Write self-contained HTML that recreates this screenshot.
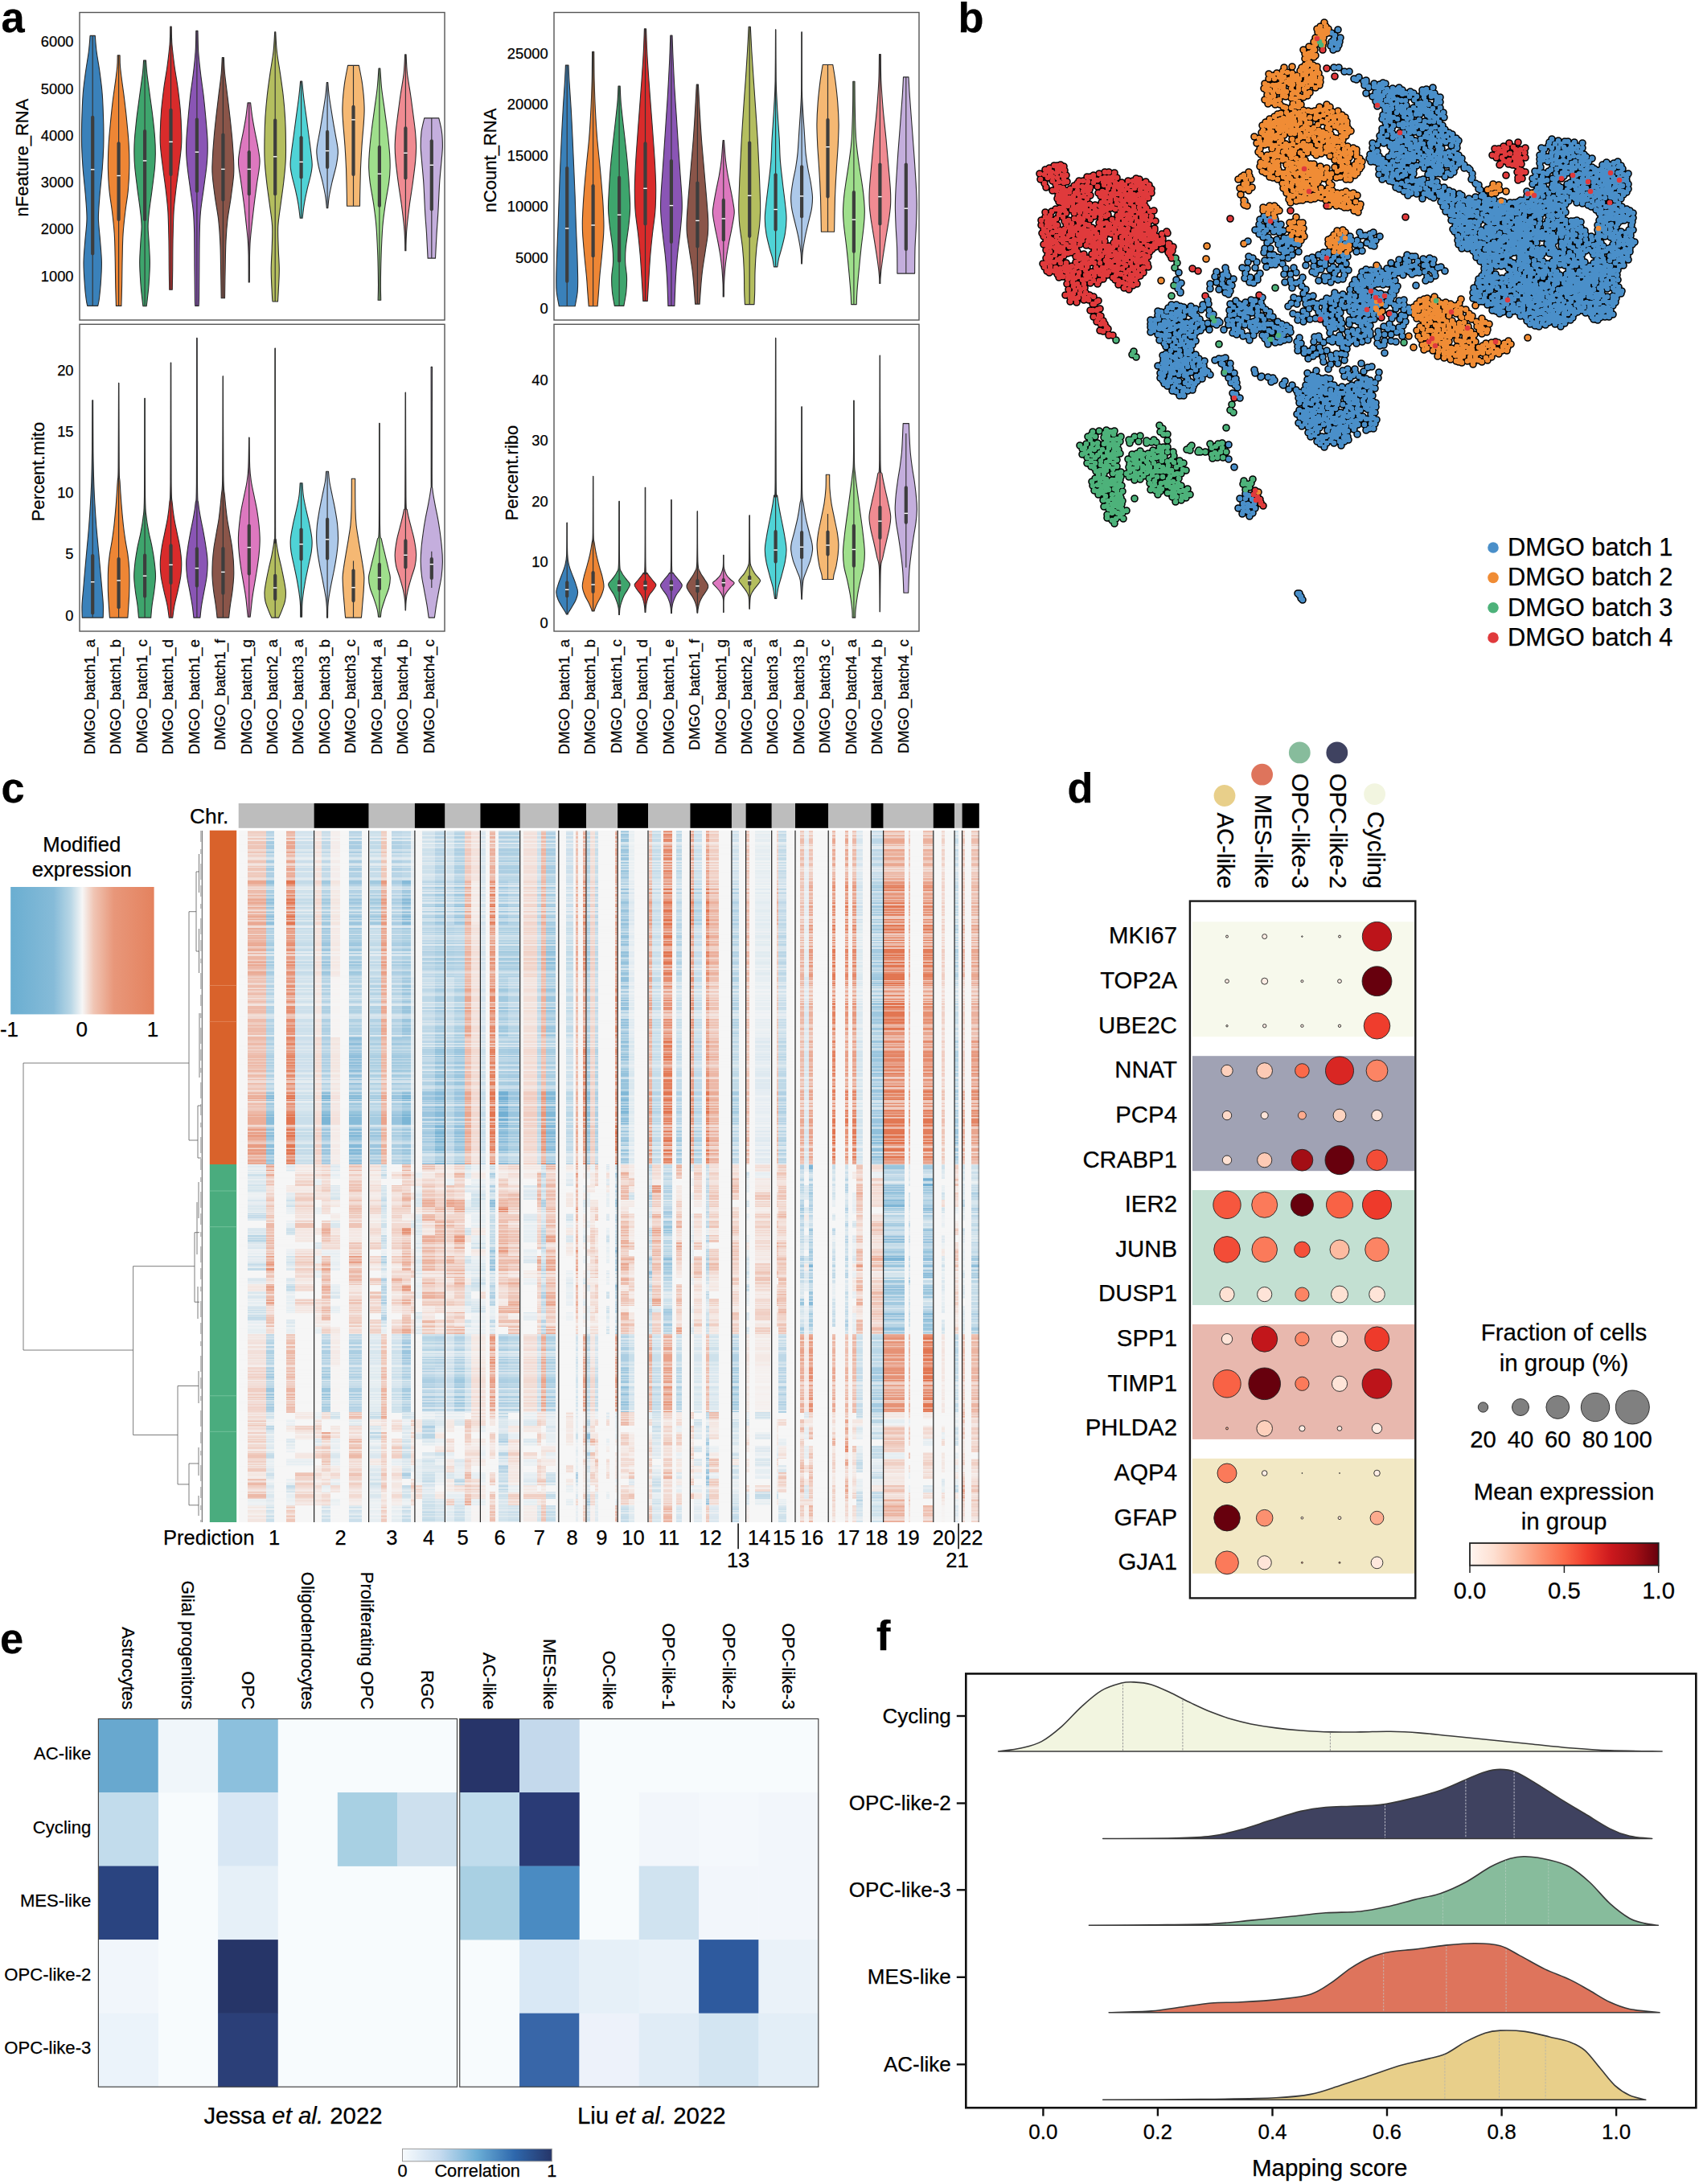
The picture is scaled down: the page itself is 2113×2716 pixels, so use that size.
<!DOCTYPE html>
<html><head><meta charset="utf-8"><title>Figure</title>
<style>
html,body{margin:0;padding:0;background:#fff;}
svg{display:block;font-family:"Liberation Sans",sans-serif;fill:#000;}
text{stroke:#000;stroke-width:.25px;}
</style></head><body>
<svg width="2113" height="2716" viewBox="0 0 2113 2716">
<rect width="2113" height="2716" fill="#fff"/>
<g id="panel_a"><rect x="99.0" y="15.5" width="454.0" height="382.5" fill="#fff" stroke="#555" stroke-width="1.4"/>
<path d="M112.1 44.4C111.8 47.7 111.3 56.4 110.3 64.3C109.3 72.1 107.4 82.3 106.2 91.4C105.0 100.4 103.8 108.0 103.1 118.5C102.3 129.1 101.9 144.1 101.6 154.7C101.4 165.2 101.4 172.8 101.6 181.8C101.9 190.9 102.3 198.4 103.1 209.0C103.9 219.5 105.7 234.6 106.5 245.1C107.3 255.7 108.1 263.2 108.0 272.3C107.9 281.3 106.5 290.3 105.8 299.4C105.1 308.4 104.1 317.5 104.0 326.5C103.9 335.6 104.8 346.1 105.3 353.6C105.8 361.2 106.5 367.3 107.1 371.7C107.6 376.2 108.4 379.0 108.7 380.4L121.7 380.4C122.0 379.0 122.8 376.2 123.4 371.7C123.9 367.3 124.6 361.2 125.2 353.6C125.7 346.1 126.5 335.6 126.4 326.5C126.3 317.5 125.3 308.4 124.6 299.4C124.0 290.3 122.6 281.3 122.4 272.3C122.3 263.2 123.1 255.7 123.9 245.1C124.7 234.6 126.5 219.5 127.3 209.0C128.1 198.4 128.5 190.9 128.8 181.8C129.0 172.8 129.0 165.2 128.8 154.7C128.5 144.1 128.1 129.1 127.3 118.5C126.6 108.0 125.5 100.4 124.3 91.4C123.1 82.3 121.1 72.1 120.1 64.3C119.1 56.4 118.6 47.7 118.3 44.4Z" fill="#3a81ba" stroke="#2a2a2a" stroke-width="1.1" stroke-linejoin="round"/><line x1="115.2" y1="44.4" x2="115.2" y2="380.4" stroke="#333" stroke-width="1.15"/><line x1="115.2" y1="145.8" x2="115.2" y2="315.5" stroke="#3d3d3d" stroke-width="4.2" stroke-linecap="round"/><rect x="112.9" y="210.1" width="4.6" height="1.4" fill="#fff"/>
<path d="M146.2 68.8C146.1 71.0 146.3 77.1 145.8 82.3C145.4 87.6 144.6 92.9 143.7 100.4C142.7 108.0 141.1 118.5 140.0 127.6C139.0 136.6 138.0 145.6 137.2 154.7C136.3 163.7 135.4 172.8 135.0 181.8C134.5 190.9 134.3 199.9 134.4 209.0C134.6 218.0 135.0 227.0 135.9 236.1C136.7 245.1 138.4 254.2 139.5 263.2C140.6 272.3 141.6 281.3 142.2 290.3C142.8 299.4 142.9 306.9 143.1 317.5C143.4 328.0 143.5 343.2 143.7 353.6C143.9 364.1 144.3 375.9 144.4 380.4L150.9 380.4C151.0 375.9 151.4 364.1 151.6 353.6C151.8 343.2 151.9 328.0 152.2 317.5C152.4 306.9 152.5 299.4 153.1 290.3C153.7 281.3 154.7 272.3 155.8 263.2C156.8 254.2 158.6 245.1 159.4 236.1C160.2 227.0 160.7 218.0 160.8 209.0C161.0 199.9 160.8 190.9 160.3 181.8C159.9 172.8 159.0 163.7 158.1 154.7C157.3 145.6 156.3 136.6 155.2 127.6C154.2 118.5 152.6 108.0 151.6 100.4C150.7 92.9 149.9 87.6 149.5 82.3C149.0 77.1 149.2 71.0 149.1 68.8Z" fill="#ee8635" stroke="#2a2a2a" stroke-width="1.1" stroke-linejoin="round"/><line x1="147.6" y1="68.8" x2="147.6" y2="380.4" stroke="#333" stroke-width="1.15"/><line x1="147.6" y1="178.4" x2="147.6" y2="273.0" stroke="#3d3d3d" stroke-width="4.2" stroke-linecap="round"/><rect x="145.3" y="217.8" width="4.6" height="1.4" fill="#fff"/>
<path d="M178.6 75.1C178.4 77.8 178.2 84.2 177.4 91.4C176.5 98.6 174.9 109.5 173.7 118.5C172.5 127.6 171.2 136.6 170.1 145.6C169.1 154.7 168.0 165.2 167.4 172.8C166.9 180.3 166.8 184.8 166.9 190.9C166.9 196.9 167.1 201.4 167.8 209.0C168.5 216.5 169.9 227.0 171.0 236.1C172.2 245.1 173.8 255.7 174.6 263.2C175.5 270.7 176.0 275.3 176.1 281.3C176.2 287.3 175.4 291.8 175.0 299.4C174.6 306.9 173.7 317.5 173.7 326.5C173.7 335.6 174.5 346.1 175.0 353.6C175.5 361.2 176.3 367.2 176.8 371.7C177.3 376.3 177.7 379.3 177.9 380.8L182.2 380.8C182.4 379.3 182.8 376.3 183.3 371.7C183.8 367.2 184.6 361.2 185.1 353.6C185.6 346.1 186.4 335.6 186.4 326.5C186.4 317.5 185.5 306.9 185.1 299.4C184.7 291.8 184.0 287.3 184.1 281.3C184.1 275.3 184.7 270.7 185.5 263.2C186.3 255.7 188.0 245.1 189.1 236.1C190.3 227.0 191.7 216.5 192.4 209.0C193.1 201.4 193.2 196.9 193.3 190.9C193.3 184.8 193.3 180.3 192.7 172.8C192.2 165.2 191.1 154.7 190.0 145.6C189.0 136.6 187.6 127.6 186.4 118.5C185.2 109.5 183.6 98.6 182.8 91.4C182.0 84.2 181.7 77.8 181.5 75.1Z" fill="#3ea56d" stroke="#2a2a2a" stroke-width="1.1" stroke-linejoin="round"/><line x1="180.1" y1="75.1" x2="180.1" y2="380.8" stroke="#333" stroke-width="1.15"/><line x1="180.1" y1="163.0" x2="180.1" y2="273.0" stroke="#3d3d3d" stroke-width="4.2" stroke-linecap="round"/><rect x="177.8" y="199.2" width="4.6" height="1.4" fill="#fff"/>
<path d="M211.8 33.0C211.7 36.7 211.7 47.0 211.1 55.2C210.4 63.4 209.2 73.3 208.0 82.3C206.8 91.4 205.0 100.4 203.8 109.5C202.6 118.5 201.5 127.6 200.7 136.6C200.0 145.6 199.5 156.2 199.3 163.7C199.1 171.3 198.9 174.3 199.5 181.8C200.0 189.4 201.4 199.9 202.6 209.0C203.7 218.0 205.1 227.0 206.2 236.1C207.2 245.1 208.2 252.7 208.9 263.2C209.5 273.8 209.7 287.3 210.0 299.4C210.2 311.4 210.2 325.4 210.3 335.6C210.5 345.7 210.6 356.2 210.7 360.3L214.3 360.3C214.4 356.2 214.5 345.7 214.7 335.6C214.8 325.4 214.8 311.4 215.0 299.4C215.3 287.3 215.5 273.8 216.1 263.2C216.8 252.7 217.8 245.1 218.8 236.1C219.9 227.0 221.3 218.0 222.4 209.0C223.6 199.9 225.0 189.4 225.5 181.8C226.1 174.3 225.9 171.3 225.7 163.7C225.5 156.2 225.0 145.6 224.3 136.6C223.5 127.6 222.4 118.5 221.2 109.5C220.0 100.4 218.2 91.4 217.0 82.3C215.8 73.3 214.6 63.4 213.9 55.2C213.3 47.0 213.3 36.7 213.2 33.0Z" fill="#d92b2b" stroke="#2a2a2a" stroke-width="1.1" stroke-linejoin="round"/><line x1="212.5" y1="33.0" x2="212.5" y2="360.3" stroke="#333" stroke-width="1.15"/><line x1="212.5" y1="136.8" x2="212.5" y2="216.9" stroke="#3d3d3d" stroke-width="4.2" stroke-linecap="round"/><rect x="210.2" y="175.7" width="4.6" height="1.4" fill="#fff"/>
<path d="M243.8 38.4C243.7 42.7 243.7 55.4 243.1 64.3C242.5 73.1 241.5 82.3 240.4 91.4C239.4 100.4 237.8 109.5 236.8 118.5C235.7 127.6 234.9 136.6 234.1 145.6C233.3 154.7 232.3 165.2 231.9 172.8C231.5 180.3 231.5 184.8 231.7 190.9C231.9 196.9 232.3 201.4 233.2 209.0C234.0 216.5 235.6 227.0 236.8 236.1C238.0 245.1 239.6 254.2 240.4 263.2C241.2 272.3 241.4 278.3 241.7 290.3C241.9 302.4 241.9 322.0 242.0 335.6C242.2 349.1 242.3 364.3 242.4 371.7C242.5 379.2 242.7 379.0 242.8 380.4L247.1 380.4C247.2 379.0 247.3 379.2 247.5 371.7C247.6 364.3 247.7 349.1 247.8 335.6C247.9 322.0 247.9 302.4 248.2 290.3C248.5 278.3 248.6 272.3 249.5 263.2C250.3 254.2 251.9 245.1 253.1 236.1C254.3 227.0 255.8 216.5 256.7 209.0C257.5 201.4 257.9 196.9 258.1 190.9C258.3 184.8 258.3 180.3 258.0 172.8C257.6 165.2 256.6 154.7 255.8 145.6C255.0 136.6 254.1 127.6 253.1 118.5C252.0 109.5 250.5 100.4 249.5 91.4C248.4 82.3 247.3 73.1 246.7 64.3C246.2 55.4 246.1 42.7 246.0 38.4Z" fill="#8a55b5" stroke="#2a2a2a" stroke-width="1.1" stroke-linejoin="round"/><line x1="244.9" y1="38.4" x2="244.9" y2="380.4" stroke="#333" stroke-width="1.15"/><line x1="244.9" y1="148.6" x2="244.9" y2="237.7" stroke="#3d3d3d" stroke-width="4.2" stroke-linecap="round"/><rect x="242.6" y="188.4" width="4.6" height="1.4" fill="#fff"/>
<path d="M276.3 71.5C276.1 74.8 275.9 83.6 275.2 91.4C274.5 99.2 273.0 109.5 271.9 118.5C270.8 127.6 269.7 136.6 268.7 145.6C267.7 154.7 266.7 163.7 266.0 172.8C265.2 181.8 264.5 192.4 264.2 199.9C263.9 207.4 263.6 210.5 264.2 218.0C264.7 225.5 266.2 236.1 267.4 245.1C268.6 254.2 270.5 263.2 271.6 272.3C272.6 281.3 273.2 288.8 273.7 299.4C274.3 309.9 274.4 323.6 274.6 335.6C274.9 347.5 275.1 364.9 275.2 370.8L279.5 370.8C279.6 364.9 279.8 347.5 280.1 335.6C280.3 323.6 280.5 309.9 281.0 299.4C281.5 288.8 282.1 281.3 283.1 272.3C284.2 263.2 286.1 254.2 287.3 245.1C288.5 236.1 290.0 225.5 290.6 218.0C291.1 210.5 290.9 207.4 290.6 199.9C290.3 192.4 289.5 181.8 288.8 172.8C288.0 163.7 287.0 154.7 286.0 145.6C285.0 136.6 283.9 127.6 282.8 118.5C281.7 109.5 280.3 99.2 279.5 91.4C278.8 83.6 278.6 74.8 278.4 71.5Z" fill="#8a5549" stroke="#2a2a2a" stroke-width="1.1" stroke-linejoin="round"/><line x1="277.4" y1="71.5" x2="277.4" y2="370.8" stroke="#333" stroke-width="1.15"/><line x1="277.4" y1="167.5" x2="277.4" y2="248.5" stroke="#3d3d3d" stroke-width="4.2" stroke-linecap="round"/><rect x="275.1" y="209.7" width="4.6" height="1.4" fill="#fff"/>
<path d="M308.0 127.9C307.6 130.9 306.7 139.7 305.8 145.6C304.9 151.6 303.7 157.7 302.6 163.7C301.4 169.8 299.9 176.1 298.9 181.8C297.9 187.5 296.9 193.6 296.6 198.1C296.3 202.6 296.6 204.1 297.1 209.0C297.7 213.8 298.8 219.5 299.8 227.0C300.9 234.6 302.3 245.1 303.5 254.2C304.6 263.2 305.7 273.8 306.5 281.3C307.3 288.8 307.9 293.4 308.3 299.4C308.8 305.4 308.9 308.9 309.1 317.5C309.2 326.1 309.2 345.4 309.2 350.9L310.3 350.9C310.4 345.4 310.4 326.1 310.5 317.5C310.7 308.9 310.8 305.4 311.2 299.4C311.7 293.4 312.2 288.8 313.0 281.3C313.9 273.8 315.0 263.2 316.1 254.2C317.2 245.1 318.7 234.6 319.7 227.0C320.8 219.5 321.9 213.8 322.4 209.0C323.0 204.1 323.3 202.6 323.0 198.1C322.7 193.6 321.6 187.5 320.6 181.8C319.6 176.1 318.2 169.8 317.0 163.7C315.9 157.7 314.7 151.6 313.8 145.6C312.9 139.7 312.0 130.9 311.6 127.9Z" fill="#dd78bf" stroke="#2a2a2a" stroke-width="1.1" stroke-linejoin="round"/><line x1="309.8" y1="127.9" x2="309.8" y2="350.9" stroke="#333" stroke-width="1.15"/><line x1="309.8" y1="189.2" x2="309.8" y2="241.3" stroke="#3d3d3d" stroke-width="4.2" stroke-linecap="round"/><rect x="307.5" y="209.7" width="4.6" height="1.4" fill="#fff"/>
<path d="M341.7 39.8C341.4 43.9 341.0 55.7 340.0 64.3C339.1 72.9 337.2 82.3 335.9 91.4C334.6 100.4 333.3 109.5 332.3 118.5C331.3 127.6 330.5 136.6 329.9 145.6C329.4 154.7 329.1 163.7 329.0 172.8C328.9 181.8 328.7 190.9 329.2 199.9C329.6 209.0 330.7 218.0 331.7 227.0C332.7 236.1 334.2 245.1 335.3 254.2C336.5 263.2 338.1 272.3 338.6 281.3C339.1 290.3 338.5 299.4 338.2 308.4C338.0 317.5 337.2 326.5 337.2 335.6C337.2 344.6 337.9 356.1 338.2 362.7C338.5 369.3 338.8 372.9 339.0 375.0L345.5 375.0C345.6 372.9 345.9 369.3 346.2 362.7C346.5 356.1 347.3 344.6 347.3 335.6C347.3 326.5 346.4 317.5 346.2 308.4C346.0 299.4 345.3 290.3 345.8 281.3C346.3 272.3 347.9 263.2 349.1 254.2C350.2 245.1 351.7 236.1 352.7 227.0C353.7 218.0 354.8 209.0 355.2 199.9C355.7 190.9 355.5 181.8 355.4 172.8C355.3 163.7 355.1 154.7 354.5 145.6C354.0 136.6 353.2 127.6 352.2 118.5C351.2 109.5 349.8 100.4 348.5 91.4C347.2 82.3 345.3 72.9 344.4 64.3C343.4 55.7 343.0 43.9 342.8 39.8Z" fill="#b4be5f" stroke="#2a2a2a" stroke-width="1.1" stroke-linejoin="round"/><line x1="342.2" y1="39.8" x2="342.2" y2="375.0" stroke="#333" stroke-width="1.15"/><line x1="342.2" y1="149.5" x2="342.2" y2="241.3" stroke="#3d3d3d" stroke-width="4.2" stroke-linecap="round"/><rect x="339.9" y="194.1" width="4.6" height="1.4" fill="#fff"/>
<path d="M373.6 101.0C373.3 103.9 372.8 111.1 371.9 118.5C371.1 126.0 369.5 136.6 368.3 145.6C367.1 154.7 365.7 165.2 364.7 172.8C363.7 180.3 362.9 185.4 362.3 190.9C361.7 196.3 361.0 200.8 361.1 205.3C361.2 209.9 361.8 212.9 362.9 218.0C363.9 223.1 366.1 230.1 367.4 236.1C368.8 242.1 370.1 248.3 371.0 254.2C372.0 260.0 372.8 268.5 373.2 271.3L376.1 271.3C376.5 268.5 377.3 260.0 378.3 254.2C379.2 248.3 380.5 242.1 381.9 236.1C383.2 230.1 385.3 223.1 386.4 218.0C387.5 212.9 388.1 209.9 388.2 205.3C388.3 200.8 387.5 196.3 386.9 190.9C386.3 185.4 385.6 180.3 384.6 172.8C383.6 165.2 382.2 154.7 381.0 145.6C379.8 136.6 378.2 126.0 377.4 118.5C376.5 111.1 376.0 103.9 375.7 101.0Z" fill="#4fd3d6" stroke="#2a2a2a" stroke-width="1.1" stroke-linejoin="round"/><line x1="374.6" y1="101.0" x2="374.6" y2="271.3" stroke="#333" stroke-width="1.15"/><line x1="374.6" y1="171.2" x2="374.6" y2="220.5" stroke="#3d3d3d" stroke-width="4.2" stroke-linecap="round"/><rect x="372.3" y="200.7" width="4.6" height="1.4" fill="#fff"/>
<path d="M406.3 102.6C406.1 105.3 405.8 111.3 404.9 118.5C404.0 125.7 401.9 138.1 400.7 145.6C399.5 153.2 398.7 157.7 397.7 163.7C396.6 169.8 395.0 177.3 394.4 181.8C393.8 186.3 393.6 186.9 393.9 190.9C394.1 194.8 394.6 199.3 395.9 205.3C397.1 211.4 399.8 220.4 401.3 227.0C402.8 233.7 404.1 239.8 404.9 245.1C405.7 250.4 406.1 256.4 406.3 258.7L407.8 258.7C408.0 256.4 408.4 250.4 409.2 245.1C410.1 239.8 411.4 233.7 412.9 227.0C414.4 220.4 417.0 211.4 418.3 205.3C419.5 199.3 420.0 194.8 420.3 190.9C420.5 186.9 420.4 186.3 419.7 181.8C419.1 177.3 417.5 169.8 416.5 163.7C415.4 157.7 414.6 153.2 413.4 145.6C412.2 138.1 410.2 125.7 409.2 118.5C408.3 111.3 408.0 105.3 407.8 102.6Z" fill="#adc9ea" stroke="#2a2a2a" stroke-width="1.1" stroke-linejoin="round"/><line x1="407.1" y1="102.6" x2="407.1" y2="258.7" stroke="#333" stroke-width="1.15"/><line x1="407.1" y1="163.9" x2="407.1" y2="207.9" stroke="#3d3d3d" stroke-width="4.2" stroke-linecap="round"/><rect x="404.8" y="186.9" width="4.6" height="1.4" fill="#fff"/>
<path d="M432.6 81.4C432.0 84.6 430.0 94.3 429.0 100.4C428.0 106.6 427.4 112.5 426.8 118.5C426.3 124.5 425.9 130.6 425.9 136.6C425.9 142.6 426.3 147.2 426.8 154.7C427.4 162.2 428.4 172.8 429.0 181.8C429.6 190.9 430.1 199.9 430.5 209.0C430.8 218.0 431.0 228.2 431.2 236.1C431.4 244.0 431.5 253.0 431.5 256.3L447.5 256.3C447.5 253.0 447.6 244.0 447.8 236.1C448.0 228.2 448.2 218.0 448.5 209.0C448.9 199.9 449.4 190.9 450.0 181.8C450.6 172.8 451.6 162.2 452.2 154.7C452.7 147.2 453.1 142.6 453.1 136.6C453.1 130.6 452.7 124.5 452.2 118.5C451.6 112.5 451.0 106.6 450.0 100.4C449.0 94.3 447.0 84.6 446.4 81.4Z" fill="#f5b873" stroke="#2a2a2a" stroke-width="1.1" stroke-linejoin="round"/><line x1="439.5" y1="81.4" x2="439.5" y2="256.3" stroke="#333" stroke-width="1.15"/><line x1="439.5" y1="132.8" x2="439.5" y2="216.9" stroke="#3d3d3d" stroke-width="4.2" stroke-linecap="round"/><rect x="437.2" y="148.2" width="4.6" height="1.4" fill="#fff"/>
<path d="M471.0 85.1C470.7 89.1 470.1 100.9 469.2 109.5C468.3 118.1 466.8 127.6 465.6 136.6C464.4 145.6 463.0 154.7 462.0 163.7C460.9 172.8 459.8 183.3 459.3 190.9C458.7 198.4 458.6 202.9 458.7 209.0C458.9 215.0 459.2 219.5 460.2 227.0C461.2 234.6 463.4 245.1 464.7 254.2C466.0 263.2 467.1 270.7 467.9 281.3C468.8 291.8 469.3 305.4 469.8 317.5C470.2 329.5 470.4 344.4 470.5 353.6C470.5 362.9 470.2 369.9 470.1 373.2L473.7 373.2C473.7 369.9 473.3 362.9 473.4 353.6C473.4 344.4 473.7 329.5 474.1 317.5C474.5 305.4 475.1 291.8 475.9 281.3C476.8 270.7 477.9 263.2 479.2 254.2C480.5 245.1 482.7 234.6 483.7 227.0C484.7 219.5 485.0 215.0 485.1 209.0C485.3 202.9 485.1 198.4 484.6 190.9C484.0 183.3 482.9 172.8 481.9 163.7C480.8 154.7 479.5 145.6 478.3 136.6C477.1 127.6 475.5 118.1 474.6 109.5C473.7 100.9 473.1 89.1 472.8 85.1Z" fill="#9fdf8c" stroke="#2a2a2a" stroke-width="1.1" stroke-linejoin="round"/><line x1="471.9" y1="85.1" x2="471.9" y2="373.2" stroke="#333" stroke-width="1.15"/><line x1="471.9" y1="182.9" x2="471.9" y2="255.8" stroke="#3d3d3d" stroke-width="4.2" stroke-linecap="round"/><rect x="469.6" y="215.5" width="4.6" height="1.4" fill="#fff"/>
<path d="M503.6 67.9C503.4 71.8 503.1 82.9 502.2 91.4C501.3 99.8 499.3 109.5 498.0 118.5C496.7 127.6 495.4 138.1 494.4 145.6C493.4 153.2 492.8 157.7 492.2 163.7C491.7 169.8 491.2 175.8 491.2 181.8C491.1 187.9 491.4 192.4 492.1 199.9C492.8 207.4 494.1 218.0 495.3 227.0C496.5 236.1 498.1 245.1 499.3 254.2C500.5 263.2 501.8 273.8 502.5 281.3C503.3 288.8 503.4 294.3 503.6 299.4C503.8 304.4 503.8 309.6 503.8 311.7L504.9 311.7C504.9 309.6 504.9 304.4 505.1 299.4C505.3 294.3 505.4 288.8 506.2 281.3C506.9 273.8 508.2 263.2 509.4 254.2C510.6 245.1 512.2 236.1 513.4 227.0C514.6 218.0 516.0 207.4 516.7 199.9C517.3 192.4 517.6 187.9 517.6 181.8C517.5 175.8 517.0 169.8 516.5 163.7C515.9 157.7 515.3 153.2 514.3 145.6C513.3 138.1 512.0 127.6 510.7 118.5C509.4 109.5 507.5 99.8 506.5 91.4C505.6 82.9 505.3 71.8 505.1 67.9Z" fill="#f08b92" stroke="#2a2a2a" stroke-width="1.1" stroke-linejoin="round"/><line x1="504.4" y1="67.9" x2="504.4" y2="311.7" stroke="#333" stroke-width="1.15"/><line x1="504.4" y1="159.4" x2="504.4" y2="221.4" stroke="#3d3d3d" stroke-width="4.2" stroke-linecap="round"/><rect x="502.1" y="189.6" width="4.6" height="1.4" fill="#fff"/>
<path d="M527.7 146.9C527.1 149.7 524.9 157.9 524.1 163.7C523.4 169.6 523.2 175.8 523.2 181.8C523.3 187.9 523.9 192.4 524.5 199.9C525.1 207.4 526.1 216.5 526.8 227.0C527.5 237.6 528.0 252.7 528.6 263.2C529.2 273.8 529.9 280.7 530.5 290.3C531.0 300.0 531.8 316.0 532.1 321.1L541.5 321.1C541.8 316.0 542.5 300.0 543.1 290.3C543.7 280.7 544.3 273.8 544.9 263.2C545.5 252.7 546.0 237.6 546.7 227.0C547.4 216.5 548.5 207.4 549.1 199.9C549.7 192.4 550.3 187.9 550.4 181.8C550.4 175.8 550.2 169.6 549.4 163.7C548.7 157.9 546.4 149.7 545.8 146.9Z" fill="#c4aedd" stroke="#2a2a2a" stroke-width="1.1" stroke-linejoin="round"/><line x1="536.8" y1="146.9" x2="536.8" y2="321.1" stroke="#333" stroke-width="1.15"/><line x1="536.8" y1="175.3" x2="536.8" y2="260.3" stroke="#3d3d3d" stroke-width="4.2" stroke-linecap="round"/><rect x="534.5" y="204.6" width="4.6" height="1.4" fill="#fff"/>
<rect x="99.0" y="403.3" width="454.0" height="381.7" fill="#fff" stroke="#555" stroke-width="1.4"/>
<path d="M114.9 497.7C114.8 508.5 114.7 545.9 114.5 562.8C114.3 579.7 114.1 588.4 113.8 599.0C113.4 609.5 113.0 617.0 112.5 626.1C112.0 635.1 111.4 644.2 110.7 653.2C110.0 662.3 109.2 671.3 108.3 680.3C107.5 689.4 106.6 698.4 105.8 707.5C105.0 716.5 104.1 727.1 103.5 734.6C102.8 742.1 102.2 747.1 102.0 752.7C101.8 758.3 102.2 765.5 102.2 768.1L128.2 768.1C128.3 765.5 128.6 758.3 128.4 752.7C128.2 747.1 127.6 742.1 127.0 734.6C126.3 727.1 125.4 716.5 124.6 707.5C123.8 698.4 122.9 689.4 122.1 680.3C121.3 671.3 120.4 662.3 119.7 653.2C119.0 644.2 118.4 635.1 117.9 626.1C117.4 617.0 117.0 609.5 116.7 599.0C116.3 588.4 116.1 579.7 115.9 562.8C115.8 545.9 115.6 508.5 115.6 497.7Z" fill="#3a81ba" stroke="#2a2a2a" stroke-width="1.1" stroke-linejoin="round"/><line x1="115.2" y1="497.7" x2="115.2" y2="768.1" stroke="#333" stroke-width="1.15"/><line x1="115.2" y1="691.0" x2="115.2" y2="762.4" stroke="#3d3d3d" stroke-width="4.2" stroke-linecap="round"/><rect x="112.9" y="723.0" width="4.6" height="1.4" fill="#fff"/>
<path d="M147.5 476.3C147.4 493.7 147.3 560.4 147.1 580.9C146.9 601.3 146.6 591.4 146.2 599.0C145.7 606.5 145.1 617.0 144.4 626.1C143.7 635.1 142.7 645.7 141.9 653.2C141.0 660.7 140.4 665.3 139.5 671.3C138.6 677.3 137.2 683.4 136.4 689.4C135.6 695.4 135.0 699.9 134.6 707.5C134.3 715.0 134.3 727.1 134.4 734.6C134.6 742.1 135.0 747.1 135.3 752.7C135.7 758.3 136.2 765.5 136.4 768.1L158.9 768.1C159.0 765.5 159.6 758.3 159.9 752.7C160.3 747.1 160.7 742.1 160.8 734.6C161.0 727.1 161.0 715.0 160.7 707.5C160.3 699.9 159.7 695.4 158.9 689.4C158.0 683.4 156.7 677.3 155.8 671.3C154.9 665.3 154.2 660.7 153.4 653.2C152.6 645.7 151.6 635.1 150.9 626.1C150.2 617.0 149.5 606.5 149.1 599.0C148.6 591.4 148.4 601.3 148.2 580.9C148.0 560.4 147.9 493.7 147.8 476.3Z" fill="#ee8635" stroke="#2a2a2a" stroke-width="1.1" stroke-linejoin="round"/><line x1="147.6" y1="476.3" x2="147.6" y2="768.1" stroke="#333" stroke-width="1.15"/><line x1="147.6" y1="695.0" x2="147.6" y2="755.2" stroke="#3d3d3d" stroke-width="4.2" stroke-linecap="round"/><rect x="145.3" y="721.2" width="4.6" height="1.4" fill="#fff"/>
<path d="M179.9 495.3C179.8 515.6 179.9 592.2 179.5 617.0C179.2 641.8 178.7 636.6 177.9 644.2C177.1 651.7 176.2 656.2 175.0 662.3C173.9 668.3 172.2 674.3 171.0 680.3C169.9 686.4 168.9 692.4 168.1 698.4C167.4 704.5 166.7 710.5 166.7 716.5C166.7 722.5 167.6 728.6 168.3 734.6C169.0 740.6 170.3 747.1 171.0 752.7C171.7 758.3 172.2 765.5 172.5 768.1L187.7 768.1C187.9 765.5 188.4 758.3 189.1 752.7C189.8 747.1 191.1 740.6 191.8 734.6C192.6 728.6 193.4 722.5 193.5 716.5C193.5 710.5 192.7 704.5 192.0 698.4C191.3 692.4 190.3 686.4 189.1 680.3C188.0 674.3 186.3 668.3 185.1 662.3C184.0 656.2 183.0 651.7 182.2 644.2C181.5 636.6 180.9 641.8 180.6 617.0C180.3 592.2 180.3 515.6 180.3 495.3Z" fill="#3ea56d" stroke="#2a2a2a" stroke-width="1.1" stroke-linejoin="round"/><line x1="180.1" y1="495.3" x2="180.1" y2="768.1" stroke="#333" stroke-width="1.15"/><line x1="180.1" y1="690.5" x2="180.1" y2="741.6" stroke="#3d3d3d" stroke-width="4.2" stroke-linecap="round"/><rect x="177.8" y="715.5" width="4.6" height="1.4" fill="#fff"/>
<path d="M212.3 451.0C212.3 475.7 212.2 569.8 212.0 599.0C211.7 628.1 211.3 618.5 210.7 626.1C210.1 633.6 209.5 638.1 208.5 644.2C207.6 650.2 206.1 656.2 204.9 662.3C203.7 668.3 202.2 674.3 201.3 680.3C200.4 686.4 199.5 692.4 199.3 698.4C199.1 704.5 199.4 710.5 200.2 716.5C201.0 722.5 202.5 728.6 203.8 734.6C205.1 740.6 206.9 747.1 208.0 752.7C209.1 758.3 209.9 765.5 210.3 768.1L214.7 768.1C215.1 765.5 215.9 758.3 217.0 752.7C218.1 747.1 219.9 740.6 221.2 734.6C222.5 728.6 224.0 722.5 224.8 716.5C225.6 710.5 225.9 704.5 225.7 698.4C225.5 692.4 224.6 686.4 223.7 680.3C222.8 674.3 221.3 668.3 220.1 662.3C218.9 656.2 217.4 650.2 216.5 644.2C215.5 638.1 214.9 633.6 214.3 626.1C213.7 618.5 213.3 628.1 213.0 599.0C212.8 569.8 212.7 475.7 212.7 451.0Z" fill="#d92b2b" stroke="#2a2a2a" stroke-width="1.1" stroke-linejoin="round"/><line x1="212.5" y1="451.0" x2="212.5" y2="768.1" stroke="#333" stroke-width="1.15"/><line x1="212.5" y1="678.4" x2="212.5" y2="725.0" stroke="#3d3d3d" stroke-width="4.2" stroke-linecap="round"/><rect x="210.2" y="701.7" width="4.6" height="1.4" fill="#fff"/>
<path d="M244.7 420.4C244.7 450.2 244.7 564.7 244.4 599.0C244.1 633.2 243.8 618.5 243.1 626.1C242.5 633.6 241.5 638.1 240.4 644.2C239.4 650.2 237.9 656.2 236.8 662.3C235.7 668.3 234.6 674.3 233.7 680.3C232.9 686.4 231.9 692.4 231.7 698.4C231.5 704.5 231.9 710.5 232.6 716.5C233.3 722.5 234.8 728.6 235.9 734.6C237.0 740.6 238.3 747.1 239.1 752.7C240.0 758.3 240.6 765.5 240.9 768.1L248.9 768.1C249.2 765.5 249.9 758.3 250.7 752.7C251.6 747.1 252.9 740.6 254.0 734.6C255.1 728.6 256.5 722.5 257.2 716.5C257.9 710.5 258.3 704.5 258.1 698.4C258.0 692.4 257.0 686.4 256.1 680.3C255.3 674.3 254.2 668.3 253.1 662.3C252.0 656.2 250.5 650.2 249.5 644.2C248.4 638.1 247.4 633.6 246.7 626.1C246.1 618.5 245.7 633.2 245.5 599.0C245.2 564.7 245.2 450.2 245.1 420.4Z" fill="#8a55b5" stroke="#2a2a2a" stroke-width="1.1" stroke-linejoin="round"/><line x1="244.9" y1="420.4" x2="244.9" y2="768.1" stroke="#333" stroke-width="1.15"/><line x1="244.9" y1="682.3" x2="244.9" y2="728.6" stroke="#3d3d3d" stroke-width="4.2" stroke-linecap="round"/><rect x="242.6" y="705.9" width="4.6" height="1.4" fill="#fff"/>
<path d="M277.2 467.8C277.1 488.2 277.1 565.0 276.8 589.9C276.5 614.8 275.9 608.0 275.2 617.0C274.4 626.1 273.3 636.6 272.3 644.2C271.3 651.7 270.2 656.2 269.2 662.3C268.2 668.3 267.0 674.3 266.1 680.3C265.3 686.4 264.7 692.4 264.3 698.4C264.0 704.5 263.8 710.5 264.0 716.5C264.2 722.5 264.9 728.6 265.6 734.6C266.3 740.6 267.6 747.1 268.3 752.7C269.1 758.3 269.8 765.5 270.1 768.1L284.6 768.1C284.9 765.5 285.6 758.3 286.4 752.7C287.2 747.1 288.4 740.6 289.1 734.6C289.8 728.6 290.5 722.5 290.7 716.5C291.0 710.5 290.7 704.5 290.4 698.4C290.0 692.4 289.4 686.4 288.6 680.3C287.8 674.3 286.5 668.3 285.5 662.3C284.5 656.2 283.4 651.7 282.4 644.2C281.4 636.6 280.3 626.1 279.5 617.0C278.8 608.0 278.2 614.8 277.9 589.9C277.6 565.0 277.6 488.2 277.5 467.8Z" fill="#8a5549" stroke="#2a2a2a" stroke-width="1.1" stroke-linejoin="round"/><line x1="277.4" y1="467.8" x2="277.4" y2="768.1" stroke="#333" stroke-width="1.15"/><line x1="277.4" y1="682.0" x2="277.4" y2="737.7" stroke="#3d3d3d" stroke-width="4.2" stroke-linecap="round"/><rect x="275.1" y="710.7" width="4.6" height="1.4" fill="#fff"/>
<path d="M309.6 544.1C309.5 550.3 309.3 571.7 308.9 580.9C308.5 590.0 308.0 592.9 307.1 599.0C306.2 605.0 304.7 611.0 303.5 617.0C302.2 623.1 300.8 629.1 299.8 635.1C298.8 641.2 298.1 647.2 297.5 653.2C296.9 659.2 296.4 665.3 296.4 671.3C296.4 677.3 296.9 683.4 297.5 689.4C298.1 695.4 298.9 701.4 299.8 707.5C300.7 713.5 301.9 719.5 302.9 725.6C303.9 731.6 304.9 736.7 305.8 743.6C306.7 750.6 307.9 763.2 308.3 767.2L311.2 767.2C311.7 763.2 312.9 750.6 313.8 743.6C314.7 736.7 315.7 731.6 316.7 725.6C317.7 719.5 318.8 713.5 319.7 707.5C320.6 701.4 321.5 695.4 322.1 689.4C322.7 683.4 323.2 677.3 323.2 671.3C323.2 665.3 322.7 659.2 322.1 653.2C321.5 647.2 320.7 641.2 319.7 635.1C318.7 629.1 317.3 623.1 316.1 617.0C314.9 611.0 313.4 605.0 312.5 599.0C311.6 592.9 311.1 590.0 310.7 580.9C310.3 571.7 310.1 550.3 310.0 544.1Z" fill="#dd78bf" stroke="#2a2a2a" stroke-width="1.1" stroke-linejoin="round"/><line x1="309.8" y1="544.1" x2="309.8" y2="767.2" stroke="#333" stroke-width="1.15"/><line x1="309.8" y1="653.8" x2="309.8" y2="713.6" stroke="#3d3d3d" stroke-width="4.2" stroke-linecap="round"/><rect x="307.5" y="680.0" width="4.6" height="1.4" fill="#fff"/>
<path d="M342.0 433.1C342.0 469.8 342.0 613.5 341.9 653.2C341.7 692.9 341.7 665.3 341.1 671.3C340.5 677.3 339.4 683.4 338.2 689.4C337.1 695.4 335.4 701.4 334.1 707.5C332.8 713.5 331.3 720.7 330.5 725.6C329.6 730.4 329.1 732.8 329.0 736.4C328.9 740.0 329.2 743.6 329.9 747.3C330.7 750.9 332.2 754.6 333.5 758.1C334.8 761.6 337.0 766.4 337.7 768.1L346.7 768.1C347.4 766.4 349.6 761.6 350.9 758.1C352.2 754.6 353.8 750.9 354.5 747.3C355.3 743.6 355.5 740.0 355.4 736.4C355.3 732.8 354.8 730.4 354.0 725.6C353.1 720.7 351.6 713.5 350.4 707.5C349.1 701.4 347.4 695.4 346.2 689.4C345.0 683.4 343.9 677.3 343.3 671.3C342.7 665.3 342.7 692.9 342.6 653.2C342.4 613.5 342.4 469.8 342.4 433.1Z" fill="#b4be5f" stroke="#2a2a2a" stroke-width="1.1" stroke-linejoin="round"/><line x1="342.2" y1="433.1" x2="342.2" y2="768.1" stroke="#333" stroke-width="1.15"/><line x1="342.2" y1="715.8" x2="342.2" y2="744.9" stroke="#3d3d3d" stroke-width="4.2" stroke-linecap="round"/><rect x="339.9" y="730.3" width="4.6" height="1.4" fill="#fff"/>
<path d="M373.2 600.8C373.0 603.5 372.7 611.3 371.9 617.0C371.1 622.8 369.6 629.1 368.3 635.1C367.0 641.2 365.3 647.2 364.2 653.2C363.0 659.2 361.6 665.9 361.3 671.3C360.9 676.7 361.1 679.7 362.0 685.8C362.9 691.8 365.1 700.8 366.5 707.5C367.9 714.1 369.1 719.5 370.1 725.6C371.2 731.6 372.3 738.8 372.8 743.6C373.4 748.5 373.4 750.6 373.6 754.5C373.7 758.4 373.7 765.0 373.7 767.2L375.5 767.2C375.6 765.0 375.6 758.4 375.7 754.5C375.9 750.6 375.9 748.5 376.5 743.6C377.0 738.8 378.1 731.6 379.2 725.6C380.2 719.5 381.4 714.1 382.8 707.5C384.1 700.8 386.4 691.8 387.3 685.8C388.2 679.7 388.4 676.7 388.0 671.3C387.7 665.9 386.3 659.2 385.1 653.2C384.0 647.2 382.3 641.2 381.0 635.1C379.7 629.1 378.2 622.8 377.4 617.0C376.5 611.3 376.3 603.5 376.1 600.8Z" fill="#4fd3d6" stroke="#2a2a2a" stroke-width="1.1" stroke-linejoin="round"/><line x1="374.6" y1="600.8" x2="374.6" y2="767.2" stroke="#333" stroke-width="1.15"/><line x1="374.6" y1="658.5" x2="374.6" y2="695.5" stroke="#3d3d3d" stroke-width="4.2" stroke-linecap="round"/><rect x="372.3" y="676.0" width="4.6" height="1.4" fill="#fff"/>
<path d="M405.6 586.3C405.4 588.4 405.2 593.8 404.4 599.0C403.5 604.1 401.9 611.0 400.7 617.0C399.5 623.1 398.2 629.1 397.1 635.1C396.1 641.2 395.0 647.2 394.4 653.2C393.8 659.2 393.5 665.3 393.7 671.3C393.8 677.3 394.5 683.4 395.3 689.4C396.1 695.4 397.3 701.4 398.4 707.5C399.5 713.5 400.9 719.5 402.0 725.6C403.2 731.6 404.5 738.8 405.3 743.6C406.0 748.5 406.1 750.4 406.3 754.5C406.6 758.6 406.5 765.8 406.5 768.1L407.6 768.1C407.6 765.8 407.6 758.6 407.8 754.5C408.0 750.4 408.2 748.5 408.9 743.6C409.6 738.8 411.0 731.6 412.1 725.6C413.3 719.5 414.6 713.5 415.8 707.5C416.9 701.4 418.0 695.4 418.8 689.4C419.6 683.4 420.3 677.3 420.5 671.3C420.6 665.3 420.3 659.2 419.7 653.2C419.2 647.2 418.1 641.2 417.0 635.1C416.0 629.1 414.6 623.1 413.4 617.0C412.2 611.0 410.6 604.1 409.8 599.0C409.0 593.8 408.7 588.4 408.5 586.3Z" fill="#adc9ea" stroke="#2a2a2a" stroke-width="1.1" stroke-linejoin="round"/><line x1="407.1" y1="586.3" x2="407.1" y2="768.1" stroke="#333" stroke-width="1.15"/><line x1="407.1" y1="645.8" x2="407.1" y2="694.6" stroke="#3d3d3d" stroke-width="4.2" stroke-linecap="round"/><rect x="404.8" y="670.1" width="4.6" height="1.4" fill="#fff"/>
<path d="M437.3 595.3C437.3 602.0 437.2 625.5 437.0 635.1C436.7 644.8 436.5 647.2 435.9 653.2C435.2 659.2 434.1 665.3 433.2 671.3C432.2 677.3 431.1 683.4 430.1 689.4C429.1 695.4 427.9 702.6 427.2 707.5C426.5 712.3 426.2 713.8 426.1 718.3C426.1 722.8 426.5 728.9 426.8 734.6C427.2 740.3 427.8 747.1 428.3 752.7C428.7 758.3 429.3 765.5 429.6 768.1L449.4 768.1C449.7 765.5 450.3 758.3 450.7 752.7C451.2 747.1 451.8 740.3 452.2 734.6C452.5 728.9 452.9 722.8 452.9 718.3C452.8 713.8 452.5 712.3 451.8 707.5C451.1 702.6 449.9 695.4 448.9 689.4C447.9 683.4 446.8 677.3 445.8 671.3C444.9 665.3 443.8 659.2 443.1 653.2C442.5 647.2 442.3 644.8 442.0 635.1C441.8 625.5 441.7 602.0 441.7 595.3Z" fill="#f5b873" stroke="#2a2a2a" stroke-width="1.1" stroke-linejoin="round"/><line x1="439.5" y1="697.5" x2="439.5" y2="768.1" stroke="#333" stroke-width="1.15"/><line x1="439.5" y1="709.5" x2="439.5" y2="747.1" stroke="#3d3d3d" stroke-width="4.2" stroke-linecap="round"/><rect x="437.2" y="729.9" width="4.6" height="1.4" fill="#fff"/>
<path d="M471.7 526.2C471.7 547.4 471.8 629.0 471.4 653.2C471.0 677.4 470.3 665.3 469.2 671.3C468.2 677.3 466.5 683.4 465.1 689.4C463.6 695.4 461.8 702.6 460.7 707.5C459.6 712.3 458.6 714.4 458.5 718.3C458.5 722.2 459.1 726.8 460.2 731.0C461.2 735.2 463.2 739.1 464.7 743.6C466.2 748.2 468.3 754.2 469.2 758.1C470.2 762.0 470.3 765.6 470.5 767.2L473.4 767.2C473.6 765.6 473.7 762.0 474.6 758.1C475.6 754.2 477.7 748.2 479.2 743.6C480.7 739.1 482.7 735.2 483.7 731.0C484.7 726.8 485.4 722.2 485.3 718.3C485.2 714.4 484.2 712.3 483.1 707.5C482.1 702.6 480.2 695.4 478.8 689.4C477.4 683.4 475.7 677.3 474.6 671.3C473.6 665.3 472.9 677.4 472.5 653.2C472.0 629.0 472.2 547.4 472.1 526.2Z" fill="#9fdf8c" stroke="#2a2a2a" stroke-width="1.1" stroke-linejoin="round"/><line x1="471.9" y1="526.2" x2="471.9" y2="767.2" stroke="#333" stroke-width="1.15"/><line x1="471.9" y1="701.9" x2="471.9" y2="732.2" stroke="#3d3d3d" stroke-width="4.2" stroke-linecap="round"/><rect x="469.6" y="717.6" width="4.6" height="1.4" fill="#fff"/>
<path d="M504.2 488.1C504.1 509.6 504.1 592.5 503.8 617.0C503.5 641.5 503.2 629.1 502.2 635.1C501.2 641.2 499.5 647.2 498.0 653.2C496.6 659.2 494.7 665.3 493.5 671.3C492.4 677.3 491.3 684.0 491.2 689.4C491.0 694.8 491.6 699.0 492.6 703.9C493.6 708.7 495.6 713.2 497.1 718.3C498.6 723.4 500.6 729.8 501.6 734.6C502.7 739.4 503.2 743.2 503.6 747.3C504.1 751.3 504.1 757.1 504.2 759.0L504.5 759.0C504.6 757.1 504.7 751.3 505.1 747.3C505.5 743.2 506.0 739.4 507.1 734.6C508.2 729.8 510.1 723.4 511.6 718.3C513.1 713.2 515.1 708.7 516.1 703.9C517.1 699.0 517.7 694.8 517.6 689.4C517.4 684.0 516.4 677.3 515.2 671.3C514.1 665.3 512.1 659.2 510.7 653.2C509.2 647.2 507.5 641.2 506.5 635.1C505.6 629.1 505.2 641.5 504.9 617.0C504.6 592.5 504.6 509.6 504.5 488.1Z" fill="#f08b92" stroke="#2a2a2a" stroke-width="1.1" stroke-linejoin="round"/><line x1="504.4" y1="488.1" x2="504.4" y2="759.0" stroke="#333" stroke-width="1.15"/><line x1="504.4" y1="672.4" x2="504.4" y2="705.5" stroke="#3d3d3d" stroke-width="4.2" stroke-linecap="round"/><rect x="502.1" y="689.6" width="4.6" height="1.4" fill="#fff"/>
<path d="M536.1 456.4C536.1 478.7 536.3 564.6 536.2 589.9C536.2 615.2 536.3 602.0 535.7 608.0C535.1 614.0 533.9 620.1 532.8 626.1C531.7 632.1 530.3 638.1 529.2 644.2C528.1 650.2 527.1 656.2 526.3 662.3C525.5 668.3 524.6 674.3 524.1 680.3C523.6 686.4 523.2 692.4 523.2 698.4C523.3 704.5 523.7 710.5 524.5 716.5C525.2 722.5 526.7 728.6 527.7 734.6C528.8 740.6 530.1 747.1 531.0 752.7C531.9 758.3 532.8 765.5 533.2 768.1L540.4 768.1C540.8 765.5 541.7 758.3 542.6 752.7C543.5 747.1 544.7 740.6 545.8 734.6C546.9 728.6 548.3 722.5 549.1 716.5C549.8 710.5 550.3 704.5 550.4 698.4C550.4 692.4 550.0 686.4 549.4 680.3C548.9 674.3 548.1 668.3 547.3 662.3C546.4 656.2 545.5 650.2 544.4 644.2C543.3 638.1 541.8 632.1 540.8 626.1C539.7 620.1 538.4 614.0 537.9 608.0C537.3 602.0 537.4 615.2 537.3 589.9C537.3 564.6 537.5 478.7 537.5 456.4Z" fill="#c4aedd" stroke="#2a2a2a" stroke-width="1.1" stroke-linejoin="round"/><line x1="536.8" y1="685.8" x2="536.8" y2="731.0" stroke="#333" stroke-width="1.15"/><line x1="536.8" y1="695.0" x2="536.8" y2="719.0" stroke="#3d3d3d" stroke-width="4.2" stroke-linecap="round"/><rect x="534.5" y="701.0" width="4.6" height="1.4" fill="#fff"/>
<rect x="689.0" y="15.5" width="454.0" height="382.5" fill="#fff" stroke="#555" stroke-width="1.4"/>
<path d="M703.4 81.1C703.3 84.3 703.0 91.2 702.5 100.4C702.0 109.7 700.8 124.5 700.2 136.6C699.5 148.7 698.9 160.7 698.3 172.8C697.8 184.8 697.2 196.9 696.7 209.0C696.2 221.0 695.7 233.1 695.3 245.1C694.8 257.2 694.5 269.2 694.0 281.3C693.5 293.4 692.9 306.9 692.6 317.5C692.2 328.0 691.9 337.1 691.8 344.6C691.8 352.1 691.6 356.7 692.2 362.7C692.8 368.7 694.8 377.8 695.3 380.8L715.2 380.8C715.7 377.8 717.7 368.7 718.2 362.7C718.8 356.7 718.7 352.1 718.6 344.6C718.5 337.1 718.2 328.0 717.9 317.5C717.5 306.9 716.9 293.4 716.4 281.3C716.0 269.2 715.6 257.2 715.2 245.1C714.7 233.1 714.2 221.0 713.7 209.0C713.2 196.9 712.7 184.8 712.1 172.8C711.5 160.7 711.0 148.7 710.3 136.6C709.6 124.5 708.5 109.7 707.9 100.4C707.4 91.2 707.2 84.3 707.0 81.1Z" fill="#3a81ba" stroke="#2a2a2a" stroke-width="1.1" stroke-linejoin="round"/><line x1="705.2" y1="81.1" x2="705.2" y2="380.8" stroke="#333" stroke-width="1.15"/><line x1="705.2" y1="209.1" x2="705.2" y2="349.8" stroke="#3d3d3d" stroke-width="4.2" stroke-linecap="round"/><rect x="702.9" y="283.3" width="4.6" height="1.4" fill="#fff"/>
<path d="M736.6 64.3C736.5 70.3 736.5 88.4 736.2 100.4C735.9 112.5 735.5 124.5 734.9 136.6C734.3 148.7 733.6 160.7 732.6 172.8C731.6 184.8 730.1 196.9 729.0 209.0C727.8 221.0 726.6 234.6 725.9 245.1C725.1 255.7 724.7 264.7 724.4 272.3C724.2 279.8 724.2 282.8 724.6 290.3C725.0 297.9 726.0 308.4 726.8 317.5C727.6 326.5 728.8 337.1 729.5 344.6C730.2 352.1 730.3 356.7 730.8 362.7C731.2 368.7 732.0 377.8 732.2 380.8L743.1 380.8C743.3 377.8 744.1 368.7 744.5 362.7C745.0 356.7 745.1 352.1 745.8 344.6C746.4 337.1 747.7 326.5 748.5 317.5C749.3 308.4 750.3 297.9 750.7 290.3C751.1 282.8 751.1 279.8 750.8 272.3C750.6 264.7 750.2 255.7 749.4 245.1C748.6 234.6 747.4 221.0 746.3 209.0C745.2 196.9 743.7 184.8 742.7 172.8C741.7 160.7 741.0 148.7 740.4 136.6C739.8 124.5 739.4 112.5 739.1 100.4C738.8 88.4 738.8 70.3 738.7 64.3Z" fill="#ee8635" stroke="#2a2a2a" stroke-width="1.1" stroke-linejoin="round"/><line x1="737.6" y1="64.3" x2="737.6" y2="380.8" stroke="#333" stroke-width="1.15"/><line x1="737.6" y1="231.2" x2="737.6" y2="318.2" stroke="#3d3d3d" stroke-width="4.2" stroke-linecap="round"/><rect x="735.3" y="279.3" width="4.6" height="1.4" fill="#fff"/>
<path d="M769.0 107.1C768.8 110.5 768.6 119.6 767.9 127.6C767.2 135.5 766.0 145.6 765.0 154.7C764.0 163.7 762.9 172.8 761.9 181.8C761.0 190.9 760.0 199.9 759.2 209.0C758.5 218.0 757.9 227.6 757.4 236.1C757.0 244.5 756.4 252.1 756.5 259.6C756.7 267.1 757.4 273.2 758.3 281.3C759.2 289.4 761.2 300.9 761.9 308.4C762.6 316.0 762.7 320.5 762.5 326.5C762.3 332.5 760.8 338.6 760.7 344.6C760.5 350.6 760.8 356.7 761.4 362.7C762.0 368.7 763.8 377.5 764.3 380.4L775.9 380.4C776.3 377.5 778.2 368.7 778.8 362.7C779.4 356.7 779.7 350.6 779.5 344.6C779.3 338.6 777.9 332.5 777.7 326.5C777.5 320.5 777.5 316.0 778.2 308.4C778.9 300.9 780.9 289.4 781.8 281.3C782.7 273.2 783.5 267.1 783.6 259.6C783.8 252.1 783.2 244.5 782.7 236.1C782.3 227.6 781.7 218.0 780.9 209.0C780.2 199.9 779.2 190.9 778.2 181.8C777.2 172.8 776.1 163.7 775.1 154.7C774.1 145.6 772.9 135.5 772.2 127.6C771.6 119.6 771.3 110.5 771.2 107.1Z" fill="#3ea56d" stroke="#2a2a2a" stroke-width="1.1" stroke-linejoin="round"/><line x1="770.1" y1="107.1" x2="770.1" y2="380.4" stroke="#333" stroke-width="1.15"/><line x1="770.1" y1="220.9" x2="770.1" y2="324.5" stroke="#3d3d3d" stroke-width="4.2" stroke-linecap="round"/><rect x="767.8" y="266.5" width="4.6" height="1.4" fill="#fff"/>
<path d="M801.4 35.9C801.2 40.6 800.9 53.5 800.3 64.3C799.8 75.0 798.8 88.4 798.0 100.4C797.1 112.5 796.2 124.5 795.3 136.6C794.4 148.7 793.4 160.7 792.6 172.8C791.7 184.8 790.7 198.4 790.2 209.0C789.7 219.5 789.3 227.0 789.3 236.1C789.3 245.1 789.5 254.2 790.2 263.2C790.9 272.3 792.5 281.3 793.5 290.3C794.5 299.4 795.4 308.4 796.2 317.5C796.9 326.5 797.4 335.1 798.0 344.6C798.6 354.1 799.5 369.5 799.8 374.4L805.2 374.4C805.5 369.5 806.4 354.1 807.0 344.6C807.6 335.1 808.1 326.5 808.8 317.5C809.6 308.4 810.5 299.4 811.5 290.3C812.5 281.3 814.1 272.3 814.8 263.2C815.5 254.2 815.7 245.1 815.7 236.1C815.7 227.0 815.3 219.5 814.8 209.0C814.3 198.4 813.3 184.8 812.4 172.8C811.6 160.7 810.6 148.7 809.7 136.6C808.8 124.5 807.9 112.5 807.0 100.4C806.2 88.4 805.2 75.0 804.7 64.3C804.1 53.5 803.8 40.6 803.6 35.9Z" fill="#d92b2b" stroke="#2a2a2a" stroke-width="1.1" stroke-linejoin="round"/><line x1="802.5" y1="35.9" x2="802.5" y2="374.4" stroke="#333" stroke-width="1.15"/><line x1="802.5" y1="178.4" x2="802.5" y2="278.4" stroke="#3d3d3d" stroke-width="4.2" stroke-linecap="round"/><rect x="800.2" y="233.6" width="4.6" height="1.4" fill="#fff"/>
<path d="M833.8 44.0C833.7 48.9 833.2 62.4 832.8 73.3C832.3 84.2 831.6 97.4 830.9 109.5C830.3 121.5 829.4 133.6 828.6 145.6C827.8 157.7 827.1 169.8 826.2 181.8C825.4 193.9 824.4 207.4 823.7 218.0C823.0 228.5 822.2 237.6 821.9 245.1C821.6 252.7 821.4 255.7 821.7 263.2C822.1 270.7 823.1 281.3 824.1 290.3C825.0 299.4 826.4 308.4 827.3 317.5C828.2 326.5 828.9 334.1 829.5 344.6C830.1 355.1 830.7 374.4 830.9 380.4L838.9 380.4C839.1 374.4 839.8 355.1 840.4 344.6C841.0 334.1 841.6 326.5 842.5 317.5C843.4 308.4 844.8 299.4 845.8 290.3C846.7 281.3 847.8 270.7 848.1 263.2C848.5 255.7 848.3 252.7 848.0 245.1C847.6 237.6 846.9 228.5 846.1 218.0C845.4 207.4 844.4 193.9 843.6 181.8C842.8 169.8 842.0 157.7 841.3 145.6C840.5 133.6 839.6 121.5 838.9 109.5C838.2 97.4 837.6 84.2 837.1 73.3C836.6 62.4 836.2 48.9 836.0 44.0Z" fill="#8a55b5" stroke="#2a2a2a" stroke-width="1.1" stroke-linejoin="round"/><line x1="834.9" y1="44.0" x2="834.9" y2="380.4" stroke="#333" stroke-width="1.15"/><line x1="834.9" y1="200.1" x2="834.9" y2="301.0" stroke="#3d3d3d" stroke-width="4.2" stroke-linecap="round"/><rect x="832.6" y="254.9" width="4.6" height="1.4" fill="#fff"/>
<path d="M866.3 105.0C866.0 110.2 865.3 125.3 864.6 136.6C864.0 147.9 863.2 160.7 862.3 172.8C861.4 184.8 860.2 196.9 859.2 209.0C858.2 221.0 857.0 234.6 856.1 245.1C855.3 255.7 854.5 264.7 854.2 272.3C853.9 279.8 853.9 284.3 854.3 290.3C854.8 296.4 855.8 300.9 856.9 308.4C858.0 316.0 860.0 328.0 861.0 335.6C862.0 343.1 862.2 346.6 862.8 353.6C863.4 360.7 864.3 374.0 864.6 378.1L870.1 378.1C870.4 374.0 871.3 360.7 871.9 353.6C872.5 346.6 872.7 343.1 873.7 335.6C874.7 328.0 876.7 316.0 877.8 308.4C879.0 300.9 879.9 296.4 880.4 290.3C880.8 284.3 880.9 279.8 880.6 272.3C880.3 264.7 879.4 255.7 878.6 245.1C877.7 234.6 876.5 221.0 875.5 209.0C874.5 196.9 873.3 184.8 872.4 172.8C871.5 160.7 870.7 147.9 870.1 136.6C869.4 125.3 868.7 110.2 868.4 105.0Z" fill="#8a5549" stroke="#2a2a2a" stroke-width="1.1" stroke-linejoin="round"/><line x1="867.4" y1="105.0" x2="867.4" y2="378.1" stroke="#333" stroke-width="1.15"/><line x1="867.4" y1="227.6" x2="867.4" y2="306.4" stroke="#3d3d3d" stroke-width="4.2" stroke-linecap="round"/><rect x="865.1" y="273.7" width="4.6" height="1.4" fill="#fff"/>
<path d="M899.1 174.6C898.7 178.8 897.9 192.7 897.1 199.9C896.3 207.1 895.4 212.0 894.4 218.0C893.3 224.0 891.9 230.1 890.7 236.1C889.6 242.1 888.2 249.3 887.5 254.2C886.8 259.0 886.2 260.5 886.4 265.0C886.6 269.5 887.9 275.6 888.9 281.3C890.0 287.0 891.4 293.4 892.6 299.4C893.7 305.4 894.9 311.4 895.8 317.5C896.7 323.5 897.4 329.5 898.0 335.6C898.5 341.6 898.9 348.1 899.1 353.6C899.3 359.2 899.2 366.5 899.2 369.0L900.3 369.0C900.4 366.5 900.3 359.2 900.5 353.6C900.7 348.1 901.1 341.6 901.6 335.6C902.1 329.5 902.9 323.5 903.8 317.5C904.7 311.4 905.9 305.4 907.0 299.4C908.2 293.4 909.6 287.0 910.6 281.3C911.7 275.6 912.9 269.5 913.2 265.0C913.4 260.5 912.8 259.0 912.1 254.2C911.4 249.3 910.0 242.1 908.8 236.1C907.7 230.1 906.3 224.0 905.2 218.0C904.2 212.0 903.3 207.1 902.5 199.9C901.7 192.7 900.8 178.8 900.5 174.6Z" fill="#dd78bf" stroke="#2a2a2a" stroke-width="1.1" stroke-linejoin="round"/><line x1="899.8" y1="174.6" x2="899.8" y2="369.0" stroke="#333" stroke-width="1.15"/><line x1="899.8" y1="248.9" x2="899.8" y2="298.3" stroke="#3d3d3d" stroke-width="4.2" stroke-linecap="round"/><rect x="897.5" y="271.2" width="4.6" height="1.4" fill="#fff"/>
<path d="M931.1 33.2C930.9 38.3 930.2 53.0 929.5 64.3C928.8 75.5 928.0 88.4 927.2 100.4C926.3 112.5 925.4 124.5 924.6 136.6C923.8 148.7 923.0 160.7 922.3 172.8C921.6 184.8 921.0 196.9 920.5 209.0C919.9 221.0 919.3 236.1 919.0 245.1C918.7 254.2 918.7 257.2 918.8 263.2C919.0 269.2 919.1 273.8 919.9 281.3C920.7 288.8 922.6 299.4 923.5 308.4C924.4 317.5 925.0 326.5 925.3 335.6C925.7 344.6 925.5 355.5 925.7 362.7C925.9 369.9 926.3 375.9 926.4 378.6L938.0 378.6C938.1 375.9 938.5 369.9 938.7 362.7C938.9 355.5 938.7 344.6 939.1 335.6C939.4 326.5 940.0 317.5 940.9 308.4C941.8 299.4 943.7 288.8 944.5 281.3C945.3 273.8 945.4 269.2 945.6 263.2C945.7 257.2 945.7 254.2 945.4 245.1C945.1 236.1 944.5 221.0 944.0 209.0C943.4 196.9 942.9 184.8 942.2 172.8C941.5 160.7 940.6 148.7 939.8 136.6C939.0 124.5 938.1 112.5 937.3 100.4C936.5 88.4 935.6 75.5 934.9 64.3C934.3 53.0 933.6 38.3 933.3 33.2Z" fill="#b4be5f" stroke="#2a2a2a" stroke-width="1.1" stroke-linejoin="round"/><line x1="932.2" y1="33.2" x2="932.2" y2="378.6" stroke="#333" stroke-width="1.15"/><line x1="932.2" y1="177.5" x2="932.2" y2="293.8" stroke="#3d3d3d" stroke-width="4.2" stroke-linecap="round"/><rect x="929.9" y="242.6" width="4.6" height="1.4" fill="#fff"/>
<path d="M964.5 36.8C964.4 47.4 964.4 83.8 964.1 100.4C963.8 117.1 963.1 124.5 962.5 136.6C961.8 148.7 960.7 162.2 960.1 172.8C959.5 183.3 959.5 190.9 958.9 199.9C958.2 209.0 957.0 218.0 956.0 227.0C954.9 236.1 953.5 246.6 952.7 254.2C951.9 261.7 951.2 266.2 951.3 272.3C951.3 278.3 951.9 284.3 952.9 290.3C953.9 296.4 955.8 303.3 957.0 308.4C958.3 313.6 959.8 317.2 960.7 321.1C961.6 325.0 962.2 330.1 962.5 331.9L966.8 331.9C967.1 330.1 967.7 325.0 968.6 321.1C969.5 317.2 970.9 313.6 972.2 308.4C973.5 303.3 975.4 296.4 976.4 290.3C977.4 284.3 978.0 278.3 978.0 272.3C978.1 266.2 977.4 261.7 976.6 254.2C975.8 246.6 974.3 236.1 973.3 227.0C972.3 218.0 971.1 209.0 970.4 199.9C969.7 190.9 969.8 183.3 969.2 172.8C968.6 162.2 967.5 148.7 966.8 136.6C966.2 124.5 965.5 117.1 965.2 100.4C964.9 83.8 964.9 47.4 964.8 36.8Z" fill="#4fd3d6" stroke="#2a2a2a" stroke-width="1.1" stroke-linejoin="round"/><line x1="964.6" y1="36.8" x2="964.6" y2="331.9" stroke="#333" stroke-width="1.15"/><line x1="964.6" y1="217.3" x2="964.6" y2="285.6" stroke="#3d3d3d" stroke-width="4.2" stroke-linecap="round"/><rect x="962.3" y="259.8" width="4.6" height="1.4" fill="#fff"/>
<path d="M996.9 39.8C996.9 51.4 996.9 93.3 996.7 109.5C996.5 125.6 996.1 127.6 995.6 136.6C995.1 145.6 994.4 154.7 993.8 163.7C993.2 172.8 992.7 183.3 992.0 190.9C991.3 198.4 990.5 202.9 989.5 209.0C988.5 215.0 986.8 221.0 985.9 227.0C984.9 233.1 983.9 239.7 983.7 245.1C983.5 250.5 983.9 254.2 984.8 259.6C985.6 265.0 987.5 271.7 988.9 277.7C990.3 283.7 991.9 289.7 993.1 295.8C994.3 301.8 995.4 308.5 996.0 313.9C996.6 319.2 996.6 325.6 996.7 328.0L997.4 328.0C997.6 325.6 997.6 319.2 998.2 313.9C998.8 308.5 999.9 301.8 1001.1 295.8C1002.2 289.7 1003.8 283.7 1005.2 277.7C1006.6 271.7 1008.5 265.0 1009.4 259.6C1010.2 254.2 1010.6 250.5 1010.5 245.1C1010.3 239.7 1009.2 233.1 1008.3 227.0C1007.3 221.0 1005.7 215.0 1004.7 209.0C1003.6 202.9 1002.9 198.4 1002.1 190.9C1001.4 183.3 1000.9 172.8 1000.3 163.7C999.7 154.7 999.0 145.6 998.5 136.6C998.0 127.6 997.6 125.6 997.4 109.5C997.2 93.3 997.3 51.4 997.3 39.8Z" fill="#adc9ea" stroke="#2a2a2a" stroke-width="1.1" stroke-linejoin="round"/><line x1="997.1" y1="39.8" x2="997.1" y2="328.0" stroke="#333" stroke-width="1.15"/><line x1="997.1" y1="207.3" x2="997.1" y2="269.3" stroke="#3d3d3d" stroke-width="4.2" stroke-linecap="round"/><rect x="994.8" y="243.2" width="4.6" height="1.4" fill="#fff"/>
<path d="M1023.2 80.5C1022.7 83.9 1021.1 92.6 1020.1 100.4C1019.1 108.3 1017.9 118.5 1017.2 127.6C1016.5 136.6 1016.0 145.6 1015.9 154.7C1015.9 163.7 1016.4 172.8 1016.8 181.8C1017.3 190.9 1018.0 198.4 1018.6 209.0C1019.3 219.5 1020.0 231.9 1020.5 245.1C1020.9 258.3 1021.2 281.0 1021.4 288.2L1037.6 288.2C1037.8 281.0 1038.1 258.3 1038.5 245.1C1039.0 231.9 1039.7 219.5 1040.4 209.0C1041.0 198.4 1041.7 190.9 1042.2 181.8C1042.6 172.8 1043.1 163.7 1043.1 154.7C1043.0 145.6 1042.5 136.6 1041.8 127.6C1041.1 118.5 1039.9 108.3 1038.9 100.4C1037.9 92.6 1036.3 83.9 1035.8 80.5Z" fill="#f5b873" stroke="#2a2a2a" stroke-width="1.1" stroke-linejoin="round"/><line x1="1029.5" y1="80.5" x2="1029.5" y2="288.2" stroke="#333" stroke-width="1.15"/><line x1="1029.5" y1="149.1" x2="1029.5" y2="244.6" stroke="#3d3d3d" stroke-width="4.2" stroke-linecap="round"/><rect x="1027.2" y="182.0" width="4.6" height="1.4" fill="#fff"/>
<path d="M1060.8 101.3C1060.8 107.2 1060.8 124.7 1060.5 136.6C1060.2 148.5 1059.9 162.2 1059.2 172.8C1058.5 183.3 1057.3 190.9 1056.1 199.9C1054.9 209.0 1053.1 219.5 1052.0 227.0C1050.9 234.6 1050.2 239.1 1049.6 245.1C1049.1 251.2 1048.5 257.2 1048.5 263.2C1048.5 269.2 1048.9 273.8 1049.6 281.3C1050.4 288.8 1051.9 299.4 1052.9 308.4C1053.9 317.5 1054.8 326.5 1055.6 335.6C1056.4 344.6 1057.4 355.5 1057.9 362.7C1058.5 369.9 1058.6 375.9 1058.7 378.6L1065.2 378.6C1065.3 375.9 1065.4 369.9 1065.9 362.7C1066.4 355.5 1067.4 344.6 1068.3 335.6C1069.1 326.5 1070.0 317.5 1071.0 308.4C1072.0 299.4 1073.5 288.8 1074.2 281.3C1075.0 273.8 1075.3 269.2 1075.3 263.2C1075.3 257.2 1074.8 251.2 1074.2 245.1C1073.7 239.1 1073.0 234.6 1071.9 227.0C1070.8 219.5 1068.9 209.0 1067.7 199.9C1066.5 190.9 1065.4 183.3 1064.6 172.8C1063.9 162.2 1063.6 148.5 1063.4 136.6C1063.1 124.7 1063.1 107.2 1063.0 101.3Z" fill="#9fdf8c" stroke="#2a2a2a" stroke-width="1.1" stroke-linejoin="round"/><line x1="1061.9" y1="101.3" x2="1061.9" y2="378.6" stroke="#333" stroke-width="1.15"/><line x1="1061.9" y1="239.0" x2="1061.9" y2="312.8" stroke="#3d3d3d" stroke-width="4.2" stroke-linecap="round"/><rect x="1059.6" y="272.5" width="4.6" height="1.4" fill="#fff"/>
<path d="M1093.5 67.5C1093.4 73.0 1093.4 88.9 1092.9 100.4C1092.4 111.9 1091.4 124.5 1090.4 136.6C1089.4 148.7 1087.9 160.7 1086.8 172.8C1085.6 184.8 1084.4 198.4 1083.5 209.0C1082.6 219.5 1081.7 228.5 1081.3 236.1C1080.9 243.6 1080.9 248.1 1081.2 254.2C1081.5 260.2 1082.1 264.7 1083.1 272.3C1084.2 279.8 1086.1 290.3 1087.5 299.4C1088.9 308.4 1090.6 319.0 1091.6 326.5C1092.7 334.0 1093.3 340.3 1093.6 344.6C1094.0 348.9 1093.8 351.1 1093.8 352.4L1094.9 352.4C1094.9 351.1 1094.7 348.9 1095.1 344.6C1095.4 340.3 1096.0 334.0 1097.1 326.5C1098.1 319.0 1099.8 308.4 1101.2 299.4C1102.6 290.3 1104.5 279.8 1105.6 272.3C1106.6 264.7 1107.3 260.2 1107.6 254.2C1107.9 248.1 1107.8 243.6 1107.4 236.1C1107.0 228.5 1106.1 219.5 1105.2 209.0C1104.3 198.4 1103.1 184.8 1102.0 172.8C1100.8 160.7 1099.4 148.7 1098.3 136.6C1097.3 124.5 1096.3 111.9 1095.8 100.4C1095.3 88.9 1095.4 73.0 1095.3 67.5Z" fill="#f08b92" stroke="#2a2a2a" stroke-width="1.1" stroke-linejoin="round"/><line x1="1094.4" y1="67.5" x2="1094.4" y2="352.4" stroke="#333" stroke-width="1.15"/><line x1="1094.4" y1="204.6" x2="1094.4" y2="278.4" stroke="#3d3d3d" stroke-width="4.2" stroke-linecap="round"/><rect x="1092.1" y="243.9" width="4.6" height="1.4" fill="#fff"/>
<path d="M1123.5 95.9C1123.3 99.7 1122.9 108.7 1122.3 118.5C1121.6 128.3 1120.5 142.6 1119.6 154.7C1118.6 166.7 1117.7 178.8 1116.8 190.9C1116.0 202.9 1115.1 216.5 1114.5 227.0C1113.9 237.6 1113.5 245.1 1113.4 254.2C1113.3 263.2 1113.8 272.3 1114.1 281.3C1114.5 290.3 1115.3 298.6 1115.6 308.4C1115.9 318.2 1115.9 334.8 1115.9 340.1L1137.6 340.1C1137.7 334.8 1137.7 318.2 1138.0 308.4C1138.3 298.6 1139.1 290.3 1139.4 281.3C1139.8 272.3 1140.2 263.2 1140.2 254.2C1140.1 245.1 1139.7 237.6 1139.1 227.0C1138.5 216.5 1137.6 202.9 1136.7 190.9C1135.9 178.8 1134.9 166.7 1134.0 154.7C1133.1 142.6 1132.0 128.3 1131.3 118.5C1130.6 108.7 1130.3 99.7 1130.0 95.9Z" fill="#c4aedd" stroke="#2a2a2a" stroke-width="1.1" stroke-linejoin="round"/><line x1="1126.8" y1="95.9" x2="1126.8" y2="340.1" stroke="#333" stroke-width="1.15"/><line x1="1126.8" y1="204.6" x2="1126.8" y2="310.0" stroke="#3d3d3d" stroke-width="4.2" stroke-linecap="round"/><rect x="1124.5" y="258.5" width="4.6" height="1.4" fill="#fff"/>
<rect x="689.0" y="403.3" width="454.0" height="381.7" fill="#fff" stroke="#555" stroke-width="1.4"/>
<path d="M705.0 650.0C705.0 656.5 705.1 680.4 704.7 689.4C704.2 698.4 703.6 699.3 702.5 703.9C701.4 708.4 699.4 712.6 698.0 716.5C696.6 720.4 695.0 724.0 694.0 727.4C693.0 730.7 691.8 733.4 691.8 736.4C691.8 739.4 692.8 742.4 694.0 745.5C695.2 748.5 697.3 751.8 698.9 754.5C700.5 757.2 702.5 760.2 703.4 761.7C704.3 763.3 704.2 763.5 704.3 763.9L706.1 763.9C706.3 763.5 706.1 763.3 707.0 761.7C707.9 760.2 710.0 757.2 711.5 754.5C713.1 751.8 715.3 748.5 716.4 745.5C717.6 742.4 718.6 739.4 718.6 736.4C718.6 733.4 717.5 730.7 716.4 727.4C715.4 724.0 713.9 720.4 712.4 716.5C711.0 712.6 709.0 708.4 707.9 703.9C706.8 699.3 706.2 698.4 705.8 689.4C705.3 680.4 705.5 656.5 705.4 650.0Z" fill="#3a81ba" stroke="#2a2a2a" stroke-width="1.1" stroke-linejoin="round"/><line x1="705.2" y1="650.0" x2="705.2" y2="763.9" stroke="#333" stroke-width="1.15"/><line x1="705.2" y1="724.3" x2="705.2" y2="741.3" stroke="#3d3d3d" stroke-width="4.2" stroke-linecap="round"/><rect x="702.9" y="732.6" width="4.6" height="1.4" fill="#fff"/>
<path d="M737.5 592.3C737.4 603.9 737.5 648.5 737.3 662.3C737.1 676.0 736.8 670.4 736.2 674.9C735.6 679.4 734.7 684.6 733.7 689.4C732.6 694.2 731.3 699.3 730.0 703.9C728.8 708.4 727.4 712.3 726.4 716.5C725.5 720.7 724.1 725.3 724.3 729.2C724.4 733.1 725.9 736.7 727.2 740.0C728.4 743.3 730.5 746.2 731.9 749.1C733.2 751.9 734.7 755.4 735.5 757.2C736.2 759.0 736.1 759.5 736.2 759.9L739.1 759.9C739.2 759.5 739.1 759.0 739.8 757.2C740.5 755.4 742.0 751.9 743.4 749.1C744.8 746.2 746.9 743.3 748.1 740.0C749.4 736.7 750.9 733.1 751.0 729.2C751.1 725.3 749.8 720.7 748.9 716.5C747.9 712.3 746.4 708.4 745.2 703.9C744.0 699.3 742.6 694.2 741.6 689.4C740.6 684.6 739.7 679.4 739.1 674.9C738.5 670.4 738.2 676.0 738.0 662.3C737.8 648.5 737.9 603.9 737.8 592.3Z" fill="#ee8635" stroke="#2a2a2a" stroke-width="1.1" stroke-linejoin="round"/><line x1="737.6" y1="592.3" x2="737.6" y2="759.9" stroke="#333" stroke-width="1.15"/><line x1="737.6" y1="712.2" x2="737.6" y2="735.9" stroke="#3d3d3d" stroke-width="4.2" stroke-linecap="round"/><rect x="735.3" y="726.3" width="4.6" height="1.4" fill="#fff"/>
<path d="M769.9 623.4C769.8 635.9 770.0 683.8 769.5 698.4C769.1 713.0 768.7 707.5 767.4 711.1C766.0 714.7 763.2 717.6 761.4 720.1C759.6 722.7 757.0 724.4 756.7 726.5C756.3 728.6 758.0 730.5 759.2 732.8C760.4 735.1 762.4 737.3 763.7 740.0C765.1 742.7 766.5 746.4 767.4 749.1C768.3 751.8 768.8 753.7 769.2 756.3C769.6 758.9 769.6 763.1 769.7 764.4L770.4 764.4C770.5 763.1 770.6 758.9 771.0 756.3C771.4 753.7 771.9 751.8 772.8 749.1C773.7 746.4 775.0 742.7 776.4 740.0C777.8 737.3 779.7 735.1 780.9 732.8C782.1 730.5 783.8 728.6 783.5 726.5C783.1 724.4 780.5 722.7 778.8 720.1C777.0 717.6 774.1 714.7 772.8 711.1C771.4 707.5 771.0 713.0 770.6 698.4C770.2 683.8 770.3 635.9 770.3 623.4Z" fill="#3ea56d" stroke="#2a2a2a" stroke-width="1.1" stroke-linejoin="round"/><line x1="770.1" y1="623.4" x2="770.1" y2="764.4" stroke="#333" stroke-width="1.15"/><line x1="770.1" y1="723.0" x2="770.1" y2="734.0" stroke="#3d3d3d" stroke-width="4.2" stroke-linecap="round"/><rect x="767.8" y="727.0" width="4.6" height="1.4" fill="#fff"/>
<path d="M802.3 606.2C802.3 622.5 802.4 686.1 802.0 703.9C801.5 721.6 801.1 710.0 799.8 712.9C798.4 715.8 795.6 718.6 793.8 721.0C792.0 723.4 789.3 725.3 789.1 727.4C788.9 729.5 791.2 731.6 792.6 733.7C793.9 735.8 796.1 737.8 797.4 740.0C798.7 742.3 799.6 744.8 800.3 747.3C801.0 749.7 801.3 752.1 801.6 754.5C801.9 756.8 802.0 760.2 802.1 761.4L802.9 761.4C803.0 760.2 803.1 756.8 803.4 754.5C803.7 752.1 804.0 749.7 804.7 747.3C805.4 744.8 806.3 742.3 807.6 740.0C808.9 737.8 811.1 735.8 812.4 733.7C813.8 731.6 816.1 729.5 815.9 727.4C815.7 725.3 813.0 723.4 811.2 721.0C809.4 718.6 806.6 715.8 805.2 712.9C803.9 710.0 803.5 721.6 803.0 703.9C802.6 686.1 802.7 622.5 802.7 606.2Z" fill="#d92b2b" stroke="#2a2a2a" stroke-width="1.1" stroke-linejoin="round"/><line x1="802.5" y1="606.2" x2="802.5" y2="761.4" stroke="#333" stroke-width="1.15"/><line x1="802.5" y1="723.6" x2="802.5" y2="732.2" stroke="#3d3d3d" stroke-width="4.2" stroke-linecap="round"/><rect x="800.2" y="727.6" width="4.6" height="1.4" fill="#fff"/>
<path d="M834.7 621.6C834.7 635.3 834.8 688.6 834.4 703.9C834.0 719.1 833.6 710.0 832.2 712.9C830.8 715.8 827.7 718.6 825.9 721.0C824.1 723.5 821.8 725.6 821.5 727.7C821.3 729.8 823.1 731.5 824.4 733.7C825.8 735.9 828.1 738.4 829.5 740.9C830.9 743.5 832.0 746.5 832.8 749.1C833.5 751.6 833.9 754.0 834.2 756.3C834.5 758.6 834.5 761.6 834.6 762.6L835.3 762.6C835.4 761.6 835.4 758.6 835.7 756.3C836.0 754.0 836.3 751.6 837.1 749.1C837.9 746.5 839.0 743.5 840.4 740.9C841.7 738.4 844.1 735.9 845.4 733.7C846.7 731.5 848.6 729.8 848.3 727.7C848.1 725.6 845.8 723.5 844.0 721.0C842.2 718.6 839.1 715.8 837.6 712.9C836.2 710.0 835.9 719.1 835.5 703.9C835.0 688.6 835.2 635.3 835.1 621.6Z" fill="#8a55b5" stroke="#2a2a2a" stroke-width="1.1" stroke-linejoin="round"/><line x1="834.9" y1="621.6" x2="834.9" y2="762.6" stroke="#333" stroke-width="1.15"/><line x1="834.9" y1="723.0" x2="834.9" y2="733.0" stroke="#3d3d3d" stroke-width="4.2" stroke-linecap="round"/><rect x="832.6" y="727.2" width="4.6" height="1.4" fill="#fff"/>
<path d="M867.2 635.7C867.1 646.1 867.3 685.9 866.8 698.4C866.3 711.0 865.5 707.5 864.1 711.1C862.7 714.7 860.4 717.3 858.7 720.1C857.0 723.0 854.4 725.9 854.0 728.3C853.6 730.7 855.0 732.3 856.1 734.6C857.3 736.9 859.6 739.4 861.0 741.8C862.4 744.2 863.7 746.7 864.6 749.1C865.5 751.5 866.1 754.1 866.5 756.3C866.8 758.5 866.9 761.3 867.0 762.3L867.7 762.3C867.8 761.3 867.9 758.5 868.3 756.3C868.7 754.1 869.2 751.5 870.1 749.1C871.0 746.7 872.3 744.2 873.7 741.8C875.1 739.4 877.4 736.9 878.6 734.6C879.7 732.3 881.2 730.7 880.7 728.3C880.3 725.9 877.7 723.0 876.0 720.1C874.4 717.3 872.0 714.7 870.6 711.1C869.3 707.5 868.4 711.0 867.9 698.4C867.4 685.9 867.6 646.1 867.5 635.7Z" fill="#8a5549" stroke="#2a2a2a" stroke-width="1.1" stroke-linejoin="round"/><line x1="867.4" y1="635.7" x2="867.4" y2="762.3" stroke="#333" stroke-width="1.15"/><line x1="867.4" y1="722.1" x2="867.4" y2="735.3" stroke="#3d3d3d" stroke-width="4.2" stroke-linecap="round"/><rect x="865.1" y="728.1" width="4.6" height="1.4" fill="#fff"/>
<path d="M899.6 690.3C899.5 692.8 899.8 701.6 899.2 705.7C898.7 709.7 897.6 712.1 896.2 714.7C894.8 717.3 892.4 719.3 890.7 721.0C889.1 722.8 886.4 723.5 886.4 725.0C886.4 726.5 889.2 728.2 890.7 730.1C892.3 732.0 894.5 734.4 895.8 736.4C897.1 738.4 898.1 740.0 898.7 741.8C899.3 743.6 899.5 744.0 899.6 747.3C899.8 750.5 899.6 759.0 899.6 761.4L900.0 761.4C900.0 759.0 899.8 750.5 900.0 747.3C900.1 744.0 900.2 743.6 900.9 741.8C901.5 740.0 902.4 738.4 903.8 736.4C905.1 734.4 907.3 732.0 908.8 730.1C910.4 728.2 913.2 726.5 913.2 725.0C913.2 723.5 910.5 722.8 908.8 721.0C907.2 719.3 904.8 717.3 903.4 714.7C902.0 712.1 900.9 709.7 900.3 705.7C899.8 701.6 900.0 692.8 900.0 690.3Z" fill="#dd78bf" stroke="#2a2a2a" stroke-width="1.1" stroke-linejoin="round"/><line x1="899.8" y1="690.3" x2="899.8" y2="761.4" stroke="#333" stroke-width="1.15"/><line x1="899.8" y1="721.2" x2="899.8" y2="728.1" stroke="#3d3d3d" stroke-width="4.2" stroke-linecap="round"/><rect x="897.5" y="724.0" width="4.6" height="1.4" fill="#fff"/>
<path d="M932.0 640.9C932.0 649.6 931.9 682.5 931.7 693.0C931.4 703.5 931.4 700.5 930.4 703.9C929.4 707.2 927.4 710.5 925.9 712.9C924.4 715.3 922.5 716.8 921.4 718.3C920.2 719.9 918.7 720.8 918.8 722.3C919.0 723.8 920.8 725.3 922.3 727.4C923.7 729.4 926.2 732.2 927.7 734.6C929.2 737.0 930.4 738.1 931.1 741.8C931.9 745.6 931.9 754.6 932.0 757.2L932.4 757.2C932.5 754.6 932.6 745.6 933.3 741.8C934.0 738.1 935.3 737.0 936.7 734.6C938.2 732.2 940.7 729.4 942.2 727.4C943.6 725.3 945.4 723.8 945.6 722.3C945.7 720.8 944.2 719.9 943.1 718.3C941.9 716.8 940.1 715.3 938.5 712.9C937.0 710.5 935.0 707.2 934.0 703.9C933.1 700.5 933.0 703.5 932.8 693.0C932.5 682.5 932.5 649.6 932.4 640.9Z" fill="#b4be5f" stroke="#2a2a2a" stroke-width="1.1" stroke-linejoin="round"/><line x1="932.2" y1="640.9" x2="932.2" y2="757.2" stroke="#333" stroke-width="1.15"/><line x1="932.2" y1="717.6" x2="932.2" y2="726.3" stroke="#3d3d3d" stroke-width="4.2" stroke-linecap="round"/><rect x="929.9" y="721.2" width="4.6" height="1.4" fill="#fff"/>
<path d="M964.5 420.4C964.4 450.2 964.4 566.2 964.1 599.0C963.8 631.7 963.2 611.0 962.5 617.0C961.7 623.1 960.7 629.1 959.6 635.1C958.5 641.2 957.1 647.2 956.0 653.2C954.8 659.2 953.5 666.2 952.7 671.3C951.9 676.4 951.2 679.4 951.3 684.0C951.3 688.5 951.9 693.0 952.9 698.4C953.9 703.9 956.0 711.1 957.4 716.5C958.8 721.9 960.4 726.3 961.4 731.0C962.4 735.7 963.2 742.3 963.6 744.5L965.7 744.5C966.1 742.3 966.9 735.7 967.9 731.0C968.9 726.3 970.5 721.9 971.9 716.5C973.3 711.1 975.4 703.9 976.4 698.4C977.4 693.0 978.0 688.5 978.0 684.0C978.1 679.4 977.4 676.4 976.6 671.3C975.8 666.2 974.5 659.2 973.3 653.2C972.2 647.2 970.8 641.2 969.7 635.1C968.6 629.1 967.6 623.1 966.8 617.0C966.1 611.0 965.5 631.7 965.2 599.0C964.9 566.2 964.9 450.2 964.8 420.4Z" fill="#4fd3d6" stroke="#2a2a2a" stroke-width="1.1" stroke-linejoin="round"/><line x1="964.6" y1="420.4" x2="964.6" y2="744.5" stroke="#333" stroke-width="1.15"/><line x1="964.6" y1="661.0" x2="964.6" y2="698.6" stroke="#3d3d3d" stroke-width="4.2" stroke-linecap="round"/><rect x="962.3" y="683.3" width="4.6" height="1.4" fill="#fff"/>
<path d="M996.9 505.8C996.8 522.8 996.9 587.9 996.5 608.0C996.2 628.0 995.7 620.1 994.9 626.1C994.1 632.1 993.2 638.1 992.0 644.2C990.8 650.2 988.9 657.1 987.7 662.3C986.4 667.4 985.1 671.3 984.4 674.9C983.7 678.5 983.4 680.3 983.7 684.0C984.0 687.6 984.9 692.1 986.2 696.6C987.5 701.1 990.1 706.9 991.6 711.1C993.2 715.3 994.4 716.3 995.3 721.9C996.1 727.6 996.6 741.2 996.9 745.1L997.3 745.1C997.5 741.2 998.0 727.6 998.9 721.9C999.8 716.3 1001.0 715.3 1002.5 711.1C1004.0 706.9 1006.6 701.1 1007.9 696.6C1009.2 692.1 1010.2 687.6 1010.5 684.0C1010.8 680.3 1010.4 678.5 1009.7 674.9C1009.1 671.3 1007.7 667.4 1006.5 662.3C1005.2 657.1 1003.3 650.2 1002.1 644.2C1000.9 638.1 1000.0 632.1 999.2 626.1C998.5 620.1 997.9 628.0 997.6 608.0C997.3 587.9 997.3 522.8 997.3 505.8Z" fill="#adc9ea" stroke="#2a2a2a" stroke-width="1.1" stroke-linejoin="round"/><line x1="997.1" y1="505.8" x2="997.1" y2="745.1" stroke="#333" stroke-width="1.15"/><line x1="997.1" y1="662.1" x2="997.1" y2="693.2" stroke="#3d3d3d" stroke-width="4.2" stroke-linecap="round"/><rect x="994.8" y="679.6" width="4.6" height="1.4" fill="#fff"/>
<path d="M1027.3 590.3C1027.3 593.2 1027.4 602.0 1027.0 608.0C1026.6 614.0 1025.9 620.1 1025.0 626.1C1024.0 632.1 1022.6 638.1 1021.4 644.2C1020.2 650.2 1018.6 656.8 1017.7 662.3C1016.9 667.7 1016.3 672.2 1016.1 676.7C1016.0 681.2 1016.4 684.9 1016.8 689.4C1017.3 693.9 1018.2 699.6 1019.0 703.9C1019.9 708.1 1021.3 711.9 1021.9 714.7C1022.5 717.5 1022.5 719.5 1022.6 720.5L1036.4 720.5C1036.5 719.5 1036.5 717.5 1037.1 714.7C1037.7 711.9 1039.1 708.1 1040.0 703.9C1040.8 699.6 1041.7 693.9 1042.2 689.4C1042.6 684.9 1043.0 681.2 1042.9 676.7C1042.7 672.2 1042.1 667.7 1041.3 662.3C1040.4 656.8 1038.8 650.2 1037.6 644.2C1036.4 638.1 1035.0 632.1 1034.0 626.1C1033.1 620.1 1032.4 614.0 1032.0 608.0C1031.6 602.0 1031.7 593.2 1031.7 590.3Z" fill="#f5b873" stroke="#2a2a2a" stroke-width="1.1" stroke-linejoin="round"/><line x1="1029.5" y1="639.1" x2="1029.5" y2="720.5" stroke="#333" stroke-width="1.15"/><line x1="1029.5" y1="661.5" x2="1029.5" y2="689.6" stroke="#3d3d3d" stroke-width="4.2" stroke-linecap="round"/><rect x="1027.2" y="677.3" width="4.6" height="1.4" fill="#fff"/>
<path d="M1061.7 498.0C1061.7 510.3 1061.7 556.5 1061.4 571.8C1061.1 587.1 1060.7 583.9 1060.1 589.9C1059.5 595.9 1058.9 600.5 1057.9 608.0C1057.0 615.5 1055.5 626.1 1054.3 635.1C1053.1 644.2 1051.7 653.8 1050.7 662.3C1049.8 670.7 1048.7 678.8 1048.5 685.8C1048.4 692.7 1048.8 697.8 1049.6 703.9C1050.5 709.9 1052.5 715.9 1053.8 721.9C1055.1 728.0 1056.4 734.0 1057.4 740.0C1058.4 746.1 1059.3 753.4 1059.8 758.1C1060.2 762.8 1060.1 766.4 1060.1 768.1L1063.7 768.1C1063.8 766.4 1063.6 762.8 1064.1 758.1C1064.6 753.4 1065.5 746.1 1066.5 740.0C1067.4 734.0 1068.8 728.0 1070.1 721.9C1071.4 715.9 1073.4 709.9 1074.2 703.9C1075.1 697.8 1075.5 692.7 1075.3 685.8C1075.1 678.8 1074.1 670.7 1073.1 662.3C1072.2 653.8 1070.7 644.2 1069.5 635.1C1068.3 626.1 1066.9 615.5 1065.9 608.0C1064.9 600.5 1064.3 595.9 1063.7 589.9C1063.2 583.9 1062.7 587.1 1062.5 571.8C1062.2 556.5 1062.2 510.3 1062.1 498.0Z" fill="#9fdf8c" stroke="#2a2a2a" stroke-width="1.1" stroke-linejoin="round"/><line x1="1061.9" y1="498.0" x2="1061.9" y2="768.1" stroke="#333" stroke-width="1.15"/><line x1="1061.9" y1="653.8" x2="1061.9" y2="703.7" stroke="#3d3d3d" stroke-width="4.2" stroke-linecap="round"/><rect x="1059.6" y="682.7" width="4.6" height="1.4" fill="#fff"/>
<path d="M1094.2 442.1C1094.1 463.8 1094.2 547.2 1093.8 571.8C1093.4 596.4 1092.6 583.9 1091.6 589.9C1090.7 595.9 1089.3 602.0 1088.0 608.0C1086.7 614.0 1085.0 620.4 1083.9 626.1C1082.7 631.8 1081.2 637.2 1081.0 642.4C1080.8 647.5 1081.6 651.4 1082.6 656.8C1083.6 662.3 1085.4 668.9 1086.8 674.9C1088.1 680.9 1089.6 687.6 1090.7 693.0C1091.9 698.4 1092.9 696.2 1093.5 707.5C1094.0 718.8 1094.1 751.9 1094.2 760.8L1094.5 760.8C1094.7 751.9 1094.7 718.8 1095.3 707.5C1095.8 696.2 1096.9 698.4 1098.0 693.0C1099.1 687.6 1100.6 680.9 1102.0 674.9C1103.3 668.9 1105.1 662.3 1106.1 656.8C1107.1 651.4 1108.0 647.5 1107.7 642.4C1107.5 637.2 1106.0 631.8 1104.8 626.1C1103.7 620.4 1102.0 614.0 1100.7 608.0C1099.4 602.0 1098.0 595.9 1097.1 589.9C1096.1 583.9 1095.3 596.4 1094.9 571.8C1094.5 547.2 1094.6 463.8 1094.5 442.1Z" fill="#f08b92" stroke="#2a2a2a" stroke-width="1.1" stroke-linejoin="round"/><line x1="1094.4" y1="442.1" x2="1094.4" y2="760.8" stroke="#333" stroke-width="1.15"/><line x1="1094.4" y1="630.8" x2="1094.4" y2="668.9" stroke="#3d3d3d" stroke-width="4.2" stroke-linecap="round"/><rect x="1092.1" y="647.4" width="4.6" height="1.4" fill="#fff"/>
<path d="M1123.2 526.6C1123.0 529.6 1122.7 538.7 1122.4 544.7C1122.1 550.7 1121.9 556.7 1121.4 562.8C1120.8 568.8 1120.0 574.8 1119.2 580.9C1118.3 586.9 1117.1 592.9 1116.3 599.0C1115.5 605.0 1114.6 611.3 1114.1 617.0C1113.6 622.8 1113.2 627.9 1113.2 633.3C1113.3 638.7 1113.8 643.9 1114.5 649.6C1115.2 655.3 1116.4 661.0 1117.4 667.7C1118.4 674.3 1119.6 682.1 1120.5 689.4C1121.4 696.6 1122.2 703.1 1122.8 711.1C1123.4 719.1 1123.7 732.9 1123.9 737.3L1129.7 737.3C1129.9 732.9 1130.2 719.1 1130.8 711.1C1131.3 703.1 1132.2 696.6 1133.1 689.4C1134.0 682.1 1135.2 674.3 1136.2 667.7C1137.2 661.0 1138.4 655.3 1139.1 649.6C1139.8 643.9 1140.3 638.7 1140.4 633.3C1140.4 627.9 1140.0 622.8 1139.4 617.0C1138.9 611.3 1138.1 605.0 1137.3 599.0C1136.4 592.9 1135.2 586.9 1134.4 580.9C1133.5 574.8 1132.8 568.8 1132.2 562.8C1131.7 556.7 1131.4 550.7 1131.1 544.7C1130.8 538.7 1130.5 529.6 1130.4 526.6Z" fill="#c4aedd" stroke="#2a2a2a" stroke-width="1.1" stroke-linejoin="round"/><line x1="1126.8" y1="538.9" x2="1126.8" y2="705.7" stroke="#333" stroke-width="1.15"/><line x1="1126.8" y1="606.4" x2="1126.8" y2="649.8" stroke="#3d3d3d" stroke-width="4.2" stroke-linecap="round"/><rect x="1124.5" y="637.7" width="4.6" height="1.4" fill="#fff"/>
<text x="91.5" y="58.4" text-anchor="end" font-size="18.3">6000</text>
<text x="91.5" y="116.6" text-anchor="end" font-size="18.3">5000</text>
<text x="91.5" y="174.9" text-anchor="end" font-size="18.3">4000</text>
<text x="91.5" y="233.2" text-anchor="end" font-size="18.3">3000</text>
<text x="91.5" y="291.4" text-anchor="end" font-size="18.3">2000</text>
<text x="91.5" y="349.7" text-anchor="end" font-size="18.3">1000</text>
<text x="91.5" y="467.4" text-anchor="end" font-size="18.3">20</text>
<text x="91.5" y="543.3" text-anchor="end" font-size="18.3">15</text>
<text x="91.5" y="619.2" text-anchor="end" font-size="18.3">10</text>
<text x="91.5" y="695.4" text-anchor="end" font-size="18.3">5</text>
<text x="91.5" y="771.7" text-anchor="end" font-size="18.3">0</text>
<text x="681.7" y="72.5" text-anchor="end" font-size="18.3">25000</text>
<text x="681.7" y="136.1" text-anchor="end" font-size="18.3">20000</text>
<text x="681.7" y="199.6" text-anchor="end" font-size="18.3">15000</text>
<text x="681.7" y="263.2" text-anchor="end" font-size="18.3">10000</text>
<text x="681.7" y="326.8" text-anchor="end" font-size="18.3">5000</text>
<text x="681.7" y="390.4" text-anchor="end" font-size="18.3">0</text>
<text x="681.7" y="479.0" text-anchor="end" font-size="18.3">40</text>
<text x="681.7" y="554.2" text-anchor="end" font-size="18.3">30</text>
<text x="681.7" y="629.8" text-anchor="end" font-size="18.3">20</text>
<text x="681.7" y="705.4" text-anchor="end" font-size="18.3">10</text>
<text x="681.7" y="780.9" text-anchor="end" font-size="18.3">0</text>
<text transform="translate(34.5 196.0) rotate(-90)" text-anchor="middle" font-size="22">nFeature_RNA</text>
<text transform="translate(55.0 586.6) rotate(-90)" text-anchor="middle" font-size="22">Percent.mito</text>
<text transform="translate(617.0 199.5) rotate(-90)" text-anchor="middle" font-size="22">nCount_RNA</text>
<text transform="translate(643.5 588.0) rotate(-90)" text-anchor="middle" font-size="22">Percent.ribo</text>
<text transform="translate(117.9 795) rotate(-90)" text-anchor="end" font-size="18.4">DMGO_batch1_a</text>
<text transform="translate(150.3 795) rotate(-90)" text-anchor="end" font-size="18.4">DMGO_batch1_b</text>
<text transform="translate(182.8 795) rotate(-90)" text-anchor="end" font-size="18.4">DMGO_batch1_c</text>
<text transform="translate(215.2 795) rotate(-90)" text-anchor="end" font-size="18.4">DMGO_batch1_d</text>
<text transform="translate(247.6 795) rotate(-90)" text-anchor="end" font-size="18.4">DMGO_batch1_e</text>
<text transform="translate(280.1 795) rotate(-90)" text-anchor="end" font-size="18.4">DMGO_batch1_f</text>
<text transform="translate(312.5 795) rotate(-90)" text-anchor="end" font-size="18.4">DMGO_batch1_g</text>
<text transform="translate(344.9 795) rotate(-90)" text-anchor="end" font-size="18.4">DMGO_batch2_a</text>
<text transform="translate(377.3 795) rotate(-90)" text-anchor="end" font-size="18.4">DMGO_batch3_a</text>
<text transform="translate(409.8 795) rotate(-90)" text-anchor="end" font-size="18.4">DMGO_batch3_b</text>
<text transform="translate(442.2 795) rotate(-90)" text-anchor="end" font-size="18.4">DMGO_batch3_c</text>
<text transform="translate(474.6 795) rotate(-90)" text-anchor="end" font-size="18.4">DMGO_batch4_a</text>
<text transform="translate(507.1 795) rotate(-90)" text-anchor="end" font-size="18.4">DMGO_batch4_b</text>
<text transform="translate(539.5 795) rotate(-90)" text-anchor="end" font-size="18.4">DMGO_batch4_c</text>
<text transform="translate(707.9 795) rotate(-90)" text-anchor="end" font-size="18.4">DMGO_batch1_a</text>
<text transform="translate(740.3 795) rotate(-90)" text-anchor="end" font-size="18.4">DMGO_batch1_b</text>
<text transform="translate(772.8 795) rotate(-90)" text-anchor="end" font-size="18.4">DMGO_batch1_c</text>
<text transform="translate(805.2 795) rotate(-90)" text-anchor="end" font-size="18.4">DMGO_batch1_d</text>
<text transform="translate(837.6 795) rotate(-90)" text-anchor="end" font-size="18.4">DMGO_batch1_e</text>
<text transform="translate(870.1 795) rotate(-90)" text-anchor="end" font-size="18.4">DMGO_batch1_f</text>
<text transform="translate(902.5 795) rotate(-90)" text-anchor="end" font-size="18.4">DMGO_batch1_g</text>
<text transform="translate(934.9 795) rotate(-90)" text-anchor="end" font-size="18.4">DMGO_batch2_a</text>
<text transform="translate(967.3 795) rotate(-90)" text-anchor="end" font-size="18.4">DMGO_batch3_a</text>
<text transform="translate(999.8 795) rotate(-90)" text-anchor="end" font-size="18.4">DMGO_batch3_b</text>
<text transform="translate(1032.2 795) rotate(-90)" text-anchor="end" font-size="18.4">DMGO_batch3_c</text>
<text transform="translate(1064.6 795) rotate(-90)" text-anchor="end" font-size="18.4">DMGO_batch4_a</text>
<text transform="translate(1097.1 795) rotate(-90)" text-anchor="end" font-size="18.4">DMGO_batch4_b</text>
<text transform="translate(1129.5 795) rotate(-90)" text-anchor="end" font-size="18.4">DMGO_batch4_c</text></g>
<g id="panel_b"><g fill="none" stroke-linecap="round">
<path stroke="#000" stroke-width="9.6" d="M1912 345h0M1880 311h0M1894 300h0M1952 314h0M1880 346h0M1927 392h0M1948 341h0M1863 370h0M1944 286h0M1912 386h0M1945 310h0M1940 329h0M1927 287h0M1970 351h0M1901 379h0M1984 311h0M1946 330h0M1995 332h0M1958 323h0M1904 241h0M1895 279h0M1947 278h0M1961 274h0M1855 344h0M1900 315h0M1908 329h0M1867 257h0M1929 382h0M1850 375h0M1937 280h0M1931 359h0M1876 288h0M1843 343h0M1906 307h0M1918 330h0M1937 352h0M1875 265h0M1882 327h0M1940 385h0M1966 288h0M1950 283h0M1927 377h0M1926 262h0M1972 333h0M1894 350h0M1902 263h0M1963 305h0M1904 277h0M1846 296h0M1856 356h0M1947 362h0M1963 377h0M1897 290h0M1909 297h0M1878 316h0M1942 372h0M1939 255h0M1926 386h0M1905 283h0M1926 268h0M1936 384h0M1857 317h0M1930 297h0M1872 330h0M1909 313h0M1847 366h0M1919 315h0M1851 362h0M1916 250h0M1918 372h0M1853 295h0M1893 261h0M1906 258h0M1885 349h0M1937 260h0M1832 364h0M1894 381h0M1910 291h0M1833 358h0M1960 300h0M1861 284h0M1884 275h0M1917 266h0M1917 379h0M1869 375h0M1871 277h0M1971 287h0M1962 347h0M1942 273h0M1919 257h0M1858 374h0M1911 260h0M1926 307h0M1890 275h0M1945 352h0M1873 351h0M1877 361h0M1938 374h0M1899 321h0M1929 330h0M1949 369h0M1913 282h0M1859 261h0M1861 352h0M1936 366h0M1985 351h0M1995 342h0M1850 332h0M1951 334h0M1951 325h0M1849 283h0M1952 301h0M1945 260h0M1914 376h0M1938 241h0M1867 312h0M1909 382h0M1928 341h0M1933 354h0M1977 331h0M1889 341h0M1839 313h0M1861 271h0M1891 271h0M1858 301h0M1943 249h0M1942 301h0M1979 294h0M1855 370h0M1939 314h0M1889 265h0M1947 264h0M1954 292h0M1882 387h0M1924 337h0M1917 364h0M1900 357h0M1846 371h0M1966 283h0M1940 368h0M1889 378h0M1903 296h0M1891 287h0M1911 358h0M1987 317h0M1918 288h0M1927 280h0M1904 335h0M1891 335h0M1910 266h0M1885 344h0M1856 386h0M1896 332h0M1890 355h0M1917 353h0M1878 252h0M1903 304h0M1906 355h0M1885 358h0M1900 252h0M1967 343h0M1889 306h0M1870 357h0M1957 341h0M1900 331h0M1893 322h0M1868 283h0M1955 281h0M1957 385h0M1875 275h0M1949 382h0M1901 365h0M1894 357h0M1915 272h0M1896 273h0M1906 316h0M1845 358h0M1992 347h0M1931 261h0M1846 329h0M1893 315h0M1954 275h0M1897 339h0M1913 329h0M1932 245h0M1860 378h0M1932 391h0M1934 321h0M1956 359h0M1865 290h0M1942 294h0M1847 317h0M1919 244h0M1890 347h0M1862 277h0M1889 296h0M1848 352h0M1904 254h0M1889 302h0M1908 269h0M1899 371h0M1880 265h0M1873 366h0M1976 310h0M1971 326h0M1932 336h0M1873 346h0M1953 382h0M1924 292h0M1942 281h0M1942 347h0M1844 375h0M1862 345h0M1892 363h0M1966 327h0M1969 308h0M1880 297h0M1922 279h0M1855 290h0M1873 298h0M1903 344h0M1895 249h0M1880 270h0M1876 334h0M1980 350h0M1957 346h0M1868 327h0M1972 298h0M1864 282h0M1863 293h0M1885 366h0M1877 302h0M1878 325h0M1880 261h0M1986 329h0M1869 388h0M1939 395h0M1915 341h0M1842 321h0M1852 338h0M1912 309h0M1847 288h0M1946 304h0M1946 385h0M1906 291h0M1897 394h0M1859 322h0M1908 324h0M1951 348h0M1852 349h0M1959 292h0M1962 361h0M1866 362h0M1876 384h0M1922 358h0M1879 278h0M1958 370h0M1968 316h0M1896 311h0M1841 362h0M1918 296h0M1985 333h0M1853 280h0M1882 379h0M1960 330h0M1841 302h0M1911 302h0M1895 305h0M1965 300h0M1852 325h0M1974 341h0M1922 332h0M1938 360h0M1970 337h0M1926 246h0M1928 301h0M1915 322h0M1945 375h0M1850 290h0M1897 295h0M1865 272h0M1928 347h0M1912 244h0M1876 294h0M1987 342h0M1888 388h0M1956 287h0M1934 300h0M1868 346h0M1933 257h0M1953 364h0M1921 263h0M1927 258h0M1862 303h0M1939 247h0M1975 354h0M1843 350h0M1919 345h0M1980 298h0M1937 268h0M1956 308h0M1927 315h0M1903 371h0M1908 393h0M1855 330h0M1873 315h0M1934 253h0M1853 304h0M1873 325h0M1966 276h0M1886 255h0M1875 310h0M1861 331h0M1903 348h0M1854 361h0M1878 355h0M1945 390h0M1972 360h0M1900 285h0M1906 389h0M1964 356h0M1901 389h0M1990 332h0M1953 355h0M1931 267h0M1896 268h0M1872 371h0M1909 374h0M1945 325h0M1913 337h0M1943 269h0M1925 369h0M1929 363h0M1935 326h0M1931 387h0M1864 381h0M1847 310h0M1892 281h0M1932 348h0M1922 384h0M1930 312h0M1869 381h0M1899 244h0M1976 303h0M1884 334h0M1931 272h0M1904 272h0M1889 360h0M1980 341h0M1982 305h0M1860 266h0M1918 238h0M1966 372h0M1919 337h0M1838 352h0M1886 288h0M1858 294h0M1952 306h0M1858 310h0M1869 265h0M1932 283h0M1931 316h0M1894 385h0M1907 340h0M1950 390h0M1963 319h0M1901 291h0M1966 294h0M1897 263h0M1933 331h0M1881 291h0M1860 341h0M1879 341h0M1944 320h0M1891 249h0M1922 354h0M1867 331h0M1950 353h0M1972 292h0M1858 288h0M1950 319h0M1879 374h0M1842 286h0M1992 337h0M1858 305h0M1998 337h0M1982 327h0M1883 314h0M1846 334h0M1899 300h0M1990 325h0M1841 325h0M1959 281h0M1889 325h0M1967 322h0M1848 347h0M1858 367h0M1850 298h0M1943 380h0M1986 304h0M1879 369h0M1926 240h0M1915 262h0M1904 396h0M1863 324h0M1918 368h0M1934 342h0M1882 361h0M1951 337h0M1937 347h0M1932 373h0M1932 237h0M1967 361h0M1886 260h0M1917 358h0M1856 351h0M1895 376h0M1935 295h0M1972 347h0M1865 300h0M1870 257h0M1902 385h0M1890 385h0M1956 318h0M1924 297h0M1882 353h0M1936 392h0M1972 312h0M1895 344h0M1849 306h0M1960 367h0M1882 301h0M1913 367h0M1960 379h0M1870 272h0M1865 390h0M1855 378h0M1847 325h0M1988 312h0M1842 316h0M1869 365h0M1909 349h0M1891 393h0M1911 250h0M1986 337h0M1969 368h0M1907 364h0M1915 256h0M1867 352h0M1913 268h0M1914 292h0M1893 372h0M1891 310h0M1840 368h0M1852 314h0M1905 377h0M1901 275h0M1949 289h0M1841 290h0M1875 255h0M1895 390h0M1937 275h0M1861 316h0M1873 282h0M1922 375h0M1964 337h0M1870 251h0M1910 238h0M1874 378h0M1986 323h0M1887 279h0M1918 386h0M1938 379h0M1943 245h0M1908 277h0M1897 258h0M1922 251h0M1901 325h0M1922 311h0M1897 367h0M1925 328h0M1859 326h0M1940 285h0M1940 264h0M1931 368h0M1884 297h0M1954 375h0M1845 303h0M1909 369h0M1850 357h0M1955 338h0M1889 315h0M1850 319h0M1885 310h0M1942 364h0M1871 294h0M1911 318h0M1926 356h0M1846 339h0M1863 308h0M1923 284h0M1854 335h0M1836 363h0M1876 306h0M1925 274h0M1883 372h0M1889 291h0M1980 335h0M1912 390h0M1931 325h0M1928 250h0M1891 257h0M1905 249h0M1973 304h0M1960 312h0M1884 330h0M1934 380h0M1908 287h0M1947 254h0M1940 322h0M1856 284h0M1949 295h0M1944 315h0M1899 349h0M1887 272h0M1915 278h0M1953 343h0M1850 379h0M1861 387h0M1988 298h0M1951 378h0M1912 287h0M1888 251h0M1953 387h0M1962 285h0M1858 277h0M1965 352h0M1836 372h0M1962 327h0M1921 341h0M1962 278h0M1985 346h0M1931 304h0M1901 257h0M1864 261h0M1899 306h0M1879 349h0M1913 363h0M1865 267h0M1875 270h0M1918 309h0M1877 391h0M1943 359h0M1893 292h0M1914 371h0M1946 346h0M1939 290h0M1902 360h0M1948 299h0M1840 307h0M1888 284h0M1874 320h0M1948 365h0M1875 259h0M1906 262h0M1858 346h0M1925 351h0M1940 342h0M1885 339h0M1991 342h0M1888 368h0M1956 297h0M1931 291h0M1913 296h0M1968 331h0M1963 315h0M1932 309h0M1840 375h0M1922 379h0M1953 371h0M1914 314h0M1919 325h0M1969 364h0M1965 367h0M1947 322h0M1943 256h0M1896 326h0M1932 278h0M1936 338h0M1885 265h0M1980 313h0M1907 360h0M1917 318h0M1905 311h0M1840 356h0M1988 308h0M1892 329h0M1907 245h0M1927 294h0M1923 364h0M1982 317h0M1930 254h0M1863 375h0M1947 357h0M1897 361h0M1947 274h0M1880 382h0M1896 284h0M1832 371h0M1956 327h0M1938 388h0M1900 279h0M1862 358h0M1945 394h0M1976 346h0M1920 292h0M1965 311h0M1870 261h0M1976 359h0M1909 255h0M1835 366h0M1951 359h0M1968 355h0M1910 332h0M1841 295h0M1963 340h0M1942 306h0M1869 300h0M1992 318h0M1975 335h0M1863 312h0M1885 383h0M1955 331h0M1863 254h0M1936 317h0M1867 296h0M1888 329h0M1899 334h0M1934 312h0M1944 290h0M1883 252h0M1865 385h0M1850 343h0M1986 295h0M1975 350h0M1935 248h0M1894 255h0M1910 354h0M1890 320h0M1853 309h0M1860 384h0M1902 339h0M1879 336h0M1882 306h0M1877 282h0M1899 238h0M1915 240h0M1896 318h0M1924 303h0M1852 285h0M1956 350h0M1902 353h0M1913 380h0M1839 347h0M1957 275h0M1845 291h0M1897 353h0M1924 255h0M1875 343h0M1872 361h0M1923 236h0M1937 236h0M1863 366h0M1842 259h0M1819 262h0M1852 248h0M1835 295h0M1844 266h0M1827 285h0M1836 284h0M1813 293h0M1848 274h0M1826 254h0M1808 268h0M1821 306h0M1823 270h0M1832 312h0M1818 269h0M1828 263h0M1853 262h0M1818 287h0M1872 287h0M1813 256h0M1837 264h0M1819 302h0M1831 268h0M1836 320h0M1835 299h0M1865 251h0M1826 281h0M1827 305h0M1825 276h0M1834 257h0M1853 272h0M1814 278h0M1835 245h0M1824 296h0M1820 292h0M1839 251h0M1821 277h0M1846 256h0M1807 285h0M1834 289h0M1822 260h0M1820 249h0M1830 295h0M1829 276h0M1814 247h0M1834 252h0M1809 288h0M1824 301h0M1830 308h0M1829 300h0M1822 285h0M1883 284h0M1813 299h0M1864 319h0M1809 275h0M1871 307h0M1831 282h0M1827 258h0M1834 276h0M1812 261h0M1813 269h0M1836 307h0M1847 262h0M1819 256h0M1850 252h0M1827 247h0M1842 272h0M1837 269h0M1825 289h0M1815 266h0M1825 309h0M1810 281h0M1835 315h0M1830 249h0M1832 262h0M1858 248h0M1838 280h0M1817 296h0M1855 267h0M1849 269h0M1814 304h0M1838 256h0M1868 318h0M1814 285h0M1817 282h0M1815 253h0M1823 264h0M1851 276h0M1830 289h0M1817 275h0M1885 302h0M1830 255h0M1846 321h0M1866 305h0M1846 251h0M1836 303h0M1857 272h0M1818 243h0M1885 293h0M1840 275h0M1855 320h0M1827 268h0M1858 253h0M1822 274h0M1860 257h0M1804 267h0M1818 309h0M1813 274h0M1832 305h0M1807 239h0M1800 242h0M1797 253h0M1807 243h0M1798 263h0M1805 274h0M1806 254h0M1806 259h0M1795 257h0M1799 257h0M1794 247h0M1809 249h0M1801 250h0M1802 237h0M1807 263h0M1804 247h0M1802 263h0M1798 246h0M1792 251h0M1824 250h0M1815 241h0M1794 242h0M1816 259h0M1924 195h0M1952 232h0M1936 203h0M1951 250h0M1962 182h0M1962 206h0M1945 219h0M1952 196h0M1924 224h0M1980 208h0M1930 184h0M1968 222h0M1959 209h0M1934 226h0M1944 193h0M1955 189h0M1929 211h0M1956 218h0M1935 216h0M1921 185h0M1957 194h0M1958 177h0M1949 186h0M1919 199h0M1951 208h0M1948 201h0M1930 173h0M1964 216h0M1966 209h0M1940 220h0M1974 210h0M1973 195h0M1946 211h0M1916 229h0M1941 179h0M1954 180h0M1909 226h0M1936 189h0M1976 201h0M1953 227h0M1959 201h0M1919 215h0M1966 201h0M1966 226h0M1938 175h0M1958 231h0M1966 189h0M1930 199h0M1919 195h0M1963 195h0M1916 208h0M1941 190h0M1949 236h0M1961 225h0M1917 184h0M1966 234h0M1978 216h0M1925 201h0M1943 215h0M1981 222h0M1968 178h0M1955 245h0M1936 194h0M1941 233h0M1948 245h0M1936 210h0M1910 219h0M1918 220h0M1952 239h0M1944 199h0M1934 179h0M1949 215h0M1975 227h0M1980 197h0M1941 207h0M1930 190h0M1985 225h0M1974 205h0M1982 232h0M1946 176h0M1973 234h0M1955 203h0M1974 216h0M1955 213h0M1915 198h0M1962 239h0M1935 198h0M1924 216h0M1936 222h0M1968 184h0M1945 183h0M1934 232h0M1983 210h0M1919 190h0M1986 216h0M1926 181h0M1967 196h0M1971 199h0M1938 184h0M1959 247h0M1949 229h0M1920 232h0M1931 205h0M1931 229h0M1957 242h0M1950 191h0M1906 229h0M1970 228h0M1960 235h0M1916 234h0M1970 212h0M1962 229h0M1915 203h0M1982 227h0M1968 238h0M1950 176h0M1960 218h0M1920 225h0M1975 221h0M1962 188h0M1946 239h0M1938 231h0M1929 194h0M1953 184h0M1955 207h0M1914 213h0M1940 201h0M1930 233h0M1915 224h0M1906 222h0M1912 234h0M1947 207h0M1957 222h0M1969 205h0M1915 193h0M1957 185h0M1970 192h0M1979 237h0M1927 177h0M1941 238h0M1931 222h0M1945 189h0M1926 213h0M1985 221h0M1909 213h0M1972 224h0M2001 205h0M1983 255h0M1980 250h0M1996 227h0M1987 251h0M1974 248h0M1996 213h0M1983 245h0M1990 246h0M2006 220h0M1983 239h0M2014 237h0M2007 209h0M2001 231h0M2006 260h0M1990 218h0M2009 228h0M2009 241h0M1997 257h0M2004 236h0M1992 210h0M1985 261h0M1974 241h0M1978 243h0M2003 245h0M1991 260h0M1968 253h0M2009 249h0M2000 240h0M1996 240h0M1990 240h0M2005 214h0M2019 242h0M2012 215h0M2014 226h0M2016 247h0M1993 252h0M1968 243h0M1989 227h0M1975 255h0M2008 256h0M1993 205h0M2012 244h0M1999 222h0M2004 226h0M1965 248h0M2018 238h0M2018 231h0M2001 218h0M1993 236h0M1997 264h0M2014 221h0M2002 257h0M2005 266h0M1993 223h0M2014 232h0M1989 265h0M1996 246h0M1998 207h0M1962 244h0M1992 231h0M1995 218h0M1987 243h0M2008 233h0M2013 253h0M1988 237h0M1989 255h0M1986 233h0M1987 212h0M1961 252h0M1998 235h0M2002 210h0M2007 246h0M1970 249h0M2004 241h0M1969 217h0M2000 227h0M1979 257h0M1971 245h0M2009 223h0M2023 239h0M1992 264h0M1993 215h0M1983 214h0M1969 232h0M2000 214h0M2018 224h0M1997 230h0M1998 202h0M2023 225h0M2016 206h0M2025 235h0M2019 217h0M2013 207h0M2018 210h0M2025 216h0M2012 201h0M2007 203h0M2025 229h0M2016 214h0M2023 220h0M2021 310h0M2027 262h0M2002 324h0M2005 312h0M2029 280h0M2006 304h0M2010 282h0M2026 286h0M2012 336h0M1987 280h0M2003 331h0M2024 318h0M2009 288h0M2025 303h0M1992 285h0M1996 294h0M2002 318h0M2000 280h0M2022 314h0M2000 309h0M2013 305h0M2022 295h0M2015 270h0M2020 274h0M2009 327h0M2011 317h0M2017 320h0M2029 299h0M1997 270h0M2008 336h0M2003 295h0M1994 306h0M2001 272h0M2031 286h0M2019 330h0M2033 301h0M2026 273h0M2018 325h0M2006 272h0M2028 293h0M2003 285h0M1993 275h0M2011 342h0M2012 312h0M2019 299h0M2018 268h0M2014 296h0M1991 293h0M2023 270h0M2007 298h0M2011 273h0M2006 340h0M2030 276h0M2007 320h0M2014 331h0M2018 313h0M2002 263h0M2027 309h0M1996 288h0M2010 267h0M1997 276h0M1997 312h0M1987 286h0M2017 257h0M2001 290h0M1988 290h0M2003 308h0M2007 315h0M2004 279h0M2006 291h0M2016 288h0M2020 262h0M2019 304h0M2028 289h0M2031 265h0M1991 270h0M1989 274h0M1993 313h0M2015 263h0M2013 301h0M2009 308h0M2021 321h0M2022 290h0M2013 323h0M2013 291h0M1996 284h0M2031 271h0M2027 313h0M2012 278h0M2025 266h0M2001 268h0M1994 322h0M2023 260h0M2025 323h0M2015 275h0M2016 316h0M2009 295h0M1993 281h0M1991 302h0M2011 261h0M2030 304h0M2024 299h0M2001 394h0M1973 376h0M2009 354h0M1987 398h0M1992 353h0M1976 386h0M1993 367h0M2006 372h0M1983 376h0M1992 362h0M2013 362h0M2010 371h0M2006 347h0M2001 353h0M1990 384h0M1992 392h0M2003 386h0M1977 381h0M1970 382h0M1964 382h0M1994 374h0M1962 372h0M1999 369h0M1980 394h0M1981 385h0M1995 326h0M2012 348h0M1998 386h0M2006 380h0M1999 376h0M1976 369h0M2006 368h0M1983 354h0M1994 356h0M1982 360h0M2008 361h0M2001 344h0M1985 366h0M1987 394h0M1999 359h0M1996 394h0M1985 386h0M1994 382h0M2016 365h0M1984 369h0M1959 357h0M1989 377h0M1985 380h0M1998 349h0M1978 390h0M1981 345h0M1988 370h0M1969 377h0M1979 364h0M2006 358h0M2000 382h0M2013 357h0M1960 352h0M1978 377h0M1989 358h0M1980 370h0M1983 340h0M1971 340h0M2002 339h0M1994 387h0M2009 376h0M2006 351h0M1972 389h0M2012 366h0M1986 374h0M1998 330h0M2001 390h0M1982 389h0M1990 395h0M1989 366h0M1997 353h0M2003 376h0M2002 335h0M1996 371h0M1974 364h0M1972 355h0M2017 362h0M1967 386h0M1990 388h0M1982 397h0M1957 363h0M2006 391h0M1934 403h0M1918 402h0M1922 404h0M1930 395h0M1909 405h0M1946 402h0M1912 397h0M1921 391h0M1956 395h0M1920 397h0M1906 401h0M1930 399h0M1958 390h0M1925 396h0M1953 398h0M1962 388h0M1900 375h0M1916 389h0M1926 401h0M1939 400h0M1914 406h0M1916 396h0M1911 401h0M1941 406h0M1903 403h0M1904 381h0M1899 399h0M1928 373h0M1934 397h0M1948 398h0M1942 399h0M1766 133h0M1775 143h0M1753 120h0M1746 165h0M1729 151h0M1737 129h0M1778 151h0M1717 124h0M1736 169h0M1762 120h0M1750 154h0M1786 120h0M1745 153h0M1765 149h0M1733 156h0M1789 169h0M1751 160h0M1780 160h0M1758 190h0M1766 190h0M1794 156h0M1720 143h0M1733 122h0M1742 176h0M1793 166h0M1732 166h0M1779 182h0M1791 121h0M1728 140h0M1765 166h0M1744 117h0M1770 179h0M1768 198h0M1756 161h0M1750 148h0M1776 137h0M1787 147h0M1769 116h0M1744 183h0M1779 115h0M1796 146h0M1756 152h0M1755 146h0M1772 151h0M1753 137h0M1781 169h0M1791 127h0M1748 125h0M1758 116h0M1795 140h0M1729 145h0M1791 143h0M1746 136h0M1750 180h0M1731 135h0M1755 172h0M1729 126h0M1740 155h0M1783 145h0M1725 168h0M1780 120h0M1750 191h0M1767 128h0M1773 126h0M1791 134h0M1774 158h0M1766 156h0M1747 175h0M1738 134h0M1782 135h0M1723 137h0M1732 171h0M1790 152h0M1772 139h0M1775 188h0M1766 179h0M1724 157h0M1785 165h0M1772 185h0M1761 142h0M1797 161h0M1754 185h0M1749 140h0M1723 152h0M1773 116h0M1737 140h0M1735 178h0M1719 148h0M1774 111h0M1782 109h0M1728 162h0M1719 164h0M1767 173h0M1747 187h0M1780 141h0M1766 142h0M1733 146h0M1756 156h0M1719 160h0M1759 164h0M1740 115h0M1731 130h0M1785 158h0M1771 121h0M1743 132h0M1750 169h0M1760 175h0M1750 196h0M1738 148h0M1759 124h0M1769 160h0M1772 170h0M1735 115h0M1746 145h0M1744 140h0M1763 187h0M1754 142h0M1745 158h0M1738 124h0M1778 178h0M1771 131h0M1768 137h0M1731 160h0M1758 134h0M1738 181h0M1740 167h0M1753 165h0M1788 139h0M1774 166h0M1754 192h0M1786 129h0M1787 125h0M1754 114h0M1719 130h0M1744 112h0M1764 195h0M1783 151h0M1778 145h0M1740 185h0M1741 137h0M1772 135h0M1763 129h0M1743 125h0M1762 137h0M1769 112h0M1749 131h0M1784 116h0M1791 161h0M1784 174h0M1776 171h0M1724 144h0M1725 132h0M1742 171h0M1726 148h0M1727 136h0M1724 125h0M1771 155h0M1771 194h0M1761 152h0M1778 164h0M1748 116h0M1761 158h0M1738 111h0M1777 130h0M1735 206h0M1761 180h0M1738 199h0M1723 202h0M1721 178h0M1747 214h0M1739 221h0M1732 201h0M1756 207h0M1731 220h0M1713 188h0M1714 203h0M1725 216h0M1704 192h0M1728 225h0M1731 191h0M1708 196h0M1715 194h0M1745 206h0M1719 207h0M1720 172h0M1758 199h0M1728 205h0M1719 223h0M1740 195h0M1742 211h0M1711 195h0M1707 178h0M1738 213h0M1713 180h0M1705 201h0M1707 184h0M1731 210h0M1727 195h0M1716 169h0M1744 219h0M1729 178h0M1719 198h0M1744 201h0M1732 226h0M1754 213h0M1740 206h0M1715 210h0M1751 175h0M1750 210h0M1762 206h0M1758 211h0M1725 176h0M1732 186h0M1736 185h0M1752 201h0M1738 175h0M1724 221h0M1715 217h0M1737 192h0M1729 182h0M1758 183h0M1710 201h0M1758 216h0M1737 218h0M1703 197h0M1721 213h0M1716 175h0M1742 189h0M1748 201h0M1733 194h0M1760 195h0M1726 210h0M1754 179h0M1745 195h0M1719 202h0M1722 209h0M1709 190h0M1754 196h0M1764 183h0M1748 217h0M1732 216h0M1714 198h0M1732 182h0M1792 206h0M1808 188h0M1780 196h0M1798 177h0M1802 189h0M1799 205h0M1812 179h0M1798 196h0M1804 217h0M1783 206h0M1787 197h0M1788 182h0M1791 216h0M1768 204h0M1805 181h0M1807 176h0M1775 204h0M1789 203h0M1797 191h0M1809 197h0M1807 172h0M1790 175h0M1799 169h0M1788 190h0M1780 188h0M1793 212h0M1776 217h0M1810 208h0M1778 212h0M1771 209h0M1814 204h0M1814 175h0M1787 208h0M1806 203h0M1784 193h0M1806 167h0M1791 179h0M1814 193h0M1806 210h0M1784 212h0M1786 216h0M1791 194h0M1802 165h0M1776 198h0M1783 178h0M1793 185h0M1781 221h0M1795 170h0M1783 200h0M1804 194h0M1792 199h0M1796 201h0M1800 215h0M1803 174h0M1813 198h0M1808 214h0M1795 175h0M1779 203h0M1797 220h0M1781 216h0M1800 201h0M1789 187h0M1789 212h0M1792 190h0M1771 201h0M1811 172h0M1803 205h0M1780 175h0M1777 192h0M1812 184h0M1719 109h0M1707 120h0M1711 115h0M1730 114h0M1732 110h0M1725 111h0M1711 126h0M1712 121h0M1722 115h0M1713 132h0M1727 120h0M1715 113h0M1715 118h0M1711 108h0M1721 104h0M1716 128h0M1722 133h0M1732 118h0M1720 119h0M1716 105h0M1776 242h0M1752 232h0M1757 234h0M1776 228h0M1771 241h0M1756 225h0M1762 241h0M1783 246h0M1784 232h0M1750 225h0M1766 224h0M1784 236h0M1796 233h0M1755 240h0M1773 234h0M1766 235h0M1762 231h0M1780 241h0M1737 229h0M1743 228h0M1746 238h0M1765 228h0M1776 237h0M1740 235h0M1793 238h0M1780 230h0M1751 238h0M1790 243h0M1769 229h0M1761 225h0M1789 232h0M1787 226h0M1751 243h0M1769 247h0M1736 233h0M1748 231h0M1770 223h0M1789 239h0M1761 236h0M1756 221h0M1781 226h0M1779 244h0M1812 192h0M1818 197h0M1815 202h0M1818 202h0M1821 205h0M1821 208h0M1821 209h0M1828 211h0M1826 209h0M1831 216h0M1830 223h0M1831 221h0M1836 229h0M1835 228h0M1839 230h0M1841 236h0M1839 235h0M1842 244h0M1844 242h0M1846 244h0M1845 245h0M1847 250h0M1848 248h0M1854 254h0M1849 257h0M1855 263h0M1659 84h0M1665 84h0M1672 89h0M1678 89h0M1684 98h0M1690 96h0M1687 99h0M1697 106h0M1696 101h0M1709 104h0M1709 108h0M1716 109h0M1720 103h0M1723 104h0M1728 114h0M1740 109h0M1699 100h0M1699 102h0M1702 108h0M1702 109h0M1699 116h0M1659 49h0M1655 57h0M1667 47h0M1658 62h0M1665 56h0M1656 41h0M1661 54h0M1666 52h0M1660 44h0M1664 37h0M1656 52h0M1663 60h0M1541 404h0M1544 399h0M1564 382h0M1548 389h0M1557 389h0M1533 414h0M1556 373h0M1563 398h0M1568 376h0M1558 379h0M1559 417h0M1544 413h0M1552 418h0M1542 390h0M1566 404h0M1529 386h0M1574 385h0M1537 374h0M1533 404h0M1561 374h0M1564 387h0M1534 382h0M1562 411h0M1530 392h0M1528 404h0M1570 381h0M1562 403h0M1543 383h0M1538 416h0M1548 404h0M1547 394h0M1549 376h0M1541 378h0M1547 379h0M1533 399h0M1578 393h0M1555 384h0M1535 409h0M1540 409h0M1530 378h0M1559 400h0M1554 423h0M1539 397h0M1546 418h0M1572 408h0M1551 395h0M1560 407h0M1539 386h0M1555 406h0M1564 392h0M1535 391h0M1572 397h0M1577 403h0M1540 413h0M1549 383h0M1570 370h0M1554 401h0M1553 388h0M1527 398h0M1579 388h0M1558 411h0M1569 393h0M1583 394h0M1567 408h0M1593 419h0M1577 428h0M1603 422h0M1585 407h0M1589 400h0M1578 411h0M1591 413h0M1605 413h0M1575 417h0M1600 405h0M1589 419h0M1595 409h0M1581 403h0M1592 425h0M1586 426h0M1582 413h0M1594 403h0M1573 421h0M1597 423h0M1570 417h0M1599 412h0M1582 422h0M1589 408h0M1576 424h0M1572 403h0M1604 408h0M1596 416h0M1513 351h0M1524 364h0M1511 344h0M1524 333h0M1520 347h0M1520 353h0M1527 343h0M1523 357h0M1516 360h0M1530 362h0M1528 366h0M1505 353h0M1525 338h0M1529 351h0M1532 355h0M1505 359h0M1534 347h0M1513 338h0M1521 342h0M1528 358h0M1561 333h0M1564 344h0M1555 345h0M1552 326h0M1554 351h0M1551 334h0M1545 333h0M1567 340h0M1559 352h0M1549 340h0M1564 348h0M1563 326h0M1558 321h0M1553 319h0M1548 346h0M1590 304h0M1576 302h0M1594 301h0M1580 309h0M1597 314h0M1589 325h0M1588 298h0M1579 317h0M1579 324h0M1573 309h0M1600 300h0M1577 295h0M1584 288h0M1584 317h0M1586 329h0M1589 320h0M1598 309h0M1593 310h0M1581 329h0M1595 320h0M1573 324h0M1585 324h0M1575 332h0M1572 314h0M1580 299h0M1595 328h0M1602 321h0M1575 286h0M1570 282h0M1591 289h0M1596 287h0M1561 286h0M1591 284h0M1580 272h0M1581 283h0M1566 291h0M1587 279h0M1575 274h0M1567 273h0M1566 279h0M1586 273h0M1578 280h0M1593 279h0M1572 289h0M1566 285h0M1571 295h0M1572 269h0M1587 286h0M1597 296h0M1605 301h0M1606 310h0M1601 313h0M1610 303h0M1606 298h0M1601 305h0M1615 304h0M1615 313h0M1602 296h0M1607 317h0M1658 332h0M1663 315h0M1640 317h0M1655 351h0M1660 340h0M1664 348h0M1672 342h0M1626 322h0M1671 336h0M1634 331h0M1654 335h0M1632 320h0M1646 314h0M1670 317h0M1652 313h0M1636 340h0M1670 347h0M1665 324h0M1640 349h0M1648 330h0M1638 336h0M1674 328h0M1647 344h0M1668 332h0M1632 338h0M1645 320h0M1676 319h0M1643 335h0M1659 346h0M1642 327h0M1652 344h0M1624 330h0M1677 336h0M1671 323h0M1663 336h0M1648 349h0M1634 324h0M1648 326h0M1659 320h0M1652 317h0M1656 324h0M1677 427h0M1669 374h0M1670 432h0M1643 391h0M1669 409h0M1696 378h0M1669 402h0M1647 386h0M1687 375h0M1697 383h0M1692 373h0M1665 385h0M1692 419h0M1709 397h0M1666 417h0M1707 383h0M1696 410h0M1701 423h0M1661 402h0M1672 382h0M1676 413h0M1662 373h0M1674 370h0M1684 384h0M1700 403h0M1660 379h0M1693 368h0M1701 391h0M1642 395h0M1660 364h0M1692 386h0M1684 422h0M1678 398h0M1655 400h0M1683 391h0M1697 417h0M1704 405h0M1650 371h0M1682 411h0M1659 387h0M1658 420h0M1653 407h0M1677 419h0M1662 421h0M1689 400h0M1666 405h0M1656 392h0M1678 375h0M1704 417h0M1684 415h0M1684 398h0M1655 372h0M1708 391h0M1659 369h0M1670 366h0M1701 373h0M1694 425h0M1685 368h0M1668 421h0M1692 391h0M1654 414h0M1687 427h0M1673 425h0M1655 376h0M1664 392h0M1660 408h0M1648 381h0M1693 405h0M1667 397h0M1679 366h0M1699 413h0M1709 369h0M1679 387h0M1707 374h0M1680 424h0M1649 397h0M1714 380h0M1693 382h0M1683 380h0M1688 381h0M1689 411h0M1668 379h0M1644 376h0M1678 403h0M1640 388h0M1669 427h0M1697 389h0M1657 405h0M1656 384h0M1678 371h0M1657 425h0M1715 392h0M1658 398h0M1646 394h0M1695 400h0M1650 391h0M1667 389h0M1679 360h0M1675 434h0M1704 413h0M1705 386h0M1677 381h0M1648 375h0M1704 378h0M1684 373h0M1702 369h0M1698 397h0M1690 396h0M1665 426h0M1688 389h0M1704 398h0M1702 409h0M1709 379h0M1688 417h0M1713 371h0M1713 387h0M1649 402h0M1664 368h0M1653 423h0M1655 410h0M1718 375h0M1718 344h0M1706 346h0M1709 354h0M1719 369h0M1710 336h0M1716 349h0M1729 350h0M1723 380h0M1696 355h0M1722 341h0M1698 362h0M1723 367h0M1709 363h0M1705 357h0M1718 338h0M1730 371h0M1688 356h0M1712 341h0M1692 344h0M1685 348h0M1730 363h0M1720 354h0M1699 343h0M1694 348h0M1734 342h0M1723 349h0M1712 365h0M1697 367h0M1705 336h0M1687 351h0M1735 349h0M1690 362h0M1725 375h0M1732 355h0M1728 344h0M1700 380h0M1699 335h0M1704 363h0M1702 353h0M1682 354h0M1729 376h0M1714 353h0M1687 359h0M1717 365h0M1712 349h0M1693 359h0M1738 356h0M1732 359h0M1707 342h0M1701 347h0M1726 353h0M1693 353h0M1705 350h0M1694 338h0M1698 350h0M1727 369h0M1714 333h0M1736 361h0M1696 372h0M1733 367h0M1724 345h0M1703 343h0M1727 339h0M1694 363h0M1714 345h0M1745 342h0M1763 325h0M1782 328h0M1771 330h0M1770 322h0M1748 328h0M1738 329h0M1730 327h0M1760 319h0M1772 338h0M1739 339h0M1731 335h0M1781 336h0M1725 334h0M1753 338h0M1752 325h0M1756 319h0M1748 322h0M1778 321h0M1774 324h0M1765 339h0M1760 330h0M1735 336h0M1763 334h0M1756 341h0M1745 333h0M1776 334h0M1760 339h0M1755 331h0M1740 323h0M1743 338h0M1775 330h0M1750 317h0M1783 323h0M1788 333h0M1740 334h0M1750 332h0M1749 336h0M1677 299h0M1700 302h0M1688 299h0M1686 304h0M1705 296h0M1694 312h0M1692 305h0M1669 297h0M1698 293h0M1673 303h0M1711 299h0M1691 289h0M1704 291h0M1666 301h0M1681 299h0M1705 305h0M1671 293h0M1707 301h0M1687 313h0M1708 289h0M1693 293h0M1709 306h0M1716 294h0M1679 294h0M1609 370h0M1636 396h0M1629 377h0M1608 390h0M1624 360h0M1633 368h0M1623 372h0M1621 365h0M1629 397h0M1628 384h0M1624 378h0M1615 372h0M1613 378h0M1625 391h0M1627 369h0M1606 377h0M1621 400h0M1614 392h0M1633 376h0M1614 398h0M1637 383h0M1620 394h0M1621 387h0M1602 381h0M1638 378h0M1622 439h0M1634 425h0M1633 433h0M1614 431h0M1643 437h0M1628 437h0M1641 422h0M1633 443h0M1616 420h0M1641 432h0M1637 440h0M1614 436h0M1618 427h0M1627 446h0M1646 426h0M1613 425h0M1635 419h0M1622 434h0M1640 418h0M1662 440h0M1656 446h0M1646 450h0M1668 440h0M1655 442h0M1645 444h0M1650 436h0M1652 459h0M1655 453h0M1672 448h0M1664 452h0M1662 446h0M1673 441h0M1513 404h0M1486 397h0M1495 402h0M1494 385h0M1489 403h0M1509 402h0M1509 391h0M1492 397h0M1493 411h0M1504 386h0M1496 379h0M1496 407h0M1504 410h0M1502 402h0M1502 373h0M1605 341h0M1597 341h0M1612 339h0M1599 334h0M1617 350h0M1619 356h0M1609 333h0M1598 351h0M1605 348h0M1607 358h0M1612 352h0M1606 352h0M1620 345h0M1730 416h0M1726 409h0M1722 424h0M1721 429h0M1730 424h0M1732 408h0M1722 416h0M1736 425h0M1713 427h0M1716 430h0M1721 406h0M1737 413h0M1714 412h0M1722 439h0M1713 420h0M1715 416h0M1728 403h0M1521 446h0M1516 446h0M1524 445h0M1511 448h0M1519 452h0M1521 453h0M1530 452h0M1524 458h0M1523 464h0M1530 458h0M1529 461h0M1535 464h0M1537 471h0M1535 472h0M1528 470h0M1531 476h0M1536 479h0M1538 476h0M1539 482h0M1533 489h0M1537 490h0M1535 493h0M1537 492h0M1542 495h0M1560 460h0M1561 464h0M1568 469h0M1569 468h0M1577 469h0M1581 475h0M1583 470h0M1585 473h0M1598 474h0M1596 479h0M1595 478h0M1603 484h0M1607 479h0M1614 489h0M1612 485h0M1626 464h0M1637 461h0M1632 467h0M1637 470h0M1638 475h0M1638 480h0M1646 475h0M1654 490h0M1648 484h0M1696 462h0M1701 457h0M1670 461h0M1694 471h0M1686 464h0M1683 467h0M1715 463h0M1706 456h0M1677 465h0M1685 459h0M1693 452h0M1690 468h0M1672 468h0M1679 470h0M1714 470h0M1676 459h0M1746 373h0M1752 383h0M1734 392h0M1753 388h0M1744 418h0M1743 392h0M1740 374h0M1748 400h0M1741 397h0M1729 390h0M1746 385h0M1743 412h0M1731 396h0M1745 405h0M1746 379h0M1747 393h0M1740 380h0M1740 407h0M1736 384h0M1734 379h0M1466 339h0M1463 348h0M1469 352h0M1466 355h0M1466 354h0M1465 359h0M1468 363h0M1468 364h0M1503 378h0M1497 382h0M1504 392h0M1511 399h0M1515 399h0M1517 401h0M1522 410h0M1761 355h0M1773 349h0M1775 344h0M1779 347h0M1785 343h0M1784 339h0M1797 337h0M1792 332h0M1436 403h0M1473 419h0M1478 415h0M1450 412h0M1452 394h0M1458 383h0M1442 409h0M1449 405h0M1462 398h0M1476 401h0M1468 413h0M1471 401h0M1455 410h0M1467 386h0M1468 397h0M1466 418h0M1481 411h0M1476 408h0M1474 387h0M1453 400h0M1459 402h0M1450 431h0M1481 405h0M1485 388h0M1462 425h0M1457 390h0M1463 406h0M1435 411h0M1485 418h0M1447 393h0M1473 405h0M1443 404h0M1482 400h0M1444 417h0M1462 415h0M1471 428h0M1478 430h0M1467 436h0M1487 384h0M1431 407h0M1451 387h0M1481 426h0M1454 417h0M1462 433h0M1442 423h0M1448 427h0M1467 429h0M1476 424h0M1458 395h0M1457 379h0M1440 392h0M1460 421h0M1463 379h0M1472 382h0M1467 405h0M1460 409h0M1481 390h0M1448 400h0M1487 424h0M1458 430h0M1488 413h0M1481 381h0M1437 398h0M1463 388h0M1467 391h0M1454 424h0M1444 388h0M1482 386h0M1486 407h0M1483 429h0M1431 403h0M1473 412h0M1441 397h0M1478 386h0M1437 407h0M1470 409h0M1449 421h0M1472 393h0M1481 418h0M1488 393h0M1431 413h0M1440 387h0M1463 392h0M1440 416h0M1469 423h0M1449 417h0M1474 432h0M1481 435h0M1453 383h0M1431 398h0M1468 381h0M1447 409h0M1455 405h0M1484 392h0M1447 467h0M1474 476h0M1491 455h0M1474 446h0M1472 461h0M1455 468h0M1463 487h0M1481 475h0M1495 471h0M1449 456h0M1487 460h0M1449 462h0M1456 475h0M1472 483h0M1446 442h0M1450 440h0M1459 459h0M1478 479h0M1467 492h0M1467 481h0M1455 450h0M1464 457h0M1459 482h0M1466 474h0M1484 456h0M1458 454h0M1472 492h0M1466 466h0M1492 451h0M1498 465h0M1463 441h0M1467 454h0M1486 448h0M1477 456h0M1479 447h0M1475 440h0M1472 452h0M1481 463h0M1497 455h0M1448 477h0M1468 462h0M1447 447h0M1484 481h0M1477 486h0M1491 446h0M1465 449h0M1446 473h0M1468 442h0M1483 443h0M1495 461h0M1461 472h0M1453 458h0M1483 485h0M1446 452h0M1475 436h0M1460 464h0M1499 460h0M1489 474h0M1452 480h0M1452 475h0M1505 466h0M1470 457h0M1488 468h0M1454 472h0M1458 444h0M1456 463h0M1502 462h0M1440 455h0M1458 486h0M1498 449h0M1456 436h0M1445 458h0M1493 466h0M1473 467h0M1476 465h0M1476 452h0M1462 446h0M1483 452h0M1471 487h0M1455 442h0M1487 441h0M1477 471h0M1479 440h0M1443 464h0M1462 452h0M1462 478h0M1443 470h0M1486 477h0M1451 446h0M1451 452h0M1470 448h0M1699 535h0M1663 503h0M1655 548h0M1695 498h0M1656 509h0M1701 509h0M1690 485h0M1685 493h0M1681 508h0M1644 543h0M1676 506h0M1667 535h0M1621 516h0M1631 510h0M1685 480h0M1651 514h0M1655 485h0M1624 499h0M1664 515h0M1641 532h0M1671 544h0M1676 543h0M1684 501h0M1662 487h0M1684 534h0M1676 518h0M1637 481h0M1625 513h0M1677 486h0M1650 522h0M1645 511h0M1615 526h0M1646 528h0M1626 518h0M1672 549h0M1644 474h0M1613 515h0M1638 498h0M1623 527h0M1630 529h0M1617 519h0M1671 524h0M1701 491h0M1640 524h0M1681 523h0M1688 513h0M1705 527h0M1701 504h0M1666 522h0M1661 508h0M1642 491h0M1669 481h0M1703 499h0M1711 506h0M1650 497h0M1697 528h0M1622 485h0M1638 537h0M1636 507h0M1654 541h0M1631 536h0M1627 531h0M1631 487h0M1674 530h0M1637 494h0M1647 517h0M1639 474h0M1662 544h0M1650 551h0M1635 513h0M1674 496h0M1653 531h0M1710 527h0M1699 521h0M1620 493h0M1669 531h0M1692 510h0M1674 511h0M1681 530h0M1665 494h0M1656 490h0M1677 499h0M1689 528h0M1697 494h0M1616 510h0M1692 491h0M1670 503h0M1665 540h0M1645 548h0M1667 513h0M1623 504h0M1663 536h0M1657 520h0M1705 515h0M1689 503h0M1631 502h0M1626 495h0M1679 494h0M1690 517h0M1670 519h0M1634 475h0M1644 506h0M1649 489h0M1661 526h0M1696 487h0M1707 508h0M1652 527h0M1650 479h0M1658 501h0M1682 517h0M1655 478h0M1640 545h0M1640 518h0M1644 482h0M1633 498h0M1619 497h0M1695 518h0M1666 549h0M1659 533h0M1633 519h0M1626 509h0M1621 512h0M1658 537h0M1625 488h0M1615 495h0M1639 504h0M1654 517h0M1676 536h0M1630 543h0M1665 532h0M1644 496h0M1711 501h0M1656 513h0M1621 521h0M1659 551h0M1688 498h0M1687 523h0M1707 492h0M1692 521h0M1640 487h0M1707 499h0M1685 485h0M1668 554h0M1647 501h0M1629 492h0M1710 513h0M1660 497h0M1677 481h0M1659 479h0M1666 489h0M1670 489h0M1638 549h0M1649 543h0M1652 503h0M1708 520h0M1616 501h0M1629 524h0M1627 538h0M1677 525h0M1680 489h0M1647 556h0M1636 528h0M1630 516h0M1676 491h0M1683 496h0M1641 511h0M1663 483h0M1679 502h0M1664 499h0M1671 514h0M1628 484h0M1656 524h0M1619 530h0M1616 488h0M1641 479h0M1704 521h0M1644 522h0M1688 508h0M1636 533h0M1696 502h0M1648 483h0M1651 535h0M1635 541h0M1688 540h0M1681 479h0M1707 504h0M1685 526h0M1634 490h0M1655 495h0M1666 526h0M1672 538h0M1683 513h0M1637 520h0M1627 501h0M1657 544h0M1645 487h0M1642 552h0M1677 547h0M1674 484h0M1673 534h0M1679 515h0M1698 507h0M1633 483h0M1685 530h0M1651 507h0M1660 541h0M1704 495h0M1706 512h0M1703 533h0M1661 520h0M1660 492h0M1688 489h0M1708 533h0M1712 522h0M1704 487h0M1625 523h0M1634 524h0M1630 470h0M1624 479h0M1649 470h0M1634 467h0M1648 475h0M1629 474h0M1639 469h0M1629 478h0M1637 487h0M1654 471h0M1644 471h0M1626 472h0M1636 472h0M1634 479h0M1710 476h0M1700 481h0M1700 476h0M1699 471h0M1704 473h0M1706 482h0M1693 476h0M1691 480h0M1704 477h0M1688 477h0M1710 483h0M1697 479h0M1560 626h0M1546 631h0M1542 620h0M1551 631h0M1557 621h0M1558 638h0M1554 642h0M1552 627h0M1549 620h0M1553 616h0M1545 639h0M1556 629h0M1561 632h0M1552 636h0M1546 636h0M1546 626h0M1549 614h0M1540 632h0M1614 738h0M1616 738h0M1616 740h0M1618 742h0M1618 744h0M1620 746h0M1528 553h0M1528 571h0M1535 581h0M1548 250h0M1552 300h0M1649 40h0M1648 39h0M1651 41h0M1646 41h0M1647 39h0M1642 39h0M1649 42h0M1638 48h0M1643 46h0M1646 47h0M1642 49h0M1645 44h0M1639 47h0M1642 44h0M1643 55h0M1639 48h0M1646 53h0M1645 57h0M1640 51h0M1628 58h0M1634 52h0M1636 55h0M1634 58h0M1633 63h0M1636 47h0M1632 64h0M1635 62h0M1627 68h0M1628 66h0M1633 59h0M1623 67h0M1621 62h0M1632 70h0M1627 72h0M1636 69h0M1626 67h0M1628 71h0M1629 78h0M1634 71h0M1633 84h0M1627 70h0M1626 79h0M1623 81h0M1623 73h0M1628 78h0M1649 33h0M1643 43h0M1644 38h0M1642 33h0M1648 42h0M1639 40h0M1652 36h0M1645 48h0M1647 28h0M1638 36h0M1583 106h0M1616 120h0M1607 91h0M1576 118h0M1611 99h0M1577 106h0M1595 119h0M1606 122h0M1606 110h0M1624 116h0M1615 127h0M1611 123h0M1615 108h0M1608 105h0M1600 102h0M1591 96h0M1595 89h0M1587 106h0M1585 98h0M1579 112h0M1582 127h0M1591 105h0M1626 108h0M1584 119h0M1608 129h0M1613 116h0M1586 125h0M1615 133h0M1586 111h0M1597 96h0M1594 100h0M1607 117h0M1613 94h0M1592 108h0M1592 130h0M1603 99h0M1590 114h0M1622 111h0M1578 92h0M1596 111h0M1620 105h0M1572 110h0M1607 83h0M1620 93h0M1583 94h0M1599 134h0M1573 124h0M1621 121h0M1580 121h0M1629 115h0M1573 104h0M1591 124h0M1601 90h0M1616 98h0M1597 84h0M1596 133h0M1611 132h0M1577 129h0M1600 114h0M1588 91h0M1575 112h0M1578 98h0M1586 130h0M1624 102h0M1583 115h0M1593 93h0M1607 95h0M1596 107h0M1609 114h0M1599 120h0M1604 104h0M1578 124h0M1615 103h0M1607 100h0M1618 130h0M1626 119h0M1606 134h0M1615 112h0M1595 115h0M1626 89h0M1619 84h0M1636 109h0M1642 97h0M1632 101h0M1636 91h0M1637 101h0M1628 101h0M1633 81h0M1623 87h0M1640 91h0M1630 88h0M1631 105h0M1638 83h0M1630 97h0M1632 92h0M1635 96h0M1617 88h0M1641 106h0M1628 80h0M1642 102h0M1638 87h0M1625 98h0M1624 93h0M1625 83h0M1589 201h0M1584 157h0M1612 197h0M1580 174h0M1576 198h0M1586 181h0M1616 208h0M1601 163h0M1599 179h0M1591 164h0M1582 164h0M1575 172h0M1606 186h0M1590 194h0M1574 152h0M1622 170h0M1583 221h0M1617 190h0M1600 205h0M1608 179h0M1597 168h0M1613 183h0M1619 204h0M1566 172h0M1582 185h0M1606 196h0M1572 196h0M1585 209h0M1599 198h0M1577 179h0M1596 189h0M1589 216h0M1620 193h0M1585 145h0M1609 191h0M1579 216h0M1577 165h0M1589 206h0M1594 215h0M1611 162h0M1588 150h0M1563 178h0M1581 192h0M1586 172h0M1573 206h0M1626 190h0M1613 203h0M1621 178h0M1569 165h0M1630 181h0M1627 174h0M1613 156h0M1578 205h0M1588 168h0M1570 156h0M1623 186h0M1567 185h0M1586 191h0M1606 158h0M1605 166h0M1570 213h0M1610 209h0M1581 180h0M1595 153h0M1579 159h0M1571 162h0M1576 193h0M1595 182h0M1589 160h0M1614 175h0M1602 189h0M1574 176h0M1603 181h0M1569 180h0M1593 141h0M1602 211h0M1589 223h0M1620 160h0M1599 185h0M1617 171h0M1596 220h0M1604 152h0M1618 199h0M1591 177h0M1595 162h0M1568 202h0M1594 174h0M1590 154h0M1595 195h0M1568 192h0M1598 215h0M1617 181h0M1584 169h0M1567 176h0M1574 215h0M1607 173h0M1585 152h0M1598 158h0M1579 148h0M1625 181h0M1595 199h0M1579 210h0M1583 200h0M1601 148h0M1580 153h0M1572 168h0M1589 188h0M1596 147h0M1617 167h0M1599 151h0M1582 207h0M1582 213h0M1607 203h0M1615 162h0M1590 184h0M1603 202h0M1624 165h0M1578 169h0M1594 158h0M1592 171h0M1627 186h0M1579 220h0M1565 189h0M1609 215h0M1574 202h0M1590 211h0M1560 170h0M1589 142h0M1585 204h0M1592 149h0M1604 192h0M1585 195h0M1621 182h0M1606 162h0M1601 157h0M1573 180h0M1610 187h0M1575 156h0M1606 207h0M1567 207h0M1660 145h0M1649 183h0M1675 151h0M1652 155h0M1629 146h0M1665 176h0M1669 157h0M1663 153h0M1645 137h0M1629 161h0M1641 172h0M1641 133h0M1658 181h0M1638 188h0M1649 166h0M1651 140h0M1649 152h0M1634 171h0M1632 165h0M1649 135h0M1637 143h0M1657 139h0M1642 181h0M1671 166h0M1626 159h0M1667 148h0M1658 171h0M1677 160h0M1625 153h0M1670 174h0M1651 175h0M1635 138h0M1631 139h0M1644 151h0M1651 148h0M1646 143h0M1660 157h0M1651 159h0M1634 159h0M1653 187h0M1637 165h0M1676 165h0M1656 153h0M1670 180h0M1643 191h0M1649 189h0M1645 176h0M1633 186h0M1639 155h0M1629 153h0M1659 187h0M1664 138h0M1636 147h0M1654 161h0M1638 180h0M1655 167h0M1654 183h0M1640 162h0M1636 175h0M1661 176h0M1641 166h0M1664 183h0M1668 170h0M1668 163h0M1645 170h0M1669 143h0M1664 144h0M1655 145h0M1674 169h0M1652 179h0M1669 151h0M1654 133h0M1639 137h0M1650 130h0M1675 155h0M1642 186h0M1628 168h0M1680 163h0M1627 138h0M1641 145h0M1645 164h0M1654 194h0M1651 170h0M1673 159h0M1637 193h0M1656 175h0M1659 150h0M1665 159h0M1662 172h0M1673 146h0M1634 190h0M1601 231h0M1635 215h0M1619 228h0M1650 215h0M1638 228h0M1631 209h0M1636 210h0M1631 235h0M1625 227h0M1625 247h0M1605 222h0M1603 248h0M1600 222h0M1644 211h0M1623 199h0M1634 243h0M1642 207h0M1607 228h0M1607 211h0M1625 236h0M1643 234h0M1618 212h0M1630 204h0M1612 218h0M1636 236h0M1639 240h0M1620 223h0M1619 233h0M1647 222h0M1614 224h0M1634 220h0M1626 214h0M1616 245h0M1647 241h0M1614 229h0M1609 225h0M1634 204h0M1654 221h0M1608 244h0M1595 228h0M1618 238h0M1633 228h0M1612 250h0M1639 219h0M1621 207h0M1625 220h0M1627 240h0M1616 249h0M1608 237h0M1652 234h0M1600 227h0M1620 217h0M1656 216h0M1643 216h0M1625 203h0M1620 249h0M1653 227h0M1644 238h0M1643 221h0M1600 240h0M1622 213h0M1615 215h0M1639 245h0M1604 243h0M1622 244h0M1629 217h0M1627 232h0M1635 232h0M1630 224h0M1630 244h0M1596 234h0M1612 241h0M1614 235h0M1635 224h0M1603 217h0M1605 252h0M1643 246h0M1625 208h0M1631 213h0M1650 219h0M1599 236h0M1630 248h0M1656 230h0M1653 241h0M1635 247h0M1650 209h0M1623 231h0M1640 225h0M1639 213h0M1606 232h0M1623 239h0M1674 223h0M1678 208h0M1672 186h0M1682 215h0M1671 200h0M1667 220h0M1680 191h0M1669 206h0M1679 212h0M1687 194h0M1660 199h0M1665 189h0M1662 221h0M1660 208h0M1676 182h0M1694 201h0M1663 213h0M1687 190h0M1688 206h0M1673 218h0M1678 196h0M1679 223h0M1688 215h0M1673 193h0M1683 184h0M1666 196h0M1676 202h0M1679 186h0M1675 197h0M1685 205h0M1668 211h0M1661 193h0M1666 201h0M1691 197h0M1669 191h0M1673 208h0M1675 190h0M1674 213h0M1679 218h0M1691 210h0M1688 201h0M1693 207h0M1684 210h0M1685 218h0M1687 186h0M1692 254h0M1688 243h0M1678 252h0M1676 249h0M1681 245h0M1687 258h0M1674 245h0M1686 251h0M1681 257h0M1683 240h0M1674 238h0M1691 258h0M1684 262h0M1689 264h0M1678 241h0M1623 148h0M1614 143h0M1607 142h0M1621 137h0M1610 151h0M1617 148h0M1600 140h0M1617 153h0M1610 166h0M1616 140h0M1622 143h0M1605 147h0M1610 139h0M1602 143h0M1623 157h0M1618 144h0M1609 154h0M1609 147h0M1540 223h0M1551 233h0M1547 218h0M1551 228h0M1544 220h0M1554 219h0M1547 235h0M1549 223h0M1557 233h0M1553 237h0M1542 234h0M1547 229h0M1556 223h0M1553 214h0M1543 242h0M1547 249h0M1548 255h0M1547 254h0M1551 256h0M1620 290h0M1609 276h0M1613 298h0M1603 285h0M1614 291h0M1620 277h0M1617 281h0M1621 284h0M1604 277h0M1608 289h0M1611 283h0M1606 282h0M1606 293h0M1618 299h0M1612 270h0M1615 286h0M1622 294h0M1616 277h0M1666 313h0M1656 296h0M1675 314h0M1665 308h0M1666 291h0M1656 301h0M1670 286h0M1661 303h0M1663 297h0M1659 313h0M1669 309h0M1659 292h0M1663 287h0M1673 307h0M1660 308h0M1654 306h0M1673 289h0M1678 305h0M1652 303h0M1668 305h0M1678 310h0M1660 300h0M1652 298h0M1673 296h0M1666 245h0M1664 253h0M1661 248h0M1658 243h0M1649 249h0M1671 253h0M1676 258h0M1668 256h0M1658 253h0M1655 248h0M1662 256h0M1657 237h0M1666 249h0M1653 256h0M1671 247h0M1663 240h0M1662 244h0M1652 245h0M1669 240h0M1672 258h0M1649 238h0M1577 266h0M1579 256h0M1571 262h0M1587 263h0M1575 259h0M1581 260h0M1585 256h0M1588 259h0M1584 266h0M1571 258h0M1591 262h0M1578 261h0M1719 387h0M1718 378h0M1712 375h0M1711 383h0M1501 306h0M1500 322h0M1444 349h0M1547 303h0M1585 270h0M1712 330h0M1818 395h0M1988 284h0M1905 240h0M1818 439h0M1790 404h0M1782 436h0M1800 382h0M1775 433h0M1802 408h0M1798 418h0M1810 408h0M1796 410h0M1774 397h0M1785 404h0M1802 393h0M1779 401h0M1806 439h0M1775 418h0M1784 386h0M1789 438h0M1792 427h0M1830 397h0M1779 426h0M1826 406h0M1796 445h0M1788 418h0M1819 407h0M1771 401h0M1788 382h0M1829 412h0M1807 416h0M1807 380h0M1823 385h0M1824 410h0M1776 411h0M1789 410h0M1769 409h0M1781 429h0M1801 438h0M1811 386h0M1812 423h0M1827 390h0M1821 424h0M1809 434h0M1771 415h0M1789 433h0M1817 394h0M1812 431h0M1825 395h0M1785 427h0M1795 397h0M1825 416h0M1824 438h0M1781 391h0M1785 396h0M1823 431h0M1816 389h0M1802 425h0M1769 429h0M1779 395h0M1792 377h0M1802 443h0M1821 401h0M1806 399h0M1830 416h0M1815 377h0M1817 412h0M1795 436h0M1786 412h0M1764 418h0M1806 388h0M1788 443h0M1796 430h0M1787 407h0M1805 433h0M1767 422h0M1796 381h0M1780 411h0M1832 421h0M1831 430h0M1816 424h0M1819 434h0M1808 403h0M1795 405h0M1790 387h0M1784 431h0M1798 376h0M1820 443h0M1813 412h0M1801 414h0M1775 405h0M1772 420h0M1829 439h0M1804 384h0M1779 421h0M1762 411h0M1783 417h0M1792 420h0M1786 390h0M1803 419h0M1794 392h0M1797 424h0M1815 402h0M1773 428h0M1810 442h0M1802 388h0M1827 425h0M1831 393h0M1785 423h0M1811 390h0M1834 416h0M1800 432h0M1812 380h0M1797 387h0M1804 378h0M1796 440h0M1815 434h0M1799 400h0M1793 415h0M1815 443h0M1835 425h0M1822 419h0M1817 384h0M1812 417h0M1789 393h0M1771 435h0M1790 398h0M1827 433h0M1766 406h0M1821 414h0M1806 412h0M1814 407h0M1788 423h0M1818 428h0M1802 404h0M1799 428h0M1769 392h0M1771 372h0M1776 377h0M1788 374h0M1764 386h0M1771 388h0M1778 385h0M1776 389h0M1781 379h0M1762 378h0M1759 391h0M1772 377h0M1762 396h0M1764 393h0M1766 374h0M1769 382h0M1782 373h0M1758 382h0M1775 371h0M1768 397h0M1784 369h0M1784 377h0M1774 382h0M1784 381h0M1763 382h0M1774 392h0M1759 387h0M1811 449h0M1828 444h0M1858 439h0M1834 448h0M1838 439h0M1848 445h0M1848 427h0M1839 432h0M1864 440h0M1862 435h0M1835 443h0M1825 449h0M1857 431h0M1846 434h0M1842 435h0M1818 451h0M1855 426h0M1843 450h0M1851 438h0M1851 430h0M1863 426h0M1855 444h0M1831 435h0M1844 430h0M1816 447h0M1868 436h0M1814 450h0M1844 439h0M1833 439h0M1839 448h0M1832 453h0M1804 447h0M1829 448h0M1814 439h0M1850 448h0M1854 436h0M1875 432h0M1869 431h0M1871 427h0M1876 424h0M1874 436h0M1879 428h0M1843 415h0M1852 403h0M1836 400h0M1844 409h0M1850 410h0M1837 406h0M1843 396h0M1847 401h0M1840 411h0M1842 401h0M1849 413h0M1842 405h0M1752 418h0M1758 432h0M1900 420h0M1817 372h0M1835 380h0M1850 236h0M1855 234h0M1865 236h0M1860 233h0M1860 240h0M1855 241h0M1857 229h0M1864 230h0M1873 238h0M1867 250h0M1712 385h0M1716 390h0M1565 612h0M1568 626h0M1386 552h0M1379 546h0M1359 552h0M1346 565h0M1365 556h0M1385 562h0M1358 566h0M1379 580h0M1389 565h0M1350 563h0M1380 573h0M1379 557h0M1389 572h0M1356 547h0M1373 552h0M1385 540h0M1378 552h0M1357 573h0M1371 559h0M1378 541h0M1343 554h0M1391 559h0M1377 566h0M1352 569h0M1362 569h0M1385 569h0M1389 546h0M1373 544h0M1377 562h0M1362 576h0M1369 578h0M1393 549h0M1390 553h0M1376 585h0M1368 563h0M1353 543h0M1349 557h0M1376 535h0M1365 551h0M1369 573h0M1381 537h0M1367 536h0M1361 582h0M1368 585h0M1362 543h0M1374 539h0M1357 541h0M1351 552h0M1393 564h0M1394 543h0M1383 565h0M1384 547h0M1365 566h0M1373 580h0M1373 589h0M1357 580h0M1380 568h0M1361 559h0M1386 557h0M1355 561h0M1346 558h0M1385 576h0M1352 576h0M1376 575h0M1386 536h0M1372 568h0M1366 590h0M1384 583h0M1376 549h0M1372 585h0M1357 557h0M1359 537h0M1382 553h0M1365 611h0M1390 588h0M1383 615h0M1386 602h0M1375 610h0M1389 610h0M1382 602h0M1393 615h0M1374 600h0M1387 597h0M1389 580h0M1393 597h0M1365 603h0M1370 605h0M1386 608h0M1383 620h0M1375 617h0M1371 613h0M1358 599h0M1362 595h0M1372 594h0M1390 593h0M1390 606h0M1363 586h0M1383 597h0M1384 589h0M1368 599h0M1394 587h0M1378 623h0M1359 604h0M1379 609h0M1383 627h0M1395 604h0M1379 599h0M1389 619h0M1369 609h0M1378 603h0M1396 611h0M1366 615h0M1375 606h0M1367 595h0M1376 596h0M1361 610h0M1392 602h0M1372 622h0M1389 614h0M1394 593h0M1391 631h0M1395 627h0M1388 645h0M1393 642h0M1383 632h0M1377 640h0M1390 638h0M1383 647h0M1389 626h0M1379 633h0M1395 633h0M1387 629h0M1373 630h0M1383 638h0M1377 644h0M1396 638h0M1396 623h0M1386 651h0M1386 636h0M1397 645h0M1394 619h0M1386 622h0M1377 629h0M1391 622h0M1401 635h0M1452 583h0M1445 608h0M1446 593h0M1438 581h0M1469 589h0M1452 574h0M1454 600h0M1439 593h0M1457 585h0M1436 586h0M1447 556h0M1441 579h0M1472 576h0M1431 586h0M1453 579h0M1460 575h0M1444 586h0M1445 573h0M1436 598h0M1467 573h0M1429 595h0M1433 571h0M1444 601h0M1430 601h0M1460 567h0M1466 595h0M1471 584h0M1451 604h0M1437 610h0M1459 599h0M1468 578h0M1460 590h0M1428 564h0M1448 568h0M1455 593h0M1452 613h0M1431 609h0M1457 572h0M1440 561h0M1435 566h0M1460 605h0M1436 603h0M1463 581h0M1449 600h0M1428 577h0M1433 591h0M1445 561h0M1430 581h0M1459 562h0M1446 581h0M1443 611h0M1438 569h0M1454 587h0M1452 556h0M1465 601h0M1442 556h0M1464 589h0M1428 569h0M1442 568h0M1440 586h0M1452 562h0M1445 565h0M1453 596h0M1433 605h0M1449 586h0M1435 576h0M1434 560h0M1456 606h0M1459 609h0M1442 606h0M1432 564h0M1475 585h0M1463 618h0M1475 619h0M1467 611h0M1470 617h0M1457 613h0M1475 614h0M1469 604h0M1469 622h0M1458 618h0M1462 624h0M1477 608h0M1472 610h0M1464 607h0M1461 613h0M1480 615h0M1414 581h0M1414 593h0M1422 592h0M1409 592h0M1417 576h0M1426 574h0M1405 577h0M1404 593h0M1409 583h0M1403 571h0M1421 584h0M1408 565h0M1417 567h0M1426 588h0M1418 588h0M1409 571h0M1426 582h0M1411 597h0M1405 586h0M1411 576h0M1421 571h0M1412 588h0M1422 565h0M1404 581h0M1414 564h0M1421 580h0M1418 596h0M1418 561h0M1413 572h0M1401 589h0M1412 568h0M1404 547h0M1405 551h0M1407 547h0M1411 543h0M1416 549h0M1418 542h0M1426 551h0M1426 548h0M1427 549h0M1432 550h0M1438 550h0M1435 547h0M1446 533h0M1442 529h0M1443 537h0M1452 540h0M1447 540h0M1452 548h0M1476 559h0M1480 560h0M1482 554h0M1480 556h0M1490 562h0M1491 560h0M1499 562h0M1493 562h0M1515 552h0M1507 565h0M1518 562h0M1520 557h0M1512 555h0M1507 557h0M1514 569h0M1525 562h0M1514 565h0M1511 563h0M1508 570h0M1505 552h0M1520 551h0M1521 569h0M1551 602h0M1547 598h0M1546 602h0M1556 601h0M1549 609h0M1554 606h0M1558 596h0M1525 532h0M1530 510h0M1534 513h0M1532 503h0M1462 321h0M1464 327h0M1461 333h0M1388 423h0M1408 441h0M1413 444h0M1410 437h0M1508 395h0M1510 399h0M1586 358h0M1590 417h0M1580 422h0M1516 428h0M1523 463h0M1460 355h0M1457 368h0M1746 426h0M1786 374h0M1641 52h0M1643 56h0M1440 615h0M1411 620h0M1334 351h0M1387 295h0M1318 313h0M1350 279h0M1380 325h0M1400 330h0M1396 351h0M1361 269h0M1346 348h0M1353 226h0M1376 239h0M1339 282h0M1386 215h0M1400 293h0M1421 316h0M1326 279h0M1313 333h0M1429 285h0M1411 262h0M1371 238h0M1380 230h0M1367 336h0M1407 273h0M1407 300h0M1417 258h0M1341 292h0M1333 278h0M1422 333h0M1351 305h0M1393 310h0M1394 270h0M1361 308h0M1330 239h0M1341 344h0M1420 291h0M1367 321h0M1393 264h0M1354 262h0M1430 295h0M1341 256h0M1382 284h0M1337 287h0M1326 304h0M1336 298h0M1395 254h0M1430 313h0M1395 305h0M1335 312h0M1318 307h0M1305 296h0M1412 270h0M1383 273h0M1379 221h0M1331 235h0M1422 262h0M1419 275h0M1300 270h0M1348 294h0M1379 315h0M1319 291h0M1410 287h0M1377 342h0M1342 278h0M1325 242h0M1371 306h0M1388 248h0M1369 272h0M1325 337h0M1361 327h0M1374 300h0M1322 270h0M1409 249h0M1421 323h0M1397 321h0M1341 274h0M1362 261h0M1309 274h0M1306 268h0M1322 295h0M1401 323h0M1324 285h0M1362 255h0M1404 312h0M1413 325h0M1370 252h0M1432 306h0M1420 270h0M1309 302h0M1398 274h0M1403 284h0M1360 349h0M1342 322h0M1402 317h0M1298 294h0M1342 330h0M1386 287h0M1345 255h0M1336 337h0M1301 327h0M1405 296h0M1347 272h0M1315 280h0M1415 344h0M1406 327h0M1337 240h0M1376 310h0M1391 354h0M1441 302h0M1302 288h0M1364 291h0M1414 275h0M1340 232h0M1401 247h0M1309 289h0M1367 216h0M1330 283h0M1400 339h0M1358 338h0M1391 349h0M1305 339h0M1406 253h0M1348 353h0M1342 339h0M1432 269h0M1321 247h0M1339 332h0M1306 313h0M1427 305h0M1361 302h0M1352 321h0M1314 294h0M1342 270h0M1343 304h0M1349 288h0M1423 296h0M1323 257h0M1436 303h0M1427 328h0M1334 341h0M1367 295h0M1367 349h0M1385 237h0M1432 288h0M1365 306h0M1352 247h0M1335 356h0M1328 256h0M1358 283h0M1352 231h0M1302 276h0M1323 318h0M1400 309h0M1376 277h0M1373 230h0M1387 260h0M1401 278h0M1328 347h0M1361 343h0M1368 262h0M1387 227h0M1332 300h0M1330 307h0M1348 316h0M1379 214h0M1372 343h0M1363 316h0M1382 241h0M1407 292h0M1343 245h0M1356 273h0M1295 280h0M1400 242h0M1358 316h0M1418 305h0M1335 257h0M1382 291h0M1307 320h0M1410 335h0M1381 259h0M1409 310h0M1374 294h0M1410 280h0M1328 342h0M1318 263h0M1306 307h0M1391 324h0M1412 297h0M1308 263h0M1329 274h0M1419 286h0M1352 332h0M1358 289h0M1374 221h0M1323 313h0M1347 225h0M1385 336h0M1433 297h0M1328 315h0M1378 267h0M1336 265h0M1379 338h0M1421 309h0M1425 268h0M1368 311h0M1302 305h0M1330 246h0M1387 314h0M1353 269h0M1396 334h0M1412 316h0M1428 279h0M1315 341h0M1384 308h0M1391 278h0M1369 244h0M1378 234h0M1375 324h0M1349 252h0M1395 295h0M1360 227h0M1345 293h0M1402 267h0M1389 253h0M1397 285h0M1407 245h0M1336 231h0M1343 264h0M1384 345h0M1340 237h0M1406 262h0M1375 306h0M1350 336h0M1391 233h0M1418 326h0M1342 284h0M1368 327h0M1302 337h0M1336 272h0M1406 351h0M1319 334h0M1375 286h0M1417 335h0M1428 298h0M1311 326h0M1332 345h0M1318 286h0M1353 240h0M1319 327h0M1355 345h0M1372 258h0M1354 340h0M1369 267h0M1382 332h0M1416 265h0M1295 274h0M1415 252h0M1406 342h0M1366 283h0M1355 254h0M1371 290h0M1396 315h0M1335 244h0M1425 323h0M1385 302h0M1410 257h0M1306 335h0M1406 278h0M1374 314h0M1430 263h0M1417 280h0M1376 252h0M1334 253h0M1334 306h0M1340 249h0M1354 295h0M1361 223h0M1394 248h0M1384 220h0M1395 243h0M1416 311h0M1374 214h0M1350 327h0M1350 342h0M1404 336h0M1414 339h0M1379 306h0M1361 320h0M1353 287h0M1376 332h0M1346 232h0M1413 307h0M1306 283h0M1397 261h0M1415 290h0M1373 249h0M1370 222h0M1300 264h0M1314 272h0M1301 321h0M1422 280h0M1326 327h0M1312 317h0M1381 250h0M1405 354h0M1415 321h0M1409 322h0M1319 298h0M1353 300h0M1369 281h0M1399 302h0M1348 284h0M1358 265h0M1386 324h0M1329 293h0M1333 331h0M1383 256h0M1327 297h0M1327 353h0M1389 221h0M1331 288h0M1356 233h0M1326 237h0M1389 290h0M1391 328h0M1408 346h0M1431 274h0M1313 300h0M1362 296h0M1406 319h0M1387 282h0M1399 345h0M1388 342h0M1376 245h0M1341 298h0M1338 326h0M1348 244h0M1372 347h0M1338 319h0M1385 243h0M1377 320h0M1298 304h0M1347 238h0M1405 270h0M1398 358h0M1306 331h0M1391 301h0M1322 301h0M1349 268h0M1419 297h0M1313 260h0M1372 278h0M1356 243h0M1302 281h0M1428 290h0M1301 311h0M1311 337h0M1378 282h0M1365 232h0M1380 279h0M1382 329h0M1400 256h0M1343 317h0M1347 322h0M1352 220h0M1418 343h0M1375 269h0M1340 353h0M1390 273h0M1393 288h0M1368 341h0M1426 259h0M1322 344h0M1391 334h0M1365 224h0M1390 241h0M1388 319h0M1298 285h0M1305 272h0M1322 308h0M1435 262h0M1363 333h0M1329 251h0M1433 310h0M1397 289h0M1383 224h0M1361 312h0M1338 308h0M1317 251h0M1312 308h0M1354 280h0M1425 273h0M1356 220h0M1337 346h0M1351 347h0M1386 232h0M1414 353h0M1314 287h0M1393 284h0M1352 291h0M1425 311h0M1358 323h0M1357 300h0M1388 305h0M1428 319h0M1373 337h0M1338 261h0M1393 258h0M1367 301h0M1408 332h0M1330 336h0M1407 306h0M1363 265h0M1356 352h0M1348 260h0M1340 313h0M1402 289h0M1318 259h0M1438 297h0M1402 304h0M1397 327h0M1299 332h0M1395 227h0M1372 226h0M1311 277h0M1346 299h0M1370 318h0M1424 285h0M1382 318h0M1301 299h0M1376 261h0M1319 339h0M1409 355h0M1319 321h0M1296 290h0M1312 282h0M1394 341h0M1428 332h0M1400 353h0M1378 226h0M1379 285h0M1334 292h0M1414 331h0M1378 257h0M1382 311h0M1387 348h0M1335 284h0M1316 336h0M1422 339h0M1403 347h0M1404 360h0M1367 314h0M1424 292h0M1392 320h0M1423 301h0M1305 301h0M1373 243h0M1340 228h0M1324 332h0M1398 250h0M1343 260h0M1407 266h0M1326 248h0M1306 278h0M1321 252h0M1336 303h0M1357 306h0M1411 341h0M1306 325h0M1323 289h0M1346 276h0M1414 302h0M1315 323h0M1415 294h0M1393 237h0M1420 266h0M1350 257h0M1314 312h0M1360 218h0M1418 262h0M1345 333h0M1437 307h0M1386 277h0M1355 327h0M1315 304h0M1389 338h0M1414 284h0M1423 326h0M1366 240h0M1402 298h0M1358 257h0M1371 333h0M1402 272h0M1395 279h0M1297 328h0M1324 275h0M1395 300h0M1332 314h0M1372 263h0M1350 264h0M1362 286h0M1363 338h0M1371 296h0M1344 251h0M1368 256h0M1377 290h0M1365 353h0M1435 291h0M1387 332h0M1341 241h0M1342 225h0M1355 236h0M1397 267h0M1304 292h0M1335 249h0M1377 328h0M1333 261h0M1387 299h0M1412 348h0M1308 298h0M1329 332h0M1417 317h0M1419 254h0M1317 345h0M1412 292h0M1392 316h0M1367 277h0M1326 252h0M1351 236h0M1303 317h0M1357 294h0M1404 249h0M1381 246h0M1317 267h0M1371 286h0M1424 318h0M1345 288h0M1424 256h0M1408 314h0M1390 268h0M1403 260h0M1346 328h0M1321 218h0M1314 215h0M1299 228h0M1309 225h0M1303 221h0M1314 237h0M1301 233h0M1322 234h0M1320 210h0M1309 237h0M1317 226h0M1320 239h0M1323 227h0M1308 214h0M1326 218h0M1323 207h0M1327 226h0M1306 218h0M1315 221h0M1319 205h0M1316 243h0M1318 233h0M1324 212h0M1299 217h0M1313 229h0M1311 206h0M1309 220h0M1305 209h0M1294 223h0M1315 210h0M1300 211h0M1323 222h0M1293 216h0M1317 213h0M1314 233h0M1315 206h0M1304 213h0M1326 265h0M1324 262h0M1315 247h0M1321 243h0M1423 233h0M1413 231h0M1406 238h0M1416 242h0M1422 245h0M1417 227h0M1403 225h0M1429 230h0M1402 234h0M1421 240h0M1423 250h0M1407 231h0M1409 225h0M1399 230h0M1427 242h0M1428 235h0M1432 240h0M1425 239h0M1428 246h0M1418 248h0M1418 231h0M1421 228h0M1398 237h0M1412 247h0M1425 226h0M1418 236h0M1413 222h0M1432 235h0M1410 242h0M1417 223h0M1395 232h0M1413 227h0M1390 229h0M1404 242h0M1411 234h0M1422 284h0M1425 284h0M1429 288h0M1426 279h0M1431 288h0M1436 284h0M1433 288h0M1434 293h0M1431 291h0M1438 294h0M1436 296h0M1436 286h0M1436 295h0M1445 291h0M1438 296h0M1451 288h0M1438 297h0M1452 290h0M1442 303h0M1433 296h0M1442 299h0M1443 300h0M1444 300h0M1446 297h0M1454 303h0M1444 300h0M1446 302h0M1454 304h0M1453 306h0M1453 303h0M1458 312h0M1454 304h0M1445 310h0M1454 312h0M1457 313h0M1459 307h0M1453 314h0M1458 309h0M1455 317h0M1457 321h0M1360 369h0M1355 367h0M1366 374h0M1359 378h0M1364 375h0M1354 373h0M1361 378h0M1364 386h0M1356 386h0M1365 385h0M1359 386h0M1368 384h0M1369 393h0M1366 396h0M1367 392h0M1360 394h0M1364 400h0M1372 399h0M1369 403h0M1374 403h0M1371 401h0M1373 402h0M1376 407h0M1368 411h0M1378 409h0M1376 408h0M1372 412h0M1379 416h0M1379 417h0M1384 417h0M1331 370h0M1350 364h0M1341 370h0M1348 368h0M1344 360h0M1335 365h0M1339 376h0M1337 361h0M1331 375h0M1349 358h0M1342 357h0M1325 367h0M1329 360h0M1330 365h0M1352 371h0M1348 373h0M1336 371h0M1343 365h0M1872 192h0M1896 190h0M1862 191h0M1859 185h0M1883 196h0M1892 204h0M1877 178h0M1874 184h0M1889 191h0M1870 200h0M1878 191h0M1885 186h0M1871 187h0M1877 199h0M1881 205h0M1891 197h0M1888 177h0M1876 204h0M1867 188h0M1856 193h0M1861 196h0M1891 186h0M1870 182h0M1897 196h0M1885 200h0M1882 183h0M1866 204h0M1885 191h0M1868 196h0M1897 184h0M1874 201h0M1887 196h0M1886 204h0M1864 185h0M1888 199h0M1889 203h0M1885 199h0M1891 202h0M1887 201h0M1886 206h0M1892 212h0M1889 211h0M1893 214h0M1887 214h0M1893 222h0M1891 216h0M1892 213h0M1888 221h0M1889 221h0M1888 224h0M1865 205h0M1873 218h0M1897 214h0M1483 334h0M1490 337h0M1499 368h0M1437 275h0M1900 241h0M1908 243h0M1564 618h0M1568 625h0M1561 610h0M1559 615h0M1571 629h0M1562 622h0M1567 621h0M1741 165h0M1713 131h0M1942 222h0M1956 218h0M1975 226h0M1978 238h0M2003 215h0M2014 224h0M2002 252h0M1875 373h0M1748 270h0M1711 370h0M1716 374h0M1705 362h0M1722 368h0M1700 385h0M1728 390h0M1718 395h0M1650 321h0M1566 367h0M1642 397h0M1530 272h0M1535 495h0M1628 238h0M1622 210h0M1650 256h0M1638 48h0M1645 62h0M1650 85h0M1660 95h0M1777 425h0M1785 430h0M1781 421h0M1825 408h0M1860 425h0M1805 388h0M1580 275h0M1605 262h0"/>
<path stroke="#4a8fc9" stroke-width="6.5" d="M1912 345h0M1880 311h0M1894 300h0M1952 314h0M1880 346h0M1927 392h0M1948 341h0M1863 370h0M1944 286h0M1912 386h0M1945 310h0M1940 329h0M1927 287h0M1970 351h0M1901 379h0M1984 311h0M1946 330h0M1995 332h0M1958 323h0M1904 241h0M1895 279h0M1947 278h0M1961 274h0M1855 344h0M1900 315h0M1908 329h0M1867 257h0M1929 382h0M1850 375h0M1937 280h0M1931 359h0M1876 288h0M1843 343h0M1906 307h0M1918 330h0M1937 352h0M1875 265h0M1882 327h0M1940 385h0M1966 288h0M1950 283h0M1927 377h0M1926 262h0M1972 333h0M1894 350h0M1902 263h0M1963 305h0M1904 277h0M1846 296h0M1856 356h0M1947 362h0M1963 377h0M1897 290h0M1909 297h0M1878 316h0M1942 372h0M1939 255h0M1926 386h0M1905 283h0M1926 268h0M1936 384h0M1857 317h0M1930 297h0M1872 330h0M1909 313h0M1847 366h0M1919 315h0M1851 362h0M1916 250h0M1918 372h0M1853 295h0M1893 261h0M1906 258h0M1885 349h0M1937 260h0M1832 364h0M1894 381h0M1910 291h0M1833 358h0M1960 300h0M1861 284h0M1884 275h0M1917 266h0M1917 379h0M1869 375h0M1871 277h0M1971 287h0M1962 347h0M1942 273h0M1919 257h0M1858 374h0M1911 260h0M1926 307h0M1890 275h0M1945 352h0M1873 351h0M1877 361h0M1938 374h0M1899 321h0M1929 330h0M1949 369h0M1913 282h0M1859 261h0M1861 352h0M1936 366h0M1985 351h0M1995 342h0M1850 332h0M1951 334h0M1951 325h0M1849 283h0M1952 301h0M1945 260h0M1914 376h0M1938 241h0M1867 312h0M1909 382h0M1928 341h0M1933 354h0M1977 331h0M1889 341h0M1839 313h0M1861 271h0M1891 271h0M1858 301h0M1943 249h0M1942 301h0M1979 294h0M1855 370h0M1939 314h0M1889 265h0M1947 264h0M1954 292h0M1882 387h0M1924 337h0M1917 364h0M1900 357h0M1846 371h0M1966 283h0M1940 368h0M1889 378h0M1903 296h0M1891 287h0M1911 358h0M1987 317h0M1918 288h0M1927 280h0M1904 335h0M1891 335h0M1910 266h0M1885 344h0M1856 386h0M1896 332h0M1890 355h0M1917 353h0M1878 252h0M1903 304h0M1906 355h0M1885 358h0M1900 252h0M1967 343h0M1889 306h0M1870 357h0M1957 341h0M1900 331h0M1893 322h0M1868 283h0M1955 281h0M1957 385h0M1875 275h0M1949 382h0M1901 365h0M1894 357h0M1915 272h0M1896 273h0M1906 316h0M1845 358h0M1992 347h0M1931 261h0M1846 329h0M1893 315h0M1954 275h0M1897 339h0M1913 329h0M1932 245h0M1860 378h0M1932 391h0M1934 321h0M1956 359h0M1865 290h0M1942 294h0M1847 317h0M1919 244h0M1890 347h0M1862 277h0M1889 296h0M1848 352h0M1904 254h0M1889 302h0M1908 269h0M1899 371h0M1880 265h0M1873 366h0M1976 310h0M1971 326h0M1932 336h0M1873 346h0M1953 382h0M1924 292h0M1942 281h0M1942 347h0M1844 375h0M1862 345h0M1892 363h0M1966 327h0M1969 308h0M1880 297h0M1922 279h0M1855 290h0M1873 298h0M1903 344h0M1895 249h0M1880 270h0M1876 334h0M1980 350h0M1957 346h0M1868 327h0M1972 298h0M1864 282h0M1863 293h0M1885 366h0M1877 302h0M1878 325h0M1880 261h0M1986 329h0M1869 388h0M1939 395h0M1915 341h0M1842 321h0M1852 338h0M1912 309h0M1847 288h0M1946 304h0M1946 385h0M1906 291h0M1897 394h0M1859 322h0M1908 324h0M1951 348h0M1852 349h0M1959 292h0M1962 361h0M1866 362h0M1876 384h0M1922 358h0M1879 278h0M1958 370h0M1968 316h0M1896 311h0M1841 362h0M1918 296h0M1985 333h0M1853 280h0M1882 379h0M1960 330h0M1841 302h0M1911 302h0M1895 305h0M1965 300h0M1852 325h0M1974 341h0M1922 332h0M1938 360h0M1970 337h0M1926 246h0M1928 301h0M1915 322h0M1945 375h0M1850 290h0M1897 295h0M1865 272h0M1928 347h0M1912 244h0M1876 294h0M1987 342h0M1888 388h0M1956 287h0M1934 300h0M1868 346h0M1933 257h0M1953 364h0M1921 263h0M1927 258h0M1862 303h0M1939 247h0M1975 354h0M1843 350h0M1919 345h0M1980 298h0M1937 268h0M1956 308h0M1927 315h0M1903 371h0M1908 393h0M1855 330h0M1873 315h0M1934 253h0M1853 304h0M1873 325h0M1966 276h0M1886 255h0M1875 310h0M1861 331h0M1903 348h0M1854 361h0M1878 355h0M1945 390h0M1972 360h0M1900 285h0M1906 389h0M1964 356h0M1901 389h0M1990 332h0M1953 355h0M1931 267h0M1896 268h0M1872 371h0M1909 374h0M1945 325h0M1913 337h0M1943 269h0M1925 369h0M1929 363h0M1935 326h0M1931 387h0M1864 381h0M1847 310h0M1892 281h0M1932 348h0M1922 384h0M1930 312h0M1869 381h0M1899 244h0M1976 303h0M1884 334h0M1931 272h0M1904 272h0M1889 360h0M1980 341h0M1982 305h0M1860 266h0M1918 238h0M1966 372h0M1919 337h0M1838 352h0M1886 288h0M1858 294h0M1952 306h0M1858 310h0M1869 265h0M1932 283h0M1931 316h0M1894 385h0M1907 340h0M1950 390h0M1963 319h0M1901 291h0M1966 294h0M1897 263h0M1933 331h0M1881 291h0M1860 341h0M1879 341h0M1944 320h0M1891 249h0M1922 354h0M1867 331h0M1950 353h0M1972 292h0M1858 288h0M1950 319h0M1879 374h0M1842 286h0M1992 337h0M1858 305h0M1998 337h0M1982 327h0M1883 314h0M1846 334h0M1899 300h0M1990 325h0M1841 325h0M1959 281h0M1889 325h0M1967 322h0M1848 347h0M1858 367h0M1850 298h0M1943 380h0M1986 304h0M1879 369h0M1926 240h0M1915 262h0M1904 396h0M1863 324h0M1918 368h0M1934 342h0M1882 361h0M1951 337h0M1937 347h0M1932 373h0M1932 237h0M1967 361h0M1886 260h0M1917 358h0M1856 351h0M1895 376h0M1935 295h0M1972 347h0M1865 300h0M1870 257h0M1902 385h0M1890 385h0M1956 318h0M1924 297h0M1882 353h0M1936 392h0M1972 312h0M1895 344h0M1849 306h0M1960 367h0M1882 301h0M1913 367h0M1960 379h0M1870 272h0M1865 390h0M1855 378h0M1847 325h0M1988 312h0M1842 316h0M1869 365h0M1909 349h0M1891 393h0M1911 250h0M1986 337h0M1969 368h0M1907 364h0M1915 256h0M1867 352h0M1913 268h0M1914 292h0M1893 372h0M1891 310h0M1840 368h0M1852 314h0M1905 377h0M1901 275h0M1949 289h0M1841 290h0M1875 255h0M1895 390h0M1937 275h0M1861 316h0M1873 282h0M1922 375h0M1964 337h0M1870 251h0M1910 238h0M1874 378h0M1986 323h0M1887 279h0M1918 386h0M1938 379h0M1943 245h0M1908 277h0M1897 258h0M1922 251h0M1901 325h0M1922 311h0M1897 367h0M1925 328h0M1859 326h0M1940 285h0M1940 264h0M1931 368h0M1884 297h0M1954 375h0M1845 303h0M1909 369h0M1850 357h0M1955 338h0M1889 315h0M1850 319h0M1885 310h0M1942 364h0M1871 294h0M1911 318h0M1926 356h0M1846 339h0M1863 308h0M1923 284h0M1854 335h0M1836 363h0M1876 306h0M1925 274h0M1883 372h0M1889 291h0M1980 335h0M1912 390h0M1931 325h0M1928 250h0M1891 257h0M1905 249h0M1973 304h0M1960 312h0M1884 330h0M1934 380h0M1908 287h0M1947 254h0M1940 322h0M1856 284h0M1949 295h0M1944 315h0M1899 349h0M1887 272h0M1915 278h0M1953 343h0M1850 379h0M1861 387h0M1988 298h0M1951 378h0M1912 287h0M1888 251h0M1953 387h0M1962 285h0M1858 277h0M1965 352h0M1836 372h0M1962 327h0M1921 341h0M1962 278h0M1985 346h0M1931 304h0M1901 257h0M1864 261h0M1899 306h0M1879 349h0M1913 363h0M1865 267h0M1875 270h0M1918 309h0M1877 391h0M1943 359h0M1893 292h0M1914 371h0M1946 346h0M1939 290h0M1902 360h0M1948 299h0M1840 307h0M1888 284h0M1874 320h0M1948 365h0M1875 259h0M1906 262h0M1858 346h0M1925 351h0M1940 342h0M1885 339h0M1991 342h0M1888 368h0M1956 297h0M1931 291h0M1913 296h0M1968 331h0M1963 315h0M1932 309h0M1840 375h0M1922 379h0M1953 371h0M1914 314h0M1919 325h0M1969 364h0M1965 367h0M1947 322h0M1943 256h0M1896 326h0M1932 278h0M1936 338h0M1885 265h0M1980 313h0M1907 360h0M1917 318h0M1905 311h0M1840 356h0M1988 308h0M1892 329h0M1907 245h0M1927 294h0M1923 364h0M1982 317h0M1930 254h0M1863 375h0M1947 357h0M1897 361h0M1947 274h0M1880 382h0M1896 284h0M1832 371h0M1956 327h0M1938 388h0M1900 279h0M1862 358h0M1945 394h0M1976 346h0M1920 292h0M1965 311h0M1870 261h0M1976 359h0M1909 255h0M1835 366h0M1951 359h0M1968 355h0M1910 332h0M1841 295h0M1963 340h0M1942 306h0M1869 300h0M1992 318h0M1975 335h0M1863 312h0M1885 383h0M1955 331h0M1863 254h0M1936 317h0M1867 296h0M1888 329h0M1899 334h0M1934 312h0M1944 290h0M1883 252h0M1865 385h0M1850 343h0M1986 295h0M1975 350h0M1935 248h0M1894 255h0M1910 354h0M1890 320h0M1853 309h0M1860 384h0M1902 339h0M1879 336h0M1882 306h0M1877 282h0M1899 238h0M1915 240h0M1896 318h0M1924 303h0M1852 285h0M1956 350h0M1902 353h0M1913 380h0M1839 347h0M1957 275h0M1845 291h0M1897 353h0M1924 255h0M1875 343h0M1872 361h0M1923 236h0M1937 236h0M1863 366h0M1842 259h0M1819 262h0M1852 248h0M1835 295h0M1844 266h0M1827 285h0M1836 284h0M1813 293h0M1848 274h0M1826 254h0M1808 268h0M1821 306h0M1823 270h0M1832 312h0M1818 269h0M1828 263h0M1853 262h0M1818 287h0M1872 287h0M1813 256h0M1837 264h0M1819 302h0M1831 268h0M1836 320h0M1835 299h0M1865 251h0M1826 281h0M1827 305h0M1825 276h0M1834 257h0M1853 272h0M1814 278h0M1835 245h0M1824 296h0M1820 292h0M1839 251h0M1821 277h0M1846 256h0M1807 285h0M1834 289h0M1822 260h0M1820 249h0M1830 295h0M1829 276h0M1814 247h0M1834 252h0M1809 288h0M1824 301h0M1830 308h0M1829 300h0M1822 285h0M1883 284h0M1813 299h0M1864 319h0M1809 275h0M1871 307h0M1831 282h0M1827 258h0M1834 276h0M1812 261h0M1813 269h0M1836 307h0M1847 262h0M1819 256h0M1850 252h0M1827 247h0M1842 272h0M1837 269h0M1825 289h0M1815 266h0M1825 309h0M1810 281h0M1835 315h0M1830 249h0M1832 262h0M1858 248h0M1838 280h0M1817 296h0M1855 267h0M1849 269h0M1814 304h0M1838 256h0M1868 318h0M1814 285h0M1817 282h0M1815 253h0M1823 264h0M1851 276h0M1830 289h0M1817 275h0M1885 302h0M1830 255h0M1846 321h0M1866 305h0M1846 251h0M1836 303h0M1857 272h0M1818 243h0M1885 293h0M1840 275h0M1855 320h0M1827 268h0M1858 253h0M1822 274h0M1860 257h0M1804 267h0M1818 309h0M1813 274h0M1832 305h0M1807 239h0M1800 242h0M1797 253h0M1807 243h0M1798 263h0M1805 274h0M1806 254h0M1806 259h0M1795 257h0M1799 257h0M1794 247h0M1809 249h0M1801 250h0M1802 237h0M1807 263h0M1804 247h0M1802 263h0M1798 246h0M1792 251h0M1824 250h0M1815 241h0M1794 242h0M1816 259h0M1924 195h0M1952 232h0M1936 203h0M1951 250h0M1962 182h0M1962 206h0M1945 219h0M1952 196h0M1924 224h0M1980 208h0M1930 184h0M1968 222h0M1959 209h0M1934 226h0M1944 193h0M1955 189h0M1929 211h0M1956 218h0M1935 216h0M1921 185h0M1957 194h0M1958 177h0M1949 186h0M1919 199h0M1951 208h0M1948 201h0M1930 173h0M1964 216h0M1966 209h0M1940 220h0M1974 210h0M1973 195h0M1946 211h0M1916 229h0M1941 179h0M1954 180h0M1909 226h0M1936 189h0M1976 201h0M1953 227h0M1959 201h0M1919 215h0M1966 201h0M1966 226h0M1938 175h0M1958 231h0M1966 189h0M1930 199h0M1919 195h0M1963 195h0M1916 208h0M1941 190h0M1949 236h0M1961 225h0M1917 184h0M1966 234h0M1978 216h0M1925 201h0M1943 215h0M1981 222h0M1968 178h0M1955 245h0M1936 194h0M1941 233h0M1948 245h0M1936 210h0M1910 219h0M1918 220h0M1952 239h0M1944 199h0M1934 179h0M1949 215h0M1975 227h0M1980 197h0M1941 207h0M1930 190h0M1985 225h0M1974 205h0M1982 232h0M1946 176h0M1973 234h0M1955 203h0M1974 216h0M1955 213h0M1915 198h0M1962 239h0M1935 198h0M1924 216h0M1936 222h0M1968 184h0M1945 183h0M1934 232h0M1983 210h0M1919 190h0M1986 216h0M1926 181h0M1967 196h0M1971 199h0M1938 184h0M1959 247h0M1949 229h0M1920 232h0M1931 205h0M1931 229h0M1957 242h0M1950 191h0M1906 229h0M1970 228h0M1960 235h0M1916 234h0M1970 212h0M1962 229h0M1915 203h0M1982 227h0M1968 238h0M1950 176h0M1960 218h0M1920 225h0M1975 221h0M1962 188h0M1946 239h0M1938 231h0M1929 194h0M1953 184h0M1955 207h0M1914 213h0M1940 201h0M1930 233h0M1915 224h0M1906 222h0M1912 234h0M1947 207h0M1957 222h0M1969 205h0M1915 193h0M1957 185h0M1970 192h0M1979 237h0M1927 177h0M1941 238h0M1931 222h0M1945 189h0M1926 213h0M1985 221h0M1909 213h0M1972 224h0M2001 205h0M1983 255h0M1980 250h0M1996 227h0M1987 251h0M1974 248h0M1996 213h0M1983 245h0M1990 246h0M2006 220h0M1983 239h0M2014 237h0M2007 209h0M2001 231h0M2006 260h0M1990 218h0M2009 228h0M2009 241h0M1997 257h0M2004 236h0M1992 210h0M1985 261h0M1974 241h0M1978 243h0M2003 245h0M1991 260h0M1968 253h0M2009 249h0M2000 240h0M1996 240h0M1990 240h0M2005 214h0M2019 242h0M2012 215h0M2014 226h0M2016 247h0M1993 252h0M1968 243h0M1989 227h0M1975 255h0M2008 256h0M1993 205h0M2012 244h0M1999 222h0M2004 226h0M1965 248h0M2018 238h0M2018 231h0M2001 218h0M1993 236h0M1997 264h0M2014 221h0M2002 257h0M2005 266h0M1993 223h0M2014 232h0M1989 265h0M1996 246h0M1998 207h0M1962 244h0M1992 231h0M1995 218h0M1987 243h0M2008 233h0M2013 253h0M1988 237h0M1989 255h0M1986 233h0M1987 212h0M1961 252h0M1998 235h0M2002 210h0M2007 246h0M1970 249h0M2004 241h0M1969 217h0M2000 227h0M1979 257h0M1971 245h0M2009 223h0M2023 239h0M1992 264h0M1993 215h0M1983 214h0M1969 232h0M2000 214h0M2018 224h0M1997 230h0M1998 202h0M2023 225h0M2016 206h0M2025 235h0M2019 217h0M2013 207h0M2018 210h0M2025 216h0M2012 201h0M2007 203h0M2025 229h0M2016 214h0M2023 220h0M2021 310h0M2027 262h0M2002 324h0M2005 312h0M2029 280h0M2006 304h0M2010 282h0M2026 286h0M2012 336h0M1987 280h0M2003 331h0M2024 318h0M2009 288h0M2025 303h0M1992 285h0M1996 294h0M2002 318h0M2000 280h0M2022 314h0M2000 309h0M2013 305h0M2022 295h0M2015 270h0M2020 274h0M2009 327h0M2011 317h0M2017 320h0M2029 299h0M1997 270h0M2008 336h0M2003 295h0M1994 306h0M2001 272h0M2031 286h0M2019 330h0M2033 301h0M2026 273h0M2018 325h0M2006 272h0M2028 293h0M2003 285h0M1993 275h0M2011 342h0M2012 312h0M2019 299h0M2018 268h0M2014 296h0M1991 293h0M2023 270h0M2007 298h0M2011 273h0M2006 340h0M2030 276h0M2007 320h0M2014 331h0M2018 313h0M2002 263h0M2027 309h0M1996 288h0M2010 267h0M1997 276h0M1997 312h0M1987 286h0M2017 257h0M2001 290h0M1988 290h0M2003 308h0M2007 315h0M2004 279h0M2006 291h0M2016 288h0M2020 262h0M2019 304h0M2028 289h0M2031 265h0M1991 270h0M1989 274h0M1993 313h0M2015 263h0M2013 301h0M2009 308h0M2021 321h0M2022 290h0M2013 323h0M2013 291h0M1996 284h0M2031 271h0M2027 313h0M2012 278h0M2025 266h0M2001 268h0M1994 322h0M2023 260h0M2025 323h0M2015 275h0M2016 316h0M2009 295h0M1993 281h0M1991 302h0M2011 261h0M2030 304h0M2024 299h0M2001 394h0M1973 376h0M2009 354h0M1987 398h0M1992 353h0M1976 386h0M1993 367h0M2006 372h0M1983 376h0M1992 362h0M2013 362h0M2010 371h0M2006 347h0M2001 353h0M1990 384h0M1992 392h0M2003 386h0M1977 381h0M1970 382h0M1964 382h0M1994 374h0M1962 372h0M1999 369h0M1980 394h0M1981 385h0M1995 326h0M2012 348h0M1998 386h0M2006 380h0M1999 376h0M1976 369h0M2006 368h0M1983 354h0M1994 356h0M1982 360h0M2008 361h0M2001 344h0M1985 366h0M1987 394h0M1999 359h0M1996 394h0M1985 386h0M1994 382h0M2016 365h0M1984 369h0M1959 357h0M1989 377h0M1985 380h0M1998 349h0M1978 390h0M1981 345h0M1988 370h0M1969 377h0M1979 364h0M2006 358h0M2000 382h0M2013 357h0M1960 352h0M1978 377h0M1989 358h0M1980 370h0M1983 340h0M1971 340h0M2002 339h0M1994 387h0M2009 376h0M2006 351h0M1972 389h0M2012 366h0M1986 374h0M1998 330h0M2001 390h0M1982 389h0M1990 395h0M1989 366h0M1997 353h0M2003 376h0M2002 335h0M1996 371h0M1974 364h0M1972 355h0M2017 362h0M1967 386h0M1990 388h0M1982 397h0M1957 363h0M2006 391h0M1934 403h0M1918 402h0M1922 404h0M1930 395h0M1909 405h0M1946 402h0M1912 397h0M1921 391h0M1956 395h0M1920 397h0M1906 401h0M1930 399h0M1958 390h0M1925 396h0M1953 398h0M1962 388h0M1900 375h0M1916 389h0M1926 401h0M1939 400h0M1914 406h0M1916 396h0M1911 401h0M1941 406h0M1903 403h0M1904 381h0M1899 399h0M1928 373h0M1934 397h0M1948 398h0M1942 399h0M1766 133h0M1775 143h0M1753 120h0M1746 165h0M1729 151h0M1737 129h0M1778 151h0M1717 124h0M1736 169h0M1762 120h0M1750 154h0M1786 120h0M1745 153h0M1765 149h0M1733 156h0M1789 169h0M1751 160h0M1780 160h0M1758 190h0M1766 190h0M1794 156h0M1720 143h0M1733 122h0M1742 176h0M1793 166h0M1732 166h0M1779 182h0M1791 121h0M1728 140h0M1765 166h0M1744 117h0M1770 179h0M1768 198h0M1756 161h0M1750 148h0M1776 137h0M1787 147h0M1769 116h0M1744 183h0M1779 115h0M1796 146h0M1756 152h0M1755 146h0M1772 151h0M1753 137h0M1781 169h0M1791 127h0M1748 125h0M1758 116h0M1795 140h0M1729 145h0M1791 143h0M1746 136h0M1750 180h0M1731 135h0M1755 172h0M1729 126h0M1740 155h0M1783 145h0M1725 168h0M1780 120h0M1750 191h0M1767 128h0M1773 126h0M1791 134h0M1774 158h0M1766 156h0M1747 175h0M1738 134h0M1782 135h0M1723 137h0M1732 171h0M1790 152h0M1772 139h0M1775 188h0M1766 179h0M1724 157h0M1785 165h0M1772 185h0M1761 142h0M1797 161h0M1754 185h0M1749 140h0M1723 152h0M1773 116h0M1737 140h0M1735 178h0M1719 148h0M1774 111h0M1782 109h0M1728 162h0M1719 164h0M1767 173h0M1747 187h0M1780 141h0M1766 142h0M1733 146h0M1756 156h0M1719 160h0M1759 164h0M1740 115h0M1731 130h0M1785 158h0M1771 121h0M1743 132h0M1750 169h0M1760 175h0M1750 196h0M1738 148h0M1759 124h0M1769 160h0M1772 170h0M1735 115h0M1746 145h0M1744 140h0M1763 187h0M1754 142h0M1745 158h0M1738 124h0M1778 178h0M1771 131h0M1768 137h0M1731 160h0M1758 134h0M1738 181h0M1740 167h0M1753 165h0M1788 139h0M1774 166h0M1754 192h0M1786 129h0M1787 125h0M1754 114h0M1719 130h0M1744 112h0M1764 195h0M1783 151h0M1778 145h0M1740 185h0M1741 137h0M1772 135h0M1763 129h0M1743 125h0M1762 137h0M1769 112h0M1749 131h0M1784 116h0M1791 161h0M1784 174h0M1776 171h0M1724 144h0M1725 132h0M1742 171h0M1726 148h0M1727 136h0M1724 125h0M1771 155h0M1771 194h0M1761 152h0M1778 164h0M1748 116h0M1761 158h0M1738 111h0M1777 130h0M1735 206h0M1761 180h0M1738 199h0M1723 202h0M1721 178h0M1747 214h0M1739 221h0M1732 201h0M1756 207h0M1731 220h0M1713 188h0M1714 203h0M1725 216h0M1704 192h0M1728 225h0M1731 191h0M1708 196h0M1715 194h0M1745 206h0M1719 207h0M1720 172h0M1758 199h0M1728 205h0M1719 223h0M1740 195h0M1742 211h0M1711 195h0M1707 178h0M1738 213h0M1713 180h0M1705 201h0M1707 184h0M1731 210h0M1727 195h0M1716 169h0M1744 219h0M1729 178h0M1719 198h0M1744 201h0M1732 226h0M1754 213h0M1740 206h0M1715 210h0M1751 175h0M1750 210h0M1762 206h0M1758 211h0M1725 176h0M1732 186h0M1736 185h0M1752 201h0M1738 175h0M1724 221h0M1715 217h0M1737 192h0M1729 182h0M1758 183h0M1710 201h0M1758 216h0M1737 218h0M1703 197h0M1721 213h0M1716 175h0M1742 189h0M1748 201h0M1733 194h0M1760 195h0M1726 210h0M1754 179h0M1745 195h0M1719 202h0M1722 209h0M1709 190h0M1754 196h0M1764 183h0M1748 217h0M1732 216h0M1714 198h0M1732 182h0M1792 206h0M1808 188h0M1780 196h0M1798 177h0M1802 189h0M1799 205h0M1812 179h0M1798 196h0M1804 217h0M1783 206h0M1787 197h0M1788 182h0M1791 216h0M1768 204h0M1805 181h0M1807 176h0M1775 204h0M1789 203h0M1797 191h0M1809 197h0M1807 172h0M1790 175h0M1799 169h0M1788 190h0M1780 188h0M1793 212h0M1776 217h0M1810 208h0M1778 212h0M1771 209h0M1814 204h0M1814 175h0M1787 208h0M1806 203h0M1784 193h0M1806 167h0M1791 179h0M1814 193h0M1806 210h0M1784 212h0M1786 216h0M1791 194h0M1802 165h0M1776 198h0M1783 178h0M1793 185h0M1781 221h0M1795 170h0M1783 200h0M1804 194h0M1792 199h0M1796 201h0M1800 215h0M1803 174h0M1813 198h0M1808 214h0M1795 175h0M1779 203h0M1797 220h0M1781 216h0M1800 201h0M1789 187h0M1789 212h0M1792 190h0M1771 201h0M1811 172h0M1803 205h0M1780 175h0M1777 192h0M1812 184h0M1719 109h0M1707 120h0M1711 115h0M1730 114h0M1732 110h0M1725 111h0M1711 126h0M1712 121h0M1722 115h0M1713 132h0M1727 120h0M1715 113h0M1715 118h0M1711 108h0M1721 104h0M1716 128h0M1722 133h0M1732 118h0M1720 119h0M1716 105h0M1776 242h0M1752 232h0M1757 234h0M1776 228h0M1771 241h0M1756 225h0M1762 241h0M1783 246h0M1784 232h0M1750 225h0M1766 224h0M1784 236h0M1796 233h0M1755 240h0M1773 234h0M1766 235h0M1762 231h0M1780 241h0M1737 229h0M1743 228h0M1746 238h0M1765 228h0M1776 237h0M1740 235h0M1793 238h0M1780 230h0M1751 238h0M1790 243h0M1769 229h0M1761 225h0M1789 232h0M1787 226h0M1751 243h0M1769 247h0M1736 233h0M1748 231h0M1770 223h0M1789 239h0M1761 236h0M1756 221h0M1781 226h0M1779 244h0M1812 192h0M1818 197h0M1815 202h0M1818 202h0M1821 205h0M1821 208h0M1821 209h0M1828 211h0M1826 209h0M1831 216h0M1830 223h0M1831 221h0M1836 229h0M1835 228h0M1839 230h0M1841 236h0M1839 235h0M1842 244h0M1844 242h0M1846 244h0M1845 245h0M1847 250h0M1848 248h0M1854 254h0M1849 257h0M1855 263h0M1659 84h0M1665 84h0M1672 89h0M1678 89h0M1684 98h0M1690 96h0M1687 99h0M1697 106h0M1696 101h0M1709 104h0M1709 108h0M1716 109h0M1720 103h0M1723 104h0M1728 114h0M1740 109h0M1699 100h0M1699 102h0M1702 108h0M1702 109h0M1699 116h0M1659 49h0M1655 57h0M1667 47h0M1658 62h0M1665 56h0M1656 41h0M1661 54h0M1666 52h0M1660 44h0M1664 37h0M1656 52h0M1663 60h0M1541 404h0M1544 399h0M1564 382h0M1548 389h0M1557 389h0M1533 414h0M1556 373h0M1563 398h0M1568 376h0M1558 379h0M1559 417h0M1544 413h0M1552 418h0M1542 390h0M1566 404h0M1529 386h0M1574 385h0M1537 374h0M1533 404h0M1561 374h0M1564 387h0M1534 382h0M1562 411h0M1530 392h0M1528 404h0M1570 381h0M1562 403h0M1543 383h0M1538 416h0M1548 404h0M1547 394h0M1549 376h0M1541 378h0M1547 379h0M1533 399h0M1578 393h0M1555 384h0M1535 409h0M1540 409h0M1530 378h0M1559 400h0M1554 423h0M1539 397h0M1546 418h0M1572 408h0M1551 395h0M1560 407h0M1539 386h0M1555 406h0M1564 392h0M1535 391h0M1572 397h0M1577 403h0M1540 413h0M1549 383h0M1570 370h0M1554 401h0M1553 388h0M1527 398h0M1579 388h0M1558 411h0M1569 393h0M1583 394h0M1567 408h0M1593 419h0M1577 428h0M1603 422h0M1585 407h0M1589 400h0M1578 411h0M1591 413h0M1605 413h0M1575 417h0M1600 405h0M1589 419h0M1595 409h0M1581 403h0M1592 425h0M1586 426h0M1582 413h0M1594 403h0M1573 421h0M1597 423h0M1570 417h0M1599 412h0M1582 422h0M1589 408h0M1576 424h0M1572 403h0M1604 408h0M1596 416h0M1513 351h0M1524 364h0M1511 344h0M1524 333h0M1520 347h0M1520 353h0M1527 343h0M1523 357h0M1516 360h0M1530 362h0M1528 366h0M1505 353h0M1525 338h0M1529 351h0M1532 355h0M1505 359h0M1534 347h0M1513 338h0M1521 342h0M1528 358h0M1561 333h0M1564 344h0M1555 345h0M1552 326h0M1554 351h0M1551 334h0M1545 333h0M1567 340h0M1559 352h0M1549 340h0M1564 348h0M1563 326h0M1558 321h0M1553 319h0M1548 346h0M1590 304h0M1576 302h0M1594 301h0M1580 309h0M1597 314h0M1589 325h0M1588 298h0M1579 317h0M1579 324h0M1573 309h0M1600 300h0M1577 295h0M1584 288h0M1584 317h0M1586 329h0M1589 320h0M1598 309h0M1593 310h0M1581 329h0M1595 320h0M1573 324h0M1585 324h0M1575 332h0M1572 314h0M1580 299h0M1595 328h0M1602 321h0M1575 286h0M1570 282h0M1591 289h0M1596 287h0M1561 286h0M1591 284h0M1580 272h0M1581 283h0M1566 291h0M1587 279h0M1575 274h0M1567 273h0M1566 279h0M1586 273h0M1578 280h0M1593 279h0M1572 289h0M1566 285h0M1571 295h0M1572 269h0M1587 286h0M1597 296h0M1605 301h0M1606 310h0M1601 313h0M1610 303h0M1606 298h0M1601 305h0M1615 304h0M1615 313h0M1602 296h0M1607 317h0M1658 332h0M1663 315h0M1640 317h0M1655 351h0M1660 340h0M1664 348h0M1672 342h0M1626 322h0M1671 336h0M1634 331h0M1654 335h0M1632 320h0M1646 314h0M1670 317h0M1652 313h0M1636 340h0M1670 347h0M1665 324h0M1640 349h0M1648 330h0M1638 336h0M1674 328h0M1647 344h0M1668 332h0M1632 338h0M1645 320h0M1676 319h0M1643 335h0M1659 346h0M1642 327h0M1652 344h0M1624 330h0M1677 336h0M1671 323h0M1663 336h0M1648 349h0M1634 324h0M1648 326h0M1659 320h0M1652 317h0M1656 324h0M1677 427h0M1669 374h0M1670 432h0M1643 391h0M1669 409h0M1696 378h0M1669 402h0M1647 386h0M1687 375h0M1697 383h0M1692 373h0M1665 385h0M1692 419h0M1709 397h0M1666 417h0M1707 383h0M1696 410h0M1701 423h0M1661 402h0M1672 382h0M1676 413h0M1662 373h0M1674 370h0M1684 384h0M1700 403h0M1660 379h0M1693 368h0M1701 391h0M1642 395h0M1660 364h0M1692 386h0M1684 422h0M1678 398h0M1655 400h0M1683 391h0M1697 417h0M1704 405h0M1650 371h0M1682 411h0M1659 387h0M1658 420h0M1653 407h0M1677 419h0M1662 421h0M1689 400h0M1666 405h0M1656 392h0M1678 375h0M1704 417h0M1684 415h0M1684 398h0M1655 372h0M1708 391h0M1659 369h0M1670 366h0M1701 373h0M1694 425h0M1685 368h0M1668 421h0M1692 391h0M1654 414h0M1687 427h0M1673 425h0M1655 376h0M1664 392h0M1660 408h0M1648 381h0M1693 405h0M1667 397h0M1679 366h0M1699 413h0M1709 369h0M1679 387h0M1707 374h0M1680 424h0M1649 397h0M1714 380h0M1693 382h0M1683 380h0M1688 381h0M1689 411h0M1668 379h0M1644 376h0M1678 403h0M1640 388h0M1669 427h0M1697 389h0M1657 405h0M1656 384h0M1678 371h0M1657 425h0M1715 392h0M1658 398h0M1646 394h0M1695 400h0M1650 391h0M1667 389h0M1679 360h0M1675 434h0M1704 413h0M1705 386h0M1677 381h0M1648 375h0M1704 378h0M1684 373h0M1702 369h0M1698 397h0M1690 396h0M1665 426h0M1688 389h0M1704 398h0M1702 409h0M1709 379h0M1688 417h0M1713 371h0M1713 387h0M1649 402h0M1664 368h0M1653 423h0M1655 410h0M1718 375h0M1718 344h0M1706 346h0M1709 354h0M1719 369h0M1710 336h0M1716 349h0M1729 350h0M1723 380h0M1696 355h0M1722 341h0M1698 362h0M1723 367h0M1709 363h0M1705 357h0M1718 338h0M1730 371h0M1688 356h0M1712 341h0M1692 344h0M1685 348h0M1730 363h0M1720 354h0M1699 343h0M1694 348h0M1734 342h0M1723 349h0M1712 365h0M1697 367h0M1705 336h0M1687 351h0M1735 349h0M1690 362h0M1725 375h0M1732 355h0M1728 344h0M1700 380h0M1699 335h0M1704 363h0M1702 353h0M1682 354h0M1729 376h0M1714 353h0M1687 359h0M1717 365h0M1712 349h0M1693 359h0M1738 356h0M1732 359h0M1707 342h0M1701 347h0M1726 353h0M1693 353h0M1705 350h0M1694 338h0M1698 350h0M1727 369h0M1714 333h0M1736 361h0M1696 372h0M1733 367h0M1724 345h0M1703 343h0M1727 339h0M1694 363h0M1714 345h0M1745 342h0M1763 325h0M1782 328h0M1771 330h0M1770 322h0M1748 328h0M1738 329h0M1730 327h0M1760 319h0M1772 338h0M1739 339h0M1731 335h0M1781 336h0M1725 334h0M1753 338h0M1752 325h0M1756 319h0M1748 322h0M1778 321h0M1774 324h0M1765 339h0M1760 330h0M1735 336h0M1763 334h0M1756 341h0M1745 333h0M1776 334h0M1760 339h0M1755 331h0M1740 323h0M1743 338h0M1775 330h0M1750 317h0M1783 323h0M1788 333h0M1740 334h0M1750 332h0M1749 336h0M1677 299h0M1700 302h0M1688 299h0M1686 304h0M1705 296h0M1694 312h0M1692 305h0M1669 297h0M1698 293h0M1673 303h0M1711 299h0M1691 289h0M1704 291h0M1666 301h0M1681 299h0M1705 305h0M1671 293h0M1707 301h0M1687 313h0M1708 289h0M1693 293h0M1709 306h0M1716 294h0M1679 294h0M1609 370h0M1636 396h0M1629 377h0M1608 390h0M1624 360h0M1633 368h0M1623 372h0M1621 365h0M1629 397h0M1628 384h0M1624 378h0M1615 372h0M1613 378h0M1625 391h0M1627 369h0M1606 377h0M1621 400h0M1614 392h0M1633 376h0M1614 398h0M1637 383h0M1620 394h0M1621 387h0M1602 381h0M1638 378h0M1622 439h0M1634 425h0M1633 433h0M1614 431h0M1643 437h0M1628 437h0M1641 422h0M1633 443h0M1616 420h0M1641 432h0M1637 440h0M1614 436h0M1618 427h0M1627 446h0M1646 426h0M1613 425h0M1635 419h0M1622 434h0M1640 418h0M1662 440h0M1656 446h0M1646 450h0M1668 440h0M1655 442h0M1645 444h0M1650 436h0M1652 459h0M1655 453h0M1672 448h0M1664 452h0M1662 446h0M1673 441h0M1513 404h0M1486 397h0M1495 402h0M1494 385h0M1489 403h0M1509 402h0M1509 391h0M1492 397h0M1493 411h0M1504 386h0M1496 379h0M1496 407h0M1504 410h0M1502 402h0M1502 373h0M1605 341h0M1597 341h0M1612 339h0M1599 334h0M1617 350h0M1619 356h0M1609 333h0M1598 351h0M1605 348h0M1607 358h0M1612 352h0M1606 352h0M1620 345h0M1730 416h0M1726 409h0M1722 424h0M1721 429h0M1730 424h0M1732 408h0M1722 416h0M1736 425h0M1713 427h0M1716 430h0M1721 406h0M1737 413h0M1714 412h0M1722 439h0M1713 420h0M1715 416h0M1728 403h0M1521 446h0M1516 446h0M1524 445h0M1511 448h0M1519 452h0M1521 453h0M1530 452h0M1524 458h0M1523 464h0M1530 458h0M1529 461h0M1535 464h0M1537 471h0M1535 472h0M1528 470h0M1531 476h0M1536 479h0M1538 476h0M1539 482h0M1533 489h0M1537 490h0M1535 493h0M1537 492h0M1542 495h0M1560 460h0M1561 464h0M1568 469h0M1569 468h0M1577 469h0M1581 475h0M1583 470h0M1585 473h0M1598 474h0M1596 479h0M1595 478h0M1603 484h0M1607 479h0M1614 489h0M1612 485h0M1626 464h0M1637 461h0M1632 467h0M1637 470h0M1638 475h0M1638 480h0M1646 475h0M1654 490h0M1648 484h0M1696 462h0M1701 457h0M1670 461h0M1694 471h0M1686 464h0M1683 467h0M1715 463h0M1706 456h0M1677 465h0M1685 459h0M1693 452h0M1690 468h0M1672 468h0M1679 470h0M1714 470h0M1676 459h0M1746 373h0M1752 383h0M1734 392h0M1753 388h0M1744 418h0M1743 392h0M1740 374h0M1748 400h0M1741 397h0M1729 390h0M1746 385h0M1743 412h0M1731 396h0M1745 405h0M1746 379h0M1747 393h0M1740 380h0M1740 407h0M1736 384h0M1734 379h0M1466 339h0M1463 348h0M1469 352h0M1466 355h0M1466 354h0M1465 359h0M1468 363h0M1468 364h0M1503 378h0M1497 382h0M1504 392h0M1511 399h0M1515 399h0M1517 401h0M1522 410h0M1761 355h0M1773 349h0M1775 344h0M1779 347h0M1785 343h0M1784 339h0M1797 337h0M1792 332h0M1436 403h0M1473 419h0M1478 415h0M1450 412h0M1452 394h0M1458 383h0M1442 409h0M1449 405h0M1462 398h0M1476 401h0M1468 413h0M1471 401h0M1455 410h0M1467 386h0M1468 397h0M1466 418h0M1481 411h0M1476 408h0M1474 387h0M1453 400h0M1459 402h0M1450 431h0M1481 405h0M1485 388h0M1462 425h0M1457 390h0M1463 406h0M1435 411h0M1485 418h0M1447 393h0M1473 405h0M1443 404h0M1482 400h0M1444 417h0M1462 415h0M1471 428h0M1478 430h0M1467 436h0M1487 384h0M1431 407h0M1451 387h0M1481 426h0M1454 417h0M1462 433h0M1442 423h0M1448 427h0M1467 429h0M1476 424h0M1458 395h0M1457 379h0M1440 392h0M1460 421h0M1463 379h0M1472 382h0M1467 405h0M1460 409h0M1481 390h0M1448 400h0M1487 424h0M1458 430h0M1488 413h0M1481 381h0M1437 398h0M1463 388h0M1467 391h0M1454 424h0M1444 388h0M1482 386h0M1486 407h0M1483 429h0M1431 403h0M1473 412h0M1441 397h0M1478 386h0M1437 407h0M1470 409h0M1449 421h0M1472 393h0M1481 418h0M1488 393h0M1431 413h0M1440 387h0M1463 392h0M1440 416h0M1469 423h0M1449 417h0M1474 432h0M1481 435h0M1453 383h0M1431 398h0M1468 381h0M1447 409h0M1455 405h0M1484 392h0M1447 467h0M1474 476h0M1491 455h0M1474 446h0M1472 461h0M1455 468h0M1463 487h0M1481 475h0M1495 471h0M1449 456h0M1487 460h0M1449 462h0M1456 475h0M1472 483h0M1446 442h0M1450 440h0M1459 459h0M1478 479h0M1467 492h0M1467 481h0M1455 450h0M1464 457h0M1459 482h0M1466 474h0M1484 456h0M1458 454h0M1472 492h0M1466 466h0M1492 451h0M1498 465h0M1463 441h0M1467 454h0M1486 448h0M1477 456h0M1479 447h0M1475 440h0M1472 452h0M1481 463h0M1497 455h0M1448 477h0M1468 462h0M1447 447h0M1484 481h0M1477 486h0M1491 446h0M1465 449h0M1446 473h0M1468 442h0M1483 443h0M1495 461h0M1461 472h0M1453 458h0M1483 485h0M1446 452h0M1475 436h0M1460 464h0M1499 460h0M1489 474h0M1452 480h0M1452 475h0M1505 466h0M1470 457h0M1488 468h0M1454 472h0M1458 444h0M1456 463h0M1502 462h0M1440 455h0M1458 486h0M1498 449h0M1456 436h0M1445 458h0M1493 466h0M1473 467h0M1476 465h0M1476 452h0M1462 446h0M1483 452h0M1471 487h0M1455 442h0M1487 441h0M1477 471h0M1479 440h0M1443 464h0M1462 452h0M1462 478h0M1443 470h0M1486 477h0M1451 446h0M1451 452h0M1470 448h0M1699 535h0M1663 503h0M1655 548h0M1695 498h0M1656 509h0M1701 509h0M1690 485h0M1685 493h0M1681 508h0M1644 543h0M1676 506h0M1667 535h0M1621 516h0M1631 510h0M1685 480h0M1651 514h0M1655 485h0M1624 499h0M1664 515h0M1641 532h0M1671 544h0M1676 543h0M1684 501h0M1662 487h0M1684 534h0M1676 518h0M1637 481h0M1625 513h0M1677 486h0M1650 522h0M1645 511h0M1615 526h0M1646 528h0M1626 518h0M1672 549h0M1644 474h0M1613 515h0M1638 498h0M1623 527h0M1630 529h0M1617 519h0M1671 524h0M1701 491h0M1640 524h0M1681 523h0M1688 513h0M1705 527h0M1701 504h0M1666 522h0M1661 508h0M1642 491h0M1669 481h0M1703 499h0M1711 506h0M1650 497h0M1697 528h0M1622 485h0M1638 537h0M1636 507h0M1654 541h0M1631 536h0M1627 531h0M1631 487h0M1674 530h0M1637 494h0M1647 517h0M1639 474h0M1662 544h0M1650 551h0M1635 513h0M1674 496h0M1653 531h0M1710 527h0M1699 521h0M1620 493h0M1669 531h0M1692 510h0M1674 511h0M1681 530h0M1665 494h0M1656 490h0M1677 499h0M1689 528h0M1697 494h0M1616 510h0M1692 491h0M1670 503h0M1665 540h0M1645 548h0M1667 513h0M1623 504h0M1663 536h0M1657 520h0M1705 515h0M1689 503h0M1631 502h0M1626 495h0M1679 494h0M1690 517h0M1670 519h0M1634 475h0M1644 506h0M1649 489h0M1661 526h0M1696 487h0M1707 508h0M1652 527h0M1650 479h0M1658 501h0M1682 517h0M1655 478h0M1640 545h0M1640 518h0M1644 482h0M1633 498h0M1619 497h0M1695 518h0M1666 549h0M1659 533h0M1633 519h0M1626 509h0M1621 512h0M1658 537h0M1625 488h0M1615 495h0M1639 504h0M1654 517h0M1676 536h0M1630 543h0M1665 532h0M1644 496h0M1711 501h0M1656 513h0M1621 521h0M1659 551h0M1688 498h0M1687 523h0M1707 492h0M1692 521h0M1640 487h0M1707 499h0M1685 485h0M1668 554h0M1647 501h0M1629 492h0M1710 513h0M1660 497h0M1677 481h0M1659 479h0M1666 489h0M1670 489h0M1638 549h0M1649 543h0M1652 503h0M1708 520h0M1616 501h0M1629 524h0M1627 538h0M1677 525h0M1680 489h0M1647 556h0M1636 528h0M1630 516h0M1676 491h0M1683 496h0M1641 511h0M1663 483h0M1679 502h0M1664 499h0M1671 514h0M1628 484h0M1656 524h0M1619 530h0M1616 488h0M1641 479h0M1704 521h0M1644 522h0M1688 508h0M1636 533h0M1696 502h0M1648 483h0M1651 535h0M1635 541h0M1688 540h0M1681 479h0M1707 504h0M1685 526h0M1634 490h0M1655 495h0M1666 526h0M1672 538h0M1683 513h0M1637 520h0M1627 501h0M1657 544h0M1645 487h0M1642 552h0M1677 547h0M1674 484h0M1673 534h0M1679 515h0M1698 507h0M1633 483h0M1685 530h0M1651 507h0M1660 541h0M1704 495h0M1706 512h0M1703 533h0M1661 520h0M1660 492h0M1688 489h0M1708 533h0M1712 522h0M1704 487h0M1625 523h0M1634 524h0M1630 470h0M1624 479h0M1649 470h0M1634 467h0M1648 475h0M1629 474h0M1639 469h0M1629 478h0M1637 487h0M1654 471h0M1644 471h0M1626 472h0M1636 472h0M1634 479h0M1710 476h0M1700 481h0M1700 476h0M1699 471h0M1704 473h0M1706 482h0M1693 476h0M1691 480h0M1704 477h0M1688 477h0M1710 483h0M1697 479h0M1560 626h0M1546 631h0M1542 620h0M1551 631h0M1557 621h0M1558 638h0M1554 642h0M1552 627h0M1549 620h0M1553 616h0M1545 639h0M1556 629h0M1561 632h0M1552 636h0M1546 636h0M1546 626h0M1549 614h0M1540 632h0M1614 738h0M1616 738h0M1616 740h0M1618 742h0M1618 744h0M1620 746h0M1528 553h0M1528 571h0M1535 581h0M1548 250h0M1552 300h0"/>
<path stroke="#f08c35" stroke-width="6.5" d="M1649 40h0M1648 39h0M1651 41h0M1646 41h0M1647 39h0M1642 39h0M1649 42h0M1638 48h0M1643 46h0M1646 47h0M1642 49h0M1645 44h0M1639 47h0M1642 44h0M1643 55h0M1639 48h0M1646 53h0M1645 57h0M1640 51h0M1628 58h0M1634 52h0M1636 55h0M1634 58h0M1633 63h0M1636 47h0M1632 64h0M1635 62h0M1627 68h0M1628 66h0M1633 59h0M1623 67h0M1621 62h0M1632 70h0M1627 72h0M1636 69h0M1626 67h0M1628 71h0M1629 78h0M1634 71h0M1633 84h0M1627 70h0M1626 79h0M1623 81h0M1623 73h0M1628 78h0M1649 33h0M1643 43h0M1644 38h0M1642 33h0M1648 42h0M1639 40h0M1652 36h0M1645 48h0M1647 28h0M1638 36h0M1583 106h0M1616 120h0M1607 91h0M1576 118h0M1611 99h0M1577 106h0M1595 119h0M1606 122h0M1606 110h0M1624 116h0M1615 127h0M1611 123h0M1615 108h0M1608 105h0M1600 102h0M1591 96h0M1595 89h0M1587 106h0M1585 98h0M1579 112h0M1582 127h0M1591 105h0M1626 108h0M1584 119h0M1608 129h0M1613 116h0M1586 125h0M1615 133h0M1586 111h0M1597 96h0M1594 100h0M1607 117h0M1613 94h0M1592 108h0M1592 130h0M1603 99h0M1590 114h0M1622 111h0M1578 92h0M1596 111h0M1620 105h0M1572 110h0M1607 83h0M1620 93h0M1583 94h0M1599 134h0M1573 124h0M1621 121h0M1580 121h0M1629 115h0M1573 104h0M1591 124h0M1601 90h0M1616 98h0M1597 84h0M1596 133h0M1611 132h0M1577 129h0M1600 114h0M1588 91h0M1575 112h0M1578 98h0M1586 130h0M1624 102h0M1583 115h0M1593 93h0M1607 95h0M1596 107h0M1609 114h0M1599 120h0M1604 104h0M1578 124h0M1615 103h0M1607 100h0M1618 130h0M1626 119h0M1606 134h0M1615 112h0M1595 115h0M1626 89h0M1619 84h0M1636 109h0M1642 97h0M1632 101h0M1636 91h0M1637 101h0M1628 101h0M1633 81h0M1623 87h0M1640 91h0M1630 88h0M1631 105h0M1638 83h0M1630 97h0M1632 92h0M1635 96h0M1617 88h0M1641 106h0M1628 80h0M1642 102h0M1638 87h0M1625 98h0M1624 93h0M1625 83h0M1589 201h0M1584 157h0M1612 197h0M1580 174h0M1576 198h0M1586 181h0M1616 208h0M1601 163h0M1599 179h0M1591 164h0M1582 164h0M1575 172h0M1606 186h0M1590 194h0M1574 152h0M1622 170h0M1583 221h0M1617 190h0M1600 205h0M1608 179h0M1597 168h0M1613 183h0M1619 204h0M1566 172h0M1582 185h0M1606 196h0M1572 196h0M1585 209h0M1599 198h0M1577 179h0M1596 189h0M1589 216h0M1620 193h0M1585 145h0M1609 191h0M1579 216h0M1577 165h0M1589 206h0M1594 215h0M1611 162h0M1588 150h0M1563 178h0M1581 192h0M1586 172h0M1573 206h0M1626 190h0M1613 203h0M1621 178h0M1569 165h0M1630 181h0M1627 174h0M1613 156h0M1578 205h0M1588 168h0M1570 156h0M1623 186h0M1567 185h0M1586 191h0M1606 158h0M1605 166h0M1570 213h0M1610 209h0M1581 180h0M1595 153h0M1579 159h0M1571 162h0M1576 193h0M1595 182h0M1589 160h0M1614 175h0M1602 189h0M1574 176h0M1603 181h0M1569 180h0M1593 141h0M1602 211h0M1589 223h0M1620 160h0M1599 185h0M1617 171h0M1596 220h0M1604 152h0M1618 199h0M1591 177h0M1595 162h0M1568 202h0M1594 174h0M1590 154h0M1595 195h0M1568 192h0M1598 215h0M1617 181h0M1584 169h0M1567 176h0M1574 215h0M1607 173h0M1585 152h0M1598 158h0M1579 148h0M1625 181h0M1595 199h0M1579 210h0M1583 200h0M1601 148h0M1580 153h0M1572 168h0M1589 188h0M1596 147h0M1617 167h0M1599 151h0M1582 207h0M1582 213h0M1607 203h0M1615 162h0M1590 184h0M1603 202h0M1624 165h0M1578 169h0M1594 158h0M1592 171h0M1627 186h0M1579 220h0M1565 189h0M1609 215h0M1574 202h0M1590 211h0M1560 170h0M1589 142h0M1585 204h0M1592 149h0M1604 192h0M1585 195h0M1621 182h0M1606 162h0M1601 157h0M1573 180h0M1610 187h0M1575 156h0M1606 207h0M1567 207h0M1660 145h0M1649 183h0M1675 151h0M1652 155h0M1629 146h0M1665 176h0M1669 157h0M1663 153h0M1645 137h0M1629 161h0M1641 172h0M1641 133h0M1658 181h0M1638 188h0M1649 166h0M1651 140h0M1649 152h0M1634 171h0M1632 165h0M1649 135h0M1637 143h0M1657 139h0M1642 181h0M1671 166h0M1626 159h0M1667 148h0M1658 171h0M1677 160h0M1625 153h0M1670 174h0M1651 175h0M1635 138h0M1631 139h0M1644 151h0M1651 148h0M1646 143h0M1660 157h0M1651 159h0M1634 159h0M1653 187h0M1637 165h0M1676 165h0M1656 153h0M1670 180h0M1643 191h0M1649 189h0M1645 176h0M1633 186h0M1639 155h0M1629 153h0M1659 187h0M1664 138h0M1636 147h0M1654 161h0M1638 180h0M1655 167h0M1654 183h0M1640 162h0M1636 175h0M1661 176h0M1641 166h0M1664 183h0M1668 170h0M1668 163h0M1645 170h0M1669 143h0M1664 144h0M1655 145h0M1674 169h0M1652 179h0M1669 151h0M1654 133h0M1639 137h0M1650 130h0M1675 155h0M1642 186h0M1628 168h0M1680 163h0M1627 138h0M1641 145h0M1645 164h0M1654 194h0M1651 170h0M1673 159h0M1637 193h0M1656 175h0M1659 150h0M1665 159h0M1662 172h0M1673 146h0M1634 190h0M1601 231h0M1635 215h0M1619 228h0M1650 215h0M1638 228h0M1631 209h0M1636 210h0M1631 235h0M1625 227h0M1625 247h0M1605 222h0M1603 248h0M1600 222h0M1644 211h0M1623 199h0M1634 243h0M1642 207h0M1607 228h0M1607 211h0M1625 236h0M1643 234h0M1618 212h0M1630 204h0M1612 218h0M1636 236h0M1639 240h0M1620 223h0M1619 233h0M1647 222h0M1614 224h0M1634 220h0M1626 214h0M1616 245h0M1647 241h0M1614 229h0M1609 225h0M1634 204h0M1654 221h0M1608 244h0M1595 228h0M1618 238h0M1633 228h0M1612 250h0M1639 219h0M1621 207h0M1625 220h0M1627 240h0M1616 249h0M1608 237h0M1652 234h0M1600 227h0M1620 217h0M1656 216h0M1643 216h0M1625 203h0M1620 249h0M1653 227h0M1644 238h0M1643 221h0M1600 240h0M1622 213h0M1615 215h0M1639 245h0M1604 243h0M1622 244h0M1629 217h0M1627 232h0M1635 232h0M1630 224h0M1630 244h0M1596 234h0M1612 241h0M1614 235h0M1635 224h0M1603 217h0M1605 252h0M1643 246h0M1625 208h0M1631 213h0M1650 219h0M1599 236h0M1630 248h0M1656 230h0M1653 241h0M1635 247h0M1650 209h0M1623 231h0M1640 225h0M1639 213h0M1606 232h0M1623 239h0M1674 223h0M1678 208h0M1672 186h0M1682 215h0M1671 200h0M1667 220h0M1680 191h0M1669 206h0M1679 212h0M1687 194h0M1660 199h0M1665 189h0M1662 221h0M1660 208h0M1676 182h0M1694 201h0M1663 213h0M1687 190h0M1688 206h0M1673 218h0M1678 196h0M1679 223h0M1688 215h0M1673 193h0M1683 184h0M1666 196h0M1676 202h0M1679 186h0M1675 197h0M1685 205h0M1668 211h0M1661 193h0M1666 201h0M1691 197h0M1669 191h0M1673 208h0M1675 190h0M1674 213h0M1679 218h0M1691 210h0M1688 201h0M1693 207h0M1684 210h0M1685 218h0M1687 186h0M1692 254h0M1688 243h0M1678 252h0M1676 249h0M1681 245h0M1687 258h0M1674 245h0M1686 251h0M1681 257h0M1683 240h0M1674 238h0M1691 258h0M1684 262h0M1689 264h0M1678 241h0M1623 148h0M1614 143h0M1607 142h0M1621 137h0M1610 151h0M1617 148h0M1600 140h0M1617 153h0M1610 166h0M1616 140h0M1622 143h0M1605 147h0M1610 139h0M1602 143h0M1623 157h0M1618 144h0M1609 154h0M1609 147h0M1540 223h0M1551 233h0M1547 218h0M1551 228h0M1544 220h0M1554 219h0M1547 235h0M1549 223h0M1557 233h0M1553 237h0M1542 234h0M1547 229h0M1556 223h0M1553 214h0M1543 242h0M1547 249h0M1548 255h0M1547 254h0M1551 256h0M1620 290h0M1609 276h0M1613 298h0M1603 285h0M1614 291h0M1620 277h0M1617 281h0M1621 284h0M1604 277h0M1608 289h0M1611 283h0M1606 282h0M1606 293h0M1618 299h0M1612 270h0M1615 286h0M1622 294h0M1616 277h0M1666 313h0M1656 296h0M1675 314h0M1665 308h0M1666 291h0M1656 301h0M1670 286h0M1661 303h0M1663 297h0M1659 313h0M1669 309h0M1659 292h0M1663 287h0M1673 307h0M1660 308h0M1654 306h0M1673 289h0M1678 305h0M1652 303h0M1668 305h0M1678 310h0M1660 300h0M1652 298h0M1673 296h0M1666 245h0M1664 253h0M1661 248h0M1658 243h0M1649 249h0M1671 253h0M1676 258h0M1668 256h0M1658 253h0M1655 248h0M1662 256h0M1657 237h0M1666 249h0M1653 256h0M1671 247h0M1663 240h0M1662 244h0M1652 245h0M1669 240h0M1672 258h0M1649 238h0M1577 266h0M1579 256h0M1571 262h0M1587 263h0M1575 259h0M1581 260h0M1585 256h0M1588 259h0M1584 266h0M1571 258h0M1591 262h0M1578 261h0M1719 387h0M1718 378h0M1712 375h0M1711 383h0M1501 306h0M1500 322h0M1444 349h0M1547 303h0M1585 270h0M1712 330h0M1818 395h0M1988 284h0M1905 240h0M1818 439h0M1790 404h0M1782 436h0M1800 382h0M1775 433h0M1802 408h0M1798 418h0M1810 408h0M1796 410h0M1774 397h0M1785 404h0M1802 393h0M1779 401h0M1806 439h0M1775 418h0M1784 386h0M1789 438h0M1792 427h0M1830 397h0M1779 426h0M1826 406h0M1796 445h0M1788 418h0M1819 407h0M1771 401h0M1788 382h0M1829 412h0M1807 416h0M1807 380h0M1823 385h0M1824 410h0M1776 411h0M1789 410h0M1769 409h0M1781 429h0M1801 438h0M1811 386h0M1812 423h0M1827 390h0M1821 424h0M1809 434h0M1771 415h0M1789 433h0M1817 394h0M1812 431h0M1825 395h0M1785 427h0M1795 397h0M1825 416h0M1824 438h0M1781 391h0M1785 396h0M1823 431h0M1816 389h0M1802 425h0M1769 429h0M1779 395h0M1792 377h0M1802 443h0M1821 401h0M1806 399h0M1830 416h0M1815 377h0M1817 412h0M1795 436h0M1786 412h0M1764 418h0M1806 388h0M1788 443h0M1796 430h0M1787 407h0M1805 433h0M1767 422h0M1796 381h0M1780 411h0M1832 421h0M1831 430h0M1816 424h0M1819 434h0M1808 403h0M1795 405h0M1790 387h0M1784 431h0M1798 376h0M1820 443h0M1813 412h0M1801 414h0M1775 405h0M1772 420h0M1829 439h0M1804 384h0M1779 421h0M1762 411h0M1783 417h0M1792 420h0M1786 390h0M1803 419h0M1794 392h0M1797 424h0M1815 402h0M1773 428h0M1810 442h0M1802 388h0M1827 425h0M1831 393h0M1785 423h0M1811 390h0M1834 416h0M1800 432h0M1812 380h0M1797 387h0M1804 378h0M1796 440h0M1815 434h0M1799 400h0M1793 415h0M1815 443h0M1835 425h0M1822 419h0M1817 384h0M1812 417h0M1789 393h0M1771 435h0M1790 398h0M1827 433h0M1766 406h0M1821 414h0M1806 412h0M1814 407h0M1788 423h0M1818 428h0M1802 404h0M1799 428h0M1769 392h0M1771 372h0M1776 377h0M1788 374h0M1764 386h0M1771 388h0M1778 385h0M1776 389h0M1781 379h0M1762 378h0M1759 391h0M1772 377h0M1762 396h0M1764 393h0M1766 374h0M1769 382h0M1782 373h0M1758 382h0M1775 371h0M1768 397h0M1784 369h0M1784 377h0M1774 382h0M1784 381h0M1763 382h0M1774 392h0M1759 387h0M1811 449h0M1828 444h0M1858 439h0M1834 448h0M1838 439h0M1848 445h0M1848 427h0M1839 432h0M1864 440h0M1862 435h0M1835 443h0M1825 449h0M1857 431h0M1846 434h0M1842 435h0M1818 451h0M1855 426h0M1843 450h0M1851 438h0M1851 430h0M1863 426h0M1855 444h0M1831 435h0M1844 430h0M1816 447h0M1868 436h0M1814 450h0M1844 439h0M1833 439h0M1839 448h0M1832 453h0M1804 447h0M1829 448h0M1814 439h0M1850 448h0M1854 436h0M1875 432h0M1869 431h0M1871 427h0M1876 424h0M1874 436h0M1879 428h0M1843 415h0M1852 403h0M1836 400h0M1844 409h0M1850 410h0M1837 406h0M1843 396h0M1847 401h0M1840 411h0M1842 401h0M1849 413h0M1842 405h0M1752 418h0M1758 432h0M1900 420h0M1817 372h0M1835 380h0M1850 236h0M1855 234h0M1865 236h0M1860 233h0M1860 240h0M1855 241h0M1857 229h0M1864 230h0M1873 238h0M1867 250h0M1712 385h0M1716 390h0M1565 612h0M1568 626h0"/>
<path stroke="#4db27a" stroke-width="6.5" d="M1386 552h0M1379 546h0M1359 552h0M1346 565h0M1365 556h0M1385 562h0M1358 566h0M1379 580h0M1389 565h0M1350 563h0M1380 573h0M1379 557h0M1389 572h0M1356 547h0M1373 552h0M1385 540h0M1378 552h0M1357 573h0M1371 559h0M1378 541h0M1343 554h0M1391 559h0M1377 566h0M1352 569h0M1362 569h0M1385 569h0M1389 546h0M1373 544h0M1377 562h0M1362 576h0M1369 578h0M1393 549h0M1390 553h0M1376 585h0M1368 563h0M1353 543h0M1349 557h0M1376 535h0M1365 551h0M1369 573h0M1381 537h0M1367 536h0M1361 582h0M1368 585h0M1362 543h0M1374 539h0M1357 541h0M1351 552h0M1393 564h0M1394 543h0M1383 565h0M1384 547h0M1365 566h0M1373 580h0M1373 589h0M1357 580h0M1380 568h0M1361 559h0M1386 557h0M1355 561h0M1346 558h0M1385 576h0M1352 576h0M1376 575h0M1386 536h0M1372 568h0M1366 590h0M1384 583h0M1376 549h0M1372 585h0M1357 557h0M1359 537h0M1382 553h0M1365 611h0M1390 588h0M1383 615h0M1386 602h0M1375 610h0M1389 610h0M1382 602h0M1393 615h0M1374 600h0M1387 597h0M1389 580h0M1393 597h0M1365 603h0M1370 605h0M1386 608h0M1383 620h0M1375 617h0M1371 613h0M1358 599h0M1362 595h0M1372 594h0M1390 593h0M1390 606h0M1363 586h0M1383 597h0M1384 589h0M1368 599h0M1394 587h0M1378 623h0M1359 604h0M1379 609h0M1383 627h0M1395 604h0M1379 599h0M1389 619h0M1369 609h0M1378 603h0M1396 611h0M1366 615h0M1375 606h0M1367 595h0M1376 596h0M1361 610h0M1392 602h0M1372 622h0M1389 614h0M1394 593h0M1391 631h0M1395 627h0M1388 645h0M1393 642h0M1383 632h0M1377 640h0M1390 638h0M1383 647h0M1389 626h0M1379 633h0M1395 633h0M1387 629h0M1373 630h0M1383 638h0M1377 644h0M1396 638h0M1396 623h0M1386 651h0M1386 636h0M1397 645h0M1394 619h0M1386 622h0M1377 629h0M1391 622h0M1401 635h0M1452 583h0M1445 608h0M1446 593h0M1438 581h0M1469 589h0M1452 574h0M1454 600h0M1439 593h0M1457 585h0M1436 586h0M1447 556h0M1441 579h0M1472 576h0M1431 586h0M1453 579h0M1460 575h0M1444 586h0M1445 573h0M1436 598h0M1467 573h0M1429 595h0M1433 571h0M1444 601h0M1430 601h0M1460 567h0M1466 595h0M1471 584h0M1451 604h0M1437 610h0M1459 599h0M1468 578h0M1460 590h0M1428 564h0M1448 568h0M1455 593h0M1452 613h0M1431 609h0M1457 572h0M1440 561h0M1435 566h0M1460 605h0M1436 603h0M1463 581h0M1449 600h0M1428 577h0M1433 591h0M1445 561h0M1430 581h0M1459 562h0M1446 581h0M1443 611h0M1438 569h0M1454 587h0M1452 556h0M1465 601h0M1442 556h0M1464 589h0M1428 569h0M1442 568h0M1440 586h0M1452 562h0M1445 565h0M1453 596h0M1433 605h0M1449 586h0M1435 576h0M1434 560h0M1456 606h0M1459 609h0M1442 606h0M1432 564h0M1475 585h0M1463 618h0M1475 619h0M1467 611h0M1470 617h0M1457 613h0M1475 614h0M1469 604h0M1469 622h0M1458 618h0M1462 624h0M1477 608h0M1472 610h0M1464 607h0M1461 613h0M1480 615h0M1414 581h0M1414 593h0M1422 592h0M1409 592h0M1417 576h0M1426 574h0M1405 577h0M1404 593h0M1409 583h0M1403 571h0M1421 584h0M1408 565h0M1417 567h0M1426 588h0M1418 588h0M1409 571h0M1426 582h0M1411 597h0M1405 586h0M1411 576h0M1421 571h0M1412 588h0M1422 565h0M1404 581h0M1414 564h0M1421 580h0M1418 596h0M1418 561h0M1413 572h0M1401 589h0M1412 568h0M1404 547h0M1405 551h0M1407 547h0M1411 543h0M1416 549h0M1418 542h0M1426 551h0M1426 548h0M1427 549h0M1432 550h0M1438 550h0M1435 547h0M1446 533h0M1442 529h0M1443 537h0M1452 540h0M1447 540h0M1452 548h0M1476 559h0M1480 560h0M1482 554h0M1480 556h0M1490 562h0M1491 560h0M1499 562h0M1493 562h0M1515 552h0M1507 565h0M1518 562h0M1520 557h0M1512 555h0M1507 557h0M1514 569h0M1525 562h0M1514 565h0M1511 563h0M1508 570h0M1505 552h0M1520 551h0M1521 569h0M1551 602h0M1547 598h0M1546 602h0M1556 601h0M1549 609h0M1554 606h0M1558 596h0M1525 532h0M1530 510h0M1534 513h0M1532 503h0M1462 321h0M1464 327h0M1461 333h0M1388 423h0M1408 441h0M1413 444h0M1410 437h0M1508 395h0M1510 399h0M1586 358h0M1590 417h0M1580 422h0M1516 428h0M1523 463h0M1460 355h0M1457 368h0M1746 426h0M1786 374h0M1641 52h0M1643 56h0M1440 615h0M1411 620h0"/>
<path stroke="#e03a3c" stroke-width="6.5" d="M1334 351h0M1387 295h0M1318 313h0M1350 279h0M1380 325h0M1400 330h0M1396 351h0M1361 269h0M1346 348h0M1353 226h0M1376 239h0M1339 282h0M1386 215h0M1400 293h0M1421 316h0M1326 279h0M1313 333h0M1429 285h0M1411 262h0M1371 238h0M1380 230h0M1367 336h0M1407 273h0M1407 300h0M1417 258h0M1341 292h0M1333 278h0M1422 333h0M1351 305h0M1393 310h0M1394 270h0M1361 308h0M1330 239h0M1341 344h0M1420 291h0M1367 321h0M1393 264h0M1354 262h0M1430 295h0M1341 256h0M1382 284h0M1337 287h0M1326 304h0M1336 298h0M1395 254h0M1430 313h0M1395 305h0M1335 312h0M1318 307h0M1305 296h0M1412 270h0M1383 273h0M1379 221h0M1331 235h0M1422 262h0M1419 275h0M1300 270h0M1348 294h0M1379 315h0M1319 291h0M1410 287h0M1377 342h0M1342 278h0M1325 242h0M1371 306h0M1388 248h0M1369 272h0M1325 337h0M1361 327h0M1374 300h0M1322 270h0M1409 249h0M1421 323h0M1397 321h0M1341 274h0M1362 261h0M1309 274h0M1306 268h0M1322 295h0M1401 323h0M1324 285h0M1362 255h0M1404 312h0M1413 325h0M1370 252h0M1432 306h0M1420 270h0M1309 302h0M1398 274h0M1403 284h0M1360 349h0M1342 322h0M1402 317h0M1298 294h0M1342 330h0M1386 287h0M1345 255h0M1336 337h0M1301 327h0M1405 296h0M1347 272h0M1315 280h0M1415 344h0M1406 327h0M1337 240h0M1376 310h0M1391 354h0M1441 302h0M1302 288h0M1364 291h0M1414 275h0M1340 232h0M1401 247h0M1309 289h0M1367 216h0M1330 283h0M1400 339h0M1358 338h0M1391 349h0M1305 339h0M1406 253h0M1348 353h0M1342 339h0M1432 269h0M1321 247h0M1339 332h0M1306 313h0M1427 305h0M1361 302h0M1352 321h0M1314 294h0M1342 270h0M1343 304h0M1349 288h0M1423 296h0M1323 257h0M1436 303h0M1427 328h0M1334 341h0M1367 295h0M1367 349h0M1385 237h0M1432 288h0M1365 306h0M1352 247h0M1335 356h0M1328 256h0M1358 283h0M1352 231h0M1302 276h0M1323 318h0M1400 309h0M1376 277h0M1373 230h0M1387 260h0M1401 278h0M1328 347h0M1361 343h0M1368 262h0M1387 227h0M1332 300h0M1330 307h0M1348 316h0M1379 214h0M1372 343h0M1363 316h0M1382 241h0M1407 292h0M1343 245h0M1356 273h0M1295 280h0M1400 242h0M1358 316h0M1418 305h0M1335 257h0M1382 291h0M1307 320h0M1410 335h0M1381 259h0M1409 310h0M1374 294h0M1410 280h0M1328 342h0M1318 263h0M1306 307h0M1391 324h0M1412 297h0M1308 263h0M1329 274h0M1419 286h0M1352 332h0M1358 289h0M1374 221h0M1323 313h0M1347 225h0M1385 336h0M1433 297h0M1328 315h0M1378 267h0M1336 265h0M1379 338h0M1421 309h0M1425 268h0M1368 311h0M1302 305h0M1330 246h0M1387 314h0M1353 269h0M1396 334h0M1412 316h0M1428 279h0M1315 341h0M1384 308h0M1391 278h0M1369 244h0M1378 234h0M1375 324h0M1349 252h0M1395 295h0M1360 227h0M1345 293h0M1402 267h0M1389 253h0M1397 285h0M1407 245h0M1336 231h0M1343 264h0M1384 345h0M1340 237h0M1406 262h0M1375 306h0M1350 336h0M1391 233h0M1418 326h0M1342 284h0M1368 327h0M1302 337h0M1336 272h0M1406 351h0M1319 334h0M1375 286h0M1417 335h0M1428 298h0M1311 326h0M1332 345h0M1318 286h0M1353 240h0M1319 327h0M1355 345h0M1372 258h0M1354 340h0M1369 267h0M1382 332h0M1416 265h0M1295 274h0M1415 252h0M1406 342h0M1366 283h0M1355 254h0M1371 290h0M1396 315h0M1335 244h0M1425 323h0M1385 302h0M1410 257h0M1306 335h0M1406 278h0M1374 314h0M1430 263h0M1417 280h0M1376 252h0M1334 253h0M1334 306h0M1340 249h0M1354 295h0M1361 223h0M1394 248h0M1384 220h0M1395 243h0M1416 311h0M1374 214h0M1350 327h0M1350 342h0M1404 336h0M1414 339h0M1379 306h0M1361 320h0M1353 287h0M1376 332h0M1346 232h0M1413 307h0M1306 283h0M1397 261h0M1415 290h0M1373 249h0M1370 222h0M1300 264h0M1314 272h0M1301 321h0M1422 280h0M1326 327h0M1312 317h0M1381 250h0M1405 354h0M1415 321h0M1409 322h0M1319 298h0M1353 300h0M1369 281h0M1399 302h0M1348 284h0M1358 265h0M1386 324h0M1329 293h0M1333 331h0M1383 256h0M1327 297h0M1327 353h0M1389 221h0M1331 288h0M1356 233h0M1326 237h0M1389 290h0M1391 328h0M1408 346h0M1431 274h0M1313 300h0M1362 296h0M1406 319h0M1387 282h0M1399 345h0M1388 342h0M1376 245h0M1341 298h0M1338 326h0M1348 244h0M1372 347h0M1338 319h0M1385 243h0M1377 320h0M1298 304h0M1347 238h0M1405 270h0M1398 358h0M1306 331h0M1391 301h0M1322 301h0M1349 268h0M1419 297h0M1313 260h0M1372 278h0M1356 243h0M1302 281h0M1428 290h0M1301 311h0M1311 337h0M1378 282h0M1365 232h0M1380 279h0M1382 329h0M1400 256h0M1343 317h0M1347 322h0M1352 220h0M1418 343h0M1375 269h0M1340 353h0M1390 273h0M1393 288h0M1368 341h0M1426 259h0M1322 344h0M1391 334h0M1365 224h0M1390 241h0M1388 319h0M1298 285h0M1305 272h0M1322 308h0M1435 262h0M1363 333h0M1329 251h0M1433 310h0M1397 289h0M1383 224h0M1361 312h0M1338 308h0M1317 251h0M1312 308h0M1354 280h0M1425 273h0M1356 220h0M1337 346h0M1351 347h0M1386 232h0M1414 353h0M1314 287h0M1393 284h0M1352 291h0M1425 311h0M1358 323h0M1357 300h0M1388 305h0M1428 319h0M1373 337h0M1338 261h0M1393 258h0M1367 301h0M1408 332h0M1330 336h0M1407 306h0M1363 265h0M1356 352h0M1348 260h0M1340 313h0M1402 289h0M1318 259h0M1438 297h0M1402 304h0M1397 327h0M1299 332h0M1395 227h0M1372 226h0M1311 277h0M1346 299h0M1370 318h0M1424 285h0M1382 318h0M1301 299h0M1376 261h0M1319 339h0M1409 355h0M1319 321h0M1296 290h0M1312 282h0M1394 341h0M1428 332h0M1400 353h0M1378 226h0M1379 285h0M1334 292h0M1414 331h0M1378 257h0M1382 311h0M1387 348h0M1335 284h0M1316 336h0M1422 339h0M1403 347h0M1404 360h0M1367 314h0M1424 292h0M1392 320h0M1423 301h0M1305 301h0M1373 243h0M1340 228h0M1324 332h0M1398 250h0M1343 260h0M1407 266h0M1326 248h0M1306 278h0M1321 252h0M1336 303h0M1357 306h0M1411 341h0M1306 325h0M1323 289h0M1346 276h0M1414 302h0M1315 323h0M1415 294h0M1393 237h0M1420 266h0M1350 257h0M1314 312h0M1360 218h0M1418 262h0M1345 333h0M1437 307h0M1386 277h0M1355 327h0M1315 304h0M1389 338h0M1414 284h0M1423 326h0M1366 240h0M1402 298h0M1358 257h0M1371 333h0M1402 272h0M1395 279h0M1297 328h0M1324 275h0M1395 300h0M1332 314h0M1372 263h0M1350 264h0M1362 286h0M1363 338h0M1371 296h0M1344 251h0M1368 256h0M1377 290h0M1365 353h0M1435 291h0M1387 332h0M1341 241h0M1342 225h0M1355 236h0M1397 267h0M1304 292h0M1335 249h0M1377 328h0M1333 261h0M1387 299h0M1412 348h0M1308 298h0M1329 332h0M1417 317h0M1419 254h0M1317 345h0M1412 292h0M1392 316h0M1367 277h0M1326 252h0M1351 236h0M1303 317h0M1357 294h0M1404 249h0M1381 246h0M1317 267h0M1371 286h0M1424 318h0M1345 288h0M1424 256h0M1408 314h0M1390 268h0M1403 260h0M1346 328h0M1321 218h0M1314 215h0M1299 228h0M1309 225h0M1303 221h0M1314 237h0M1301 233h0M1322 234h0M1320 210h0M1309 237h0M1317 226h0M1320 239h0M1323 227h0M1308 214h0M1326 218h0M1323 207h0M1327 226h0M1306 218h0M1315 221h0M1319 205h0M1316 243h0M1318 233h0M1324 212h0M1299 217h0M1313 229h0M1311 206h0M1309 220h0M1305 209h0M1294 223h0M1315 210h0M1300 211h0M1323 222h0M1293 216h0M1317 213h0M1314 233h0M1315 206h0M1304 213h0M1326 265h0M1324 262h0M1315 247h0M1321 243h0M1423 233h0M1413 231h0M1406 238h0M1416 242h0M1422 245h0M1417 227h0M1403 225h0M1429 230h0M1402 234h0M1421 240h0M1423 250h0M1407 231h0M1409 225h0M1399 230h0M1427 242h0M1428 235h0M1432 240h0M1425 239h0M1428 246h0M1418 248h0M1418 231h0M1421 228h0M1398 237h0M1412 247h0M1425 226h0M1418 236h0M1413 222h0M1432 235h0M1410 242h0M1417 223h0M1395 232h0M1413 227h0M1390 229h0M1404 242h0M1411 234h0M1422 284h0M1425 284h0M1429 288h0M1426 279h0M1431 288h0M1436 284h0M1433 288h0M1434 293h0M1431 291h0M1438 294h0M1436 296h0M1436 286h0M1436 295h0M1445 291h0M1438 296h0M1451 288h0M1438 297h0M1452 290h0M1442 303h0M1433 296h0M1442 299h0M1443 300h0M1444 300h0M1446 297h0M1454 303h0M1444 300h0M1446 302h0M1454 304h0M1453 306h0M1453 303h0M1458 312h0M1454 304h0M1445 310h0M1454 312h0M1457 313h0M1459 307h0M1453 314h0M1458 309h0M1455 317h0M1457 321h0M1360 369h0M1355 367h0M1366 374h0M1359 378h0M1364 375h0M1354 373h0M1361 378h0M1364 386h0M1356 386h0M1365 385h0M1359 386h0M1368 384h0M1369 393h0M1366 396h0M1367 392h0M1360 394h0M1364 400h0M1372 399h0M1369 403h0M1374 403h0M1371 401h0M1373 402h0M1376 407h0M1368 411h0M1378 409h0M1376 408h0M1372 412h0M1379 416h0M1379 417h0M1384 417h0M1331 370h0M1350 364h0M1341 370h0M1348 368h0M1344 360h0M1335 365h0M1339 376h0M1337 361h0M1331 375h0M1349 358h0M1342 357h0M1325 367h0M1329 360h0M1330 365h0M1352 371h0M1348 373h0M1336 371h0M1343 365h0M1872 192h0M1896 190h0M1862 191h0M1859 185h0M1883 196h0M1892 204h0M1877 178h0M1874 184h0M1889 191h0M1870 200h0M1878 191h0M1885 186h0M1871 187h0M1877 199h0M1881 205h0M1891 197h0M1888 177h0M1876 204h0M1867 188h0M1856 193h0M1861 196h0M1891 186h0M1870 182h0M1897 196h0M1885 200h0M1882 183h0M1866 204h0M1885 191h0M1868 196h0M1897 184h0M1874 201h0M1887 196h0M1886 204h0M1864 185h0M1888 199h0M1889 203h0M1885 199h0M1891 202h0M1887 201h0M1886 206h0M1892 212h0M1889 211h0M1893 214h0M1887 214h0M1893 222h0M1891 216h0M1892 213h0M1888 221h0M1889 221h0M1888 224h0M1865 205h0M1873 218h0M1897 214h0M1483 334h0M1490 337h0M1499 368h0M1437 275h0M1900 241h0M1908 243h0M1564 618h0M1568 625h0M1561 610h0M1559 615h0M1571 629h0M1562 622h0M1567 621h0M1741 165h0M1713 131h0M1942 222h0M1956 218h0M1975 226h0M1978 238h0M2003 215h0M2014 224h0M2002 252h0M1875 373h0M1748 270h0M1711 370h0M1716 374h0M1705 362h0M1722 368h0M1700 385h0M1728 390h0M1718 395h0M1650 321h0M1566 367h0M1642 397h0M1530 272h0M1535 495h0M1628 238h0M1622 210h0M1650 256h0M1638 48h0M1645 62h0M1650 85h0M1660 95h0M1777 425h0M1785 430h0M1781 421h0M1825 408h0M1860 425h0M1805 388h0M1580 275h0M1605 262h0"/>
</g>
<circle cx="1857" cy="681.0" r="6.8" fill="#4a8fc9"/>
<text x="1875" y="690.8" font-size="30.8" fill="#000">DMGO batch 1</text>
<circle cx="1857" cy="718.4" r="6.8" fill="#f08c35"/>
<text x="1875" y="728.1" font-size="30.8" fill="#000">DMGO batch 2</text>
<circle cx="1857" cy="755.7" r="6.8" fill="#4db27a"/>
<text x="1875" y="765.5" font-size="30.8" fill="#000">DMGO batch 3</text>
<circle cx="1857" cy="793.0" r="6.8" fill="#e03a3c"/>
<text x="1875" y="802.8" font-size="30.8" fill="#000">DMGO batch 4</text></g>
<g id="panel_c"><text x="284.3" y="1023.6" text-anchor="end" font-size="26.3">Chr.</text>
<rect x="296.7" y="999" width="94.1" height="30.8" fill="#bdbdbd"/>
<rect x="390.6" y="999" width="68.2" height="30.8" fill="#000"/>
<rect x="458.6" y="999" width="57.5" height="30.8" fill="#bdbdbd"/>
<rect x="515.9" y="999" width="37.7" height="30.8" fill="#000"/>
<rect x="553.4" y="999" width="44.2" height="30.8" fill="#bdbdbd"/>
<rect x="597.4" y="999" width="49.5" height="30.8" fill="#000"/>
<rect x="646.7" y="999" width="48.3" height="30.8" fill="#bdbdbd"/>
<rect x="694.8" y="999" width="34.4" height="30.8" fill="#000"/>
<rect x="729.0" y="999" width="39.3" height="30.8" fill="#bdbdbd"/>
<rect x="768.1" y="999" width="38.1" height="30.8" fill="#000"/>
<rect x="806.0" y="999" width="52.6" height="30.8" fill="#bdbdbd"/>
<rect x="858.4" y="999" width="51.7" height="30.8" fill="#000"/>
<rect x="909.9" y="999" width="17.9" height="30.8" fill="#bdbdbd"/>
<rect x="927.6" y="999" width="32.3" height="30.8" fill="#000"/>
<rect x="959.7" y="999" width="29.5" height="30.8" fill="#bdbdbd"/>
<rect x="989.0" y="999" width="41.4" height="30.8" fill="#000"/>
<rect x="1030.2" y="999" width="53.3" height="30.8" fill="#bdbdbd"/>
<rect x="1083.3" y="999" width="15.5" height="30.8" fill="#000"/>
<rect x="1098.6" y="999" width="62.4" height="30.8" fill="#bdbdbd"/>
<rect x="1160.8" y="999" width="26.5" height="30.8" fill="#000"/>
<rect x="1187.1" y="999" width="9.7" height="30.8" fill="#bdbdbd"/>
<rect x="1196.6" y="999" width="21.2" height="30.8" fill="#000"/>
<rect x="296.7" y="1032.7" width="920.9" height="860.3" fill="#f6f6f6"/>
<g shape-rendering="crispEdges">
<rect x="307.9" y="1032.7" width="22.6" height="62.6" fill="#eec5b7"/>
<rect x="307.9" y="1095.0" width="22.6" height="55.3" fill="#eaa892"/>
<rect x="307.9" y="1150.0" width="22.6" height="65.3" fill="#eaab96"/>
<rect x="307.9" y="1215.0" width="22.6" height="75.3" fill="#edbcac"/>
<rect x="307.9" y="1290.0" width="22.6" height="67.3" fill="#edbaa9"/>
<rect x="307.9" y="1357.0" width="22.6" height="43.3" fill="#ebad98"/>
<rect x="307.9" y="1400.0" width="22.6" height="48.3" fill="#e89c83"/>
<rect x="307.9" y="1659.0" width="22.6" height="41.3" fill="#f2dfd9"/>
<rect x="307.9" y="1700.0" width="22.6" height="56.8" fill="#f0cec3"/>
<rect x="307.9" y="1872.0" width="22.6" height="21.3" fill="#f3e5e0"/>
<rect x="330.5" y="1032.7" width="10.4" height="62.6" fill="#a6cbe1"/>
<rect x="330.5" y="1095.0" width="10.4" height="55.3" fill="#91c0db"/>
<rect x="330.5" y="1150.0" width="10.4" height="65.3" fill="#a7cce1"/>
<rect x="330.5" y="1215.0" width="10.4" height="75.3" fill="#b3d2e4"/>
<rect x="330.5" y="1290.0" width="10.4" height="67.3" fill="#afd0e3"/>
<rect x="330.5" y="1357.0" width="10.4" height="43.3" fill="#89bcd9"/>
<rect x="330.5" y="1400.0" width="10.4" height="48.3" fill="#8dbeda"/>
<rect x="330.5" y="1659.0" width="10.4" height="41.3" fill="#aed0e3"/>
<rect x="330.5" y="1700.0" width="10.4" height="56.8" fill="#9dc6de"/>
<rect x="330.5" y="1872.0" width="10.4" height="21.3" fill="#cadfea"/>
<rect x="355.9" y="1032.7" width="11.3" height="62.6" fill="#eaa690"/>
<rect x="355.9" y="1095.0" width="11.3" height="55.3" fill="#e27652"/>
<rect x="355.9" y="1150.0" width="11.3" height="65.3" fill="#e69074"/>
<rect x="355.9" y="1215.0" width="11.3" height="75.3" fill="#e68e71"/>
<rect x="355.9" y="1290.0" width="11.3" height="67.3" fill="#e58767"/>
<rect x="355.9" y="1357.0" width="11.3" height="43.3" fill="#e27652"/>
<rect x="355.9" y="1400.0" width="11.3" height="48.3" fill="#e27652"/>
<rect x="355.9" y="1659.0" width="11.3" height="41.3" fill="#ecb8a6"/>
<rect x="355.9" y="1700.0" width="11.3" height="56.8" fill="#ecb6a4"/>
<rect x="355.9" y="1872.0" width="11.3" height="21.3" fill="#efc7b9"/>
<rect x="367.2" y="1032.7" width="23.4" height="62.6" fill="#cbdfeb"/>
<rect x="367.2" y="1095.0" width="23.4" height="55.3" fill="#c3dbe8"/>
<rect x="367.2" y="1150.0" width="23.4" height="65.3" fill="#c5dce9"/>
<rect x="367.2" y="1215.0" width="23.4" height="75.3" fill="#cde0eb"/>
<rect x="367.2" y="1290.0" width="23.4" height="67.3" fill="#ccdfeb"/>
<rect x="367.2" y="1357.0" width="23.4" height="43.3" fill="#c9deea"/>
<rect x="367.2" y="1400.0" width="23.4" height="48.3" fill="#c3dbe8"/>
<rect x="391.7" y="1032.7" width="8.5" height="62.6" fill="#f3e0da"/>
<rect x="391.7" y="1095.0" width="8.5" height="55.3" fill="#f1d6cd"/>
<rect x="391.7" y="1150.0" width="8.5" height="65.3" fill="#f2ded7"/>
<rect x="391.7" y="1215.0" width="8.5" height="75.3" fill="#f3e4df"/>
<rect x="391.7" y="1290.0" width="8.5" height="67.3" fill="#f2dad2"/>
<rect x="391.7" y="1357.0" width="8.5" height="43.3" fill="#f2dad2"/>
<rect x="391.7" y="1400.0" width="8.5" height="48.3" fill="#f0cfc5"/>
<rect x="400.2" y="1032.7" width="10.4" height="62.6" fill="#bfd8e7"/>
<rect x="400.2" y="1095.0" width="10.4" height="55.3" fill="#a1c9df"/>
<rect x="400.2" y="1150.0" width="10.4" height="65.3" fill="#9dc6de"/>
<rect x="400.2" y="1215.0" width="10.4" height="75.3" fill="#afd0e3"/>
<rect x="400.2" y="1290.0" width="10.4" height="67.3" fill="#aecfe3"/>
<rect x="400.2" y="1357.0" width="10.4" height="43.3" fill="#7cb5d5"/>
<rect x="400.2" y="1400.0" width="10.4" height="48.3" fill="#9bc5de"/>
<rect x="400.2" y="1659.0" width="10.4" height="41.3" fill="#adcfe3"/>
<rect x="400.2" y="1700.0" width="10.4" height="56.8" fill="#9dc7de"/>
<rect x="400.2" y="1872.0" width="10.4" height="21.3" fill="#cde0eb"/>
<rect x="410.6" y="1032.7" width="12.2" height="62.6" fill="#f4ecea"/>
<rect x="410.6" y="1095.0" width="12.2" height="55.3" fill="#f3e5e0"/>
<rect x="410.6" y="1150.0" width="12.2" height="65.3" fill="#f4e8e4"/>
<rect x="410.6" y="1215.0" width="12.2" height="75.3" fill="#f6f3f2"/>
<rect x="410.6" y="1290.0" width="12.2" height="67.3" fill="#f3e5e0"/>
<rect x="410.6" y="1357.0" width="12.2" height="43.3" fill="#f3e1dc"/>
<rect x="410.6" y="1400.0" width="12.2" height="48.3" fill="#f4eae7"/>
<rect x="410.6" y="1659.0" width="12.2" height="41.3" fill="#f4e9e6"/>
<rect x="410.6" y="1700.0" width="12.2" height="56.8" fill="#f6f3f2"/>
<rect x="410.6" y="1872.0" width="12.2" height="21.3" fill="#f5f5f6"/>
<rect x="434.1" y="1032.7" width="16.0" height="62.6" fill="#aacde2"/>
<rect x="434.1" y="1095.0" width="16.0" height="55.3" fill="#9dc6de"/>
<rect x="434.1" y="1150.0" width="16.0" height="65.3" fill="#9fc8df"/>
<rect x="434.1" y="1215.0" width="16.0" height="75.3" fill="#b0d1e3"/>
<rect x="434.1" y="1290.0" width="16.0" height="67.3" fill="#90bfdb"/>
<rect x="434.1" y="1357.0" width="16.0" height="43.3" fill="#87bbd8"/>
<rect x="434.1" y="1400.0" width="16.0" height="48.3" fill="#84b9d8"/>
<rect x="434.1" y="1659.0" width="16.0" height="41.3" fill="#abcee2"/>
<rect x="434.1" y="1700.0" width="16.0" height="56.8" fill="#abcee2"/>
<rect x="434.1" y="1872.0" width="16.0" height="21.3" fill="#cbdfeb"/>
<rect x="459.5" y="1032.7" width="14.1" height="62.6" fill="#c1dae8"/>
<rect x="459.5" y="1095.0" width="14.1" height="55.3" fill="#a1c9df"/>
<rect x="459.5" y="1150.0" width="14.1" height="65.3" fill="#c1dae8"/>
<rect x="459.5" y="1215.0" width="14.1" height="75.3" fill="#b2d2e4"/>
<rect x="459.5" y="1290.0" width="14.1" height="67.3" fill="#accfe2"/>
<rect x="459.5" y="1357.0" width="14.1" height="43.3" fill="#a6cce1"/>
<rect x="459.5" y="1400.0" width="14.1" height="48.3" fill="#9dc6de"/>
<rect x="459.5" y="1659.0" width="14.1" height="41.3" fill="#d7e6ee"/>
<rect x="459.5" y="1700.0" width="14.1" height="56.8" fill="#dde9ef"/>
<rect x="459.5" y="1872.0" width="14.1" height="21.3" fill="#e7eef2"/>
<rect x="473.7" y="1032.7" width="7.5" height="62.6" fill="#eec4b5"/>
<rect x="473.7" y="1095.0" width="7.5" height="55.3" fill="#e7997f"/>
<rect x="473.7" y="1150.0" width="7.5" height="65.3" fill="#e89e85"/>
<rect x="473.7" y="1215.0" width="7.5" height="75.3" fill="#eaa892"/>
<rect x="473.7" y="1290.0" width="7.5" height="67.3" fill="#ecb4a1"/>
<rect x="473.7" y="1357.0" width="7.5" height="43.3" fill="#e9a48d"/>
<rect x="473.7" y="1400.0" width="7.5" height="48.3" fill="#ebaf9a"/>
<rect x="473.7" y="1659.0" width="7.5" height="41.3" fill="#eec1b1"/>
<rect x="473.7" y="1700.0" width="7.5" height="56.8" fill="#ecb4a1"/>
<rect x="473.7" y="1872.0" width="7.5" height="21.3" fill="#efc9bd"/>
<rect x="486.8" y="1032.7" width="13.2" height="62.6" fill="#b1d1e4"/>
<rect x="486.8" y="1095.0" width="13.2" height="55.3" fill="#aacde2"/>
<rect x="486.8" y="1150.0" width="13.2" height="65.3" fill="#adcfe3"/>
<rect x="486.8" y="1215.0" width="13.2" height="75.3" fill="#b3d2e4"/>
<rect x="486.8" y="1290.0" width="13.2" height="67.3" fill="#a3cae0"/>
<rect x="486.8" y="1357.0" width="13.2" height="43.3" fill="#97c3dd"/>
<rect x="486.8" y="1400.0" width="13.2" height="48.3" fill="#abcee2"/>
<rect x="486.8" y="1659.0" width="13.2" height="41.3" fill="#cce0eb"/>
<rect x="486.8" y="1700.0" width="13.2" height="56.8" fill="#c8deea"/>
<rect x="486.8" y="1872.0" width="13.2" height="21.3" fill="#e5edf1"/>
<rect x="500.0" y="1032.7" width="11.3" height="62.6" fill="#b8d5e6"/>
<rect x="500.0" y="1095.0" width="11.3" height="55.3" fill="#86bad8"/>
<rect x="500.0" y="1150.0" width="11.3" height="65.3" fill="#a3cae0"/>
<rect x="500.0" y="1215.0" width="11.3" height="75.3" fill="#9ac5dd"/>
<rect x="500.0" y="1290.0" width="11.3" height="67.3" fill="#a5cbe0"/>
<rect x="500.0" y="1357.0" width="11.3" height="43.3" fill="#7bb5d5"/>
<rect x="500.0" y="1400.0" width="11.3" height="48.3" fill="#9cc6de"/>
<rect x="500.0" y="1659.0" width="11.3" height="41.3" fill="#9bc5de"/>
<rect x="500.0" y="1700.0" width="11.3" height="56.8" fill="#a7cce1"/>
<rect x="500.0" y="1872.0" width="11.3" height="21.3" fill="#c5dce9"/>
<rect x="511.3" y="1032.7" width="4.7" height="62.6" fill="#e5edf2"/>
<rect x="511.3" y="1095.0" width="4.7" height="55.3" fill="#e6eef2"/>
<rect x="511.3" y="1150.0" width="4.7" height="65.3" fill="#e7eef2"/>
<rect x="511.3" y="1215.0" width="4.7" height="75.3" fill="#dce8ef"/>
<rect x="511.3" y="1290.0" width="4.7" height="67.3" fill="#e0eaf0"/>
<rect x="511.3" y="1357.0" width="4.7" height="43.3" fill="#e0eaf0"/>
<rect x="511.3" y="1400.0" width="4.7" height="48.3" fill="#dee9f0"/>
<rect x="524.5" y="1032.7" width="16.0" height="62.6" fill="#cde0eb"/>
<rect x="524.5" y="1095.0" width="16.0" height="55.3" fill="#b0d1e3"/>
<rect x="524.5" y="1150.0" width="16.0" height="65.3" fill="#b3d2e4"/>
<rect x="524.5" y="1215.0" width="16.0" height="75.3" fill="#bed8e7"/>
<rect x="524.5" y="1290.0" width="16.0" height="67.3" fill="#b3d2e4"/>
<rect x="524.5" y="1357.0" width="16.0" height="43.3" fill="#9bc5de"/>
<rect x="524.5" y="1400.0" width="16.0" height="48.3" fill="#a2c9e0"/>
<rect x="524.5" y="1659.0" width="16.0" height="41.3" fill="#b7d5e5"/>
<rect x="524.5" y="1700.0" width="16.0" height="56.8" fill="#accee2"/>
<rect x="524.5" y="1872.0" width="16.0" height="21.3" fill="#c3dbe8"/>
<rect x="540.5" y="1032.7" width="13.2" height="62.6" fill="#b5d3e5"/>
<rect x="540.5" y="1095.0" width="13.2" height="55.3" fill="#98c4dd"/>
<rect x="540.5" y="1150.0" width="13.2" height="65.3" fill="#a7cce1"/>
<rect x="540.5" y="1215.0" width="13.2" height="75.3" fill="#a8cce1"/>
<rect x="540.5" y="1290.0" width="13.2" height="67.3" fill="#96c3dc"/>
<rect x="540.5" y="1357.0" width="13.2" height="43.3" fill="#88bbd9"/>
<rect x="540.5" y="1400.0" width="13.2" height="48.3" fill="#7bb5d5"/>
<rect x="540.5" y="1659.0" width="13.2" height="41.3" fill="#b3d2e4"/>
<rect x="540.5" y="1700.0" width="13.2" height="56.8" fill="#b5d3e5"/>
<rect x="540.5" y="1872.0" width="13.2" height="21.3" fill="#d0e2ec"/>
<rect x="554.6" y="1032.7" width="10.4" height="62.6" fill="#cde0eb"/>
<rect x="554.6" y="1095.0" width="10.4" height="55.3" fill="#b5d3e5"/>
<rect x="554.6" y="1150.0" width="10.4" height="65.3" fill="#abcee2"/>
<rect x="554.6" y="1215.0" width="10.4" height="75.3" fill="#c3dbe8"/>
<rect x="554.6" y="1290.0" width="10.4" height="67.3" fill="#afd0e3"/>
<rect x="554.6" y="1357.0" width="10.4" height="43.3" fill="#b4d3e4"/>
<rect x="554.6" y="1400.0" width="10.4" height="48.3" fill="#b5d3e5"/>
<rect x="554.6" y="1659.0" width="10.4" height="41.3" fill="#cfe1ec"/>
<rect x="554.6" y="1700.0" width="10.4" height="56.8" fill="#c4dbe9"/>
<rect x="554.6" y="1872.0" width="10.4" height="21.3" fill="#dfeaf0"/>
<rect x="565.0" y="1032.7" width="13.2" height="62.6" fill="#aed0e3"/>
<rect x="565.0" y="1095.0" width="13.2" height="55.3" fill="#98c4dd"/>
<rect x="565.0" y="1150.0" width="13.2" height="65.3" fill="#afd0e3"/>
<rect x="565.0" y="1215.0" width="13.2" height="75.3" fill="#adcfe2"/>
<rect x="565.0" y="1290.0" width="13.2" height="67.3" fill="#9cc6de"/>
<rect x="565.0" y="1357.0" width="13.2" height="43.3" fill="#9bc5de"/>
<rect x="565.0" y="1400.0" width="13.2" height="48.3" fill="#91c0db"/>
<rect x="565.0" y="1659.0" width="13.2" height="41.3" fill="#b3d2e4"/>
<rect x="565.0" y="1700.0" width="13.2" height="56.8" fill="#9fc8df"/>
<rect x="565.0" y="1872.0" width="13.2" height="21.3" fill="#c9deea"/>
<rect x="578.2" y="1032.7" width="7.5" height="62.6" fill="#efc8bc"/>
<rect x="578.2" y="1095.0" width="7.5" height="55.3" fill="#e9a48c"/>
<rect x="578.2" y="1150.0" width="7.5" height="65.3" fill="#ebb09c"/>
<rect x="578.2" y="1215.0" width="7.5" height="75.3" fill="#e9a68f"/>
<rect x="578.2" y="1290.0" width="7.5" height="67.3" fill="#edbaa9"/>
<rect x="578.2" y="1357.0" width="7.5" height="43.3" fill="#e9a68f"/>
<rect x="578.2" y="1400.0" width="7.5" height="48.3" fill="#eaa993"/>
<rect x="578.2" y="1659.0" width="7.5" height="41.3" fill="#d5e4ed"/>
<rect x="578.2" y="1700.0" width="7.5" height="56.8" fill="#c4dce9"/>
<rect x="578.2" y="1872.0" width="7.5" height="21.3" fill="#e7eef2"/>
<rect x="585.7" y="1032.7" width="18.3" height="62.6" fill="#f3e0da"/>
<rect x="585.7" y="1095.0" width="18.3" height="55.3" fill="#f4e7e2"/>
<rect x="585.7" y="1150.0" width="18.3" height="65.3" fill="#f2ddd6"/>
<rect x="585.7" y="1215.0" width="18.3" height="75.3" fill="#f2ddd6"/>
<rect x="585.7" y="1290.0" width="18.3" height="67.3" fill="#f1d9d1"/>
<rect x="585.7" y="1357.0" width="18.3" height="43.3" fill="#f1d7cf"/>
<rect x="585.7" y="1400.0" width="18.3" height="48.3" fill="#f1d8d0"/>
<rect x="585.7" y="1659.0" width="18.3" height="41.3" fill="#f4e7e2"/>
<rect x="585.7" y="1700.0" width="18.3" height="56.8" fill="#f2dcd5"/>
<rect x="585.7" y="1872.0" width="18.3" height="21.3" fill="#f6f3f2"/>
<rect x="597.9" y="1032.7" width="6.2" height="62.6" fill="#d5e4ed"/>
<rect x="597.9" y="1095.0" width="6.2" height="55.3" fill="#cee1eb"/>
<rect x="597.9" y="1150.0" width="6.2" height="65.3" fill="#d1e2ec"/>
<rect x="597.9" y="1215.0" width="6.2" height="75.3" fill="#d3e3ed"/>
<rect x="597.9" y="1290.0" width="6.2" height="67.3" fill="#cbdfea"/>
<rect x="597.9" y="1357.0" width="6.2" height="43.3" fill="#c3dbe8"/>
<rect x="597.9" y="1400.0" width="6.2" height="48.3" fill="#c5dce9"/>
<rect x="608.5" y="1032.7" width="7.5" height="62.6" fill="#ebaf9c"/>
<rect x="608.5" y="1095.0" width="7.5" height="55.3" fill="#e37956"/>
<rect x="608.5" y="1150.0" width="7.5" height="65.3" fill="#e79478"/>
<rect x="608.5" y="1215.0" width="7.5" height="75.3" fill="#e5896a"/>
<rect x="608.5" y="1290.0" width="7.5" height="67.3" fill="#e48261"/>
<rect x="608.5" y="1357.0" width="7.5" height="43.3" fill="#e27652"/>
<rect x="608.5" y="1400.0" width="7.5" height="48.3" fill="#e37a57"/>
<rect x="608.5" y="1659.0" width="7.5" height="41.3" fill="#e7957a"/>
<rect x="608.5" y="1700.0" width="7.5" height="56.8" fill="#e89d85"/>
<rect x="608.5" y="1872.0" width="7.5" height="21.3" fill="#edbdad"/>
<rect x="620.1" y="1032.7" width="11.7" height="62.6" fill="#accee2"/>
<rect x="620.1" y="1095.0" width="11.7" height="55.3" fill="#9ac5de"/>
<rect x="620.1" y="1150.0" width="11.7" height="65.3" fill="#a5cbe0"/>
<rect x="620.1" y="1215.0" width="11.7" height="75.3" fill="#a1c9df"/>
<rect x="620.1" y="1290.0" width="11.7" height="67.3" fill="#a9cde1"/>
<rect x="620.1" y="1357.0" width="11.7" height="43.3" fill="#72afd3"/>
<rect x="620.1" y="1400.0" width="11.7" height="48.3" fill="#88bbd9"/>
<rect x="620.1" y="1659.0" width="11.7" height="41.3" fill="#abcee2"/>
<rect x="620.1" y="1700.0" width="11.7" height="56.8" fill="#accee2"/>
<rect x="620.1" y="1872.0" width="11.7" height="21.3" fill="#d0e2ec"/>
<rect x="631.8" y="1032.7" width="14.3" height="62.6" fill="#accfe2"/>
<rect x="631.8" y="1095.0" width="14.3" height="55.3" fill="#abcee2"/>
<rect x="631.8" y="1150.0" width="14.3" height="65.3" fill="#a5cbe0"/>
<rect x="631.8" y="1215.0" width="14.3" height="75.3" fill="#b6d4e5"/>
<rect x="631.8" y="1290.0" width="14.3" height="67.3" fill="#a6cbe1"/>
<rect x="631.8" y="1357.0" width="14.3" height="43.3" fill="#9ac5de"/>
<rect x="631.8" y="1400.0" width="14.3" height="48.3" fill="#a1c9df"/>
<rect x="631.8" y="1659.0" width="14.3" height="41.3" fill="#b6d4e5"/>
<rect x="631.8" y="1700.0" width="14.3" height="56.8" fill="#b0d1e3"/>
<rect x="631.8" y="1872.0" width="14.3" height="21.3" fill="#cadeea"/>
<rect x="651.2" y="1032.7" width="17.0" height="62.6" fill="#f2ded8"/>
<rect x="651.2" y="1095.0" width="17.0" height="55.3" fill="#f0d2c8"/>
<rect x="651.2" y="1150.0" width="17.0" height="65.3" fill="#f0d1c6"/>
<rect x="651.2" y="1215.0" width="17.0" height="75.3" fill="#f2dfd8"/>
<rect x="651.2" y="1290.0" width="17.0" height="67.3" fill="#f2dad2"/>
<rect x="651.2" y="1357.0" width="17.0" height="43.3" fill="#f0cdc2"/>
<rect x="651.2" y="1400.0" width="17.0" height="48.3" fill="#f1d4ca"/>
<rect x="651.2" y="1659.0" width="17.0" height="41.3" fill="#f2dbd4"/>
<rect x="651.2" y="1700.0" width="17.0" height="56.8" fill="#f1d9d1"/>
<rect x="651.2" y="1872.0" width="17.0" height="21.3" fill="#f4eae7"/>
<rect x="668.2" y="1032.7" width="4.7" height="62.6" fill="#cbdfeb"/>
<rect x="668.2" y="1095.0" width="4.7" height="55.3" fill="#b2d2e4"/>
<rect x="668.2" y="1150.0" width="4.7" height="65.3" fill="#bbd6e6"/>
<rect x="668.2" y="1215.0" width="4.7" height="75.3" fill="#bdd8e7"/>
<rect x="668.2" y="1290.0" width="4.7" height="67.3" fill="#bad6e6"/>
<rect x="668.2" y="1357.0" width="4.7" height="43.3" fill="#b2d2e4"/>
<rect x="668.2" y="1400.0" width="4.7" height="48.3" fill="#bbd7e6"/>
<rect x="668.2" y="1659.0" width="4.7" height="41.3" fill="#c6dce9"/>
<rect x="668.2" y="1700.0" width="4.7" height="56.8" fill="#c4dbe9"/>
<rect x="668.2" y="1872.0" width="4.7" height="21.3" fill="#d2e3ec"/>
<rect x="672.9" y="1032.7" width="6.0" height="62.6" fill="#ecb4a1"/>
<rect x="672.9" y="1095.0" width="6.0" height="55.3" fill="#eaa690"/>
<rect x="672.9" y="1150.0" width="6.0" height="65.3" fill="#eaab96"/>
<rect x="672.9" y="1215.0" width="6.0" height="75.3" fill="#ebb09c"/>
<rect x="672.9" y="1290.0" width="6.0" height="67.3" fill="#edbbaa"/>
<rect x="672.9" y="1357.0" width="6.0" height="43.3" fill="#e7977c"/>
<rect x="672.9" y="1400.0" width="6.0" height="48.3" fill="#e69174"/>
<rect x="672.9" y="1659.0" width="6.0" height="41.3" fill="#eaa993"/>
<rect x="672.9" y="1700.0" width="6.0" height="56.8" fill="#e9a38b"/>
<rect x="672.9" y="1872.0" width="6.0" height="21.3" fill="#eec1b2"/>
<rect x="678.9" y="1032.7" width="11.9" height="62.6" fill="#a8cce1"/>
<rect x="678.9" y="1095.0" width="11.9" height="55.3" fill="#9fc8df"/>
<rect x="678.9" y="1150.0" width="11.9" height="65.3" fill="#90c0db"/>
<rect x="678.9" y="1215.0" width="11.9" height="75.3" fill="#9cc6de"/>
<rect x="678.9" y="1290.0" width="11.9" height="67.3" fill="#a9cde1"/>
<rect x="678.9" y="1357.0" width="11.9" height="43.3" fill="#83b9d7"/>
<rect x="678.9" y="1400.0" width="11.9" height="48.3" fill="#82b8d7"/>
<rect x="678.9" y="1659.0" width="11.9" height="41.3" fill="#adcfe2"/>
<rect x="678.9" y="1700.0" width="11.9" height="56.8" fill="#a7cce1"/>
<rect x="678.9" y="1872.0" width="11.9" height="21.3" fill="#c1dae8"/>
<rect x="704.0" y="1032.7" width="9.4" height="62.6" fill="#ccdfeb"/>
<rect x="704.0" y="1095.0" width="9.4" height="55.3" fill="#c6dce9"/>
<rect x="704.0" y="1150.0" width="9.4" height="65.3" fill="#bfd9e7"/>
<rect x="704.0" y="1215.0" width="9.4" height="75.3" fill="#c3dbe8"/>
<rect x="704.0" y="1290.0" width="9.4" height="67.3" fill="#cde0eb"/>
<rect x="704.0" y="1357.0" width="9.4" height="43.3" fill="#bbd7e6"/>
<rect x="704.0" y="1400.0" width="9.4" height="48.3" fill="#bed8e7"/>
<rect x="715.8" y="1032.7" width="3.2" height="62.6" fill="#edbfaf"/>
<rect x="715.8" y="1095.0" width="3.2" height="55.3" fill="#eaa790"/>
<rect x="715.8" y="1150.0" width="3.2" height="65.3" fill="#eaa690"/>
<rect x="715.8" y="1215.0" width="3.2" height="75.3" fill="#ecb9a8"/>
<rect x="715.8" y="1290.0" width="3.2" height="67.3" fill="#edbbaa"/>
<rect x="715.8" y="1357.0" width="3.2" height="43.3" fill="#ebb19e"/>
<rect x="715.8" y="1400.0" width="3.2" height="48.3" fill="#eaaa94"/>
<rect x="715.8" y="1659.0" width="3.2" height="41.3" fill="#d1e2ec"/>
<rect x="715.8" y="1700.0" width="3.2" height="56.8" fill="#d3e4ed"/>
<rect x="715.8" y="1872.0" width="3.2" height="21.3" fill="#e6edf2"/>
<rect x="724.7" y="1032.7" width="3.8" height="62.6" fill="#eaa993"/>
<rect x="724.7" y="1095.0" width="3.8" height="55.3" fill="#e4805f"/>
<rect x="724.7" y="1150.0" width="3.8" height="65.3" fill="#e58a6c"/>
<rect x="724.7" y="1215.0" width="3.8" height="75.3" fill="#e9a48d"/>
<rect x="724.7" y="1290.0" width="3.8" height="67.3" fill="#e5896a"/>
<rect x="724.7" y="1357.0" width="3.8" height="43.3" fill="#e58768"/>
<rect x="724.7" y="1400.0" width="3.8" height="48.3" fill="#e69377"/>
<rect x="724.7" y="1659.0" width="3.8" height="41.3" fill="#eaa892"/>
<rect x="724.7" y="1700.0" width="3.8" height="56.8" fill="#e89e85"/>
<rect x="724.7" y="1872.0" width="3.8" height="21.3" fill="#efcabd"/>
<rect x="729.8" y="1032.7" width="4.3" height="62.6" fill="#b7d5e5"/>
<rect x="729.8" y="1095.0" width="4.3" height="55.3" fill="#aed0e3"/>
<rect x="729.8" y="1150.0" width="4.3" height="65.3" fill="#a2c9e0"/>
<rect x="729.8" y="1215.0" width="4.3" height="75.3" fill="#b3d2e4"/>
<rect x="729.8" y="1290.0" width="4.3" height="67.3" fill="#a2c9df"/>
<rect x="729.8" y="1357.0" width="4.3" height="43.3" fill="#8cbeda"/>
<rect x="729.8" y="1400.0" width="4.3" height="48.3" fill="#94c2dc"/>
<rect x="729.8" y="1659.0" width="4.3" height="41.3" fill="#bad6e6"/>
<rect x="729.8" y="1700.0" width="4.3" height="56.8" fill="#b9d6e6"/>
<rect x="729.8" y="1872.0" width="4.3" height="21.3" fill="#cadeea"/>
<rect x="734.1" y="1032.7" width="5.7" height="62.6" fill="#f2dcd4"/>
<rect x="734.1" y="1095.0" width="5.7" height="55.3" fill="#f0cec3"/>
<rect x="734.1" y="1150.0" width="5.7" height="65.3" fill="#f0cdc2"/>
<rect x="734.1" y="1215.0" width="5.7" height="75.3" fill="#f1d5cb"/>
<rect x="734.1" y="1290.0" width="5.7" height="67.3" fill="#f0d2c8"/>
<rect x="734.1" y="1357.0" width="5.7" height="43.3" fill="#f0d2c8"/>
<rect x="734.1" y="1400.0" width="5.7" height="48.3" fill="#efc9bc"/>
<rect x="734.1" y="1659.0" width="5.7" height="41.3" fill="#f3e4df"/>
<rect x="734.1" y="1700.0" width="5.7" height="56.8" fill="#f1d5cc"/>
<rect x="734.1" y="1872.0" width="5.7" height="21.3" fill="#f5efed"/>
<rect x="739.7" y="1032.7" width="3.8" height="62.6" fill="#c6dde9"/>
<rect x="739.7" y="1095.0" width="3.8" height="55.3" fill="#b3d2e4"/>
<rect x="739.7" y="1150.0" width="3.8" height="65.3" fill="#bad6e6"/>
<rect x="739.7" y="1215.0" width="3.8" height="75.3" fill="#c2dae8"/>
<rect x="739.7" y="1290.0" width="3.8" height="67.3" fill="#b4d3e4"/>
<rect x="739.7" y="1357.0" width="3.8" height="43.3" fill="#adcfe3"/>
<rect x="739.7" y="1400.0" width="3.8" height="48.3" fill="#aed0e3"/>
<rect x="739.7" y="1659.0" width="3.8" height="41.3" fill="#d1e2ec"/>
<rect x="739.7" y="1700.0" width="3.8" height="56.8" fill="#c1dae8"/>
<rect x="739.7" y="1872.0" width="3.8" height="21.3" fill="#e0eaf0"/>
<rect x="765.2" y="1032.7" width="2.3" height="62.6" fill="#eaa791"/>
<rect x="765.2" y="1095.0" width="2.3" height="55.3" fill="#e89c83"/>
<rect x="765.2" y="1150.0" width="2.3" height="65.3" fill="#e7997f"/>
<rect x="765.2" y="1215.0" width="2.3" height="75.3" fill="#e68e71"/>
<rect x="765.2" y="1290.0" width="2.3" height="67.3" fill="#e79377"/>
<rect x="765.2" y="1357.0" width="2.3" height="43.3" fill="#e69175"/>
<rect x="765.2" y="1400.0" width="2.3" height="48.3" fill="#e27652"/>
<rect x="765.2" y="1659.0" width="2.3" height="41.3" fill="#e9a38c"/>
<rect x="765.2" y="1700.0" width="2.3" height="56.8" fill="#e89b81"/>
<rect x="765.2" y="1872.0" width="2.3" height="21.3" fill="#ecb8a7"/>
<rect x="771.8" y="1032.7" width="10.4" height="62.6" fill="#9cc6de"/>
<rect x="771.8" y="1095.0" width="10.4" height="55.3" fill="#99c4dd"/>
<rect x="771.8" y="1150.0" width="10.4" height="65.3" fill="#95c2dc"/>
<rect x="771.8" y="1215.0" width="10.4" height="75.3" fill="#93c1dc"/>
<rect x="771.8" y="1290.0" width="10.4" height="67.3" fill="#96c3dc"/>
<rect x="771.8" y="1357.0" width="10.4" height="43.3" fill="#81b8d7"/>
<rect x="771.8" y="1400.0" width="10.4" height="48.3" fill="#98c4dd"/>
<rect x="771.8" y="1659.0" width="10.4" height="41.3" fill="#accee2"/>
<rect x="771.8" y="1700.0" width="10.4" height="56.8" fill="#94c2dc"/>
<rect x="771.8" y="1872.0" width="10.4" height="21.3" fill="#c5dce9"/>
<rect x="782.1" y="1032.7" width="6.6" height="62.6" fill="#e8eff2"/>
<rect x="782.1" y="1095.0" width="6.6" height="55.3" fill="#dce8ef"/>
<rect x="782.1" y="1150.0" width="6.6" height="65.3" fill="#e2ebf1"/>
<rect x="782.1" y="1215.0" width="6.6" height="75.3" fill="#dfeaf0"/>
<rect x="782.1" y="1290.0" width="6.6" height="67.3" fill="#d9e7ee"/>
<rect x="782.1" y="1357.0" width="6.6" height="43.3" fill="#dde9ef"/>
<rect x="782.1" y="1400.0" width="6.6" height="48.3" fill="#dbe8ef"/>
<rect x="782.1" y="1659.0" width="6.6" height="41.3" fill="#c8deea"/>
<rect x="782.1" y="1700.0" width="6.6" height="56.8" fill="#cce0eb"/>
<rect x="782.1" y="1872.0" width="6.6" height="21.3" fill="#dde9ef"/>
<rect x="806.6" y="1032.7" width="4.7" height="62.6" fill="#eec1b3"/>
<rect x="806.6" y="1095.0" width="4.7" height="55.3" fill="#e89e85"/>
<rect x="806.6" y="1150.0" width="4.7" height="65.3" fill="#eaa892"/>
<rect x="806.6" y="1215.0" width="4.7" height="75.3" fill="#e9a28b"/>
<rect x="806.6" y="1290.0" width="4.7" height="67.3" fill="#ecb4a1"/>
<rect x="806.6" y="1357.0" width="4.7" height="43.3" fill="#e7987e"/>
<rect x="806.6" y="1400.0" width="4.7" height="48.3" fill="#e69377"/>
<rect x="806.6" y="1659.0" width="4.7" height="41.3" fill="#e9a58e"/>
<rect x="806.6" y="1700.0" width="4.7" height="56.8" fill="#ebaf9c"/>
<rect x="806.6" y="1872.0" width="4.7" height="21.3" fill="#efc7ba"/>
<rect x="811.3" y="1032.7" width="10.4" height="62.6" fill="#c4dce9"/>
<rect x="811.3" y="1095.0" width="10.4" height="55.3" fill="#c6dce9"/>
<rect x="811.3" y="1150.0" width="10.4" height="65.3" fill="#c9deea"/>
<rect x="811.3" y="1215.0" width="10.4" height="75.3" fill="#c1dae8"/>
<rect x="811.3" y="1290.0" width="10.4" height="67.3" fill="#c5dce9"/>
<rect x="811.3" y="1357.0" width="10.4" height="43.3" fill="#b6d4e5"/>
<rect x="811.3" y="1400.0" width="10.4" height="48.3" fill="#bcd7e7"/>
<rect x="811.3" y="1659.0" width="10.4" height="41.3" fill="#c9deea"/>
<rect x="811.3" y="1700.0" width="10.4" height="56.8" fill="#bcd7e7"/>
<rect x="811.3" y="1872.0" width="10.4" height="21.3" fill="#d7e6ee"/>
<rect x="824.9" y="1032.7" width="10.9" height="62.6" fill="#e58869"/>
<rect x="824.9" y="1095.0" width="10.9" height="55.3" fill="#e27652"/>
<rect x="824.9" y="1150.0" width="10.9" height="65.3" fill="#e27652"/>
<rect x="824.9" y="1215.0" width="10.9" height="75.3" fill="#e68e71"/>
<rect x="824.9" y="1290.0" width="10.9" height="67.3" fill="#e37b58"/>
<rect x="824.9" y="1357.0" width="10.9" height="43.3" fill="#e27652"/>
<rect x="824.9" y="1400.0" width="10.9" height="48.3" fill="#e27652"/>
<rect x="824.9" y="1659.0" width="10.9" height="41.3" fill="#e9a38c"/>
<rect x="824.9" y="1700.0" width="10.9" height="56.8" fill="#e7977c"/>
<rect x="824.9" y="1872.0" width="10.9" height="21.3" fill="#ecb5a3"/>
<rect x="840.5" y="1032.7" width="7.9" height="62.6" fill="#bcd7e6"/>
<rect x="840.5" y="1095.0" width="7.9" height="55.3" fill="#bcd7e7"/>
<rect x="840.5" y="1150.0" width="7.9" height="65.3" fill="#b0d1e3"/>
<rect x="840.5" y="1215.0" width="7.9" height="75.3" fill="#c6dde9"/>
<rect x="840.5" y="1290.0" width="7.9" height="67.3" fill="#c2dae8"/>
<rect x="840.5" y="1357.0" width="7.9" height="43.3" fill="#b1d1e4"/>
<rect x="840.5" y="1400.0" width="7.9" height="48.3" fill="#9ec7de"/>
<rect x="840.5" y="1659.0" width="7.9" height="41.3" fill="#c3dbe8"/>
<rect x="840.5" y="1700.0" width="7.9" height="56.8" fill="#b0d1e3"/>
<rect x="840.5" y="1872.0" width="7.9" height="21.3" fill="#d3e3ed"/>
<rect x="859.0" y="1032.7" width="4.1" height="62.6" fill="#e9a58f"/>
<rect x="859.0" y="1095.0" width="4.1" height="55.3" fill="#e48464"/>
<rect x="859.0" y="1150.0" width="4.1" height="65.3" fill="#e89d84"/>
<rect x="859.0" y="1215.0" width="4.1" height="75.3" fill="#e69074"/>
<rect x="859.0" y="1290.0" width="4.1" height="67.3" fill="#e89e86"/>
<rect x="859.0" y="1357.0" width="4.1" height="43.3" fill="#e58b6d"/>
<rect x="859.0" y="1400.0" width="4.1" height="48.3" fill="#e7957a"/>
<rect x="863.1" y="1032.7" width="9.4" height="62.6" fill="#c9deea"/>
<rect x="863.1" y="1095.0" width="9.4" height="55.3" fill="#aed0e3"/>
<rect x="863.1" y="1150.0" width="9.4" height="65.3" fill="#c4dbe9"/>
<rect x="863.1" y="1215.0" width="9.4" height="75.3" fill="#c3dbe8"/>
<rect x="863.1" y="1290.0" width="9.4" height="67.3" fill="#c0d9e8"/>
<rect x="863.1" y="1357.0" width="9.4" height="43.3" fill="#b5d3e5"/>
<rect x="863.1" y="1400.0" width="9.4" height="48.3" fill="#a9cde1"/>
<rect x="863.1" y="1659.0" width="9.4" height="41.3" fill="#d7e5ee"/>
<rect x="863.1" y="1700.0" width="9.4" height="56.8" fill="#d5e5ed"/>
<rect x="863.1" y="1872.0" width="9.4" height="21.3" fill="#e0eaf0"/>
<rect x="878.2" y="1032.7" width="3.8" height="62.6" fill="#e9a088"/>
<rect x="878.2" y="1095.0" width="3.8" height="55.3" fill="#e27652"/>
<rect x="878.2" y="1150.0" width="3.8" height="65.3" fill="#e48464"/>
<rect x="878.2" y="1215.0" width="3.8" height="75.3" fill="#e7967b"/>
<rect x="878.2" y="1290.0" width="3.8" height="67.3" fill="#e69276"/>
<rect x="878.2" y="1357.0" width="3.8" height="43.3" fill="#e27652"/>
<rect x="878.2" y="1400.0" width="3.8" height="48.3" fill="#e27652"/>
<rect x="878.2" y="1659.0" width="3.8" height="41.3" fill="#edbaa9"/>
<rect x="878.2" y="1700.0" width="3.8" height="56.8" fill="#ecb6a4"/>
<rect x="878.2" y="1872.0" width="3.8" height="21.3" fill="#efc9bc"/>
<rect x="882.0" y="1032.7" width="12.2" height="62.6" fill="#f0cdc1"/>
<rect x="882.0" y="1095.0" width="12.2" height="55.3" fill="#ebb19e"/>
<rect x="882.0" y="1150.0" width="12.2" height="65.3" fill="#ebaf9c"/>
<rect x="882.0" y="1215.0" width="12.2" height="75.3" fill="#eec1b2"/>
<rect x="882.0" y="1290.0" width="12.2" height="67.3" fill="#ecb7a6"/>
<rect x="882.0" y="1357.0" width="12.2" height="43.3" fill="#eaac97"/>
<rect x="882.0" y="1400.0" width="12.2" height="48.3" fill="#eaac98"/>
<rect x="882.0" y="1659.0" width="12.2" height="41.3" fill="#cee1eb"/>
<rect x="882.0" y="1700.0" width="12.2" height="56.8" fill="#d6e5ee"/>
<rect x="882.0" y="1872.0" width="12.2" height="21.3" fill="#dbe7ef"/>
<rect x="910.4" y="1032.7" width="8.5" height="62.6" fill="#cfe1ec"/>
<rect x="910.4" y="1095.0" width="8.5" height="55.3" fill="#b1d1e4"/>
<rect x="910.4" y="1150.0" width="8.5" height="65.3" fill="#b3d2e4"/>
<rect x="910.4" y="1215.0" width="8.5" height="75.3" fill="#b0d1e3"/>
<rect x="910.4" y="1290.0" width="8.5" height="67.3" fill="#bfd9e7"/>
<rect x="910.4" y="1357.0" width="8.5" height="43.3" fill="#a7cce1"/>
<rect x="910.4" y="1400.0" width="8.5" height="48.3" fill="#b6d4e5"/>
<rect x="910.4" y="1659.0" width="8.5" height="41.3" fill="#b3d2e4"/>
<rect x="910.4" y="1700.0" width="8.5" height="56.8" fill="#9fc8df"/>
<rect x="910.4" y="1872.0" width="8.5" height="21.3" fill="#c2dae8"/>
<rect x="928.3" y="1032.7" width="3.8" height="62.6" fill="#eec3b4"/>
<rect x="928.3" y="1095.0" width="3.8" height="55.3" fill="#ecb8a7"/>
<rect x="928.3" y="1150.0" width="3.8" height="65.3" fill="#ecb4a2"/>
<rect x="928.3" y="1215.0" width="3.8" height="75.3" fill="#edbcab"/>
<rect x="928.3" y="1290.0" width="3.8" height="67.3" fill="#eec3b4"/>
<rect x="928.3" y="1357.0" width="3.8" height="43.3" fill="#ecb9a8"/>
<rect x="928.3" y="1400.0" width="3.8" height="48.3" fill="#ecb3a1"/>
<rect x="928.3" y="1659.0" width="3.8" height="41.3" fill="#f3e3de"/>
<rect x="928.3" y="1700.0" width="3.8" height="56.8" fill="#f3e6e1"/>
<rect x="928.3" y="1872.0" width="3.8" height="21.3" fill="#f5edeb"/>
<rect x="938.6" y="1032.7" width="19.8" height="62.6" fill="#e5edf1"/>
<rect x="938.6" y="1095.0" width="19.8" height="55.3" fill="#e2ecf1"/>
<rect x="938.6" y="1150.0" width="19.8" height="65.3" fill="#e1ebf0"/>
<rect x="938.6" y="1215.0" width="19.8" height="75.3" fill="#e7eef2"/>
<rect x="938.6" y="1290.0" width="19.8" height="67.3" fill="#dee9f0"/>
<rect x="938.6" y="1357.0" width="19.8" height="43.3" fill="#e6edf2"/>
<rect x="938.6" y="1400.0" width="19.8" height="48.3" fill="#dfe9f0"/>
<rect x="938.6" y="1659.0" width="19.8" height="41.3" fill="#f4e9e5"/>
<rect x="938.6" y="1700.0" width="19.8" height="56.8" fill="#f5efed"/>
<rect x="965.9" y="1032.7" width="2.3" height="62.6" fill="#f0d0c6"/>
<rect x="965.9" y="1095.0" width="2.3" height="55.3" fill="#ebb19e"/>
<rect x="965.9" y="1150.0" width="2.3" height="65.3" fill="#efc7b9"/>
<rect x="965.9" y="1215.0" width="2.3" height="75.3" fill="#eec6b8"/>
<rect x="965.9" y="1290.0" width="2.3" height="67.3" fill="#efc6b9"/>
<rect x="965.9" y="1357.0" width="2.3" height="43.3" fill="#ecb3a0"/>
<rect x="965.9" y="1400.0" width="2.3" height="48.3" fill="#ecb5a2"/>
<rect x="968.2" y="1032.7" width="10.0" height="62.6" fill="#c3dbe8"/>
<rect x="968.2" y="1095.0" width="10.0" height="55.3" fill="#c0d9e8"/>
<rect x="968.2" y="1150.0" width="10.0" height="65.3" fill="#bad6e6"/>
<rect x="968.2" y="1215.0" width="10.0" height="75.3" fill="#c7ddea"/>
<rect x="968.2" y="1290.0" width="10.0" height="67.3" fill="#bdd8e7"/>
<rect x="968.2" y="1357.0" width="10.0" height="43.3" fill="#b1d1e4"/>
<rect x="968.2" y="1400.0" width="10.0" height="48.3" fill="#b2d2e4"/>
<rect x="968.2" y="1659.0" width="10.0" height="41.3" fill="#bed8e7"/>
<rect x="968.2" y="1700.0" width="10.0" height="56.8" fill="#b1d1e4"/>
<rect x="968.2" y="1872.0" width="10.0" height="21.3" fill="#cee1eb"/>
<rect x="995.1" y="1032.7" width="4.7" height="62.6" fill="#edbbaa"/>
<rect x="995.1" y="1095.0" width="4.7" height="55.3" fill="#edbcac"/>
<rect x="995.1" y="1150.0" width="4.7" height="65.3" fill="#ebb19e"/>
<rect x="995.1" y="1215.0" width="4.7" height="75.3" fill="#ecb6a4"/>
<rect x="995.1" y="1290.0" width="4.7" height="67.3" fill="#ecb9a8"/>
<rect x="995.1" y="1357.0" width="4.7" height="43.3" fill="#eaa892"/>
<rect x="995.1" y="1400.0" width="4.7" height="48.3" fill="#ebad98"/>
<rect x="995.1" y="1659.0" width="4.7" height="41.3" fill="#e9a38b"/>
<rect x="995.1" y="1700.0" width="4.7" height="56.8" fill="#ebad99"/>
<rect x="995.1" y="1872.0" width="4.7" height="21.3" fill="#efc8bb"/>
<rect x="999.8" y="1032.7" width="5.7" height="62.6" fill="#e4ecf1"/>
<rect x="999.8" y="1095.0" width="5.7" height="55.3" fill="#e4ecf1"/>
<rect x="999.8" y="1150.0" width="5.7" height="65.3" fill="#e5edf1"/>
<rect x="999.8" y="1215.0" width="5.7" height="75.3" fill="#dae7ef"/>
<rect x="999.8" y="1290.0" width="5.7" height="67.3" fill="#d9e7ee"/>
<rect x="999.8" y="1357.0" width="5.7" height="43.3" fill="#dce8ef"/>
<rect x="999.8" y="1400.0" width="5.7" height="48.3" fill="#d9e6ee"/>
<rect x="999.8" y="1659.0" width="5.7" height="41.3" fill="#f4e9e5"/>
<rect x="999.8" y="1700.0" width="5.7" height="56.8" fill="#f4e7e3"/>
<rect x="999.8" y="1872.0" width="5.7" height="21.3" fill="#f5f0ee"/>
<rect x="1005.5" y="1032.7" width="5.3" height="62.6" fill="#eec0b1"/>
<rect x="1005.5" y="1095.0" width="5.3" height="55.3" fill="#e9a38c"/>
<rect x="1005.5" y="1150.0" width="5.3" height="65.3" fill="#e7987e"/>
<rect x="1005.5" y="1215.0" width="5.3" height="75.3" fill="#ebb19d"/>
<rect x="1005.5" y="1290.0" width="5.3" height="67.3" fill="#eaac97"/>
<rect x="1005.5" y="1357.0" width="5.3" height="43.3" fill="#e89f87"/>
<rect x="1005.5" y="1400.0" width="5.3" height="48.3" fill="#e9a38c"/>
<rect x="1005.5" y="1659.0" width="5.3" height="41.3" fill="#e7977c"/>
<rect x="1005.5" y="1700.0" width="5.3" height="56.8" fill="#e68d70"/>
<rect x="1005.5" y="1872.0" width="5.3" height="21.3" fill="#ebb29e"/>
<rect x="1034.7" y="1032.7" width="4.3" height="62.6" fill="#eaa791"/>
<rect x="1034.7" y="1095.0" width="4.3" height="55.3" fill="#e48464"/>
<rect x="1034.7" y="1150.0" width="4.3" height="65.3" fill="#e37b58"/>
<rect x="1034.7" y="1215.0" width="4.3" height="75.3" fill="#e48261"/>
<rect x="1034.7" y="1290.0" width="4.3" height="67.3" fill="#e48160"/>
<rect x="1034.7" y="1357.0" width="4.3" height="43.3" fill="#e37956"/>
<rect x="1034.7" y="1400.0" width="4.3" height="48.3" fill="#e27652"/>
<rect x="1034.7" y="1659.0" width="4.3" height="41.3" fill="#ebb29f"/>
<rect x="1034.7" y="1700.0" width="4.3" height="56.8" fill="#eaa893"/>
<rect x="1034.7" y="1872.0" width="4.3" height="21.3" fill="#f1d8cf"/>
<rect x="1050.7" y="1032.7" width="4.7" height="62.6" fill="#e9a58e"/>
<rect x="1050.7" y="1095.0" width="4.7" height="55.3" fill="#e37e5c"/>
<rect x="1050.7" y="1150.0" width="4.7" height="65.3" fill="#e58768"/>
<rect x="1050.7" y="1215.0" width="4.7" height="75.3" fill="#e79479"/>
<rect x="1050.7" y="1290.0" width="4.7" height="67.3" fill="#e89f87"/>
<rect x="1050.7" y="1357.0" width="4.7" height="43.3" fill="#e37a58"/>
<rect x="1050.7" y="1400.0" width="4.7" height="48.3" fill="#e79478"/>
<rect x="1050.7" y="1659.0" width="4.7" height="41.3" fill="#edbfb0"/>
<rect x="1050.7" y="1700.0" width="4.7" height="56.8" fill="#ecb4a1"/>
<rect x="1050.7" y="1872.0" width="4.7" height="21.3" fill="#f1d4cb"/>
<rect x="1060.1" y="1032.7" width="4.7" height="62.6" fill="#ecb6a4"/>
<rect x="1060.1" y="1095.0" width="4.7" height="55.3" fill="#e68e71"/>
<rect x="1060.1" y="1150.0" width="4.7" height="65.3" fill="#e5886a"/>
<rect x="1060.1" y="1215.0" width="4.7" height="75.3" fill="#e7987e"/>
<rect x="1060.1" y="1290.0" width="4.7" height="67.3" fill="#e9a088"/>
<rect x="1060.1" y="1357.0" width="4.7" height="43.3" fill="#e37d5b"/>
<rect x="1060.1" y="1400.0" width="4.7" height="48.3" fill="#e37c5a"/>
<rect x="1060.1" y="1659.0" width="4.7" height="41.3" fill="#ecb4a2"/>
<rect x="1060.1" y="1700.0" width="4.7" height="56.8" fill="#edbbab"/>
<rect x="1060.1" y="1872.0" width="4.7" height="21.3" fill="#f2dad2"/>
<rect x="1064.8" y="1032.7" width="8.5" height="62.6" fill="#d7e5ee"/>
<rect x="1064.8" y="1095.0" width="8.5" height="55.3" fill="#cfe1ec"/>
<rect x="1064.8" y="1150.0" width="8.5" height="65.3" fill="#dde9ef"/>
<rect x="1064.8" y="1215.0" width="8.5" height="75.3" fill="#dce8ef"/>
<rect x="1064.8" y="1290.0" width="8.5" height="67.3" fill="#d4e4ed"/>
<rect x="1064.8" y="1357.0" width="8.5" height="43.3" fill="#d2e3ec"/>
<rect x="1064.8" y="1400.0" width="8.5" height="48.3" fill="#d0e2ec"/>
<rect x="1064.8" y="1659.0" width="8.5" height="41.3" fill="#cadfea"/>
<rect x="1064.8" y="1700.0" width="8.5" height="56.8" fill="#c6dce9"/>
<rect x="1064.8" y="1872.0" width="8.5" height="21.3" fill="#d1e2ec"/>
<rect x="1083.7" y="1032.7" width="14.1" height="62.6" fill="#bbd6e6"/>
<rect x="1083.7" y="1095.0" width="14.1" height="55.3" fill="#a2c9df"/>
<rect x="1083.7" y="1150.0" width="14.1" height="65.3" fill="#a4cae0"/>
<rect x="1083.7" y="1215.0" width="14.1" height="75.3" fill="#9ec7de"/>
<rect x="1083.7" y="1290.0" width="14.1" height="67.3" fill="#9ac5de"/>
<rect x="1083.7" y="1357.0" width="14.1" height="43.3" fill="#9ac5de"/>
<rect x="1083.7" y="1400.0" width="14.1" height="48.3" fill="#90c0db"/>
<rect x="1083.7" y="1659.0" width="14.1" height="41.3" fill="#b9d6e6"/>
<rect x="1083.7" y="1700.0" width="14.1" height="56.8" fill="#a4cae0"/>
<rect x="1083.7" y="1872.0" width="14.1" height="21.3" fill="#c9deea"/>
<rect x="1099.3" y="1032.7" width="25.8" height="62.6" fill="#eaa790"/>
<rect x="1099.3" y="1095.0" width="25.8" height="55.3" fill="#e27652"/>
<rect x="1099.3" y="1150.0" width="25.8" height="65.3" fill="#e27652"/>
<rect x="1099.3" y="1215.0" width="25.8" height="75.3" fill="#e27652"/>
<rect x="1099.3" y="1290.0" width="25.8" height="67.3" fill="#e48566"/>
<rect x="1099.3" y="1357.0" width="25.8" height="43.3" fill="#e27854"/>
<rect x="1099.3" y="1400.0" width="25.8" height="48.3" fill="#e27652"/>
<rect x="1099.3" y="1659.0" width="25.8" height="41.3" fill="#e69276"/>
<rect x="1099.3" y="1700.0" width="25.8" height="56.8" fill="#e69276"/>
<rect x="1099.3" y="1872.0" width="25.8" height="21.3" fill="#eaab96"/>
<rect x="1129.8" y="1032.7" width="2.3" height="62.6" fill="#efc6b9"/>
<rect x="1129.8" y="1095.0" width="2.3" height="55.3" fill="#ebad98"/>
<rect x="1129.8" y="1150.0" width="2.3" height="65.3" fill="#ebae9a"/>
<rect x="1129.8" y="1215.0" width="2.3" height="75.3" fill="#edbfb0"/>
<rect x="1129.8" y="1290.0" width="2.3" height="67.3" fill="#edbaa9"/>
<rect x="1129.8" y="1357.0" width="2.3" height="43.3" fill="#e7997e"/>
<rect x="1129.8" y="1400.0" width="2.3" height="48.3" fill="#ebaf9c"/>
<rect x="1129.8" y="1659.0" width="2.3" height="41.3" fill="#edbaa9"/>
<rect x="1129.8" y="1700.0" width="2.3" height="56.8" fill="#ecb8a6"/>
<rect x="1129.8" y="1872.0" width="2.3" height="21.3" fill="#f2ddd6"/>
<rect x="1147.7" y="1032.7" width="12.2" height="62.6" fill="#ebb09c"/>
<rect x="1147.7" y="1095.0" width="12.2" height="55.3" fill="#e58767"/>
<rect x="1147.7" y="1150.0" width="12.2" height="65.3" fill="#e37d5a"/>
<rect x="1147.7" y="1215.0" width="12.2" height="75.3" fill="#e68f71"/>
<rect x="1147.7" y="1290.0" width="12.2" height="67.3" fill="#e58b6d"/>
<rect x="1147.7" y="1357.0" width="12.2" height="43.3" fill="#e27652"/>
<rect x="1147.7" y="1400.0" width="12.2" height="48.3" fill="#e37e5c"/>
<rect x="1147.7" y="1659.0" width="12.2" height="41.3" fill="#e27652"/>
<rect x="1147.7" y="1700.0" width="12.2" height="56.8" fill="#e27652"/>
<rect x="1147.7" y="1872.0" width="12.2" height="21.3" fill="#edbaa9"/>
<rect x="1171.2" y="1032.7" width="3.8" height="62.6" fill="#f0d1c6"/>
<rect x="1171.2" y="1095.0" width="3.8" height="55.3" fill="#f0cdc2"/>
<rect x="1171.2" y="1150.0" width="3.8" height="65.3" fill="#f0cdc2"/>
<rect x="1171.2" y="1215.0" width="3.8" height="75.3" fill="#f0d1c7"/>
<rect x="1171.2" y="1290.0" width="3.8" height="67.3" fill="#f0cdc2"/>
<rect x="1171.2" y="1357.0" width="3.8" height="43.3" fill="#edbfb0"/>
<rect x="1171.2" y="1400.0" width="3.8" height="48.3" fill="#eec6b8"/>
<rect x="1171.2" y="1659.0" width="3.8" height="41.3" fill="#f3e3de"/>
<rect x="1171.2" y="1700.0" width="3.8" height="56.8" fill="#f4e6e2"/>
<rect x="1171.2" y="1872.0" width="3.8" height="21.3" fill="#f5f2f1"/>
<rect x="1187.4" y="1032.7" width="4.5" height="62.6" fill="#c8ddea"/>
<rect x="1187.4" y="1095.0" width="4.5" height="55.3" fill="#bdd8e7"/>
<rect x="1187.4" y="1150.0" width="4.5" height="65.3" fill="#b3d2e4"/>
<rect x="1187.4" y="1215.0" width="4.5" height="75.3" fill="#c5dce9"/>
<rect x="1187.4" y="1290.0" width="4.5" height="67.3" fill="#b2d2e4"/>
<rect x="1187.4" y="1357.0" width="4.5" height="43.3" fill="#aacde2"/>
<rect x="1187.4" y="1400.0" width="4.5" height="48.3" fill="#a1c8df"/>
<rect x="1187.4" y="1659.0" width="4.5" height="41.3" fill="#bcd7e7"/>
<rect x="1187.4" y="1700.0" width="4.5" height="56.8" fill="#c5dce9"/>
<rect x="1187.4" y="1872.0" width="4.5" height="21.3" fill="#dae7ef"/>
<rect x="1197.2" y="1032.7" width="2.3" height="62.6" fill="#eec4b6"/>
<rect x="1197.2" y="1095.0" width="2.3" height="55.3" fill="#eec2b3"/>
<rect x="1197.2" y="1150.0" width="2.3" height="65.3" fill="#ecb3a1"/>
<rect x="1197.2" y="1215.0" width="2.3" height="75.3" fill="#f0d0c6"/>
<rect x="1197.2" y="1290.0" width="2.3" height="67.3" fill="#f0d0c5"/>
<rect x="1197.2" y="1357.0" width="2.3" height="43.3" fill="#eaaa94"/>
<rect x="1197.2" y="1400.0" width="2.3" height="48.3" fill="#ebb09d"/>
<rect x="1197.2" y="1659.0" width="2.3" height="41.3" fill="#edbfaf"/>
<rect x="1197.2" y="1700.0" width="2.3" height="56.8" fill="#efc9bd"/>
<rect x="1197.2" y="1872.0" width="2.3" height="21.3" fill="#f1d6cd"/>
<rect x="1208.0" y="1032.7" width="9.6" height="62.6" fill="#edbcac"/>
<rect x="1208.0" y="1095.0" width="9.6" height="55.3" fill="#ebb19d"/>
<rect x="1208.0" y="1150.0" width="9.6" height="65.3" fill="#eaa790"/>
<rect x="1208.0" y="1215.0" width="9.6" height="75.3" fill="#ebb19e"/>
<rect x="1208.0" y="1290.0" width="9.6" height="67.3" fill="#e89a80"/>
<rect x="1208.0" y="1357.0" width="9.6" height="43.3" fill="#e48565"/>
<rect x="1208.0" y="1400.0" width="9.6" height="48.3" fill="#e9a68f"/>
<rect x="1208.0" y="1659.0" width="9.6" height="41.3" fill="#ecb5a2"/>
<rect x="1208.0" y="1700.0" width="9.6" height="56.8" fill="#ecb5a3"/>
<rect x="1208.0" y="1872.0" width="9.6" height="21.3" fill="#f1d3c9"/>
<path d="M307.9 1452.4h22.6M307.9 1470.0h22.6M307.9 1496.4h22.6M307.9 1505.1h22.6M307.9 1531.5h22.6M307.9 1549.1h22.6M307.9 1566.7h22.6M307.9 1593.1h22.6M307.9 1610.6h22.6M355.9 1452.4h11.3M355.9 1487.6h11.3M355.9 1575.5h11.3M355.9 1593.1h11.3M355.9 1645.8h11.3M391.7 1549.1h8.5M410.6 1452.4h12.2M410.6 1478.8h12.2M410.6 1522.7h12.2M410.6 1610.6h12.2M511.3 1522.7h4.7M517.0 1487.6h7.5M517.0 1496.4h7.5M517.0 1513.9h7.5M517.0 1522.7h7.5M517.0 1531.5h7.5M517.0 1549.1h7.5M517.0 1566.7h7.5M517.0 1575.5h7.5M517.0 1584.3h7.5M517.0 1654.6h7.5M578.2 1461.2h7.5M578.2 1478.8h7.5M578.2 1505.1h7.5M578.2 1575.5h7.5M578.2 1601.9h7.5M578.2 1610.6h7.5M585.7 1478.8h18.3M585.7 1505.1h18.3M585.7 1575.5h18.3M585.7 1584.3h18.3M585.7 1619.4h18.3M597.9 1470.0h6.2M597.9 1584.3h6.2M597.9 1593.1h6.2M597.9 1637.0h6.2M597.9 1645.8h6.2M597.9 1654.6h6.2M608.5 1470.0h7.5M608.5 1637.0h7.5M608.5 1654.6h7.5M651.2 1478.8h17.0M651.2 1487.6h17.0M651.2 1513.9h17.0M651.2 1566.7h17.0M651.2 1637.0h17.0M672.9 1513.9h6.0M704.0 1470.0h9.4M704.0 1540.3h9.4M704.0 1593.1h9.4M724.7 1496.4h3.8M724.7 1540.3h3.8M724.7 1619.4h3.8M724.7 1637.0h3.8M729.8 1601.9h4.3M753.9 1452.4h4.1M753.9 1470.0h4.1M753.9 1513.9h4.1M753.9 1584.3h4.1M806.6 1557.9h4.7M811.3 1628.2h10.4M824.9 1610.6h10.9M859.0 1540.3h4.1M859.0 1654.6h4.1M878.2 1549.1h3.8M878.2 1619.4h3.8M878.2 1628.2h3.8M928.3 1575.5h3.8M928.3 1637.0h3.8M928.3 1654.6h3.8M995.1 1557.9h4.7M995.1 1601.9h4.7M995.1 1610.6h4.7M995.1 1637.0h4.7M999.8 1478.8h5.7M999.8 1487.6h5.7M999.8 1505.1h5.7M999.8 1540.3h5.7M999.8 1584.3h5.7M999.8 1593.1h5.7M1034.7 1478.8h4.3M1050.7 1487.6h4.7M1050.7 1593.1h4.7M1050.7 1601.9h4.7M1060.1 1540.3h4.7M1060.1 1566.7h4.7M1129.8 1452.4h2.3M1129.8 1461.2h2.3M1129.8 1470.0h2.3M1129.8 1505.1h2.3M1129.8 1513.9h2.3M1129.8 1531.5h2.3M1129.8 1549.1h2.3M1129.8 1584.3h2.3M1129.8 1601.9h2.3M1129.8 1610.6h2.3M1171.2 1461.2h3.8M1171.2 1540.3h3.8M1171.2 1566.7h3.8M1171.2 1593.1h3.8M1171.2 1601.9h3.8M1171.2 1628.2h3.8M1171.2 1645.8h3.8M1197.2 1470.0h2.3M1197.2 1478.8h2.3M1197.2 1487.6h2.3M1197.2 1505.1h2.3M1197.2 1513.9h2.3M1197.2 1540.3h2.3M1197.2 1601.9h2.3M1197.2 1610.6h2.3M1197.2 1628.2h2.3M1197.2 1637.0h2.3M1197.2 1645.8h2.3M1197.2 1654.6h2.3M1208.0 1470.0h9.6" stroke="#dae7ee" stroke-width="9.09" fill="none"/>
<path d="M307.9 1461.2h22.6M307.9 1478.8h22.6M307.9 1628.2h22.6M355.9 1496.4h11.3M355.9 1531.5h11.3M355.9 1566.7h11.3M410.6 1487.6h12.2M473.7 1478.8h7.5M473.7 1505.1h7.5M473.7 1513.9h7.5M473.7 1522.7h7.5M473.7 1549.1h7.5M473.7 1575.5h7.5M473.7 1628.2h7.5M473.7 1645.8h7.5M517.0 1637.0h7.5M578.2 1452.4h7.5M578.2 1531.5h7.5M578.2 1566.7h7.5M578.2 1619.4h7.5M578.2 1645.8h7.5M585.7 1487.6h18.3M585.7 1496.4h18.3M585.7 1549.1h18.3M585.7 1601.9h18.3M585.7 1628.2h18.3M597.9 1487.6h6.2M597.9 1566.7h6.2M597.9 1575.5h6.2M608.5 1487.6h7.5M672.9 1487.6h6.0M672.9 1505.1h6.0M672.9 1522.7h6.0M672.9 1557.9h6.0M672.9 1566.7h6.0M672.9 1593.1h6.0M672.9 1637.0h6.0M704.0 1513.9h9.4M724.7 1593.1h3.8M753.9 1540.3h4.1M753.9 1610.6h4.1M753.9 1628.2h4.1M753.9 1637.0h4.1M753.9 1654.6h4.1M765.2 1505.1h2.3M765.2 1593.1h2.3M782.1 1487.6h6.6M806.6 1461.2h4.7M806.6 1470.0h4.7M806.6 1505.1h4.7M806.6 1513.9h4.7M806.6 1593.1h4.7M806.6 1610.6h4.7M806.6 1619.4h4.7M806.6 1654.6h4.7M824.9 1619.4h10.9M859.0 1452.4h4.1M878.2 1461.2h3.8M878.2 1593.1h3.8M878.2 1637.0h3.8M878.2 1654.6h3.8M928.3 1461.2h3.8M928.3 1496.4h3.8M928.3 1566.7h3.8M928.3 1584.3h3.8M995.1 1487.6h4.7M995.1 1628.2h4.7M995.1 1645.8h4.7M999.8 1566.7h5.7M1034.7 1461.2h4.3M1034.7 1470.0h4.3M1034.7 1487.6h4.3M1034.7 1513.9h4.3M1034.7 1549.1h4.3M1034.7 1557.9h4.3M1034.7 1593.1h4.3M1034.7 1619.4h4.3M1050.7 1452.4h4.7M1050.7 1496.4h4.7M1050.7 1513.9h4.7M1050.7 1531.5h4.7M1050.7 1557.9h4.7M1050.7 1619.4h4.7M1060.1 1522.7h4.7M1099.3 1584.3h25.8M1129.8 1487.6h2.3M1129.8 1496.4h2.3M1129.8 1619.4h2.3M1129.8 1628.2h2.3M1129.8 1645.8h2.3M1147.7 1619.4h12.2M1171.2 1452.4h3.8M1171.2 1487.6h3.8M1171.2 1505.1h3.8M1171.2 1575.5h3.8M1171.2 1654.6h3.8M1197.2 1452.4h2.3M1197.2 1461.2h2.3M1197.2 1584.3h2.3M1208.0 1452.4h9.6M1208.0 1496.4h9.6M1208.0 1540.3h9.6" stroke="#cee1eb" stroke-width="9.09" fill="none"/>
<path d="M307.9 1487.6h22.6M307.9 1557.9h22.6M307.9 1619.4h22.6M307.9 1645.8h22.6M307.9 1654.6h22.6M355.9 1505.1h11.3M355.9 1522.7h11.3M355.9 1557.9h11.3M355.9 1610.6h11.3M355.9 1619.4h11.3M355.9 1628.2h11.3M355.9 1654.6h11.3M391.7 1470.0h8.5M391.7 1505.1h8.5M391.7 1566.7h8.5M391.7 1584.3h8.5M391.7 1654.6h8.5M400.2 1557.9h10.4M410.6 1461.2h12.2M410.6 1557.9h12.2M410.6 1566.7h12.2M410.6 1575.5h12.2M410.6 1601.9h12.2M410.6 1628.2h12.2M473.7 1531.5h7.5M473.7 1557.9h7.5M473.7 1584.3h7.5M473.7 1654.6h7.5M517.0 1461.2h7.5M517.0 1478.8h7.5M517.0 1540.3h7.5M517.0 1557.9h7.5M517.0 1593.1h7.5M517.0 1601.9h7.5M517.0 1610.6h7.5M517.0 1645.8h7.5M554.6 1470.0h10.4M578.2 1496.4h7.5M578.2 1584.3h7.5M578.2 1628.2h7.5M578.2 1654.6h7.5M585.7 1452.4h18.3M585.7 1470.0h18.3M585.7 1513.9h18.3M585.7 1522.7h18.3M585.7 1540.3h18.3M585.7 1566.7h18.3M585.7 1637.0h18.3M585.7 1645.8h18.3M585.7 1654.6h18.3M597.9 1452.4h6.2M597.9 1496.4h6.2M597.9 1505.1h6.2M597.9 1513.9h6.2M597.9 1531.5h6.2M597.9 1557.9h6.2M597.9 1601.9h6.2M597.9 1619.4h6.2M608.5 1628.2h7.5M651.2 1522.7h17.0M651.2 1531.5h17.0M651.2 1540.3h17.0M651.2 1557.9h17.0M651.2 1593.1h17.0M704.0 1461.2h9.4M704.0 1522.7h9.4M704.0 1584.3h9.4M704.0 1601.9h9.4M704.0 1610.6h9.4M704.0 1619.4h9.4M704.0 1637.0h9.4M724.7 1478.8h3.8M724.7 1505.1h3.8M724.7 1531.5h3.8M724.7 1566.7h3.8M729.8 1461.2h4.3M729.8 1487.6h4.3M729.8 1496.4h4.3M729.8 1522.7h4.3M729.8 1584.3h4.3M729.8 1628.2h4.3M729.8 1637.0h4.3M729.8 1654.6h4.3M734.1 1452.4h5.7M753.9 1487.6h4.1M753.9 1496.4h4.1M753.9 1531.5h4.1M753.9 1549.1h4.1M753.9 1557.9h4.1M753.9 1566.7h4.1M753.9 1593.1h4.1M753.9 1645.8h4.1M806.6 1522.7h4.7M859.0 1470.0h4.1M859.0 1487.6h4.1M859.0 1513.9h4.1M859.0 1522.7h4.1M859.0 1531.5h4.1M859.0 1549.1h4.1M859.0 1557.9h4.1M859.0 1566.7h4.1M859.0 1593.1h4.1M859.0 1628.2h4.1M859.0 1645.8h4.1M878.2 1531.5h3.8M878.2 1601.9h3.8M928.3 1470.0h3.8M928.3 1478.8h3.8M928.3 1513.9h3.8M928.3 1540.3h3.8M928.3 1557.9h3.8M928.3 1593.1h3.8M928.3 1610.6h3.8M928.3 1619.4h3.8M938.6 1461.2h19.8M999.8 1452.4h5.7M999.8 1522.7h5.7M999.8 1549.1h5.7M999.8 1601.9h5.7M999.8 1628.2h5.7M999.8 1637.0h5.7M999.8 1645.8h5.7M999.8 1654.6h5.7M1034.7 1496.4h4.3M1034.7 1540.3h4.3M1034.7 1601.9h4.3M1034.7 1610.6h4.3M1060.1 1487.6h4.7M1060.1 1496.4h4.7M1060.1 1505.1h4.7M1060.1 1549.1h4.7M1060.1 1557.9h4.7M1060.1 1584.3h4.7M1060.1 1610.6h4.7M1060.1 1637.0h4.7M1060.1 1645.8h4.7M1060.1 1654.6h4.7M1083.7 1461.2h14.1M1129.8 1557.9h2.3M1129.8 1654.6h2.3M1171.2 1478.8h3.8M1171.2 1513.9h3.8M1171.2 1522.7h3.8M1171.2 1549.1h3.8M1171.2 1584.3h3.8M1171.2 1610.6h3.8M1171.2 1619.4h3.8M1187.4 1505.1h4.5M1197.2 1549.1h2.3M1197.2 1557.9h2.3M1197.2 1566.7h2.3M1197.2 1575.5h2.3M1197.2 1593.1h2.3" stroke="#e6eef2" stroke-width="9.09" fill="none"/>
<path d="M307.9 1513.9h22.6M473.7 1593.1h7.5M473.7 1619.4h7.5M473.7 1637.0h7.5M608.5 1478.8h7.5M608.5 1610.6h7.5M608.5 1619.4h7.5M672.9 1461.2h6.0M672.9 1496.4h6.0M672.9 1575.5h6.0M672.9 1610.6h6.0M672.9 1645.8h6.0M672.9 1654.6h6.0M765.2 1478.8h2.3M765.2 1549.1h2.3M765.2 1566.7h2.3M765.2 1628.2h2.3M765.2 1654.6h2.3M806.6 1452.4h4.7M806.6 1628.2h4.7M824.9 1478.8h10.9M824.9 1513.9h10.9M824.9 1637.0h10.9M878.2 1505.1h3.8M878.2 1540.3h3.8M995.1 1452.4h4.7M995.1 1496.4h4.7M995.1 1522.7h4.7M995.1 1531.5h4.7M995.1 1566.7h4.7M995.1 1575.5h4.7M995.1 1584.3h4.7M1005.5 1470.0h5.3M1005.5 1478.8h5.3M1005.5 1496.4h5.3M1005.5 1505.1h5.3M1005.5 1513.9h5.3M1005.5 1540.3h5.3M1005.5 1566.7h5.3M1005.5 1584.3h5.3M1034.7 1531.5h4.3M1050.7 1478.8h4.7M1050.7 1505.1h4.7M1050.7 1522.7h4.7M1050.7 1540.3h4.7M1050.7 1584.3h4.7M1050.7 1645.8h4.7M1099.3 1461.2h25.8M1099.3 1531.5h25.8M1099.3 1628.2h25.8M1147.7 1487.6h12.2M1208.0 1487.6h9.6M1208.0 1505.1h9.6M1208.0 1513.9h9.6M1208.0 1549.1h9.6M1208.0 1637.0h9.6" stroke="#aecfe3" stroke-width="9.09" fill="none"/>
<path d="M307.9 1540.3h22.6M473.7 1601.9h7.5M473.7 1610.6h7.5M608.5 1505.1h7.5M608.5 1549.1h7.5M608.5 1601.9h7.5M608.5 1645.8h7.5M672.9 1531.5h6.0M672.9 1540.3h6.0M672.9 1549.1h6.0M672.9 1584.3h6.0M672.9 1619.4h6.0M765.2 1513.9h2.3M765.2 1584.3h2.3M765.2 1610.6h2.3M765.2 1619.4h2.3M806.6 1496.4h4.7M806.6 1531.5h4.7M806.6 1540.3h4.7M806.6 1601.9h4.7M824.9 1452.4h10.9M824.9 1461.2h10.9M824.9 1470.0h10.9M824.9 1487.6h10.9M824.9 1496.4h10.9M824.9 1540.3h10.9M824.9 1549.1h10.9M824.9 1557.9h10.9M824.9 1593.1h10.9M824.9 1654.6h10.9M878.2 1452.4h3.8M878.2 1470.0h3.8M878.2 1478.8h3.8M878.2 1496.4h3.8M878.2 1522.7h3.8M878.2 1557.9h3.8M878.2 1610.6h3.8M878.2 1645.8h3.8M995.1 1470.0h4.7M995.1 1478.8h4.7M995.1 1540.3h4.7M1005.5 1628.2h5.3M1034.7 1575.5h4.3M1034.7 1584.3h4.3M1050.7 1470.0h4.7M1050.7 1549.1h4.7M1050.7 1566.7h4.7M1050.7 1628.2h4.7M1099.3 1470.0h25.8M1099.3 1645.8h25.8M1129.8 1522.7h2.3M1197.2 1496.4h2.3M1208.0 1522.7h9.6M1208.0 1531.5h9.6M1208.0 1593.1h9.6M1208.0 1628.2h9.6" stroke="#b8d5e5" stroke-width="9.09" fill="none"/>
<path d="M307.9 1575.5h22.6M307.9 1637.0h22.6M355.9 1601.9h11.3M473.7 1452.4h7.5M473.7 1461.2h7.5M473.7 1487.6h7.5M473.7 1496.4h7.5M473.7 1540.3h7.5M585.7 1593.1h18.3M608.5 1452.4h7.5M608.5 1513.9h7.5M608.5 1522.7h7.5M608.5 1531.5h7.5M608.5 1540.3h7.5M608.5 1584.3h7.5M608.5 1593.1h7.5M672.9 1452.4h6.0M672.9 1470.0h6.0M672.9 1478.8h6.0M672.9 1601.9h6.0M672.9 1628.2h6.0M765.2 1452.4h2.3M765.2 1470.0h2.3M765.2 1487.6h2.3M765.2 1522.7h2.3M765.2 1531.5h2.3M765.2 1540.3h2.3M765.2 1637.0h2.3M765.2 1645.8h2.3M806.6 1478.8h4.7M806.6 1549.1h4.7M806.6 1575.5h4.7M806.6 1637.0h4.7M806.6 1645.8h4.7M824.9 1601.9h10.9M878.2 1487.6h3.8M878.2 1513.9h3.8M878.2 1584.3h3.8M928.3 1601.9h3.8M995.1 1461.2h4.7M995.1 1549.1h4.7M995.1 1593.1h4.7M1005.5 1461.2h5.3M1005.5 1522.7h5.3M1005.5 1601.9h5.3M1005.5 1654.6h5.3M1034.7 1452.4h4.3M1034.7 1566.7h4.3M1034.7 1628.2h4.3M1034.7 1637.0h4.3M1034.7 1645.8h4.3M1050.7 1461.2h4.7M1050.7 1575.5h4.7M1050.7 1610.6h4.7M1050.7 1637.0h4.7M1050.7 1654.6h4.7M1129.8 1540.3h2.3M1129.8 1566.7h2.3M1129.8 1575.5h2.3M1129.8 1637.0h2.3M1147.7 1461.2h12.2M1147.7 1522.7h12.2M1147.7 1593.1h12.2M1197.2 1531.5h2.3M1208.0 1461.2h9.6M1208.0 1478.8h9.6M1208.0 1557.9h9.6M1208.0 1601.9h9.6M1208.0 1610.6h9.6M1208.0 1619.4h9.6M1208.0 1645.8h9.6" stroke="#c3dbe8" stroke-width="9.09" fill="none"/>
<path d="M307.9 1601.9h22.6M355.9 1478.8h11.3M367.2 1452.4h23.4M367.2 1478.8h23.4M367.2 1531.5h23.4M367.2 1540.3h23.4M367.2 1593.1h23.4M367.2 1628.2h23.4M391.7 1531.5h8.5M391.7 1557.9h8.5M391.7 1637.0h8.5M391.7 1645.8h8.5M400.2 1645.8h10.4M410.6 1496.4h12.2M410.6 1513.9h12.2M410.6 1531.5h12.2M410.6 1654.6h12.2M434.1 1531.5h16.0M434.1 1540.3h16.0M434.1 1601.9h16.0M459.5 1461.2h14.1M459.5 1470.0h14.1M459.5 1487.6h14.1M459.5 1513.9h14.1M459.5 1522.7h14.1M459.5 1540.3h14.1M459.5 1575.5h14.1M486.8 1557.9h13.2M486.8 1575.5h13.2M486.8 1610.6h13.2M486.8 1628.2h13.2M500.0 1513.9h11.3M511.3 1513.9h4.7M511.3 1531.5h4.7M511.3 1557.9h4.7M511.3 1575.5h4.7M517.0 1470.0h7.5M517.0 1505.1h7.5M524.5 1461.2h16.0M524.5 1531.5h16.0M524.5 1628.2h16.0M554.6 1452.4h10.4M554.6 1461.2h10.4M554.6 1610.6h10.4M554.6 1628.2h10.4M565.0 1628.2h13.2M578.2 1540.3h7.5M578.2 1593.1h7.5M585.7 1461.2h18.3M585.7 1531.5h18.3M585.7 1557.9h18.3M620.1 1461.2h11.7M620.1 1619.4h11.7M631.8 1470.0h14.3M631.8 1637.0h14.3M651.2 1452.4h17.0M651.2 1461.2h17.0M651.2 1584.3h17.0M668.2 1452.4h4.7M704.0 1452.4h9.4M704.0 1487.6h9.4M704.0 1496.4h9.4M704.0 1531.5h9.4M704.0 1549.1h9.4M704.0 1557.9h9.4M724.7 1452.4h3.8M724.7 1461.2h3.8M724.7 1487.6h3.8M724.7 1513.9h3.8M724.7 1522.7h3.8M724.7 1549.1h3.8M724.7 1584.3h3.8M724.7 1601.9h3.8M724.7 1610.6h3.8M724.7 1628.2h3.8M724.7 1645.8h3.8M729.8 1478.8h4.3M729.8 1540.3h4.3M729.8 1575.5h4.3M729.8 1593.1h4.3M734.1 1461.2h5.7M734.1 1470.0h5.7M734.1 1478.8h5.7M734.1 1496.4h5.7M734.1 1513.9h5.7M734.1 1522.7h5.7M734.1 1593.1h5.7M734.1 1601.9h5.7M734.1 1628.2h5.7M734.1 1645.8h5.7M739.7 1496.4h3.8M739.7 1540.3h3.8M739.7 1549.1h3.8M739.7 1593.1h3.8M739.7 1637.0h3.8M739.7 1645.8h3.8M753.9 1478.8h4.1M771.8 1496.4h10.4M771.8 1601.9h10.4M771.8 1628.2h10.4M782.1 1452.4h6.6M782.1 1461.2h6.6M782.1 1478.8h6.6M782.1 1496.4h6.6M782.1 1531.5h6.6M782.1 1540.3h6.6M782.1 1584.3h6.6M782.1 1610.6h6.6M782.1 1637.0h6.6M811.3 1470.0h10.4M840.5 1478.8h7.9M840.5 1487.6h7.9M840.5 1584.3h7.9M859.0 1575.5h4.1M859.0 1584.3h4.1M863.1 1496.4h9.4M863.1 1531.5h9.4M863.1 1540.3h9.4M863.1 1593.1h9.4M863.1 1610.6h9.4M863.1 1637.0h9.4M863.1 1654.6h9.4M882.0 1531.5h12.2M882.0 1593.1h12.2M882.0 1601.9h12.2M882.0 1637.0h12.2M882.0 1654.6h12.2M910.4 1601.9h8.5M910.4 1628.2h8.5M928.3 1549.1h3.8M938.6 1470.0h19.8M938.6 1478.8h19.8M938.6 1505.1h19.8M938.6 1557.9h19.8M938.6 1566.7h19.8M938.6 1610.6h19.8M938.6 1645.8h19.8M965.9 1478.8h2.3M965.9 1505.1h2.3M965.9 1628.2h2.3M999.8 1513.9h5.7M999.8 1575.5h5.7M1060.1 1461.2h4.7M1060.1 1575.5h4.7M1060.1 1593.1h4.7M1060.1 1601.9h4.7M1060.1 1628.2h4.7M1064.8 1637.0h8.5M1083.7 1584.3h14.1M1171.2 1557.9h3.8M1187.4 1478.8h4.5M1187.4 1522.7h4.5M1187.4 1584.3h4.5M1187.4 1637.0h4.5M1187.4 1645.8h4.5" stroke="#f4e7e2" stroke-width="9.09" fill="none"/>
<path d="M330.5 1452.4h10.4M330.5 1566.7h10.4M500.0 1601.9h11.3M565.0 1540.3h13.2M620.1 1557.9h11.7M678.9 1619.4h11.9M715.8 1505.1h3.2M715.8 1557.9h3.2M1064.8 1575.5h8.5" stroke="#e89b82" stroke-width="9.09" fill="none"/>
<path d="M330.5 1461.2h10.4M330.5 1513.9h10.4M400.2 1531.5h10.4M400.2 1601.9h10.4M434.1 1478.8h16.0M486.8 1593.1h13.2M500.0 1452.4h11.3M500.0 1575.5h11.3M500.0 1619.4h11.3M524.5 1496.4h16.0M524.5 1513.9h16.0M524.5 1540.3h16.0M524.5 1566.7h16.0M524.5 1593.1h16.0M524.5 1610.6h16.0M524.5 1645.8h16.0M540.5 1522.7h13.2M554.6 1566.7h10.4M565.0 1461.2h13.2M565.0 1496.4h13.2M565.0 1549.1h13.2M565.0 1584.3h13.2M565.0 1637.0h13.2M565.0 1654.6h13.2M620.1 1628.2h11.7M631.8 1628.2h14.3M668.2 1461.2h4.7M668.2 1470.0h4.7M668.2 1487.6h4.7M678.9 1452.4h11.9M678.9 1593.1h11.9M678.9 1610.6h11.9M678.9 1637.0h11.9M715.8 1452.4h3.2M715.8 1470.0h3.2M715.8 1478.8h3.2M715.8 1513.9h3.2M715.8 1566.7h3.2M715.8 1584.3h3.2M715.8 1601.9h3.2M715.8 1637.0h3.2M771.8 1461.2h10.4M771.8 1540.3h10.4M771.8 1549.1h10.4M771.8 1566.7h10.4M771.8 1593.1h10.4M771.8 1637.0h10.4M782.1 1566.7h6.6M811.3 1513.9h10.4M811.3 1540.3h10.4M840.5 1522.7h7.9M965.9 1549.1h2.3M1064.8 1487.6h8.5M1064.8 1601.9h8.5M1064.8 1619.4h8.5M1083.7 1566.7h14.1" stroke="#ebaf9b" stroke-width="9.09" fill="none"/>
<path d="M330.5 1470.0h10.4M330.5 1487.6h10.4M330.5 1496.4h10.4M330.5 1531.5h10.4M330.5 1584.3h10.4M330.5 1637.0h10.4M367.2 1487.6h23.4M367.2 1522.7h23.4M367.2 1566.7h23.4M400.2 1478.8h10.4M400.2 1522.7h10.4M400.2 1540.3h10.4M400.2 1584.3h10.4M434.1 1470.0h16.0M434.1 1496.4h16.0M434.1 1522.7h16.0M434.1 1549.1h16.0M434.1 1557.9h16.0M434.1 1575.5h16.0M434.1 1619.4h16.0M434.1 1645.8h16.0M459.5 1593.1h14.1M459.5 1610.6h14.1M486.8 1478.8h13.2M486.8 1513.9h13.2M486.8 1566.7h13.2M486.8 1654.6h13.2M500.0 1637.0h11.3M524.5 1478.8h16.0M524.5 1487.6h16.0M524.5 1619.4h16.0M524.5 1654.6h16.0M540.5 1549.1h13.2M540.5 1566.7h13.2M540.5 1575.5h13.2M540.5 1619.4h13.2M554.6 1478.8h10.4M554.6 1619.4h10.4M554.6 1637.0h10.4M554.6 1645.8h10.4M565.0 1531.5h13.2M565.0 1601.9h13.2M620.1 1470.0h11.7M620.1 1487.6h11.7M620.1 1513.9h11.7M620.1 1584.3h11.7M631.8 1496.4h14.3M631.8 1513.9h14.3M631.8 1531.5h14.3M631.8 1540.3h14.3M631.8 1549.1h14.3M631.8 1601.9h14.3M631.8 1610.6h14.3M668.2 1496.4h4.7M668.2 1549.1h4.7M668.2 1593.1h4.7M678.9 1513.9h11.9M678.9 1584.3h11.9M678.9 1601.9h11.9M678.9 1628.2h11.9M715.8 1496.4h3.2M715.8 1531.5h3.2M739.7 1452.4h3.8M739.7 1513.9h3.8M739.7 1566.7h3.8M739.7 1584.3h3.8M771.8 1513.9h10.4M771.8 1619.4h10.4M771.8 1654.6h10.4M782.1 1470.0h6.6M782.1 1549.1h6.6M782.1 1645.8h6.6M811.3 1487.6h10.4M811.3 1496.4h10.4M811.3 1549.1h10.4M811.3 1566.7h10.4M811.3 1601.9h10.4M811.3 1610.6h10.4M840.5 1496.4h7.9M840.5 1513.9h7.9M840.5 1557.9h7.9M840.5 1566.7h7.9M840.5 1601.9h7.9M840.5 1610.6h7.9M863.1 1461.2h9.4M863.1 1549.1h9.4M863.1 1575.5h9.4M863.1 1645.8h9.4M882.0 1487.6h12.2M882.0 1496.4h12.2M882.0 1522.7h12.2M882.0 1540.3h12.2M882.0 1566.7h12.2M910.4 1531.5h8.5M910.4 1549.1h8.5M910.4 1557.9h8.5M910.4 1566.7h8.5M910.4 1593.1h8.5M910.4 1637.0h8.5M938.6 1487.6h19.8M938.6 1584.3h19.8M938.6 1593.1h19.8M965.9 1461.2h2.3M965.9 1496.4h2.3M965.9 1522.7h2.3M965.9 1557.9h2.3M965.9 1610.6h2.3M968.2 1452.4h10.0M968.2 1461.2h10.0M968.2 1478.8h10.0M968.2 1487.6h10.0M968.2 1505.1h10.0M968.2 1549.1h10.0M968.2 1575.5h10.0M968.2 1619.4h10.0M968.2 1645.8h10.0M968.2 1654.6h10.0M1064.8 1452.4h8.5M1064.8 1470.0h8.5M1064.8 1496.4h8.5M1064.8 1505.1h8.5M1064.8 1566.7h8.5M1083.7 1619.4h14.1M1083.7 1628.2h14.1M1083.7 1637.0h14.1M1187.4 1470.0h4.5M1187.4 1531.5h4.5M1187.4 1557.9h4.5M1187.4 1566.7h4.5M1187.4 1575.5h4.5" stroke="#eec4b6" stroke-width="9.09" fill="none"/>
<path d="M330.5 1478.8h10.4M330.5 1593.1h10.4M330.5 1628.2h10.4M330.5 1654.6h10.4M367.2 1461.2h23.4M367.2 1505.1h23.4M367.2 1513.9h23.4M367.2 1557.9h23.4M367.2 1584.3h23.4M367.2 1601.9h23.4M391.7 1452.4h8.5M391.7 1461.2h8.5M391.7 1478.8h8.5M391.7 1487.6h8.5M391.7 1575.5h8.5M391.7 1619.4h8.5M391.7 1628.2h8.5M400.2 1470.0h10.4M400.2 1487.6h10.4M400.2 1496.4h10.4M400.2 1505.1h10.4M400.2 1549.1h10.4M410.6 1540.3h12.2M410.6 1549.1h12.2M434.1 1610.6h16.0M434.1 1654.6h16.0M459.5 1452.4h14.1M459.5 1478.8h14.1M459.5 1496.4h14.1M459.5 1531.5h14.1M459.5 1619.4h14.1M486.8 1461.2h13.2M486.8 1487.6h13.2M486.8 1496.4h13.2M486.8 1522.7h13.2M486.8 1540.3h13.2M486.8 1584.3h13.2M486.8 1645.8h13.2M500.0 1522.7h11.3M500.0 1584.3h11.3M500.0 1628.2h11.3M511.3 1461.2h4.7M511.3 1470.0h4.7M511.3 1487.6h4.7M511.3 1619.4h4.7M511.3 1645.8h4.7M511.3 1654.6h4.7M524.5 1522.7h16.0M524.5 1584.3h16.0M524.5 1637.0h16.0M540.5 1452.4h13.2M540.5 1470.0h13.2M540.5 1478.8h13.2M540.5 1584.3h13.2M540.5 1601.9h13.2M540.5 1628.2h13.2M540.5 1654.6h13.2M554.6 1549.1h10.4M554.6 1557.9h10.4M554.6 1593.1h10.4M565.0 1487.6h13.2M565.0 1645.8h13.2M597.9 1610.6h6.2M620.1 1452.4h11.7M620.1 1601.9h11.7M620.1 1610.6h11.7M631.8 1461.2h14.3M631.8 1478.8h14.3M631.8 1522.7h14.3M631.8 1584.3h14.3M668.2 1505.1h4.7M668.2 1513.9h4.7M668.2 1522.7h4.7M668.2 1619.4h4.7M668.2 1637.0h4.7M678.9 1549.1h11.9M715.8 1645.8h3.2M729.8 1452.4h4.3M729.8 1557.9h4.3M734.1 1505.1h5.7M734.1 1566.7h5.7M734.1 1575.5h5.7M734.1 1610.6h5.7M734.1 1619.4h5.7M734.1 1654.6h5.7M739.7 1531.5h3.8M739.7 1557.9h3.8M739.7 1619.4h3.8M739.7 1654.6h3.8M753.9 1461.2h4.1M771.8 1452.4h10.4M771.8 1505.1h10.4M782.1 1513.9h6.6M782.1 1522.7h6.6M782.1 1575.5h6.6M782.1 1654.6h6.6M811.3 1461.2h10.4M811.3 1505.1h10.4M811.3 1593.1h10.4M840.5 1531.5h7.9M840.5 1540.3h7.9M840.5 1575.5h7.9M840.5 1637.0h7.9M840.5 1645.8h7.9M863.1 1487.6h9.4M863.1 1522.7h9.4M863.1 1601.9h9.4M863.1 1619.4h9.4M863.1 1628.2h9.4M882.0 1452.4h12.2M882.0 1470.0h12.2M882.0 1505.1h12.2M882.0 1584.3h12.2M882.0 1628.2h12.2M910.4 1452.4h8.5M910.4 1461.2h8.5M910.4 1540.3h8.5M910.4 1584.3h8.5M910.4 1619.4h8.5M938.6 1452.4h19.8M938.6 1531.5h19.8M938.6 1540.3h19.8M938.6 1549.1h19.8M938.6 1601.9h19.8M938.6 1619.4h19.8M965.9 1452.4h2.3M965.9 1470.0h2.3M965.9 1531.5h2.3M965.9 1540.3h2.3M965.9 1601.9h2.3M965.9 1637.0h2.3M968.2 1470.0h10.0M968.2 1522.7h10.0M968.2 1540.3h10.0M968.2 1557.9h10.0M1064.8 1531.5h8.5M1064.8 1549.1h8.5M1064.8 1584.3h8.5M1064.8 1610.6h8.5M1064.8 1628.2h8.5M1083.7 1452.4h14.1M1083.7 1478.8h14.1M1083.7 1487.6h14.1M1083.7 1496.4h14.1M1083.7 1513.9h14.1M1083.7 1540.3h14.1M1083.7 1549.1h14.1M1083.7 1645.8h14.1M1171.2 1496.4h3.8M1187.4 1461.2h4.5M1187.4 1496.4h4.5M1187.4 1593.1h4.5M1187.4 1601.9h4.5M1187.4 1628.2h4.5" stroke="#f2dad2" stroke-width="9.09" fill="none"/>
<path d="M330.5 1505.1h10.4M367.2 1470.0h23.4M367.2 1496.4h23.4M367.2 1575.5h23.4M367.2 1619.4h23.4M400.2 1452.4h10.4M400.2 1461.2h10.4M400.2 1619.4h10.4M400.2 1654.6h10.4M434.1 1461.2h16.0M434.1 1487.6h16.0M434.1 1628.2h16.0M434.1 1637.0h16.0M459.5 1505.1h14.1M459.5 1549.1h14.1M459.5 1566.7h14.1M459.5 1628.2h14.1M459.5 1645.8h14.1M459.5 1654.6h14.1M486.8 1505.1h13.2M486.8 1531.5h13.2M486.8 1549.1h13.2M486.8 1601.9h13.2M486.8 1619.4h13.2M500.0 1470.0h11.3M500.0 1478.8h11.3M500.0 1505.1h11.3M500.0 1540.3h11.3M500.0 1593.1h11.3M500.0 1610.6h11.3M511.3 1566.7h4.7M511.3 1584.3h4.7M511.3 1610.6h4.7M511.3 1628.2h4.7M524.5 1470.0h16.0M524.5 1505.1h16.0M524.5 1601.9h16.0M540.5 1461.2h13.2M540.5 1487.6h13.2M540.5 1496.4h13.2M540.5 1513.9h13.2M540.5 1557.9h13.2M540.5 1593.1h13.2M540.5 1645.8h13.2M554.6 1487.6h10.4M554.6 1505.1h10.4M554.6 1513.9h10.4M554.6 1531.5h10.4M554.6 1540.3h10.4M554.6 1601.9h10.4M565.0 1452.4h13.2M565.0 1470.0h13.2M565.0 1478.8h13.2M565.0 1513.9h13.2M565.0 1522.7h13.2M565.0 1557.9h13.2M565.0 1566.7h13.2M565.0 1610.6h13.2M565.0 1619.4h13.2M620.1 1478.8h11.7M631.8 1452.4h14.3M631.8 1505.1h14.3M631.8 1557.9h14.3M668.2 1531.5h4.7M668.2 1540.3h4.7M668.2 1584.3h4.7M668.2 1601.9h4.7M668.2 1610.6h4.7M668.2 1628.2h4.7M668.2 1645.8h4.7M668.2 1654.6h4.7M678.9 1461.2h11.9M678.9 1496.4h11.9M678.9 1531.5h11.9M678.9 1645.8h11.9M715.8 1522.7h3.2M715.8 1593.1h3.2M715.8 1654.6h3.2M734.1 1531.5h5.7M734.1 1540.3h5.7M734.1 1549.1h5.7M734.1 1557.9h5.7M734.1 1584.3h5.7M734.1 1637.0h5.7M739.7 1461.2h3.8M739.7 1470.0h3.8M739.7 1505.1h3.8M739.7 1575.5h3.8M739.7 1601.9h3.8M739.7 1610.6h3.8M739.7 1628.2h3.8M771.8 1470.0h10.4M771.8 1557.9h10.4M771.8 1584.3h10.4M782.1 1593.1h6.6M782.1 1601.9h6.6M782.1 1619.4h6.6M811.3 1452.4h10.4M811.3 1522.7h10.4M811.3 1584.3h10.4M811.3 1637.0h10.4M811.3 1645.8h10.4M811.3 1654.6h10.4M840.5 1505.1h7.9M840.5 1628.2h7.9M863.1 1452.4h9.4M863.1 1470.0h9.4M863.1 1478.8h9.4M863.1 1513.9h9.4M882.0 1461.2h12.2M882.0 1478.8h12.2M882.0 1513.9h12.2M882.0 1557.9h12.2M882.0 1619.4h12.2M882.0 1645.8h12.2M910.4 1487.6h8.5M910.4 1505.1h8.5M910.4 1513.9h8.5M910.4 1522.7h8.5M910.4 1575.5h8.5M910.4 1610.6h8.5M910.4 1645.8h8.5M910.4 1654.6h8.5M938.6 1496.4h19.8M938.6 1513.9h19.8M938.6 1522.7h19.8M938.6 1575.5h19.8M938.6 1628.2h19.8M938.6 1637.0h19.8M938.6 1654.6h19.8M965.9 1487.6h2.3M965.9 1513.9h2.3M965.9 1575.5h2.3M965.9 1645.8h2.3M968.2 1496.4h10.0M968.2 1531.5h10.0M968.2 1584.3h10.0M968.2 1601.9h10.0M968.2 1637.0h10.0M1064.8 1461.2h8.5M1064.8 1522.7h8.5M1083.7 1470.0h14.1M1083.7 1557.9h14.1M1083.7 1593.1h14.1M1083.7 1601.9h14.1M1187.4 1452.4h4.5M1187.4 1487.6h4.5M1187.4 1549.1h4.5M1187.4 1610.6h4.5M1187.4 1619.4h4.5M1187.4 1654.6h4.5" stroke="#f0cfc4" stroke-width="9.09" fill="none"/>
<path d="M330.5 1522.7h10.4M330.5 1540.3h10.4M330.5 1549.1h10.4M330.5 1557.9h10.4M330.5 1610.6h10.4M330.5 1645.8h10.4M400.2 1566.7h10.4M400.2 1593.1h10.4M400.2 1610.6h10.4M400.2 1628.2h10.4M400.2 1637.0h10.4M434.1 1452.4h16.0M434.1 1505.1h16.0M434.1 1513.9h16.0M434.1 1584.3h16.0M434.1 1593.1h16.0M500.0 1461.2h11.3M500.0 1496.4h11.3M500.0 1549.1h11.3M500.0 1557.9h11.3M500.0 1645.8h11.3M524.5 1452.4h16.0M524.5 1549.1h16.0M524.5 1557.9h16.0M540.5 1505.1h13.2M540.5 1531.5h13.2M540.5 1540.3h13.2M540.5 1610.6h13.2M554.6 1522.7h10.4M554.6 1575.5h10.4M554.6 1584.3h10.4M554.6 1654.6h10.4M565.0 1575.5h13.2M620.1 1496.4h11.7M620.1 1522.7h11.7M620.1 1531.5h11.7M620.1 1540.3h11.7M620.1 1566.7h11.7M620.1 1593.1h11.7M620.1 1637.0h11.7M620.1 1645.8h11.7M631.8 1487.6h14.3M631.8 1566.7h14.3M631.8 1575.5h14.3M631.8 1645.8h14.3M631.8 1654.6h14.3M668.2 1478.8h4.7M678.9 1470.0h11.9M678.9 1478.8h11.9M678.9 1487.6h11.9M678.9 1505.1h11.9M678.9 1522.7h11.9M678.9 1557.9h11.9M715.8 1487.6h3.2M715.8 1540.3h3.2M715.8 1549.1h3.2M715.8 1610.6h3.2M715.8 1628.2h3.2M771.8 1478.8h10.4M771.8 1487.6h10.4M771.8 1522.7h10.4M771.8 1531.5h10.4M771.8 1610.6h10.4M771.8 1645.8h10.4M811.3 1557.9h10.4M811.3 1575.5h10.4M840.5 1461.2h7.9M840.5 1619.4h7.9M863.1 1566.7h9.4M863.1 1584.3h9.4M882.0 1575.5h12.2M910.4 1470.0h8.5M910.4 1478.8h8.5M965.9 1566.7h2.3M965.9 1584.3h2.3M965.9 1619.4h2.3M968.2 1513.9h10.0M968.2 1566.7h10.0M968.2 1593.1h10.0M968.2 1610.6h10.0M968.2 1628.2h10.0M1064.8 1478.8h8.5M1064.8 1513.9h8.5M1064.8 1540.3h8.5M1064.8 1557.9h8.5M1064.8 1593.1h8.5M1064.8 1645.8h8.5M1064.8 1654.6h8.5M1083.7 1522.7h14.1M1083.7 1531.5h14.1M1083.7 1575.5h14.1M1083.7 1610.6h14.1M1083.7 1654.6h14.1" stroke="#ecb9a8" stroke-width="9.09" fill="none"/>
<path d="M330.5 1575.5h10.4M434.1 1566.7h16.0M500.0 1531.5h11.3M678.9 1575.5h11.9M715.8 1461.2h3.2M715.8 1575.5h3.2M811.3 1478.8h10.4" stroke="#e69276" stroke-width="9.09" fill="none"/>
<path d="M330.5 1601.9h10.4M330.5 1619.4h10.4M400.2 1575.5h10.4M500.0 1487.6h11.3M500.0 1566.7h11.3M500.0 1654.6h11.3M524.5 1575.5h16.0M554.6 1496.4h10.4M565.0 1505.1h13.2M565.0 1593.1h13.2M620.1 1549.1h11.7M620.1 1575.5h11.7M631.8 1593.1h14.3M631.8 1619.4h14.3M668.2 1566.7h4.7M668.2 1575.5h4.7M678.9 1540.3h11.9M678.9 1566.7h11.9M678.9 1654.6h11.9M715.8 1619.4h3.2M771.8 1575.5h10.4M811.3 1531.5h10.4M811.3 1619.4h10.4M840.5 1452.4h7.9M840.5 1549.1h7.9M840.5 1654.6h7.9" stroke="#e9a58e" stroke-width="9.09" fill="none"/>
<path d="M473.7 1566.7h7.5M608.5 1461.2h7.5M765.2 1461.2h2.3M765.2 1496.4h2.3M806.6 1487.6h4.7M824.9 1584.3h10.9M824.9 1628.2h10.9M824.9 1645.8h10.9M878.2 1566.7h3.8M878.2 1575.5h3.8M995.1 1654.6h4.7M1005.5 1487.6h5.3M1005.5 1557.9h5.3M1005.5 1593.1h5.3M1005.5 1637.0h5.3M1005.5 1645.8h5.3M1099.3 1505.1h25.8M1099.3 1513.9h25.8M1099.3 1549.1h25.8M1099.3 1557.9h25.8M1099.3 1619.4h25.8M1129.8 1593.1h2.3M1147.7 1452.4h12.2M1147.7 1496.4h12.2M1147.7 1628.2h12.2M1208.0 1566.7h9.6M1208.0 1584.3h9.6M1208.0 1654.6h9.6" stroke="#a3cae0" stroke-width="9.09" fill="none"/>
<path d="M608.5 1496.4h7.5M765.2 1557.9h2.3M806.6 1584.3h4.7M824.9 1505.1h10.9M1099.3 1478.8h25.8M1099.3 1601.9h25.8M1099.3 1637.0h25.8M1099.3 1654.6h25.8M1147.7 1540.3h12.2M1147.7 1549.1h12.2M1147.7 1566.7h12.2M1147.7 1575.5h12.2M1208.0 1575.5h9.6" stroke="#90bfdb" stroke-width="9.09" fill="none"/>
<path d="M608.5 1557.9h7.5M608.5 1566.7h7.5M765.2 1575.5h2.3M765.2 1601.9h2.3M806.6 1566.7h4.7M824.9 1522.7h10.9M824.9 1531.5h10.9M824.9 1575.5h10.9M995.1 1505.1h4.7M995.1 1513.9h4.7M995.1 1619.4h4.7M1005.5 1549.1h5.3M1005.5 1610.6h5.3M1099.3 1452.4h25.8M1099.3 1487.6h25.8M1099.3 1522.7h25.8M1099.3 1575.5h25.8M1099.3 1593.1h25.8M1099.3 1610.6h25.8M1147.7 1478.8h12.2M1147.7 1513.9h12.2M1147.7 1557.9h12.2M1147.7 1601.9h12.2M1147.7 1610.6h12.2M1147.7 1645.8h12.2M1147.7 1654.6h12.2" stroke="#99c5dd" stroke-width="9.09" fill="none"/>
<path d="M608.5 1575.5h7.5M1005.5 1452.4h5.3M1005.5 1575.5h5.3M1099.3 1496.4h25.8M1099.3 1540.3h25.8M1099.3 1566.7h25.8M1147.7 1584.3h12.2" stroke="#7db5d6" stroke-width="9.09" fill="none"/>
<path d="M620.1 1505.1h11.7" stroke="#e5886a" stroke-width="9.09" fill="none"/>
<path d="M824.9 1566.7h10.9M1005.5 1531.5h5.3M1005.5 1619.4h5.3M1147.7 1505.1h12.2M1147.7 1531.5h12.2M1147.7 1637.0h12.2" stroke="#86bad8" stroke-width="9.09" fill="none"/>
<path d="M1147.7 1470.0h12.2" stroke="#73b0d3" stroke-width="9.09" fill="none"/>
<path d="M307.9 1760.6h22.6M307.9 1777.1h22.6M367.2 1851.4h23.4M367.2 1867.9h23.4M391.7 1768.9h8.5M391.7 1785.4h8.5M391.7 1834.9h8.5M391.7 1851.4h8.5M391.7 1867.9h8.5M400.2 1760.6h10.4M400.2 1793.6h10.4M400.2 1843.1h10.4M400.2 1859.6h10.4M410.6 1785.4h12.2M410.6 1834.9h12.2M410.6 1851.4h12.2M434.1 1777.1h16.0M434.1 1785.4h16.0M434.1 1818.4h16.0M434.1 1851.4h16.0M434.1 1859.6h16.0M473.7 1768.9h7.5M473.7 1867.9h7.5M486.8 1768.9h13.2M486.8 1777.1h13.2M486.8 1793.6h13.2M486.8 1834.9h13.2M486.8 1859.6h13.2M511.3 1801.9h4.7M511.3 1810.1h4.7M511.3 1818.4h4.7M511.3 1843.1h4.7M517.0 1859.6h7.5M540.5 1801.9h13.2M554.6 1793.6h10.4M554.6 1826.6h10.4M565.0 1851.4h13.2M578.2 1801.9h7.5M578.2 1810.1h7.5M578.2 1826.6h7.5M585.7 1760.6h18.3M585.7 1768.9h18.3M585.7 1801.9h18.3M585.7 1810.1h18.3M585.7 1843.1h18.3M585.7 1859.6h18.3M608.5 1793.6h7.5M608.5 1801.9h7.5M608.5 1810.1h7.5M608.5 1834.9h7.5M608.5 1867.9h7.5M631.8 1793.6h14.3M631.8 1801.9h14.3M631.8 1818.4h14.3M631.8 1867.9h14.3M651.2 1810.1h17.0M668.2 1760.6h4.7M668.2 1818.4h4.7M668.2 1834.9h4.7M672.9 1760.6h6.0M672.9 1768.9h6.0M672.9 1801.9h6.0M672.9 1826.6h6.0M672.9 1867.9h6.0M678.9 1801.9h11.9M704.0 1760.6h9.4M704.0 1826.6h9.4M715.8 1867.9h3.2M734.1 1777.1h5.7M734.1 1843.1h5.7M734.1 1859.6h5.7M734.1 1867.9h5.7M739.7 1768.9h3.8M739.7 1801.9h3.8M739.7 1826.6h3.8M739.7 1843.1h3.8M739.7 1851.4h3.8M753.9 1768.9h4.1M753.9 1818.4h4.1M753.9 1834.9h4.1M771.8 1810.1h10.4M771.8 1818.4h10.4M771.8 1826.6h10.4M771.8 1851.4h10.4M782.1 1760.6h6.6M782.1 1768.9h6.6M782.1 1801.9h6.6M782.1 1818.4h6.6M806.6 1768.9h4.7M806.6 1793.6h4.7M806.6 1810.1h4.7M806.6 1834.9h4.7M806.6 1851.4h4.7M806.6 1859.6h4.7M824.9 1801.9h10.9M824.9 1810.1h10.9M824.9 1843.1h10.9M824.9 1851.4h10.9M824.9 1859.6h10.9M840.5 1768.9h7.9M840.5 1859.6h7.9M859.0 1826.6h4.1M882.0 1785.4h12.2M882.0 1851.4h12.2M882.0 1867.9h12.2M928.3 1793.6h3.8M928.3 1851.4h3.8M938.6 1851.4h19.8M965.9 1818.4h2.3M968.2 1768.9h10.0M968.2 1810.1h10.0M968.2 1851.4h10.0M995.1 1801.9h4.7M995.1 1810.1h4.7M995.1 1834.9h4.7M995.1 1859.6h4.7M995.1 1867.9h4.7M999.8 1826.6h5.7M999.8 1867.9h5.7M1005.5 1801.9h5.3M1005.5 1818.4h5.3M1005.5 1867.9h5.3M1034.7 1760.6h4.3M1034.7 1768.9h4.3M1034.7 1810.1h4.3M1050.7 1834.9h4.7M1060.1 1777.1h4.7M1060.1 1818.4h4.7M1060.1 1843.1h4.7M1099.3 1826.6h25.8M1099.3 1859.6h25.8M1129.8 1793.6h2.3M1129.8 1826.6h2.3M1147.7 1777.1h12.2M1147.7 1785.4h12.2M1147.7 1810.1h12.2M1147.7 1826.6h12.2M1147.7 1834.9h12.2M1147.7 1859.6h12.2M1171.2 1793.6h3.8M1171.2 1859.6h3.8M1197.2 1810.1h2.3M1208.0 1768.9h9.6M1208.0 1793.6h9.6M1208.0 1826.6h9.6M1208.0 1843.1h9.6M1208.0 1859.6h9.6" stroke="#f2dad2" stroke-width="8.55" fill="none"/>
<path d="M307.9 1768.9h22.6M307.9 1810.1h22.6M307.9 1826.6h22.6M367.2 1834.9h23.4M400.2 1801.9h10.4M400.2 1810.1h10.4M400.2 1818.4h10.4M434.1 1834.9h16.0M473.7 1834.9h7.5M473.7 1851.4h7.5M486.8 1801.9h13.2M511.3 1768.9h4.7M511.3 1851.4h4.7M578.2 1768.9h7.5M578.2 1777.1h7.5M578.2 1851.4h7.5M578.2 1859.6h7.5M608.5 1760.6h7.5M608.5 1843.1h7.5M608.5 1859.6h7.5M668.2 1843.1h4.7M672.9 1843.1h6.0M724.7 1777.1h3.8M734.1 1810.1h5.7M771.8 1760.6h10.4M771.8 1785.4h10.4M782.1 1834.9h6.6M782.1 1859.6h6.6M806.6 1801.9h4.7M824.9 1793.6h10.9M840.5 1785.4h7.9M859.0 1777.1h4.1M859.0 1810.1h4.1M859.0 1843.1h4.1M859.0 1859.6h4.1M882.0 1818.4h12.2M882.0 1843.1h12.2M968.2 1834.9h10.0M995.1 1768.9h4.7M995.1 1818.4h4.7M995.1 1843.1h4.7M1005.5 1810.1h5.3M1005.5 1843.1h5.3M1005.5 1859.6h5.3M1050.7 1760.6h4.7M1060.1 1801.9h4.7M1099.3 1777.1h25.8M1099.3 1785.4h25.8M1099.3 1793.6h25.8M1099.3 1851.4h25.8M1129.8 1785.4h2.3M1129.8 1810.1h2.3M1129.8 1867.9h2.3M1197.2 1768.9h2.3M1197.2 1785.4h2.3M1197.2 1843.1h2.3M1197.2 1867.9h2.3M1208.0 1760.6h9.6M1208.0 1851.4h9.6M1208.0 1867.9h9.6" stroke="#eec4b6" stroke-width="8.55" fill="none"/>
<path d="M307.9 1785.4h22.6M307.9 1793.6h22.6M307.9 1801.9h22.6M307.9 1818.4h22.6M307.9 1851.4h22.6M367.2 1777.1h23.4M367.2 1843.1h23.4M367.2 1859.6h23.4M391.7 1777.1h8.5M391.7 1801.9h8.5M391.7 1810.1h8.5M400.2 1826.6h10.4M400.2 1867.9h10.4M434.1 1826.6h16.0M434.1 1843.1h16.0M473.7 1793.6h7.5M473.7 1801.9h7.5M473.7 1810.1h7.5M473.7 1818.4h7.5M473.7 1826.6h7.5M473.7 1843.1h7.5M486.8 1810.1h13.2M511.3 1785.4h4.7M511.3 1867.9h4.7M517.0 1851.4h7.5M554.6 1801.9h10.4M554.6 1867.9h10.4M578.2 1785.4h7.5M578.2 1793.6h7.5M578.2 1818.4h7.5M578.2 1843.1h7.5M585.7 1851.4h18.3M608.5 1785.4h7.5M631.8 1810.1h14.3M631.8 1859.6h14.3M651.2 1859.6h17.0M668.2 1768.9h4.7M668.2 1785.4h4.7M668.2 1793.6h4.7M668.2 1826.6h4.7M668.2 1859.6h4.7M672.9 1859.6h6.0M724.7 1785.4h3.8M724.7 1801.9h3.8M724.7 1818.4h3.8M724.7 1859.6h3.8M734.1 1834.9h5.7M739.7 1793.6h3.8M771.8 1793.6h10.4M771.8 1859.6h10.4M771.8 1867.9h10.4M806.6 1818.4h4.7M806.6 1826.6h4.7M824.9 1760.6h10.9M824.9 1777.1h10.9M824.9 1785.4h10.9M824.9 1818.4h10.9M824.9 1826.6h10.9M824.9 1867.9h10.9M840.5 1793.6h7.9M840.5 1867.9h7.9M859.0 1760.6h4.1M859.0 1785.4h4.1M859.0 1801.9h4.1M882.0 1826.6h12.2M882.0 1859.6h12.2M968.2 1843.1h10.0M995.1 1793.6h4.7M1005.5 1760.6h5.3M1005.5 1777.1h5.3M1005.5 1851.4h5.3M1034.7 1785.4h4.3M1034.7 1818.4h4.3M1034.7 1826.6h4.3M1034.7 1851.4h4.3M1034.7 1859.6h4.3M1034.7 1867.9h4.3M1050.7 1826.6h4.7M1050.7 1867.9h4.7M1060.1 1859.6h4.7M1099.3 1801.9h25.8M1099.3 1818.4h25.8M1129.8 1760.6h2.3M1129.8 1777.1h2.3M1129.8 1859.6h2.3M1147.7 1818.4h12.2M1197.2 1777.1h2.3M1197.2 1818.4h2.3M1197.2 1834.9h2.3M1208.0 1777.1h9.6M1208.0 1785.4h9.6M1208.0 1801.9h9.6M1208.0 1818.4h9.6" stroke="#f0cfc4" stroke-width="8.55" fill="none"/>
<path d="M307.9 1834.9h22.6M355.9 1777.1h11.3M367.2 1760.6h23.4M367.2 1785.4h23.4M367.2 1810.1h23.4M391.7 1826.6h8.5M391.7 1843.1h8.5M391.7 1859.6h8.5M400.2 1834.9h10.4M410.6 1777.1h12.2M410.6 1826.6h12.2M434.1 1867.9h16.0M459.5 1768.9h14.1M459.5 1818.4h14.1M473.7 1777.1h7.5M473.7 1859.6h7.5M486.8 1826.6h13.2M486.8 1843.1h13.2M486.8 1851.4h13.2M486.8 1867.9h13.2M511.3 1777.1h4.7M511.3 1793.6h4.7M511.3 1859.6h4.7M517.0 1768.9h7.5M517.0 1777.1h7.5M540.5 1785.4h13.2M540.5 1859.6h13.2M554.6 1768.9h10.4M554.6 1777.1h10.4M554.6 1818.4h10.4M554.6 1843.1h10.4M554.6 1851.4h10.4M585.7 1777.1h18.3M585.7 1793.6h18.3M585.7 1818.4h18.3M597.9 1818.4h6.2M597.9 1851.4h6.2M597.9 1859.6h6.2M608.5 1768.9h7.5M631.8 1777.1h14.3M631.8 1826.6h14.3M631.8 1834.9h14.3M631.8 1843.1h14.3M651.2 1777.1h17.0M651.2 1851.4h17.0M668.2 1777.1h4.7M668.2 1867.9h4.7M672.9 1785.4h6.0M672.9 1810.1h6.0M672.9 1818.4h6.0M672.9 1834.9h6.0M672.9 1851.4h6.0M678.9 1818.4h11.9M704.0 1768.9h9.4M704.0 1777.1h9.4M704.0 1785.4h9.4M704.0 1793.6h9.4M704.0 1843.1h9.4M724.7 1760.6h3.8M724.7 1768.9h3.8M724.7 1810.1h3.8M724.7 1826.6h3.8M724.7 1834.9h3.8M724.7 1843.1h3.8M724.7 1851.4h3.8M724.7 1867.9h3.8M734.1 1760.6h5.7M734.1 1768.9h5.7M734.1 1785.4h5.7M734.1 1818.4h5.7M734.1 1826.6h5.7M739.7 1785.4h3.8M739.7 1810.1h3.8M739.7 1834.9h3.8M753.9 1801.9h4.1M753.9 1826.6h4.1M765.2 1793.6h2.3M765.2 1810.1h2.3M765.2 1818.4h2.3M765.2 1826.6h2.3M765.2 1834.9h2.3M765.2 1851.4h2.3M771.8 1801.9h10.4M771.8 1834.9h10.4M782.1 1785.4h6.6M782.1 1793.6h6.6M782.1 1810.1h6.6M782.1 1826.6h6.6M782.1 1851.4h6.6M782.1 1867.9h6.6M806.6 1785.4h4.7M806.6 1843.1h4.7M806.6 1867.9h4.7M824.9 1768.9h10.9M840.5 1760.6h7.9M840.5 1801.9h7.9M840.5 1818.4h7.9M840.5 1826.6h7.9M840.5 1843.1h7.9M859.0 1793.6h4.1M859.0 1818.4h4.1M859.0 1834.9h4.1M863.1 1826.6h9.4M863.1 1859.6h9.4M882.0 1768.9h12.2M882.0 1777.1h12.2M882.0 1810.1h12.2M910.4 1818.4h8.5M928.3 1777.1h3.8M928.3 1785.4h3.8M928.3 1801.9h3.8M928.3 1818.4h3.8M928.3 1826.6h3.8M965.9 1768.9h2.3M965.9 1777.1h2.3M965.9 1785.4h2.3M965.9 1793.6h2.3M965.9 1826.6h2.3M965.9 1843.1h2.3M965.9 1851.4h2.3M965.9 1867.9h2.3M968.2 1801.9h10.0M995.1 1785.4h4.7M999.8 1768.9h5.7M999.8 1843.1h5.7M1005.5 1768.9h5.3M1034.7 1777.1h4.3M1034.7 1801.9h4.3M1034.7 1834.9h4.3M1034.7 1843.1h4.3M1050.7 1810.1h4.7M1060.1 1768.9h4.7M1060.1 1785.4h4.7M1060.1 1810.1h4.7M1060.1 1826.6h4.7M1060.1 1834.9h4.7M1060.1 1851.4h4.7M1064.8 1768.9h8.5M1083.7 1851.4h14.1M1099.3 1760.6h25.8M1099.3 1834.9h25.8M1099.3 1843.1h25.8M1147.7 1760.6h12.2M1171.2 1777.1h3.8M1171.2 1810.1h3.8M1171.2 1818.4h3.8M1171.2 1826.6h3.8M1171.2 1867.9h3.8M1187.4 1818.4h4.5M1187.4 1834.9h4.5M1187.4 1859.6h4.5M1197.2 1793.6h2.3M1197.2 1801.9h2.3M1197.2 1826.6h2.3M1208.0 1834.9h9.6" stroke="#f4e7e2" stroke-width="8.55" fill="none"/>
<path d="M307.9 1843.1h22.6M307.9 1859.6h22.6M434.1 1760.6h16.0M434.1 1793.6h16.0M434.1 1801.9h16.0M434.1 1810.1h16.0M473.7 1785.4h7.5M578.2 1834.9h7.5M724.7 1793.6h3.8M739.7 1818.4h3.8M771.8 1768.9h10.4M882.0 1760.6h12.2M995.1 1777.1h4.7M995.1 1851.4h4.7M1005.5 1785.4h5.3M1005.5 1826.6h5.3M1005.5 1834.9h5.3M1050.7 1785.4h4.7M1050.7 1843.1h4.7" stroke="#ecb9a8" stroke-width="8.55" fill="none"/>
<path d="M307.9 1867.9h22.6M330.5 1768.9h10.4M330.5 1818.4h10.4M330.5 1843.1h10.4M355.9 1768.9h11.3M355.9 1801.9h11.3M355.9 1818.4h11.3M355.9 1843.1h11.3M355.9 1859.6h11.3M355.9 1867.9h11.3M367.2 1818.4h23.4M391.7 1760.6h8.5M400.2 1851.4h10.4M410.6 1793.6h12.2M410.6 1801.9h12.2M410.6 1818.4h12.2M410.6 1843.1h12.2M410.6 1867.9h12.2M459.5 1793.6h14.1M459.5 1867.9h14.1M486.8 1818.4h13.2M500.0 1768.9h11.3M500.0 1867.9h11.3M511.3 1826.6h4.7M517.0 1818.4h7.5M517.0 1826.6h7.5M517.0 1834.9h7.5M517.0 1843.1h7.5M524.5 1760.6h16.0M540.5 1777.1h13.2M540.5 1793.6h13.2M540.5 1818.4h13.2M540.5 1834.9h13.2M540.5 1843.1h13.2M554.6 1760.6h10.4M554.6 1810.1h10.4M554.6 1859.6h10.4M565.0 1760.6h13.2M565.0 1826.6h13.2M565.0 1834.9h13.2M565.0 1859.6h13.2M585.7 1834.9h18.3M585.7 1867.9h18.3M597.9 1777.1h6.2M597.9 1801.9h6.2M597.9 1810.1h6.2M597.9 1834.9h6.2M597.9 1843.1h6.2M631.8 1768.9h14.3M631.8 1785.4h14.3M631.8 1851.4h14.3M651.2 1760.6h17.0M651.2 1818.4h17.0M651.2 1834.9h17.0M651.2 1867.9h17.0M678.9 1768.9h11.9M678.9 1785.4h11.9M678.9 1793.6h11.9M678.9 1810.1h11.9M704.0 1851.4h9.4M704.0 1867.9h9.4M715.8 1768.9h3.2M715.8 1777.1h3.2M715.8 1793.6h3.2M715.8 1810.1h3.2M715.8 1818.4h3.2M715.8 1826.6h3.2M715.8 1851.4h3.2M729.8 1834.9h4.3M734.1 1801.9h5.7M739.7 1760.6h3.8M739.7 1867.9h3.8M753.9 1793.6h4.1M753.9 1859.6h4.1M765.2 1768.9h2.3M765.2 1777.1h2.3M765.2 1785.4h2.3M765.2 1843.1h2.3M765.2 1867.9h2.3M806.6 1760.6h4.7M811.3 1826.6h10.4M811.3 1859.6h10.4M840.5 1777.1h7.9M840.5 1810.1h7.9M840.5 1851.4h7.9M859.0 1851.4h4.1M863.1 1834.9h9.4M863.1 1851.4h9.4M863.1 1867.9h9.4M878.2 1768.9h3.8M882.0 1801.9h12.2M882.0 1834.9h12.2M910.4 1760.6h8.5M910.4 1801.9h8.5M910.4 1843.1h8.5M910.4 1851.4h8.5M928.3 1760.6h3.8M938.6 1810.1h19.8M938.6 1826.6h19.8M938.6 1834.9h19.8M938.6 1867.9h19.8M965.9 1801.9h2.3M965.9 1834.9h2.3M968.2 1793.6h10.0M968.2 1867.9h10.0M999.8 1777.1h5.7M999.8 1785.4h5.7M999.8 1801.9h5.7M999.8 1810.1h5.7M1064.8 1785.4h8.5M1064.8 1801.9h8.5M1064.8 1843.1h8.5M1064.8 1851.4h8.5M1083.7 1818.4h14.1M1083.7 1843.1h14.1M1099.3 1768.9h25.8M1099.3 1810.1h25.8M1129.8 1768.9h2.3M1129.8 1834.9h2.3M1129.8 1851.4h2.3M1147.7 1793.6h12.2M1171.2 1785.4h3.8M1171.2 1851.4h3.8M1187.4 1760.6h4.5M1187.4 1768.9h4.5M1187.4 1810.1h4.5M1187.4 1826.6h4.5M1187.4 1843.1h4.5M1187.4 1867.9h4.5" stroke="#e6eef2" stroke-width="8.55" fill="none"/>
<path d="M330.5 1760.6h10.4M330.5 1834.9h10.4M410.6 1760.6h12.2M459.5 1843.1h14.1M500.0 1760.6h11.3M500.0 1793.6h11.3M500.0 1826.6h11.3M500.0 1859.6h11.3M524.5 1768.9h16.0M524.5 1818.4h16.0M524.5 1834.9h16.0M524.5 1867.9h16.0M540.5 1810.1h13.2M620.1 1834.9h11.7M620.1 1859.6h11.7M678.9 1834.9h11.9M715.8 1785.4h3.2M729.8 1760.6h4.3M729.8 1801.9h4.3M729.8 1826.6h4.3M811.3 1760.6h10.4M811.3 1785.4h10.4M811.3 1851.4h10.4M811.3 1867.9h10.4M863.1 1768.9h9.4M863.1 1801.9h9.4M878.2 1851.4h3.8M910.4 1768.9h8.5M910.4 1777.1h8.5M910.4 1785.4h8.5M910.4 1826.6h8.5M910.4 1834.9h8.5M910.4 1867.9h8.5M938.6 1760.6h19.8M965.9 1859.6h2.3M1083.7 1867.9h14.1M1187.4 1777.1h4.5M1187.4 1785.4h4.5M1187.4 1793.6h4.5" stroke="#cee1eb" stroke-width="8.55" fill="none"/>
<path d="M330.5 1777.1h10.4M459.5 1785.4h14.1M524.5 1785.4h16.0M565.0 1843.1h13.2M620.1 1760.6h11.7M620.1 1810.1h11.7M620.1 1851.4h11.7M729.8 1768.9h4.3M878.2 1760.6h3.8M878.2 1777.1h3.8M878.2 1801.9h3.8M878.2 1818.4h3.8M1064.8 1867.9h8.5M1083.7 1768.9h14.1M1083.7 1859.6h14.1" stroke="#b8d5e5" stroke-width="8.55" fill="none"/>
<path d="M330.5 1785.4h10.4M330.5 1793.6h10.4M330.5 1801.9h10.4M330.5 1826.6h10.4M330.5 1851.4h10.4M330.5 1859.6h10.4M330.5 1867.9h10.4M355.9 1793.6h11.3M391.7 1793.6h8.5M410.6 1810.1h12.2M434.1 1768.9h16.0M459.5 1777.1h14.1M459.5 1801.9h14.1M459.5 1810.1h14.1M459.5 1826.6h14.1M459.5 1834.9h14.1M459.5 1851.4h14.1M459.5 1859.6h14.1M500.0 1777.1h11.3M500.0 1785.4h11.3M500.0 1818.4h11.3M511.3 1760.6h4.7M517.0 1785.4h7.5M524.5 1793.6h16.0M524.5 1810.1h16.0M524.5 1826.6h16.0M524.5 1851.4h16.0M524.5 1859.6h16.0M540.5 1760.6h13.2M540.5 1768.9h13.2M540.5 1826.6h13.2M540.5 1867.9h13.2M554.6 1834.9h10.4M565.0 1768.9h13.2M565.0 1818.4h13.2M565.0 1867.9h13.2M620.1 1768.9h11.7M620.1 1777.1h11.7M620.1 1801.9h11.7M620.1 1818.4h11.7M620.1 1867.9h11.7M651.2 1768.9h17.0M651.2 1793.6h17.0M651.2 1843.1h17.0M678.9 1760.6h11.9M678.9 1777.1h11.9M715.8 1760.6h3.2M715.8 1801.9h3.2M715.8 1859.6h3.2M729.8 1777.1h4.3M729.8 1818.4h4.3M729.8 1843.1h4.3M729.8 1851.4h4.3M739.7 1859.6h3.8M753.9 1760.6h4.1M765.2 1760.6h2.3M782.1 1843.1h6.6M811.3 1768.9h10.4M811.3 1793.6h10.4M811.3 1801.9h10.4M811.3 1810.1h10.4M811.3 1834.9h10.4M840.5 1834.9h7.9M863.1 1777.1h9.4M863.1 1785.4h9.4M863.1 1818.4h9.4M910.4 1793.6h8.5M910.4 1859.6h8.5M928.3 1768.9h3.8M928.3 1859.6h3.8M928.3 1867.9h3.8M938.6 1785.4h19.8M938.6 1801.9h19.8M938.6 1818.4h19.8M965.9 1810.1h2.3M968.2 1826.6h10.0M999.8 1760.6h5.7M999.8 1851.4h5.7M999.8 1859.6h5.7M1064.8 1777.1h8.5M1064.8 1810.1h8.5M1083.7 1777.1h14.1M1083.7 1826.6h14.1M1147.7 1851.4h12.2M1171.2 1843.1h3.8" stroke="#dae7ee" stroke-width="8.55" fill="none"/>
<path d="M330.5 1810.1h10.4M355.9 1851.4h11.3M459.5 1760.6h14.1M500.0 1801.9h11.3M500.0 1810.1h11.3M500.0 1851.4h11.3M524.5 1843.1h16.0M620.1 1785.4h11.7M620.1 1843.1h11.7M678.9 1843.1h11.9M678.9 1859.6h11.9M715.8 1843.1h3.2M729.8 1793.6h4.3M729.8 1859.6h4.3M811.3 1777.1h10.4M811.3 1843.1h10.4M878.2 1785.4h3.8M878.2 1859.6h3.8M910.4 1810.1h8.5M938.6 1859.6h19.8M1064.8 1760.6h8.5M1064.8 1818.4h8.5M1064.8 1826.6h8.5M1064.8 1859.6h8.5M1083.7 1760.6h14.1M1083.7 1785.4h14.1M1083.7 1801.9h14.1M1083.7 1810.1h14.1M1083.7 1834.9h14.1M1187.4 1851.4h4.5" stroke="#c3dbe8" stroke-width="8.55" fill="none"/>
<path d="M400.2 1785.4h10.4M473.7 1760.6h7.5M1050.7 1768.9h4.7M1050.7 1777.1h4.7M1050.7 1793.6h4.7M1050.7 1818.4h4.7M1050.7 1851.4h4.7M1197.2 1851.4h2.3M1197.2 1859.6h2.3" stroke="#e9a58e" stroke-width="8.55" fill="none"/>
<path d="M500.0 1834.9h11.3M524.5 1777.1h16.0M620.1 1793.6h11.7M620.1 1826.6h11.7M715.8 1834.9h3.2M729.8 1810.1h4.3M729.8 1867.9h4.3" stroke="#aecfe3" stroke-width="8.55" fill="none"/>
<path d="M578.2 1867.9h7.5M734.1 1793.6h5.7M824.9 1834.9h10.9M995.1 1826.6h4.7M1034.7 1793.6h4.3M1050.7 1859.6h4.7M1099.3 1867.9h25.8M1197.2 1760.6h2.3" stroke="#ebaf9b" stroke-width="8.55" fill="none"/>
<path d="M729.8 1785.4h4.3M878.2 1834.9h3.8M878.2 1843.1h3.8M878.2 1867.9h3.8" stroke="#90bfdb" stroke-width="8.55" fill="none"/>
<path d="M878.2 1793.6h3.8M878.2 1826.6h3.8" stroke="#a3cae0" stroke-width="8.55" fill="none"/>
<path d="M878.2 1810.1h3.8" stroke="#86bad8" stroke-width="8.55" fill="none"/>
<path d="M1050.7 1801.9h4.7" stroke="#e5886a" stroke-width="8.55" fill="none"/>
<path d="M296.7 1039.8h219.2M296.7 1042.4h219.2M296.7 1063.2h219.2M296.7 1086.6h219.2M296.7 1087.9h219.2M296.7 1090.5h219.2M296.7 1099.6h219.2M296.7 1107.4h219.2M296.7 1113.9h219.2M296.7 1121.7h219.2M296.7 1125.6h219.2M296.7 1130.8h219.2M296.7 1137.3h219.2M296.7 1138.6h219.2M296.7 1146.4h219.2M296.7 1150.3h219.2M296.7 1158.1h219.2M296.7 1165.9h219.2M296.7 1167.2h219.2M296.7 1169.8h219.2M296.7 1171.1h219.2M296.7 1189.3h219.2M296.7 1190.6h219.2M296.7 1191.9h219.2M296.7 1195.8h219.2M296.7 1211.4h219.2M296.7 1219.2h219.2M296.7 1220.5h219.2M296.7 1233.5h219.2M296.7 1237.4h219.2M296.7 1246.5h219.2M296.7 1255.6h219.2M296.7 1272.5h219.2M296.7 1276.4h219.2M296.7 1293.3h219.2M296.7 1294.6h219.2M296.7 1307.6h219.2M296.7 1311.5h219.2M296.7 1320.6h219.2M296.7 1327.1h219.2M296.7 1336.2h219.2M296.7 1364.8h219.2M296.7 1372.6h219.2M296.7 1383.0h219.2M296.7 1384.3h219.2M296.7 1385.6h219.2M296.7 1398.6h219.2M296.7 1414.2h219.2M296.7 1444.1h219.2M296.7 1470.1h219.2M296.7 1480.5h219.2M296.7 1490.9h219.2M296.7 1503.9h219.2M296.7 1506.5h219.2M296.7 1527.3h219.2M296.7 1558.5h219.2M296.7 1597.5h219.2M296.7 1611.8h219.2M296.7 1626.1h219.2M296.7 1627.4h219.2M296.7 1637.8h219.2M296.7 1640.4h219.2M296.7 1644.3h219.2M296.7 1656.0h219.2M296.7 1669.0h219.2M296.7 1685.9h219.2M296.7 1695.0h219.2M296.7 1696.3h219.2M296.7 1701.5h219.2M296.7 1711.9h219.2M296.7 1718.4h219.2M296.7 1747.0h219.2M296.7 1750.9h219.2M296.7 1756.1h219.2M296.7 1774.3h219.2M296.7 1789.9h219.2M296.7 1801.6h219.2M296.7 1808.1h219.2M296.7 1821.1h219.2M296.7 1826.3h219.2M296.7 1827.6h219.2M296.7 1828.9h219.2M296.7 1862.7h219.2M296.7 1871.8h219.2M296.7 1879.6h219.2M296.7 1892.6h219.2" stroke="#f6f6f6" stroke-width="1.35" opacity="0.15" fill="none"/>
<path d="M296.7 1036.0h219.2M296.7 1037.2h219.2M296.7 1065.8h219.2M296.7 1094.4h219.2M296.7 1100.9h219.2M296.7 1108.7h219.2M296.7 1110.0h219.2M296.7 1116.5h219.2M296.7 1117.8h219.2M296.7 1120.4h219.2M296.7 1124.3h219.2M296.7 1129.5h219.2M296.7 1141.2h219.2M296.7 1159.4h219.2M296.7 1164.6h219.2M296.7 1178.9h219.2M296.7 1193.2h219.2M296.7 1204.9h219.2M296.7 1217.9h219.2M296.7 1228.3h219.2M296.7 1234.8h219.2M296.7 1240.0h219.2M296.7 1243.9h219.2M296.7 1247.8h219.2M296.7 1260.8h219.2M296.7 1271.2h219.2M296.7 1277.7h219.2M296.7 1284.2h219.2M296.7 1295.9h219.2M296.7 1302.4h219.2M296.7 1306.3h219.2M296.7 1308.9h219.2M296.7 1333.6h219.2M296.7 1340.1h219.2M296.7 1353.1h219.2M296.7 1358.3h219.2M296.7 1373.9h219.2M296.7 1381.7h219.2M296.7 1388.2h219.2M296.7 1402.5h219.2M296.7 1403.8h219.2M296.7 1415.5h219.2M296.7 1418.1h219.2M296.7 1427.2h219.2M296.7 1432.4h219.2M296.7 1438.9h219.2M296.7 1448.0h219.2M296.7 1476.6h219.2M296.7 1479.2h219.2M296.7 1481.8h219.2M296.7 1484.4h219.2M296.7 1488.3h219.2M296.7 1489.6h219.2M296.7 1505.2h219.2M296.7 1509.1h219.2M296.7 1511.7h219.2M296.7 1514.3h219.2M296.7 1531.2h219.2M296.7 1535.1h219.2M296.7 1553.3h219.2M296.7 1555.9h219.2M296.7 1563.7h219.2M296.7 1566.3h219.2M296.7 1568.9h219.2M296.7 1571.5h219.2M296.7 1574.1h219.2M296.7 1583.2h219.2M296.7 1585.8h219.2M296.7 1602.7h219.2M296.7 1605.3h219.2M296.7 1606.6h219.2M296.7 1643.0h219.2M296.7 1648.2h219.2M296.7 1659.9h219.2M296.7 1663.8h219.2M296.7 1671.6h219.2M296.7 1700.2h219.2M296.7 1702.8h219.2M296.7 1715.8h219.2M296.7 1723.6h219.2M296.7 1731.4h219.2M296.7 1735.3h219.2M296.7 1752.2h219.2M296.7 1763.9h219.2M296.7 1770.4h219.2M296.7 1775.6h219.2M296.7 1779.5h219.2M296.7 1786.0h219.2M296.7 1796.4h219.2M296.7 1797.7h219.2M296.7 1799.0h219.2M296.7 1813.3h219.2M296.7 1814.6h219.2M296.7 1815.9h219.2M296.7 1831.5h219.2M296.7 1838.0h219.2M296.7 1839.3h219.2M296.7 1851.0h219.2M296.7 1856.2h219.2M296.7 1880.9h219.2M296.7 1884.8h219.2M296.7 1888.7h219.2" stroke="#f6f6f6" stroke-width="1.35" opacity="0.27" fill="none"/>
<path d="M296.7 1038.5h219.2M296.7 1050.2h219.2M296.7 1058.0h219.2M296.7 1064.5h219.2M296.7 1069.7h219.2M296.7 1073.6h219.2M296.7 1091.8h219.2M296.7 1133.4h219.2M296.7 1142.5h219.2M296.7 1156.8h219.2M296.7 1168.5h219.2M296.7 1202.3h219.2M296.7 1207.5h219.2M296.7 1214.0h219.2M296.7 1215.3h219.2M296.7 1224.4h219.2M296.7 1242.6h219.2M296.7 1264.7h219.2M296.7 1301.1h219.2M296.7 1305.0h219.2M296.7 1316.7h219.2M296.7 1319.3h219.2M296.7 1323.2h219.2M296.7 1360.9h219.2M296.7 1379.1h219.2M296.7 1380.4h219.2M296.7 1406.4h219.2M296.7 1410.3h219.2M296.7 1419.4h219.2M296.7 1437.6h219.2M296.7 1440.2h219.2M296.7 1445.4h219.2M296.7 1451.9h219.2M296.7 1458.4h219.2M296.7 1464.9h219.2M296.7 1477.9h219.2M296.7 1485.7h219.2M296.7 1497.4h219.2M296.7 1498.7h219.2M296.7 1501.3h219.2M296.7 1507.8h219.2M296.7 1513.0h219.2M296.7 1539.0h219.2M296.7 1541.6h219.2M296.7 1544.2h219.2M296.7 1548.1h219.2M296.7 1550.7h219.2M296.7 1589.7h219.2M296.7 1593.6h219.2M296.7 1594.9h219.2M296.7 1598.8h219.2M296.7 1623.5h219.2M296.7 1624.8h219.2M296.7 1628.7h219.2M296.7 1636.5h219.2M296.7 1652.1h219.2M296.7 1661.2h219.2M296.7 1667.7h219.2M296.7 1676.8h219.2M296.7 1684.6h219.2M296.7 1687.2h219.2M296.7 1691.1h219.2M296.7 1704.1h219.2M296.7 1708.0h219.2M296.7 1710.6h219.2M296.7 1714.5h219.2M296.7 1721.0h219.2M296.7 1724.9h219.2M296.7 1743.1h219.2M296.7 1744.4h219.2M296.7 1745.7h219.2M296.7 1754.8h219.2M296.7 1766.5h219.2M296.7 1791.2h219.2M296.7 1823.7h219.2M296.7 1843.2h219.2M296.7 1854.9h219.2M296.7 1864.0h219.2M296.7 1865.3h219.2" stroke="#f6f6f6" stroke-width="1.35" opacity="0.40" fill="none"/>
<path d="M296.7 1056.7h219.2M296.7 1061.9h219.2M296.7 1076.2h219.2M296.7 1078.8h219.2M296.7 1084.0h219.2M296.7 1093.1h219.2M296.7 1102.2h219.2M296.7 1104.8h219.2M296.7 1111.3h219.2M296.7 1112.6h219.2M296.7 1126.9h219.2M296.7 1136.0h219.2M296.7 1145.1h219.2M296.7 1162.0h219.2M296.7 1186.7h219.2M296.7 1194.5h219.2M296.7 1198.4h219.2M296.7 1206.2h219.2M296.7 1223.1h219.2M296.7 1238.7h219.2M296.7 1262.1h219.2M296.7 1266.0h219.2M296.7 1273.8h219.2M296.7 1329.7h219.2M296.7 1334.9h219.2M296.7 1344.0h219.2M296.7 1346.6h219.2M296.7 1355.7h219.2M296.7 1357.0h219.2M296.7 1367.4h219.2M296.7 1371.3h219.2M296.7 1377.8h219.2M296.7 1401.2h219.2M296.7 1407.7h219.2M296.7 1420.7h219.2M296.7 1422.0h219.2M296.7 1436.3h219.2M296.7 1441.5h219.2M296.7 1449.3h219.2M296.7 1454.5h219.2M296.7 1466.2h219.2M296.7 1471.4h219.2M296.7 1475.3h219.2M296.7 1483.1h219.2M296.7 1487.0h219.2M296.7 1494.8h219.2M296.7 1496.1h219.2M296.7 1557.2h219.2M296.7 1561.1h219.2M296.7 1565.0h219.2M296.7 1567.6h219.2M296.7 1584.5h219.2M296.7 1610.5h219.2M296.7 1615.7h219.2M296.7 1622.2h219.2M296.7 1650.8h219.2M296.7 1658.6h219.2M296.7 1662.5h219.2M296.7 1665.1h219.2M296.7 1678.1h219.2M296.7 1693.7h219.2M296.7 1697.6h219.2M296.7 1706.7h219.2M296.7 1722.3h219.2M296.7 1736.6h219.2M296.7 1739.2h219.2M296.7 1760.0h219.2M296.7 1771.7h219.2M296.7 1825.0h219.2M296.7 1836.7h219.2M296.7 1852.3h219.2M296.7 1867.9h219.2M296.7 1869.2h219.2M296.7 1873.1h219.2M296.7 1875.7h219.2M296.7 1882.2h219.2" stroke="#f6f6f6" stroke-width="1.35" opacity="0.52" fill="none"/>
<path d="M296.7 1033.4h219.2M296.7 1041.1h219.2M296.7 1045.0h219.2M296.7 1067.1h219.2M296.7 1068.4h219.2M296.7 1074.9h219.2M296.7 1103.5h219.2M296.7 1106.1h219.2M296.7 1115.2h219.2M296.7 1132.1h219.2M296.7 1151.6h219.2M296.7 1152.9h219.2M296.7 1177.6h219.2M296.7 1184.1h219.2M296.7 1188.0h219.2M296.7 1229.6h219.2M296.7 1232.2h219.2M296.7 1241.3h219.2M296.7 1249.1h219.2M296.7 1250.4h219.2M296.7 1263.4h219.2M296.7 1288.1h219.2M296.7 1341.4h219.2M296.7 1345.3h219.2M296.7 1349.2h219.2M296.7 1351.8h219.2M296.7 1370.0h219.2M296.7 1375.2h219.2M296.7 1399.9h219.2M296.7 1428.5h219.2M296.7 1453.2h219.2M296.7 1457.1h219.2M296.7 1459.7h219.2M296.7 1463.6h219.2M296.7 1467.5h219.2M296.7 1510.4h219.2M296.7 1515.6h219.2M296.7 1516.9h219.2M296.7 1519.5h219.2M296.7 1520.8h219.2M296.7 1554.6h219.2M296.7 1575.4h219.2M296.7 1576.7h219.2M296.7 1596.2h219.2M296.7 1609.2h219.2M296.7 1618.3h219.2M296.7 1631.3h219.2M296.7 1633.9h219.2M296.7 1646.9h219.2M296.7 1672.9h219.2M296.7 1698.9h219.2M296.7 1717.1h219.2M296.7 1719.7h219.2M296.7 1732.7h219.2M296.7 1741.8h219.2M296.7 1748.3h219.2M296.7 1757.4h219.2M296.7 1765.2h219.2M296.7 1769.1h219.2M296.7 1778.2h219.2M296.7 1780.8h219.2M296.7 1783.4h219.2M296.7 1784.7h219.2M296.7 1788.6h219.2M296.7 1795.1h219.2M296.7 1802.9h219.2M296.7 1804.2h219.2M296.7 1806.8h219.2M296.7 1819.8h219.2M296.7 1822.4h219.2M296.7 1830.2h219.2M296.7 1841.9h219.2M296.7 1853.6h219.2M296.7 1857.5h219.2M296.7 1870.5h219.2M296.7 1877.0h219.2M296.7 1883.5h219.2M296.7 1887.4h219.2" stroke="#f6f6f6" stroke-width="1.35" opacity="0.66" fill="none"/>
<path d="M515.9 1036.0h252.2M515.9 1047.6h252.2M515.9 1063.2h252.2M515.9 1064.5h252.2M515.9 1067.1h252.2M515.9 1097.0h252.2M515.9 1099.6h252.2M515.9 1104.8h252.2M515.9 1108.7h252.2M515.9 1113.9h252.2M515.9 1138.6h252.2M515.9 1139.9h252.2M515.9 1146.4h252.2M515.9 1149.0h252.2M515.9 1150.3h252.2M515.9 1169.8h252.2M515.9 1182.8h252.2M515.9 1185.4h252.2M515.9 1188.0h252.2M515.9 1194.5h252.2M515.9 1207.5h252.2M515.9 1214.0h252.2M515.9 1220.5h252.2M515.9 1227.0h252.2M515.9 1233.5h252.2M515.9 1260.8h252.2M515.9 1266.0h252.2M515.9 1268.6h252.2M515.9 1271.2h252.2M515.9 1280.3h252.2M515.9 1286.8h252.2M515.9 1294.6h252.2M515.9 1295.9h252.2M515.9 1310.2h252.2M515.9 1316.7h252.2M515.9 1320.6h252.2M515.9 1329.7h252.2M515.9 1342.7h252.2M515.9 1357.0h252.2M515.9 1370.0h252.2M515.9 1402.5h252.2M515.9 1405.1h252.2M515.9 1406.4h252.2M515.9 1425.9h252.2M515.9 1427.2h252.2M515.9 1428.5h252.2M515.9 1431.1h252.2M515.9 1461.0h252.2M515.9 1467.5h252.2M515.9 1472.7h252.2M515.9 1476.6h252.2M515.9 1487.0h252.2M515.9 1501.3h252.2M515.9 1510.4h252.2M515.9 1513.0h252.2M515.9 1514.3h252.2M515.9 1529.9h252.2M515.9 1554.6h252.2M515.9 1566.3h252.2M515.9 1568.9h252.2M515.9 1580.6h252.2M515.9 1611.8h252.2M515.9 1619.6h252.2M515.9 1630.0h252.2M515.9 1641.7h252.2M515.9 1643.0h252.2M515.9 1649.5h252.2M515.9 1666.4h252.2M515.9 1671.6h252.2M515.9 1675.5h252.2M515.9 1698.9h252.2M515.9 1714.5h252.2M515.9 1752.2h252.2M515.9 1769.1h252.2M515.9 1771.7h252.2M515.9 1789.9h252.2M515.9 1813.3h252.2M515.9 1815.9h252.2M515.9 1825.0h252.2M515.9 1826.3h252.2M515.9 1839.3h252.2M515.9 1847.1h252.2M515.9 1873.1h252.2M515.9 1879.6h252.2M515.9 1884.8h252.2M515.9 1888.7h252.2M515.9 1891.3h252.2" stroke="#f6f6f6" stroke-width="1.35" opacity="0.15" fill="none"/>
<path d="M515.9 1052.8h252.2M515.9 1059.3h252.2M515.9 1068.4h252.2M515.9 1069.7h252.2M515.9 1073.6h252.2M515.9 1081.4h252.2M515.9 1086.6h252.2M515.9 1093.1h252.2M515.9 1117.8h252.2M515.9 1125.6h252.2M515.9 1134.7h252.2M515.9 1162.0h252.2M515.9 1171.1h252.2M515.9 1176.3h252.2M515.9 1178.9h252.2M515.9 1199.7h252.2M515.9 1201.0h252.2M515.9 1203.6h252.2M515.9 1215.3h252.2M515.9 1217.9h252.2M515.9 1219.2h252.2M515.9 1223.1h252.2M515.9 1234.8h252.2M515.9 1238.7h252.2M515.9 1249.1h252.2M515.9 1250.4h252.2M515.9 1259.5h252.2M515.9 1262.1h252.2M515.9 1264.7h252.2M515.9 1275.1h252.2M515.9 1318.0h252.2M515.9 1319.3h252.2M515.9 1323.2h252.2M515.9 1328.4h252.2M515.9 1334.9h252.2M515.9 1351.8h252.2M515.9 1355.7h252.2M515.9 1362.2h252.2M515.9 1363.5h252.2M515.9 1368.7h252.2M515.9 1379.1h252.2M515.9 1418.1h252.2M515.9 1422.0h252.2M515.9 1423.3h252.2M515.9 1441.5h252.2M515.9 1444.1h252.2M515.9 1468.8h252.2M515.9 1480.5h252.2M515.9 1483.1h252.2M515.9 1494.8h252.2M515.9 1498.7h252.2M515.9 1502.6h252.2M515.9 1511.7h252.2M515.9 1519.5h252.2M515.9 1526.0h252.2M515.9 1536.4h252.2M515.9 1557.2h252.2M515.9 1558.5h252.2M515.9 1571.5h252.2M515.9 1578.0h252.2M515.9 1594.9h252.2M515.9 1601.4h252.2M515.9 1602.7h252.2M515.9 1604.0h252.2M515.9 1618.3h252.2M515.9 1620.9h252.2M515.9 1623.5h252.2M515.9 1624.8h252.2M515.9 1654.7h252.2M515.9 1657.3h252.2M515.9 1661.2h252.2M515.9 1683.3h252.2M515.9 1687.2h252.2M515.9 1701.5h252.2M515.9 1709.3h252.2M515.9 1710.6h252.2M515.9 1711.9h252.2M515.9 1721.0h252.2M515.9 1728.8h252.2M515.9 1730.1h252.2M515.9 1747.0h252.2M515.9 1749.6h252.2M515.9 1754.8h252.2M515.9 1765.2h252.2M515.9 1766.5h252.2M515.9 1780.8h252.2M515.9 1791.2h252.2M515.9 1810.7h252.2M515.9 1818.5h252.2M515.9 1822.4h252.2M515.9 1828.9h252.2M515.9 1836.7h252.2M515.9 1862.7h252.2" stroke="#f6f6f6" stroke-width="1.35" opacity="0.27" fill="none"/>
<path d="M515.9 1034.7h252.2M515.9 1038.5h252.2M515.9 1045.0h252.2M515.9 1051.5h252.2M515.9 1074.9h252.2M515.9 1095.7h252.2M515.9 1106.1h252.2M515.9 1116.5h252.2M515.9 1130.8h252.2M515.9 1137.3h252.2M515.9 1143.8h252.2M515.9 1152.9h252.2M515.9 1155.5h252.2M515.9 1158.1h252.2M515.9 1160.7h252.2M515.9 1165.9h252.2M515.9 1167.2h252.2M515.9 1172.4h252.2M515.9 1189.3h252.2M515.9 1206.2h252.2M515.9 1225.7h252.2M515.9 1236.1h252.2M515.9 1247.8h252.2M515.9 1263.4h252.2M515.9 1269.9h252.2M515.9 1272.5h252.2M515.9 1292.0h252.2M515.9 1303.7h252.2M515.9 1375.2h252.2M515.9 1396.0h252.2M515.9 1411.6h252.2M515.9 1414.2h252.2M515.9 1415.5h252.2M515.9 1424.6h252.2M515.9 1438.9h252.2M515.9 1451.9h252.2M515.9 1466.2h252.2M515.9 1471.4h252.2M515.9 1479.2h252.2M515.9 1484.4h252.2M515.9 1488.3h252.2M515.9 1515.6h252.2M515.9 1540.3h252.2M515.9 1550.7h252.2M515.9 1563.7h252.2M515.9 1584.5h252.2M515.9 1591.0h252.2M515.9 1592.3h252.2M515.9 1597.5h252.2M515.9 1606.6h252.2M515.9 1626.1h252.2M515.9 1637.8h252.2M515.9 1639.1h252.2M515.9 1648.2h252.2M515.9 1659.9h252.2M515.9 1669.0h252.2M515.9 1674.2h252.2M515.9 1676.8h252.2M515.9 1696.3h252.2M515.9 1697.6h252.2M515.9 1700.2h252.2M515.9 1723.6h252.2M515.9 1740.5h252.2M515.9 1758.7h252.2M515.9 1762.6h252.2M515.9 1776.9h252.2M515.9 1778.2h252.2M515.9 1796.4h252.2M515.9 1821.1h252.2M515.9 1827.6h252.2M515.9 1832.8h252.2M515.9 1840.6h252.2M515.9 1843.2h252.2M515.9 1854.9h252.2M515.9 1877.0h252.2M515.9 1886.1h252.2" stroke="#f6f6f6" stroke-width="1.35" opacity="0.40" fill="none"/>
<path d="M515.9 1033.4h252.2M515.9 1039.8h252.2M515.9 1054.1h252.2M515.9 1072.3h252.2M515.9 1087.9h252.2M515.9 1090.5h252.2M515.9 1111.3h252.2M515.9 1119.1h252.2M515.9 1145.1h252.2M515.9 1151.6h252.2M515.9 1164.6h252.2M515.9 1168.5h252.2M515.9 1181.5h252.2M515.9 1210.1h252.2M515.9 1212.7h252.2M515.9 1216.6h252.2M515.9 1221.8h252.2M515.9 1224.4h252.2M515.9 1237.4h252.2M515.9 1285.5h252.2M515.9 1289.4h252.2M515.9 1293.3h252.2M515.9 1298.5h252.2M515.9 1315.4h252.2M515.9 1324.5h252.2M515.9 1325.8h252.2M515.9 1341.4h252.2M515.9 1344.0h252.2M515.9 1353.1h252.2M515.9 1371.3h252.2M515.9 1381.7h252.2M515.9 1389.5h252.2M515.9 1390.8h252.2M515.9 1398.6h252.2M515.9 1440.2h252.2M515.9 1454.5h252.2M515.9 1462.3h252.2M515.9 1464.9h252.2M515.9 1470.1h252.2M515.9 1489.6h252.2M515.9 1507.8h252.2M515.9 1545.5h252.2M515.9 1548.1h252.2M515.9 1553.3h252.2M515.9 1559.8h252.2M515.9 1561.1h252.2M515.9 1565.0h252.2M515.9 1572.8h252.2M515.9 1574.1h252.2M515.9 1605.3h252.2M515.9 1609.2h252.2M515.9 1615.7h252.2M515.9 1617.0h252.2M515.9 1628.7h252.2M515.9 1636.5h252.2M515.9 1656.0h252.2M515.9 1672.9h252.2M515.9 1685.9h252.2M515.9 1692.4h252.2M515.9 1704.1h252.2M515.9 1706.7h252.2M515.9 1708.0h252.2M515.9 1732.7h252.2M515.9 1734.0h252.2M515.9 1735.3h252.2M515.9 1743.1h252.2M515.9 1763.9h252.2M515.9 1782.1h252.2M515.9 1800.3h252.2M515.9 1802.9h252.2M515.9 1805.5h252.2M515.9 1814.6h252.2M515.9 1819.8h252.2M515.9 1849.7h252.2M515.9 1851.0h252.2M515.9 1853.6h252.2M515.9 1856.2h252.2M515.9 1869.2h252.2M515.9 1874.4h252.2M515.9 1878.3h252.2M515.9 1882.2h252.2" stroke="#f6f6f6" stroke-width="1.35" opacity="0.52" fill="none"/>
<path d="M515.9 1043.7h252.2M515.9 1048.9h252.2M515.9 1065.8h252.2M515.9 1098.3h252.2M515.9 1100.9h252.2M515.9 1102.2h252.2M515.9 1107.4h252.2M515.9 1110.0h252.2M515.9 1115.2h252.2M515.9 1121.7h252.2M515.9 1123.0h252.2M515.9 1128.2h252.2M515.9 1129.5h252.2M515.9 1132.1h252.2M515.9 1136.0h252.2M515.9 1142.5h252.2M515.9 1163.3h252.2M515.9 1175.0h252.2M515.9 1190.6h252.2M515.9 1195.8h252.2M515.9 1208.8h252.2M515.9 1228.3h252.2M515.9 1246.5h252.2M515.9 1251.7h252.2M515.9 1255.6h252.2M515.9 1273.8h252.2M515.9 1284.2h252.2M515.9 1297.2h252.2M515.9 1301.1h252.2M515.9 1312.8h252.2M515.9 1331.0h252.2M515.9 1350.5h252.2M515.9 1373.9h252.2M515.9 1394.7h252.2M515.9 1403.8h252.2M515.9 1432.4h252.2M515.9 1435.0h252.2M515.9 1436.3h252.2M515.9 1437.6h252.2M515.9 1442.8h252.2M515.9 1445.4h252.2M515.9 1449.3h252.2M515.9 1455.8h252.2M515.9 1457.1h252.2M515.9 1458.4h252.2M515.9 1477.9h252.2M515.9 1505.2h252.2M515.9 1509.1h252.2M515.9 1522.1h252.2M515.9 1528.6h252.2M515.9 1533.8h252.2M515.9 1549.4h252.2M515.9 1576.7h252.2M515.9 1581.9h252.2M515.9 1585.8h252.2M515.9 1587.1h252.2M515.9 1589.7h252.2M515.9 1593.6h252.2M515.9 1633.9h252.2M515.9 1635.2h252.2M515.9 1640.4h252.2M515.9 1645.6h252.2M515.9 1646.9h252.2M515.9 1652.1h252.2M515.9 1680.7h252.2M515.9 1682.0h252.2M515.9 1684.6h252.2M515.9 1689.8h252.2M515.9 1726.2h252.2M515.9 1727.5h252.2M515.9 1739.2h252.2M515.9 1750.9h252.2M515.9 1756.1h252.2M515.9 1760.0h252.2M515.9 1795.1h252.2M515.9 1797.7h252.2M515.9 1799.0h252.2M515.9 1801.6h252.2M515.9 1812.0h252.2M515.9 1844.5h252.2M515.9 1845.8h252.2M515.9 1857.5h252.2M515.9 1865.3h252.2M515.9 1892.6h252.2" stroke="#f6f6f6" stroke-width="1.35" opacity="0.66" fill="none"/>
<path d="M768.1 1039.8h220.9M768.1 1041.1h220.9M768.1 1059.3h220.9M768.1 1090.5h220.9M768.1 1095.7h220.9M768.1 1110.0h220.9M768.1 1125.6h220.9M768.1 1134.7h220.9M768.1 1137.3h220.9M768.1 1139.9h220.9M768.1 1147.7h220.9M768.1 1152.9h220.9M768.1 1154.2h220.9M768.1 1171.1h220.9M768.1 1173.7h220.9M768.1 1193.2h220.9M768.1 1195.8h220.9M768.1 1199.7h220.9M768.1 1202.3h220.9M768.1 1211.4h220.9M768.1 1229.6h220.9M768.1 1237.4h220.9M768.1 1249.1h220.9M768.1 1259.5h220.9M768.1 1272.5h220.9M768.1 1284.2h220.9M768.1 1292.0h220.9M768.1 1297.2h220.9M768.1 1299.8h220.9M768.1 1305.0h220.9M768.1 1306.3h220.9M768.1 1310.2h220.9M768.1 1333.6h220.9M768.1 1349.2h220.9M768.1 1351.8h220.9M768.1 1354.4h220.9M768.1 1357.0h220.9M768.1 1366.1h220.9M768.1 1376.5h220.9M768.1 1390.8h220.9M768.1 1392.1h220.9M768.1 1406.4h220.9M768.1 1411.6h220.9M768.1 1414.2h220.9M768.1 1437.6h220.9M768.1 1440.2h220.9M768.1 1441.5h220.9M768.1 1449.3h220.9M768.1 1451.9h220.9M768.1 1461.0h220.9M768.1 1474.0h220.9M768.1 1477.9h220.9M768.1 1481.8h220.9M768.1 1500.0h220.9M768.1 1507.8h220.9M768.1 1544.2h220.9M768.1 1565.0h220.9M768.1 1583.2h220.9M768.1 1589.7h220.9M768.1 1596.2h220.9M768.1 1610.5h220.9M768.1 1614.4h220.9M768.1 1620.9h220.9M768.1 1630.0h220.9M768.1 1637.8h220.9M768.1 1639.1h220.9M768.1 1640.4h220.9M768.1 1641.7h220.9M768.1 1661.2h220.9M768.1 1662.5h220.9M768.1 1663.8h220.9M768.1 1666.4h220.9M768.1 1704.1h220.9M768.1 1711.9h220.9M768.1 1719.7h220.9M768.1 1743.1h220.9M768.1 1749.6h220.9M768.1 1757.4h220.9M768.1 1760.0h220.9M768.1 1770.4h220.9M768.1 1773.0h220.9M768.1 1801.6h220.9M768.1 1822.4h220.9M768.1 1832.8h220.9M768.1 1835.4h220.9M768.1 1836.7h220.9M768.1 1848.4h220.9M768.1 1862.7h220.9M768.1 1874.4h220.9M768.1 1875.7h220.9M768.1 1884.8h220.9" stroke="#f6f6f6" stroke-width="1.35" opacity="0.15" fill="none"/>
<path d="M768.1 1033.4h220.9M768.1 1073.6h220.9M768.1 1078.8h220.9M768.1 1080.1h220.9M768.1 1087.9h220.9M768.1 1089.2h220.9M768.1 1093.1h220.9M768.1 1119.1h220.9M768.1 1120.4h220.9M768.1 1124.3h220.9M768.1 1126.9h220.9M768.1 1128.2h220.9M768.1 1136.0h220.9M768.1 1141.2h220.9M768.1 1142.5h220.9M768.1 1168.5h220.9M768.1 1186.7h220.9M768.1 1190.6h220.9M768.1 1194.5h220.9M768.1 1203.6h220.9M768.1 1246.5h220.9M768.1 1269.9h220.9M768.1 1273.8h220.9M768.1 1279.0h220.9M768.1 1282.9h220.9M768.1 1288.1h220.9M768.1 1289.4h220.9M768.1 1308.9h220.9M768.1 1321.9h220.9M768.1 1328.4h220.9M768.1 1331.0h220.9M768.1 1346.6h220.9M768.1 1364.8h220.9M768.1 1370.0h220.9M768.1 1385.6h220.9M768.1 1386.9h220.9M768.1 1393.4h220.9M768.1 1410.3h220.9M768.1 1416.8h220.9M768.1 1423.3h220.9M768.1 1429.8h220.9M768.1 1444.1h220.9M768.1 1450.6h220.9M768.1 1455.8h220.9M768.1 1464.9h220.9M768.1 1467.5h220.9M768.1 1471.4h220.9M768.1 1506.5h220.9M768.1 1509.1h220.9M768.1 1514.3h220.9M768.1 1518.2h220.9M768.1 1520.8h220.9M768.1 1522.1h220.9M768.1 1533.8h220.9M768.1 1570.2h220.9M768.1 1574.1h220.9M768.1 1575.4h220.9M768.1 1578.0h220.9M768.1 1594.9h220.9M768.1 1597.5h220.9M768.1 1598.8h220.9M768.1 1613.1h220.9M768.1 1636.5h220.9M768.1 1653.4h220.9M768.1 1667.7h220.9M768.1 1672.9h220.9M768.1 1682.0h220.9M768.1 1683.3h220.9M768.1 1693.7h220.9M768.1 1696.3h220.9M768.1 1700.2h220.9M768.1 1702.8h220.9M768.1 1710.6h220.9M768.1 1717.1h220.9M768.1 1731.4h220.9M768.1 1735.3h220.9M768.1 1739.2h220.9M768.1 1740.5h220.9M768.1 1750.9h220.9M768.1 1758.7h220.9M768.1 1766.5h220.9M768.1 1775.6h220.9M768.1 1780.8h220.9M768.1 1787.3h220.9M768.1 1789.9h220.9M768.1 1791.2h220.9M768.1 1800.3h220.9M768.1 1808.1h220.9M768.1 1841.9h220.9M768.1 1873.1h220.9M768.1 1890.0h220.9" stroke="#f6f6f6" stroke-width="1.35" opacity="0.27" fill="none"/>
<path d="M768.1 1050.2h220.9M768.1 1051.5h220.9M768.1 1054.1h220.9M768.1 1055.4h220.9M768.1 1061.9h220.9M768.1 1085.3h220.9M768.1 1102.2h220.9M768.1 1113.9h220.9M768.1 1115.2h220.9M768.1 1117.8h220.9M768.1 1129.5h220.9M768.1 1130.8h220.9M768.1 1151.6h220.9M768.1 1162.0h220.9M768.1 1167.2h220.9M768.1 1172.4h220.9M768.1 1176.3h220.9M768.1 1181.5h220.9M768.1 1206.2h220.9M768.1 1223.1h220.9M768.1 1225.7h220.9M768.1 1228.3h220.9M768.1 1240.0h220.9M768.1 1264.7h220.9M768.1 1276.4h220.9M768.1 1281.6h220.9M768.1 1290.7h220.9M768.1 1303.7h220.9M768.1 1312.8h220.9M768.1 1316.7h220.9M768.1 1320.6h220.9M768.1 1323.2h220.9M768.1 1327.1h220.9M768.1 1362.2h220.9M768.1 1389.5h220.9M768.1 1396.0h220.9M768.1 1398.6h220.9M768.1 1422.0h220.9M768.1 1454.5h220.9M768.1 1463.6h220.9M768.1 1470.1h220.9M768.1 1476.6h220.9M768.1 1485.7h220.9M768.1 1489.6h220.9M768.1 1502.6h220.9M768.1 1511.7h220.9M768.1 1531.2h220.9M768.1 1535.1h220.9M768.1 1537.7h220.9M768.1 1540.3h220.9M768.1 1552.0h220.9M768.1 1554.6h220.9M768.1 1557.2h220.9M768.1 1563.7h220.9M768.1 1567.6h220.9M768.1 1601.4h220.9M768.1 1605.3h220.9M768.1 1619.6h220.9M768.1 1627.4h220.9M768.1 1645.6h220.9M768.1 1649.5h220.9M768.1 1650.8h220.9M768.1 1659.9h220.9M768.1 1679.4h220.9M768.1 1695.0h220.9M768.1 1708.0h220.9M768.1 1732.7h220.9M768.1 1736.6h220.9M768.1 1737.9h220.9M768.1 1745.7h220.9M768.1 1763.9h220.9M768.1 1776.9h220.9M768.1 1786.0h220.9M768.1 1797.7h220.9M768.1 1802.9h220.9M768.1 1805.5h220.9M768.1 1844.5h220.9M768.1 1845.8h220.9M768.1 1849.7h220.9M768.1 1857.5h220.9M768.1 1867.9h220.9" stroke="#f6f6f6" stroke-width="1.35" opacity="0.40" fill="none"/>
<path d="M768.1 1036.0h220.9M768.1 1042.4h220.9M768.1 1074.9h220.9M768.1 1097.0h220.9M768.1 1098.3h220.9M768.1 1104.8h220.9M768.1 1116.5h220.9M768.1 1138.6h220.9M768.1 1158.1h220.9M768.1 1159.4h220.9M768.1 1177.6h220.9M768.1 1178.9h220.9M768.1 1180.2h220.9M768.1 1191.9h220.9M768.1 1201.0h220.9M768.1 1208.8h220.9M768.1 1214.0h220.9M768.1 1221.8h220.9M768.1 1232.2h220.9M768.1 1234.8h220.9M768.1 1238.7h220.9M768.1 1245.2h220.9M768.1 1256.9h220.9M768.1 1286.8h220.9M768.1 1293.3h220.9M768.1 1307.6h220.9M768.1 1319.3h220.9M768.1 1324.5h220.9M768.1 1340.1h220.9M768.1 1355.7h220.9M768.1 1371.3h220.9M768.1 1373.9h220.9M768.1 1377.8h220.9M768.1 1380.4h220.9M768.1 1388.2h220.9M768.1 1405.1h220.9M768.1 1409.0h220.9M768.1 1412.9h220.9M768.1 1420.7h220.9M768.1 1427.2h220.9M768.1 1433.7h220.9M768.1 1436.3h220.9M768.1 1446.7h220.9M768.1 1448.0h220.9M768.1 1457.1h220.9M768.1 1462.3h220.9M768.1 1468.8h220.9M768.1 1472.7h220.9M768.1 1479.2h220.9M768.1 1484.4h220.9M768.1 1496.1h220.9M768.1 1501.3h220.9M768.1 1503.9h220.9M768.1 1515.6h220.9M768.1 1523.4h220.9M768.1 1539.0h220.9M768.1 1548.1h220.9M768.1 1559.8h220.9M768.1 1562.4h220.9M768.1 1568.9h220.9M768.1 1580.6h220.9M768.1 1585.8h220.9M768.1 1587.1h220.9M768.1 1602.7h220.9M768.1 1607.9h220.9M768.1 1611.8h220.9M768.1 1624.8h220.9M768.1 1626.1h220.9M768.1 1643.0h220.9M768.1 1669.0h220.9M768.1 1671.6h220.9M768.1 1674.2h220.9M768.1 1698.9h220.9M768.1 1705.4h220.9M768.1 1715.8h220.9M768.1 1723.6h220.9M768.1 1727.5h220.9M768.1 1730.1h220.9M768.1 1741.8h220.9M768.1 1748.3h220.9M768.1 1761.3h220.9M768.1 1778.2h220.9M768.1 1792.5h220.9M768.1 1799.0h220.9M768.1 1806.8h220.9M768.1 1810.7h220.9M768.1 1819.8h220.9M768.1 1878.3h220.9M768.1 1880.9h220.9M768.1 1882.2h220.9" stroke="#f6f6f6" stroke-width="1.35" opacity="0.52" fill="none"/>
<path d="M768.1 1047.6h220.9M768.1 1048.9h220.9M768.1 1065.8h220.9M768.1 1071.0h220.9M768.1 1077.5h220.9M768.1 1081.4h220.9M768.1 1094.4h220.9M768.1 1100.9h220.9M768.1 1103.5h220.9M768.1 1107.4h220.9M768.1 1108.7h220.9M768.1 1112.6h220.9M768.1 1146.4h220.9M768.1 1155.5h220.9M768.1 1169.8h220.9M768.1 1182.8h220.9M768.1 1204.9h220.9M768.1 1224.4h220.9M768.1 1230.9h220.9M768.1 1236.1h220.9M768.1 1242.6h220.9M768.1 1251.7h220.9M768.1 1258.2h220.9M768.1 1260.8h220.9M768.1 1262.1h220.9M768.1 1263.4h220.9M768.1 1266.0h220.9M768.1 1280.3h220.9M768.1 1298.5h220.9M768.1 1325.8h220.9M768.1 1341.4h220.9M768.1 1363.5h220.9M768.1 1399.9h220.9M768.1 1401.2h220.9M768.1 1403.8h220.9M768.1 1425.9h220.9M768.1 1428.5h220.9M768.1 1432.4h220.9M768.1 1438.9h220.9M768.1 1453.2h220.9M768.1 1492.2h220.9M768.1 1493.5h220.9M768.1 1498.7h220.9M768.1 1505.2h220.9M768.1 1516.9h220.9M768.1 1528.6h220.9M768.1 1541.6h220.9M768.1 1593.6h220.9M768.1 1622.2h220.9M768.1 1644.3h220.9M768.1 1657.3h220.9M768.1 1665.1h220.9M768.1 1680.7h220.9M768.1 1709.3h220.9M768.1 1713.2h220.9M768.1 1721.0h220.9M768.1 1722.3h220.9M768.1 1753.5h220.9M768.1 1754.8h220.9M768.1 1767.8h220.9M768.1 1782.1h220.9M768.1 1783.4h220.9M768.1 1812.0h220.9M768.1 1817.2h220.9M768.1 1825.0h220.9M768.1 1826.3h220.9M768.1 1834.1h220.9M768.1 1840.6h220.9M768.1 1851.0h220.9M768.1 1856.2h220.9M768.1 1865.3h220.9M768.1 1871.8h220.9" stroke="#f6f6f6" stroke-width="1.35" opacity="0.66" fill="none"/>
<path d="M989.0 1033.4h228.6M989.0 1048.9h228.6M989.0 1051.5h228.6M989.0 1060.6h228.6M989.0 1061.9h228.6M989.0 1069.7h228.6M989.0 1073.6h228.6M989.0 1098.3h228.6M989.0 1100.9h228.6M989.0 1102.2h228.6M989.0 1111.3h228.6M989.0 1116.5h228.6M989.0 1130.8h228.6M989.0 1132.1h228.6M989.0 1138.6h228.6M989.0 1147.7h228.6M989.0 1185.4h228.6M989.0 1191.9h228.6M989.0 1193.2h228.6M989.0 1210.1h228.6M989.0 1220.5h228.6M989.0 1255.6h228.6M989.0 1264.7h228.6M989.0 1269.9h228.6M989.0 1286.8h228.6M989.0 1310.2h228.6M989.0 1320.6h228.6M989.0 1336.2h228.6M989.0 1337.5h228.6M989.0 1344.0h228.6M989.0 1360.9h228.6M989.0 1362.2h228.6M989.0 1364.8h228.6M989.0 1366.1h228.6M989.0 1372.6h228.6M989.0 1380.4h228.6M989.0 1386.9h228.6M989.0 1435.0h228.6M989.0 1442.8h228.6M989.0 1462.3h228.6M989.0 1464.9h228.6M989.0 1479.2h228.6M989.0 1485.7h228.6M989.0 1503.9h228.6M989.0 1505.2h228.6M989.0 1511.7h228.6M989.0 1522.1h228.6M989.0 1529.9h228.6M989.0 1537.7h228.6M989.0 1545.5h228.6M989.0 1561.1h228.6M989.0 1570.2h228.6M989.0 1594.9h228.6M989.0 1598.8h228.6M989.0 1600.1h228.6M989.0 1609.2h228.6M989.0 1635.2h228.6M989.0 1641.7h228.6M989.0 1654.7h228.6M989.0 1670.3h228.6M989.0 1672.9h228.6M989.0 1675.5h228.6M989.0 1676.8h228.6M989.0 1683.3h228.6M989.0 1689.8h228.6M989.0 1692.4h228.6M989.0 1695.0h228.6M989.0 1696.3h228.6M989.0 1700.2h228.6M989.0 1705.4h228.6M989.0 1710.6h228.6M989.0 1722.3h228.6M989.0 1723.6h228.6M989.0 1731.4h228.6M989.0 1732.7h228.6M989.0 1737.9h228.6M989.0 1754.8h228.6M989.0 1762.6h228.6M989.0 1765.2h228.6M989.0 1793.8h228.6M989.0 1796.4h228.6M989.0 1797.7h228.6M989.0 1800.3h228.6M989.0 1804.2h228.6M989.0 1815.9h228.6M989.0 1822.4h228.6M989.0 1825.0h228.6M989.0 1830.2h228.6M989.0 1870.5h228.6M989.0 1874.4h228.6M989.0 1891.3h228.6" stroke="#f6f6f6" stroke-width="1.35" opacity="0.15" fill="none"/>
<path d="M989.0 1034.7h228.6M989.0 1042.4h228.6M989.0 1087.9h228.6M989.0 1094.4h228.6M989.0 1097.0h228.6M989.0 1104.8h228.6M989.0 1106.1h228.6M989.0 1112.6h228.6M989.0 1117.8h228.6M989.0 1146.4h228.6M989.0 1152.9h228.6M989.0 1154.2h228.6M989.0 1165.9h228.6M989.0 1176.3h228.6M989.0 1228.3h228.6M989.0 1237.4h228.6M989.0 1254.3h228.6M989.0 1266.0h228.6M989.0 1273.8h228.6M989.0 1290.7h228.6M989.0 1301.1h228.6M989.0 1306.3h228.6M989.0 1321.9h228.6M989.0 1328.4h228.6M989.0 1332.3h228.6M989.0 1346.6h228.6M989.0 1347.9h228.6M989.0 1383.0h228.6M989.0 1397.3h228.6M989.0 1398.6h228.6M989.0 1424.6h228.6M989.0 1437.6h228.6M989.0 1440.2h228.6M989.0 1441.5h228.6M989.0 1445.4h228.6M989.0 1457.1h228.6M989.0 1459.7h228.6M989.0 1468.8h228.6M989.0 1477.9h228.6M989.0 1487.0h228.6M989.0 1490.9h228.6M989.0 1493.5h228.6M989.0 1494.8h228.6M989.0 1496.1h228.6M989.0 1497.4h228.6M989.0 1513.0h228.6M989.0 1519.5h228.6M989.0 1523.4h228.6M989.0 1528.6h228.6M989.0 1572.8h228.6M989.0 1587.1h228.6M989.0 1610.5h228.6M989.0 1617.0h228.6M989.0 1624.8h228.6M989.0 1626.1h228.6M989.0 1628.7h228.6M989.0 1630.0h228.6M989.0 1644.3h228.6M989.0 1650.8h228.6M989.0 1659.9h228.6M989.0 1662.5h228.6M989.0 1671.6h228.6M989.0 1688.5h228.6M989.0 1698.9h228.6M989.0 1787.3h228.6M989.0 1801.6h228.6M989.0 1823.7h228.6M989.0 1834.1h228.6M989.0 1843.2h228.6M989.0 1860.1h228.6M989.0 1861.4h228.6M989.0 1875.7h228.6M989.0 1877.0h228.6M989.0 1879.6h228.6M989.0 1883.5h228.6" stroke="#f6f6f6" stroke-width="1.35" opacity="0.27" fill="none"/>
<path d="M989.0 1038.5h228.6M989.0 1059.3h228.6M989.0 1065.8h228.6M989.0 1071.0h228.6M989.0 1077.5h228.6M989.0 1078.8h228.6M989.0 1081.4h228.6M989.0 1086.6h228.6M989.0 1113.9h228.6M989.0 1136.0h228.6M989.0 1145.1h228.6M989.0 1158.1h228.6M989.0 1160.7h228.6M989.0 1163.3h228.6M989.0 1186.7h228.6M989.0 1189.3h228.6M989.0 1194.5h228.6M989.0 1199.7h228.6M989.0 1203.6h228.6M989.0 1204.9h228.6M989.0 1208.8h228.6M989.0 1221.8h228.6M989.0 1224.4h228.6M989.0 1234.8h228.6M989.0 1256.9h228.6M989.0 1276.4h228.6M989.0 1285.5h228.6M989.0 1329.7h228.6M989.0 1354.4h228.6M989.0 1423.3h228.6M989.0 1427.2h228.6M989.0 1444.1h228.6M989.0 1446.7h228.6M989.0 1448.0h228.6M989.0 1454.5h228.6M989.0 1475.3h228.6M989.0 1515.6h228.6M989.0 1532.5h228.6M989.0 1535.1h228.6M989.0 1539.0h228.6M989.0 1542.9h228.6M989.0 1548.1h228.6M989.0 1549.4h228.6M989.0 1554.6h228.6M989.0 1563.7h228.6M989.0 1580.6h228.6M989.0 1584.5h228.6M989.0 1597.5h228.6M989.0 1605.3h228.6M989.0 1623.5h228.6M989.0 1632.6h228.6M989.0 1684.6h228.6M989.0 1697.6h228.6M989.0 1715.8h228.6M989.0 1730.1h228.6M989.0 1734.0h228.6M989.0 1750.9h228.6M989.0 1757.4h228.6M989.0 1760.0h228.6M989.0 1786.0h228.6M989.0 1810.7h228.6M989.0 1817.2h228.6M989.0 1828.9h228.6M989.0 1835.4h228.6M989.0 1849.7h228.6M989.0 1851.0h228.6M989.0 1856.2h228.6M989.0 1864.0h228.6M989.0 1880.9h228.6M989.0 1886.1h228.6" stroke="#f6f6f6" stroke-width="1.35" opacity="0.40" fill="none"/>
<path d="M989.0 1036.0h228.6M989.0 1041.1h228.6M989.0 1064.5h228.6M989.0 1072.3h228.6M989.0 1084.0h228.6M989.0 1089.2h228.6M989.0 1099.6h228.6M989.0 1110.0h228.6M989.0 1115.2h228.6M989.0 1119.1h228.6M989.0 1124.3h228.6M989.0 1129.5h228.6M989.0 1133.4h228.6M989.0 1167.2h228.6M989.0 1168.5h228.6M989.0 1175.0h228.6M989.0 1198.4h228.6M989.0 1207.5h228.6M989.0 1227.0h228.6M989.0 1233.5h228.6M989.0 1243.9h228.6M989.0 1275.1h228.6M989.0 1277.7h228.6M989.0 1281.6h228.6M989.0 1282.9h228.6M989.0 1288.1h228.6M989.0 1289.4h228.6M989.0 1292.0h228.6M989.0 1293.3h228.6M989.0 1303.7h228.6M989.0 1305.0h228.6M989.0 1315.4h228.6M989.0 1324.5h228.6M989.0 1341.4h228.6M989.0 1349.2h228.6M989.0 1359.6h228.6M989.0 1363.5h228.6M989.0 1371.3h228.6M989.0 1376.5h228.6M989.0 1385.6h228.6M989.0 1390.8h228.6M989.0 1401.2h228.6M989.0 1402.5h228.6M989.0 1403.8h228.6M989.0 1419.4h228.6M989.0 1455.8h228.6M989.0 1461.0h228.6M989.0 1463.6h228.6M989.0 1481.8h228.6M989.0 1489.6h228.6M989.0 1501.3h228.6M989.0 1514.3h228.6M989.0 1516.9h228.6M989.0 1526.0h228.6M989.0 1527.3h228.6M989.0 1531.2h228.6M989.0 1533.8h228.6M989.0 1536.4h228.6M989.0 1540.3h228.6M989.0 1546.8h228.6M989.0 1550.7h228.6M989.0 1552.0h228.6M989.0 1559.8h228.6M989.0 1581.9h228.6M989.0 1602.7h228.6M989.0 1614.4h228.6M989.0 1636.5h228.6M989.0 1639.1h228.6M989.0 1645.6h228.6M989.0 1656.0h228.6M989.0 1658.6h228.6M989.0 1666.4h228.6M989.0 1674.2h228.6M989.0 1687.2h228.6M989.0 1719.7h228.6M989.0 1724.9h228.6M989.0 1726.2h228.6M989.0 1727.5h228.6M989.0 1736.6h228.6M989.0 1743.1h228.6M989.0 1744.4h228.6M989.0 1771.7h228.6M989.0 1773.0h228.6M989.0 1779.5h228.6M989.0 1806.8h228.6M989.0 1840.6h228.6M989.0 1845.8h228.6M989.0 1867.9h228.6M989.0 1869.2h228.6M989.0 1871.8h228.6M989.0 1888.7h228.6" stroke="#f6f6f6" stroke-width="1.35" opacity="0.52" fill="none"/>
<path d="M989.0 1037.2h228.6M989.0 1050.2h228.6M989.0 1052.8h228.6M989.0 1054.1h228.6M989.0 1055.4h228.6M989.0 1080.1h228.6M989.0 1082.7h228.6M989.0 1091.8h228.6M989.0 1095.7h228.6M989.0 1108.7h228.6M989.0 1121.7h228.6M989.0 1125.6h228.6M989.0 1139.9h228.6M989.0 1141.2h228.6M989.0 1142.5h228.6M989.0 1149.0h228.6M989.0 1162.0h228.6M989.0 1164.6h228.6M989.0 1171.1h228.6M989.0 1173.7h228.6M989.0 1178.9h228.6M989.0 1195.8h228.6M989.0 1219.2h228.6M989.0 1229.6h228.6M989.0 1230.9h228.6M989.0 1236.1h228.6M989.0 1240.0h228.6M989.0 1241.3h228.6M989.0 1246.5h228.6M989.0 1250.4h228.6M989.0 1297.2h228.6M989.0 1299.8h228.6M989.0 1333.6h228.6M989.0 1340.1h228.6M989.0 1345.3h228.6M989.0 1353.1h228.6M989.0 1368.7h228.6M989.0 1370.0h228.6M989.0 1373.9h228.6M989.0 1377.8h228.6M989.0 1379.1h228.6M989.0 1389.5h228.6M989.0 1411.6h228.6M989.0 1416.8h228.6M989.0 1425.9h228.6M989.0 1432.4h228.6M989.0 1433.7h228.6M989.0 1436.3h228.6M989.0 1470.1h228.6M989.0 1471.4h228.6M989.0 1506.5h228.6M989.0 1509.1h228.6M989.0 1510.4h228.6M989.0 1518.2h228.6M989.0 1520.8h228.6M989.0 1568.9h228.6M989.0 1571.5h228.6M989.0 1576.7h228.6M989.0 1578.0h228.6M989.0 1591.0h228.6M989.0 1596.2h228.6M989.0 1611.8h228.6M989.0 1618.3h228.6M989.0 1627.4h228.6M989.0 1667.7h228.6M989.0 1693.7h228.6M989.0 1709.3h228.6M989.0 1718.4h228.6M989.0 1721.0h228.6M989.0 1741.8h228.6M989.0 1763.9h228.6M989.0 1770.4h228.6M989.0 1774.3h228.6M989.0 1784.7h228.6M989.0 1791.2h228.6M989.0 1814.6h228.6M989.0 1827.6h228.6M989.0 1832.8h228.6M989.0 1858.8h228.6M989.0 1887.4h228.6M989.0 1890.0h228.6" stroke="#f6f6f6" stroke-width="1.35" opacity="0.66" fill="none"/>
</g>
<line x1="390.6" y1="1032.7" x2="390.6" y2="1893.0" stroke="#222" stroke-width="1.2"/>
<line x1="458.6" y1="1032.7" x2="458.6" y2="1893.0" stroke="#222" stroke-width="1.2"/>
<line x1="515.9" y1="1032.7" x2="515.9" y2="1893.0" stroke="#222" stroke-width="1.2"/>
<line x1="553.4" y1="1032.7" x2="553.4" y2="1893.0" stroke="#222" stroke-width="1.2"/>
<line x1="597.4" y1="1032.7" x2="597.4" y2="1893.0" stroke="#222" stroke-width="1.2"/>
<line x1="646.7" y1="1032.7" x2="646.7" y2="1893.0" stroke="#222" stroke-width="1.2"/>
<line x1="694.8" y1="1032.7" x2="694.8" y2="1893.0" stroke="#222" stroke-width="1.2"/>
<line x1="729.0" y1="1032.7" x2="729.0" y2="1893.0" stroke="#222" stroke-width="1.2"/>
<line x1="768.1" y1="1032.7" x2="768.1" y2="1893.0" stroke="#222" stroke-width="1.2"/>
<line x1="806.0" y1="1032.7" x2="806.0" y2="1893.0" stroke="#222" stroke-width="1.2"/>
<line x1="858.4" y1="1032.7" x2="858.4" y2="1893.0" stroke="#222" stroke-width="1.2"/>
<line x1="909.9" y1="1032.7" x2="909.9" y2="1893.0" stroke="#222" stroke-width="1.2"/>
<line x1="927.6" y1="1032.7" x2="927.6" y2="1893.0" stroke="#222" stroke-width="1.2"/>
<line x1="959.7" y1="1032.7" x2="959.7" y2="1893.0" stroke="#222" stroke-width="1.2"/>
<line x1="989.0" y1="1032.7" x2="989.0" y2="1893.0" stroke="#222" stroke-width="1.2"/>
<line x1="1030.2" y1="1032.7" x2="1030.2" y2="1893.0" stroke="#222" stroke-width="1.2"/>
<line x1="1083.3" y1="1032.7" x2="1083.3" y2="1893.0" stroke="#222" stroke-width="1.2"/>
<line x1="1098.6" y1="1032.7" x2="1098.6" y2="1893.0" stroke="#222" stroke-width="1.2"/>
<line x1="1160.8" y1="1032.7" x2="1160.8" y2="1893.0" stroke="#222" stroke-width="1.2"/>
<line x1="1187.1" y1="1032.7" x2="1187.1" y2="1893.0" stroke="#222" stroke-width="1.2"/>
<line x1="1196.6" y1="1032.7" x2="1196.6" y2="1893.0" stroke="#222" stroke-width="1.2"/>
<line x1="1217.2" y1="1032.7" x2="1217.2" y2="1893.0" stroke="#555" stroke-width="0.8"/>
<rect x="260.8" y="1032.7" width="33.4" height="415.3" fill="#d9622b"/>
<rect x="260.8" y="1448.0" width="33.4" height="445.0" fill="#4aac7e"/>
<line x1="260.8" x2="294.2" y1="1225.5" y2="1225.5" stroke="#e58a5f" stroke-width="0.8"/>
<line x1="260.8" x2="294.2" y1="1270.4" y2="1270.4" stroke="#e58a5f" stroke-width="0.8"/>
<line x1="260.8" x2="294.2" y1="1481.0" y2="1481.0" stroke="#7cc6a2" stroke-width="0.8"/>
<line x1="260.8" x2="294.2" y1="1525.7" y2="1525.7" stroke="#7cc6a2" stroke-width="0.8"/>
<line x1="260.8" x2="294.2" y1="1735.8" y2="1735.8" stroke="#7cc6a2" stroke-width="0.8"/>
<line x1="260.8" x2="294.2" y1="1780.3" y2="1780.3" stroke="#7cc6a2" stroke-width="0.8"/>
<path d="M29.0 1322.0L29.0 1679.0M29.0 1322.0L235.0 1322.0M29.0 1679.0L165.6 1679.0M235.0 1133.7L235.0 1418.0M235.0 1133.7L244.0 1133.7M235.0 1418.0L246.0 1418.0M244.0 1084.0L244.0 1183.0M244.0 1084.0L248.0 1084.0M244.0 1183.0L248.0 1183.0M246.0 1375.0L246.0 1440.0M246.0 1375.0L250.0 1375.0M246.0 1440.0L250.0 1440.0M247.5 1062.0L247.5 1110.0M247.5 1155.0L247.5 1210.0M248.0 1260.0L248.0 1340.0M165.6 1574.7L165.6 1784.5M165.6 1574.7L242.0 1574.7M165.6 1784.5L221.0 1784.5M221.0 1723.5L221.0 1845.9M221.0 1723.5L247.0 1723.5M221.0 1845.9L235.0 1845.9M235.0 1820.0L235.0 1871.8M235.0 1820.0L247.0 1820.0M235.0 1871.8L247.0 1871.8M242.0 1532.7L242.0 1619.2M242.0 1532.7L248.0 1532.7M242.0 1619.2L248.0 1619.2M245.0 1495.0L245.0 1560.0M246.0 1600.0L246.0 1640.0M247.0 1705.0L247.0 1745.0M247.0 1800.0L247.0 1835.0M247.0 1860.0L247.0 1885.0M247.0 1470.0L247.0 1515.0" fill="none" stroke="#5a5a5a" stroke-width="0.8"/>
<line x1="251.3" y1="1033" x2="251.3" y2="1893" stroke="#444" stroke-width="0.9"/>
<line x1="249.8" y1="1033" x2="249.8" y2="1893" stroke="#777" stroke-width="0.7" stroke-dasharray="14 9 6 12 20 7"/>
<text x="101.8" y="1058.7" text-anchor="middle" font-size="25.7">Modified</text>
<text x="101.8" y="1089.6" text-anchor="middle" font-size="25.7">expression</text>
<defs><linearGradient id="gDiv" x1="0" x2="1" y1="0" y2="0"><stop offset="0" stop-color="#6aaed1"/><stop offset="0.3" stop-color="#86bbd8"/><stop offset="0.42" stop-color="#b9d7e6"/><stop offset="0.5" stop-color="#f6f6f6"/><stop offset="0.58" stop-color="#f0c5b4"/><stop offset="0.72" stop-color="#e8977a"/><stop offset="1" stop-color="#e4825e"/></linearGradient></defs>
<rect x="13.2" y="1103" width="178.4" height="158.4" fill="url(#gDiv)"/>
<text x="11.5" y="1289.4" text-anchor="middle" font-size="26">-1</text>
<text x="101.8" y="1289.4" text-anchor="middle" font-size="26">0</text>
<text x="190.0" y="1289.4" text-anchor="middle" font-size="26">1</text>
<text x="203.1" y="1920.8" font-size="25.5">Prediction</text>
<text x="341.2" y="1920.8" text-anchor="middle" font-size="25.5">1</text>
<text x="423.6" y="1920.8" text-anchor="middle" font-size="25.5">2</text>
<text x="487.4" y="1920.8" text-anchor="middle" font-size="25.5">3</text>
<text x="533.2" y="1920.8" text-anchor="middle" font-size="25.5">4</text>
<text x="575.6" y="1920.8" text-anchor="middle" font-size="25.5">5</text>
<text x="621.6" y="1920.8" text-anchor="middle" font-size="25.5">6</text>
<text x="670.9" y="1920.8" text-anchor="middle" font-size="25.5">7</text>
<text x="711.7" y="1920.8" text-anchor="middle" font-size="25.5">8</text>
<text x="748.3" y="1920.8" text-anchor="middle" font-size="25.5">9</text>
<text x="787.5" y="1920.8" text-anchor="middle" font-size="25.5">10</text>
<text x="832.0" y="1920.8" text-anchor="middle" font-size="25.5">11</text>
<text x="883.5" y="1920.8" text-anchor="middle" font-size="25.5">12</text>
<text x="944.0" y="1920.8" text-anchor="middle" font-size="25.5">14</text>
<text x="975.0" y="1920.8" text-anchor="middle" font-size="25.5">15</text>
<text x="1010.0" y="1920.8" text-anchor="middle" font-size="25.5">16</text>
<text x="1055.3" y="1920.8" text-anchor="middle" font-size="25.5">17</text>
<text x="1090.3" y="1920.8" text-anchor="middle" font-size="25.5">18</text>
<text x="1129.5" y="1920.8" text-anchor="middle" font-size="25.5">19</text>
<text x="1174.0" y="1920.8" text-anchor="middle" font-size="25.5">20</text>
<text x="1208.2" y="1920.8" text-anchor="middle" font-size="25.5">22</text>
<text x="918.1" y="1949" text-anchor="middle" font-size="25.5">13</text>
<text x="1190.4" y="1949" text-anchor="middle" font-size="25.5">21</text>
<line x1="918.1" y1="1894.5" x2="918.1" y2="1926.2" stroke="#111" stroke-width="1.6"/>
<line x1="1192.1" y1="1894.5" x2="1192.1" y2="1926.2" stroke="#111" stroke-width="1.6"/></g>
<g id="panel_d"><rect x="1483" y="1146.3" width="276.3" height="143" fill="#f7f9ec"/>
<rect x="1483" y="1313.2" width="276.3" height="143" fill="#a0a2b4"/>
<rect x="1483" y="1480.0" width="276.3" height="143" fill="#c3e0d2"/>
<rect x="1483" y="1646.9" width="276.3" height="143" fill="#e8b8ae"/>
<rect x="1483" y="1813.8" width="276.3" height="143" fill="#f2e8c4"/>
<rect x="1479.9" y="1120.6" width="280.4" height="866.8" fill="none" stroke="#1a1a1a" stroke-width="2.4"/>
<text x="1464" y="1173.4" text-anchor="end" font-size="29.4">MKI67</text>
<circle cx="1526.0" cy="1164.6" r="1.5" fill="#ffede4" stroke="#222" stroke-width="0.9"/>
<circle cx="1572.7" cy="1164.6" r="3.0" fill="#ffede4" stroke="#222" stroke-width="0.9"/>
<circle cx="1619.4" cy="1164.6" r="0.8" fill="#ffede4" stroke="#222" stroke-width="0.9"/>
<circle cx="1666.0" cy="1164.6" r="1.5" fill="#ffede4" stroke="#222" stroke-width="0.9"/>
<circle cx="1712.5" cy="1164.6" r="18.2" fill="#bc141a" stroke="#222" stroke-width="0.9"/>
<text x="1464" y="1229.0" text-anchor="end" font-size="29.4">TOP2A</text>
<circle cx="1526.0" cy="1220.2" r="2.4" fill="#ffede4" stroke="#222" stroke-width="0.9"/>
<circle cx="1572.7" cy="1220.2" r="4.0" fill="#ffede4" stroke="#222" stroke-width="0.9"/>
<circle cx="1619.4" cy="1220.2" r="1.5" fill="#ffede4" stroke="#222" stroke-width="0.9"/>
<circle cx="1666.0" cy="1220.2" r="2.4" fill="#ffede4" stroke="#222" stroke-width="0.9"/>
<circle cx="1712.5" cy="1220.2" r="18.4" fill="#67000d" stroke="#222" stroke-width="0.9"/>
<text x="1464" y="1284.6" text-anchor="end" font-size="29.4">UBE2C</text>
<circle cx="1526.0" cy="1275.8" r="1.2" fill="#ffede4" stroke="#222" stroke-width="0.9"/>
<circle cx="1572.7" cy="1275.8" r="2.2" fill="#ffede4" stroke="#222" stroke-width="0.9"/>
<circle cx="1619.4" cy="1275.8" r="1.7" fill="#ffede4" stroke="#222" stroke-width="0.9"/>
<circle cx="1666.0" cy="1275.8" r="1.7" fill="#ffede4" stroke="#222" stroke-width="0.9"/>
<circle cx="1712.5" cy="1275.8" r="16.3" fill="#ef3d2d" stroke="#222" stroke-width="0.9"/>
<text x="1464" y="1340.3" text-anchor="end" font-size="29.4">NNAT</text>
<circle cx="1526.0" cy="1331.5" r="7.2" fill="#fdd0bc" stroke="#222" stroke-width="0.9"/>
<circle cx="1572.7" cy="1331.5" r="9.8" fill="#fdcab5" stroke="#222" stroke-width="0.9"/>
<circle cx="1619.4" cy="1331.5" r="8.8" fill="#fb6a4a" stroke="#222" stroke-width="0.9"/>
<circle cx="1666.0" cy="1331.5" r="17.5" fill="#d92623" stroke="#222" stroke-width="0.9"/>
<circle cx="1712.5" cy="1331.5" r="13.4" fill="#fc8464" stroke="#222" stroke-width="0.9"/>
<text x="1464" y="1395.9" text-anchor="end" font-size="29.4">PCP4</text>
<circle cx="1526.0" cy="1387.1" r="5.7" fill="#fed9c8" stroke="#222" stroke-width="0.9"/>
<circle cx="1572.7" cy="1387.1" r="4.5" fill="#fee4d8" stroke="#222" stroke-width="0.9"/>
<circle cx="1619.4" cy="1387.1" r="5.0" fill="#fcab8e" stroke="#222" stroke-width="0.9"/>
<circle cx="1666.0" cy="1387.1" r="7.9" fill="#fdd3c0" stroke="#222" stroke-width="0.9"/>
<circle cx="1712.5" cy="1387.1" r="6.7" fill="#fee4d8" stroke="#222" stroke-width="0.9"/>
<text x="1464" y="1451.5" text-anchor="end" font-size="29.4">CRABP1</text>
<circle cx="1526.0" cy="1442.7" r="5.7" fill="#fee1d3" stroke="#222" stroke-width="0.9"/>
<circle cx="1572.7" cy="1442.7" r="9.1" fill="#fdcab5" stroke="#222" stroke-width="0.9"/>
<circle cx="1619.4" cy="1442.7" r="13.4" fill="#a30e15" stroke="#222" stroke-width="0.9"/>
<circle cx="1666.0" cy="1442.7" r="18.0" fill="#67000d" stroke="#222" stroke-width="0.9"/>
<circle cx="1712.5" cy="1442.7" r="12.9" fill="#f34c37" stroke="#222" stroke-width="0.9"/>
<text x="1464" y="1507.1" text-anchor="end" font-size="29.4">IER2</text>
<circle cx="1526.0" cy="1498.3" r="17.2" fill="#f6573e" stroke="#222" stroke-width="0.9"/>
<circle cx="1572.7" cy="1498.3" r="16.0" fill="#fb7a5a" stroke="#222" stroke-width="0.9"/>
<circle cx="1619.4" cy="1498.3" r="14.1" fill="#67000d" stroke="#222" stroke-width="0.9"/>
<circle cx="1666.0" cy="1498.3" r="16.5" fill="#f96245" stroke="#222" stroke-width="0.9"/>
<circle cx="1712.5" cy="1498.3" r="18.0" fill="#ee3a2b" stroke="#222" stroke-width="0.9"/>
<text x="1464" y="1562.7" text-anchor="end" font-size="29.4">JUNB</text>
<circle cx="1526.0" cy="1553.9" r="16.3" fill="#f34c37" stroke="#222" stroke-width="0.9"/>
<circle cx="1572.7" cy="1553.9" r="15.8" fill="#fb7a5a" stroke="#222" stroke-width="0.9"/>
<circle cx="1619.4" cy="1553.9" r="9.8" fill="#f45039" stroke="#222" stroke-width="0.9"/>
<circle cx="1666.0" cy="1553.9" r="12.0" fill="#fcbba1" stroke="#222" stroke-width="0.9"/>
<circle cx="1712.5" cy="1553.9" r="14.8" fill="#fc8464" stroke="#222" stroke-width="0.9"/>
<text x="1464" y="1618.4" text-anchor="end" font-size="29.4">DUSP1</text>
<circle cx="1526.0" cy="1609.6" r="9.1" fill="#fee1d3" stroke="#222" stroke-width="0.9"/>
<circle cx="1572.7" cy="1609.6" r="9.1" fill="#fee4d8" stroke="#222" stroke-width="0.9"/>
<circle cx="1619.4" cy="1609.6" r="8.6" fill="#fc8464" stroke="#222" stroke-width="0.9"/>
<circle cx="1666.0" cy="1609.6" r="10.5" fill="#fee1d3" stroke="#222" stroke-width="0.9"/>
<circle cx="1712.5" cy="1609.6" r="9.8" fill="#fee4d8" stroke="#222" stroke-width="0.9"/>
<text x="1464" y="1674.0" text-anchor="end" font-size="29.4">SPP1</text>
<circle cx="1526.0" cy="1665.2" r="6.7" fill="#fee4d8" stroke="#222" stroke-width="0.9"/>
<circle cx="1572.7" cy="1665.2" r="16.0" fill="#c2161b" stroke="#222" stroke-width="0.9"/>
<circle cx="1619.4" cy="1665.2" r="8.6" fill="#fc8464" stroke="#222" stroke-width="0.9"/>
<circle cx="1666.0" cy="1665.2" r="10.0" fill="#fee4d8" stroke="#222" stroke-width="0.9"/>
<circle cx="1712.5" cy="1665.2" r="15.3" fill="#ee3a2b" stroke="#222" stroke-width="0.9"/>
<text x="1464" y="1729.6" text-anchor="end" font-size="29.4">TIMP1</text>
<circle cx="1526.0" cy="1720.8" r="17.2" fill="#f96245" stroke="#222" stroke-width="0.9"/>
<circle cx="1572.7" cy="1720.8" r="19.8" fill="#67000d" stroke="#222" stroke-width="0.9"/>
<circle cx="1619.4" cy="1720.8" r="8.6" fill="#fb7a5a" stroke="#222" stroke-width="0.9"/>
<circle cx="1666.0" cy="1720.8" r="9.6" fill="#fee4d8" stroke="#222" stroke-width="0.9"/>
<circle cx="1712.5" cy="1720.8" r="18.4" fill="#bc141a" stroke="#222" stroke-width="0.9"/>
<text x="1464" y="1785.2" text-anchor="end" font-size="29.4">PHLDA2</text>
<circle cx="1526.0" cy="1776.4" r="1.5" fill="#fcab8e" stroke="#222" stroke-width="0.9"/>
<circle cx="1572.7" cy="1776.4" r="9.8" fill="#fdd0bc" stroke="#222" stroke-width="0.9"/>
<circle cx="1619.4" cy="1776.4" r="3.6" fill="#ffede4" stroke="#222" stroke-width="0.9"/>
<circle cx="1666.0" cy="1776.4" r="2.9" fill="#ffede4" stroke="#222" stroke-width="0.9"/>
<circle cx="1712.5" cy="1776.4" r="6.2" fill="#ffede4" stroke="#222" stroke-width="0.9"/>
<text x="1464" y="1840.8" text-anchor="end" font-size="29.4">AQP4</text>
<circle cx="1526.0" cy="1832.0" r="12.0" fill="#fb7a5a" stroke="#222" stroke-width="0.9"/>
<circle cx="1572.7" cy="1832.0" r="3.3" fill="#ffede4" stroke="#222" stroke-width="0.9"/>
<circle cx="1619.4" cy="1832.0" r="0.5" fill="#ffede4" stroke="#222" stroke-width="0.9"/>
<circle cx="1666.0" cy="1832.0" r="0.5" fill="#ffede4" stroke="#222" stroke-width="0.9"/>
<circle cx="1712.5" cy="1832.0" r="3.8" fill="#ffede4" stroke="#222" stroke-width="0.9"/>
<text x="1464" y="1896.5" text-anchor="end" font-size="29.4">GFAP</text>
<circle cx="1526.0" cy="1887.7" r="16.3" fill="#67000d" stroke="#222" stroke-width="0.9"/>
<circle cx="1572.7" cy="1887.7" r="10.3" fill="#fc9070" stroke="#222" stroke-width="0.9"/>
<circle cx="1619.4" cy="1887.7" r="1.4" fill="#fee4d8" stroke="#222" stroke-width="0.9"/>
<circle cx="1666.0" cy="1887.7" r="1.9" fill="#fee4d8" stroke="#222" stroke-width="0.9"/>
<circle cx="1712.5" cy="1887.7" r="8.4" fill="#fcab8e" stroke="#222" stroke-width="0.9"/>
<text x="1464" y="1952.1" text-anchor="end" font-size="29.4">GJA1</text>
<circle cx="1526.0" cy="1943.3" r="14.4" fill="#fb7a5a" stroke="#222" stroke-width="0.9"/>
<circle cx="1572.7" cy="1943.3" r="8.6" fill="#fee4d8" stroke="#222" stroke-width="0.9"/>
<circle cx="1619.4" cy="1943.3" r="1.0" fill="#fcab8e" stroke="#222" stroke-width="0.9"/>
<circle cx="1666.0" cy="1943.3" r="1.0" fill="#fcab8e" stroke="#222" stroke-width="0.9"/>
<circle cx="1712.5" cy="1943.3" r="7.4" fill="#fee8dd" stroke="#222" stroke-width="0.9"/>
<circle cx="1523.0" cy="989.5" r="13.4" fill="#e8cf8a"/>
<text transform="translate(1514.0 1105) rotate(90)" text-anchor="end" font-size="29.3">AC-like</text>
<circle cx="1569.6" cy="963.2" r="13.4" fill="#de745c"/>
<text transform="translate(1560.7 1105) rotate(90)" text-anchor="end" font-size="29.3">MES-like</text>
<circle cx="1616.3" cy="935.9" r="13.4" fill="#87bc9c"/>
<text transform="translate(1607.4 1105) rotate(90)" text-anchor="end" font-size="29.3">OPC-like-3</text>
<circle cx="1662.8" cy="935.9" r="13.4" fill="#3f4260"/>
<text transform="translate(1654.0 1105) rotate(90)" text-anchor="end" font-size="29.3">OPC-like-2</text>
<circle cx="1709.6" cy="987.6" r="13.4" fill="#f2f5e0"/>
<text transform="translate(1700.5 1105) rotate(90)" text-anchor="end" font-size="29.3">Cycling</text>
<text x="1945" y="1667" text-anchor="middle" font-size="29.5">Fraction of cells</text>
<text x="1945" y="1705.2" text-anchor="middle" font-size="29.5">in group (%)</text>
<circle cx="1844.5" cy="1750" r="6.2" fill="#808080" stroke="#333" stroke-width="1"/>
<text x="1844.5" y="1800.2" text-anchor="middle" font-size="29.3">20</text>
<circle cx="1891.0" cy="1750" r="10.5" fill="#808080" stroke="#333" stroke-width="1"/>
<text x="1891.0" y="1800.2" text-anchor="middle" font-size="29.3">40</text>
<circle cx="1937.3" cy="1750" r="14.4" fill="#808080" stroke="#333" stroke-width="1"/>
<text x="1937.3" y="1800.2" text-anchor="middle" font-size="29.3">60</text>
<circle cx="1984.0" cy="1750" r="17.7" fill="#808080" stroke="#333" stroke-width="1"/>
<text x="1984.0" y="1800.2" text-anchor="middle" font-size="29.3">80</text>
<circle cx="2030.3" cy="1750" r="21.0" fill="#808080" stroke="#333" stroke-width="1"/>
<text x="2030.3" y="1800.2" text-anchor="middle" font-size="29.3">100</text>
<text x="1945" y="1864.8" text-anchor="middle" font-size="29.5">Mean expression</text>
<text x="1945" y="1901.7" text-anchor="middle" font-size="29.5">in group</text>
<defs><linearGradient id="gReds" x1="0" x2="1" y1="0" y2="0"><stop offset="0" stop-color="rgb(255,245,240)"/><stop offset="0.125" stop-color="rgb(254,224,210)"/><stop offset="0.25" stop-color="rgb(252,187,161)"/><stop offset="0.375" stop-color="rgb(252,146,114)"/><stop offset="0.5" stop-color="rgb(251,106,74)"/><stop offset="0.625" stop-color="rgb(239,59,44)"/><stop offset="0.75" stop-color="rgb(203,24,29)"/><stop offset="0.875" stop-color="rgb(165,15,21)"/><stop offset="1" stop-color="rgb(103,0,13)"/></linearGradient></defs>
<rect x="1828" y="1919" width="234.7" height="27.7" fill="url(#gReds)" stroke="#222" stroke-width="1.8"/>
<line x1="1828.0" y1="1946.7" x2="1828.0" y2="1956" stroke="#222" stroke-width="1.5"/>
<text x="1828.0" y="1988.3" text-anchor="middle" font-size="29.3">0.0</text>
<line x1="1945.4" y1="1946.7" x2="1945.4" y2="1956" stroke="#222" stroke-width="1.5"/>
<text x="1945.4" y="1988.3" text-anchor="middle" font-size="29.3">0.5</text>
<line x1="2062.7" y1="1946.7" x2="2062.7" y2="1956" stroke="#222" stroke-width="1.5"/>
<text x="2062.7" y="1988.3" text-anchor="middle" font-size="29.3">1.0</text></g>
<g id="panel_e"><rect x="122.4" y="2137.5" width="446.1" height="457.7" fill="#f7fbfd"/>
<rect x="122.40" y="2137.50" width="74.65" height="91.84" fill="#68a8cf"/>
<rect x="196.75" y="2137.50" width="74.65" height="91.84" fill="#f0f6fa"/>
<rect x="271.10" y="2137.50" width="74.65" height="91.84" fill="#8cc0dd"/>
<rect x="122.40" y="2229.04" width="74.65" height="91.84" fill="#c2dcec"/>
<rect x="271.10" y="2229.04" width="74.65" height="91.84" fill="#d8e7f4"/>
<rect x="419.80" y="2229.04" width="74.65" height="91.84" fill="#a8d0e3"/>
<rect x="494.15" y="2229.04" width="74.65" height="91.84" fill="#cde0ee"/>
<rect x="122.40" y="2320.58" width="74.65" height="91.84" fill="#2a4480"/>
<rect x="271.10" y="2320.58" width="74.65" height="91.84" fill="#e6f0f8"/>
<rect x="122.40" y="2412.12" width="74.65" height="91.84" fill="#f1f6fb"/>
<rect x="271.10" y="2412.12" width="74.65" height="91.84" fill="#263568"/>
<rect x="122.40" y="2503.66" width="74.65" height="91.84" fill="#ebf3fa"/>
<rect x="271.10" y="2503.66" width="74.65" height="91.84" fill="#2b3f78"/>
<rect x="122.4" y="2137.5" width="446.1" height="457.7" fill="none" stroke="#444" stroke-width="1.2"/>
<text transform="translate(152.0 2126) rotate(90)" text-anchor="end" font-size="22">Astrocytes</text>
<text transform="translate(226.3 2126) rotate(90)" text-anchor="end" font-size="22">Glial progenitors</text>
<text transform="translate(300.7 2126) rotate(90)" text-anchor="end" font-size="22">OPC</text>
<text transform="translate(375.0 2126) rotate(90)" text-anchor="end" font-size="22">Oligodendrocytes</text>
<text transform="translate(449.4 2126) rotate(90)" text-anchor="end" font-size="22">Proliferating OPC</text>
<text transform="translate(523.7 2126) rotate(90)" text-anchor="end" font-size="22">RGC</text>
<rect x="571.7" y="2137.5" width="446.1" height="457.7" fill="#f7fbfd"/>
<rect x="571.70" y="2137.50" width="74.65" height="91.84" fill="#273469"/>
<rect x="646.05" y="2137.50" width="74.65" height="91.84" fill="#c4d9ec"/>
<rect x="571.70" y="2229.04" width="74.65" height="91.84" fill="#c0dcec"/>
<rect x="646.05" y="2229.04" width="74.65" height="91.84" fill="#2a3b76"/>
<rect x="794.75" y="2229.04" width="74.65" height="91.84" fill="#f2f6fb"/>
<rect x="869.10" y="2229.04" width="74.65" height="91.84" fill="#f4f8fc"/>
<rect x="943.45" y="2229.04" width="74.65" height="91.84" fill="#f2f6fb"/>
<rect x="571.70" y="2320.58" width="74.65" height="91.84" fill="#a9d0e3"/>
<rect x="646.05" y="2320.58" width="74.65" height="91.84" fill="#4a8bc2"/>
<rect x="794.75" y="2320.58" width="74.65" height="91.84" fill="#d0e3f0"/>
<rect x="869.10" y="2320.58" width="74.65" height="91.84" fill="#f2f6fb"/>
<rect x="943.45" y="2320.58" width="74.65" height="91.84" fill="#f2f6fb"/>
<rect x="646.05" y="2412.12" width="74.65" height="91.84" fill="#d9e8f5"/>
<rect x="720.40" y="2412.12" width="74.65" height="91.84" fill="#e6f0f8"/>
<rect x="794.75" y="2412.12" width="74.65" height="91.84" fill="#eaf2f9"/>
<rect x="869.10" y="2412.12" width="74.65" height="91.84" fill="#2e5a9e"/>
<rect x="943.45" y="2412.12" width="74.65" height="91.84" fill="#eaf2f9"/>
<rect x="646.05" y="2503.66" width="74.65" height="91.84" fill="#3866a8"/>
<rect x="720.40" y="2503.66" width="74.65" height="91.84" fill="#edf2fa"/>
<rect x="794.75" y="2503.66" width="74.65" height="91.84" fill="#e0ecf6"/>
<rect x="869.10" y="2503.66" width="74.65" height="91.84" fill="#d3e5f2"/>
<rect x="943.45" y="2503.66" width="74.65" height="91.84" fill="#e3eef7"/>
<rect x="571.7" y="2137.5" width="446.1" height="457.7" fill="none" stroke="#444" stroke-width="1.2"/>
<text transform="translate(601.3 2126) rotate(90)" text-anchor="end" font-size="22">AC-like</text>
<text transform="translate(675.6 2126) rotate(90)" text-anchor="end" font-size="22">MES-like</text>
<text transform="translate(750.0 2126) rotate(90)" text-anchor="end" font-size="22">OC-like</text>
<text transform="translate(824.3 2126) rotate(90)" text-anchor="end" font-size="22">OPC-like-1</text>
<text transform="translate(898.7 2126) rotate(90)" text-anchor="end" font-size="22">OPC-like-2</text>
<text transform="translate(973.0 2126) rotate(90)" text-anchor="end" font-size="22">OPC-like-3</text>
<text x="113.3" y="2188.3" text-anchor="end" font-size="22.1">AC-like</text>
<text x="113.3" y="2279.8" text-anchor="end" font-size="22.1">Cycling</text>
<text x="113.3" y="2371.3" text-anchor="end" font-size="22.1">MES-like</text>
<text x="113.3" y="2462.9" text-anchor="end" font-size="22.1">OPC-like-2</text>
<text x="113.3" y="2554.4" text-anchor="end" font-size="22.1">OPC-like-3</text>
<text x="364.5" y="2641" text-anchor="middle" font-size="29.4">Jessa <tspan font-style="italic">et al.</tspan> 2022</text>
<text x="810.3" y="2641" text-anchor="middle" font-size="29.4">Liu <tspan font-style="italic">et al.</tspan> 2022</text>
<defs><linearGradient id="gBlues" x1="0" x2="1" y1="0" y2="0"><stop offset="0" stop-color="#f7fbfd"/><stop offset="0.25" stop-color="#c6dbef"/><stop offset="0.5" stop-color="#6baed6"/><stop offset="0.75" stop-color="#2e68ad"/><stop offset="1" stop-color="#263568"/></linearGradient></defs>
<rect x="500.5" y="2672.3" width="185.8" height="15.5" fill="url(#gBlues)" stroke="#999" stroke-width="1"/>
<text x="500.5" y="2707.2" text-anchor="middle" font-size="21.8">0</text>
<text x="593.7" y="2707.2" text-anchor="middle" font-size="21.8">Correlation</text>
<text x="686.3" y="2707.2" text-anchor="middle" font-size="21.8">1</text></g>
<g id="panel_f"><path d="M1241.6 2178.0C1246.4 2177.3 1261.7 2175.8 1270.7 2173.7C1279.7 2171.6 1287.2 2170.1 1295.5 2165.6C1303.8 2161.2 1312.0 2154.3 1320.3 2147.1C1328.6 2139.8 1336.8 2129.7 1345.1 2122.3C1353.4 2114.8 1361.6 2107.3 1369.9 2102.4C1378.1 2097.6 1388.0 2094.9 1394.7 2093.1C1401.4 2091.4 1404.0 2091.6 1410.2 2091.9C1416.4 2092.2 1424.1 2092.7 1431.9 2095.0C1439.6 2097.3 1448.4 2101.7 1456.7 2105.5C1464.9 2109.4 1473.2 2114.0 1481.4 2117.9C1489.7 2121.8 1498.0 2125.8 1506.2 2129.1C1514.5 2132.4 1522.8 2135.3 1531.0 2137.8C1539.3 2140.2 1546.5 2142.1 1555.8 2144.0C1565.1 2145.8 1576.5 2147.6 1586.8 2148.9C1597.1 2150.3 1606.4 2151.2 1617.8 2152.0C1629.2 2152.8 1642.6 2153.6 1655.0 2153.9C1667.4 2154.2 1679.8 2154.0 1692.2 2153.9C1704.6 2153.8 1717.0 2153.0 1729.4 2153.3C1741.7 2153.5 1754.1 2154.2 1766.5 2155.1C1778.9 2156.0 1789.3 2157.4 1803.7 2158.8C1818.2 2160.3 1836.8 2162.1 1853.3 2163.8C1869.8 2165.4 1886.4 2167.1 1902.9 2168.7C1919.4 2170.4 1935.9 2172.4 1952.5 2173.7C1969.0 2175.0 1982.9 2176.1 2002.1 2176.8C2021.2 2177.5 2056.3 2177.8 2067.1 2178.0Z" fill="#f2f5e0" stroke="#383838" stroke-width="1.6" stroke-linejoin="round"/>
<line x1="1396.5" y1="2094.8" x2="1396.5" y2="2177.0" stroke="#9a9a9a" stroke-width="1" stroke-dasharray="2.5 1.5"/>
<line x1="1470.9" y1="2114.0" x2="1470.9" y2="2177.0" stroke="#9a9a9a" stroke-width="1" stroke-dasharray="2.5 1.5"/>
<line x1="1654.4" y1="2154.9" x2="1654.4" y2="2177.0" stroke="#9a9a9a" stroke-width="1" stroke-dasharray="2.5 1.5"/>
<line x1="1189.8" y1="2134.0" x2="1201.3" y2="2134.0" stroke="#111" stroke-width="2.4"/>
<text x="1182.8" y="2142.5" text-anchor="end" font-size="26">Cycling</text>
<path d="M1371.7 2286.5C1386.9 2286.4 1440.4 2286.4 1462.9 2285.9C1485.3 2285.4 1492.8 2285.2 1506.2 2283.4C1519.7 2281.6 1531.0 2278.7 1543.4 2275.3C1555.8 2272.0 1568.2 2267.4 1580.6 2263.6C1593.0 2259.7 1606.4 2255.1 1617.8 2252.4C1629.2 2249.7 1638.5 2248.5 1648.8 2247.5C1659.1 2246.4 1668.4 2246.7 1679.8 2246.2C1691.1 2245.7 1704.6 2245.9 1717.0 2244.4C1729.4 2242.8 1741.7 2239.9 1754.1 2236.9C1766.5 2233.9 1780.0 2230.3 1791.3 2226.4C1802.7 2222.5 1813.0 2217.2 1822.3 2213.4C1831.6 2209.5 1839.9 2205.6 1847.1 2203.5C1854.3 2201.3 1859.5 2200.4 1865.7 2200.4C1871.9 2200.4 1877.1 2200.7 1884.3 2203.5C1891.5 2206.2 1899.8 2211.5 1909.1 2217.1C1918.4 2222.7 1929.7 2230.5 1940.1 2236.9C1950.4 2243.3 1960.7 2249.3 1971.1 2255.5C1981.4 2261.7 1992.8 2269.5 2002.1 2274.1C2011.3 2278.8 2018.1 2281.3 2026.8 2283.4C2035.6 2285.5 2050.1 2286.0 2054.7 2286.5Z" fill="#3f4260" stroke="#383838" stroke-width="1.6" stroke-linejoin="round"/>
<line x1="1722.5" y1="2244.7" x2="1722.5" y2="2285.5" stroke="#b8b8c4" stroke-width="1" stroke-dasharray="2.5 1.5"/>
<line x1="1822.9" y1="2213.7" x2="1822.9" y2="2285.5" stroke="#b8b8c4" stroke-width="1" stroke-dasharray="2.5 1.5"/>
<line x1="1883.1" y1="2203.8" x2="1883.1" y2="2285.5" stroke="#b8b8c4" stroke-width="1" stroke-dasharray="2.5 1.5"/>
<line x1="1189.8" y1="2242.5" x2="1201.3" y2="2242.5" stroke="#111" stroke-width="2.4"/>
<text x="1182.8" y="2251.0" text-anchor="end" font-size="26">OPC-like-2</text>
<path d="M1354.4 2394.3C1367.3 2394.2 1406.6 2394.0 1431.9 2393.7C1457.2 2393.4 1485.6 2393.4 1506.2 2392.5C1526.9 2391.6 1539.3 2389.7 1555.8 2388.1C1572.3 2386.6 1589.9 2384.7 1605.4 2383.2C1620.9 2381.6 1634.3 2379.9 1648.8 2378.8C1663.2 2377.8 1678.7 2378.4 1692.2 2377.0C1705.6 2375.5 1718.0 2372.6 1729.4 2370.2C1740.7 2367.7 1750.0 2364.7 1760.3 2362.1C1770.7 2359.5 1781.0 2358.2 1791.3 2354.7C1801.7 2351.2 1812.0 2346.5 1822.3 2341.0C1832.6 2335.6 1844.0 2326.8 1853.3 2321.8C1862.6 2316.9 1870.9 2313.5 1878.1 2311.3C1885.3 2309.1 1888.4 2308.5 1896.7 2308.8C1905.0 2309.1 1918.4 2311.0 1927.7 2313.2C1937.0 2315.3 1944.2 2317.2 1952.5 2321.8C1960.7 2326.5 1969.0 2333.5 1977.3 2341.0C1985.5 2348.6 1993.8 2359.6 2002.1 2367.1C2010.3 2374.5 2019.6 2381.5 2026.8 2385.7C2034.1 2389.8 2039.5 2390.4 2045.4 2391.9C2051.3 2393.3 2059.4 2393.9 2062.2 2394.3Z" fill="#87bc9c" stroke="#383838" stroke-width="1.6" stroke-linejoin="round"/>
<line x1="1794.4" y1="2355.1" x2="1794.4" y2="2393.3" stroke="#a9c9b6" stroke-width="1" stroke-dasharray="2.5 1.5"/>
<line x1="1872.5" y1="2313.5" x2="1872.5" y2="2393.3" stroke="#a9c9b6" stroke-width="1" stroke-dasharray="2.5 1.5"/>
<line x1="1925.8" y1="2314.2" x2="1925.8" y2="2393.3" stroke="#a9c9b6" stroke-width="1" stroke-dasharray="2.5 1.5"/>
<line x1="1189.8" y1="2350.3" x2="1201.3" y2="2350.3" stroke="#111" stroke-width="2.4"/>
<text x="1182.8" y="2358.8" text-anchor="end" font-size="26">OPC-like-3</text>
<path d="M1379.2 2502.8C1388.0 2502.5 1416.9 2502.1 1431.9 2500.9C1446.8 2499.8 1456.7 2497.6 1469.0 2496.0C1481.4 2494.3 1493.8 2492.1 1506.2 2491.0C1518.6 2490.0 1529.0 2490.6 1543.4 2489.8C1557.9 2489.0 1578.5 2487.7 1593.0 2486.1C1607.5 2484.4 1619.9 2483.2 1630.2 2479.9C1640.5 2476.6 1646.7 2471.6 1655.0 2466.2C1663.2 2460.9 1671.5 2453.0 1679.8 2447.6C1688.0 2442.3 1696.3 2437.4 1704.6 2434.0C1712.8 2430.6 1720.1 2428.8 1729.4 2427.2C1738.6 2425.5 1749.0 2425.4 1760.3 2424.1C1771.7 2422.7 1785.1 2420.4 1797.5 2419.1C1809.9 2417.9 1823.4 2416.5 1834.7 2416.7C1846.1 2416.8 1856.4 2417.2 1865.7 2419.8C1875.0 2422.3 1881.2 2427.3 1890.5 2432.1C1899.8 2437.0 1911.2 2443.9 1921.5 2448.9C1931.8 2453.8 1943.2 2457.5 1952.5 2461.9C1961.8 2466.3 1969.0 2470.9 1977.3 2475.5C1985.5 2480.2 1993.8 2486.0 2002.1 2489.8C2010.3 2493.6 2016.5 2496.3 2026.8 2498.5C2037.2 2500.6 2057.8 2502.1 2064.0 2502.8Z" fill="#de745c" stroke="#383838" stroke-width="1.6" stroke-linejoin="round"/>
<line x1="1720.7" y1="2430.0" x2="1720.7" y2="2501.8" stroke="#c9b0aa" stroke-width="1" stroke-dasharray="2.5 1.5"/>
<line x1="1798.8" y1="2420.1" x2="1798.8" y2="2501.8" stroke="#c9b0aa" stroke-width="1" stroke-dasharray="2.5 1.5"/>
<line x1="1873.1" y1="2423.9" x2="1873.1" y2="2501.8" stroke="#c9b0aa" stroke-width="1" stroke-dasharray="2.5 1.5"/>
<line x1="1189.8" y1="2458.8" x2="1201.3" y2="2458.8" stroke="#111" stroke-width="2.4"/>
<text x="1182.8" y="2467.3" text-anchor="end" font-size="26">MES-like</text>
<path d="M1371.7 2611.3C1392.1 2611.2 1458.0 2611.1 1493.8 2610.6C1529.7 2610.2 1564.1 2609.8 1586.8 2608.8C1609.5 2607.7 1616.8 2607.0 1630.2 2604.4C1643.6 2601.9 1655.0 2597.2 1667.4 2593.3C1679.8 2589.4 1692.2 2585.0 1704.6 2580.9C1717.0 2576.8 1730.4 2571.8 1741.7 2568.5C1753.1 2565.2 1763.4 2563.4 1772.7 2561.1C1782.0 2558.7 1789.3 2557.9 1797.5 2554.2C1805.8 2550.6 1814.1 2543.7 1822.3 2539.4C1830.6 2535.0 1839.9 2530.6 1847.1 2528.2C1854.3 2525.8 1857.4 2525.4 1865.7 2525.1C1874.0 2524.8 1886.4 2525.0 1896.7 2526.4C1907.0 2527.7 1918.4 2531.0 1927.7 2533.2C1937.0 2535.3 1945.2 2536.6 1952.5 2539.4C1959.7 2542.2 1964.9 2544.5 1971.1 2549.9C1977.3 2555.3 1983.5 2564.4 1989.7 2571.6C1995.9 2578.8 2002.1 2587.6 2008.2 2593.3C2014.4 2599.0 2020.4 2602.7 2026.8 2605.7C2033.2 2608.7 2043.4 2610.3 2046.7 2611.3Z" fill="#e8cf8a" stroke="#383838" stroke-width="1.6" stroke-linejoin="round"/>
<line x1="1796.9" y1="2555.2" x2="1796.9" y2="2610.3" stroke="#bdb7a4" stroke-width="1" stroke-dasharray="2.5 1.5"/>
<line x1="1864.5" y1="2526.1" x2="1864.5" y2="2610.3" stroke="#bdb7a4" stroke-width="1" stroke-dasharray="2.5 1.5"/>
<line x1="1922.1" y1="2532.9" x2="1922.1" y2="2610.3" stroke="#bdb7a4" stroke-width="1" stroke-dasharray="2.5 1.5"/>
<line x1="1189.8" y1="2567.3" x2="1201.3" y2="2567.3" stroke="#111" stroke-width="2.4"/>
<text x="1182.8" y="2575.8" text-anchor="end" font-size="26">AC-like</text>
<rect x="1201.3" y="2081.4" width="908" height="539.8" fill="none" stroke="#111" stroke-width="2.6"/>
<line x1="1297.4" y1="2621.2" x2="1297.4" y2="2631.5" stroke="#111" stroke-width="2.4"/>
<text x="1297.4" y="2659.6" text-anchor="middle" font-size="26">0.0</text>
<line x1="1439.9" y1="2621.2" x2="1439.9" y2="2631.5" stroke="#111" stroke-width="2.4"/>
<text x="1439.9" y="2659.6" text-anchor="middle" font-size="26">0.2</text>
<line x1="1582.5" y1="2621.2" x2="1582.5" y2="2631.5" stroke="#111" stroke-width="2.4"/>
<text x="1582.5" y="2659.6" text-anchor="middle" font-size="26">0.4</text>
<line x1="1725.0" y1="2621.2" x2="1725.0" y2="2631.5" stroke="#111" stroke-width="2.4"/>
<text x="1725.0" y="2659.6" text-anchor="middle" font-size="26">0.6</text>
<line x1="1867.6" y1="2621.2" x2="1867.6" y2="2631.5" stroke="#111" stroke-width="2.4"/>
<text x="1867.6" y="2659.6" text-anchor="middle" font-size="26">0.8</text>
<line x1="2010.1" y1="2621.2" x2="2010.1" y2="2631.5" stroke="#111" stroke-width="2.4"/>
<text x="2010.1" y="2659.6" text-anchor="middle" font-size="26">1.0</text>
<text x="1653.7" y="2706" text-anchor="middle" font-size="29.5">Mapping score</text></g>
<g id="labels"><text x="1.5" y="39.6" font-size="52.4" font-weight="bold" fill="#000">a</text>
<text x="1191.6" y="39.5" font-size="52.4" font-weight="bold" fill="#000">b</text>
<text x="1.5" y="997.5" font-size="52.4" font-weight="bold" fill="#000">c</text>
<text x="1327.5" y="997.6" font-size="52.4" font-weight="bold" fill="#000">d</text>
<text x="0" y="2056" font-size="52.4" font-weight="bold" fill="#000">e</text>
<text x="1090" y="2052" font-size="52.4" font-weight="bold" fill="#000">f</text></g>
</svg>
</body></html>
